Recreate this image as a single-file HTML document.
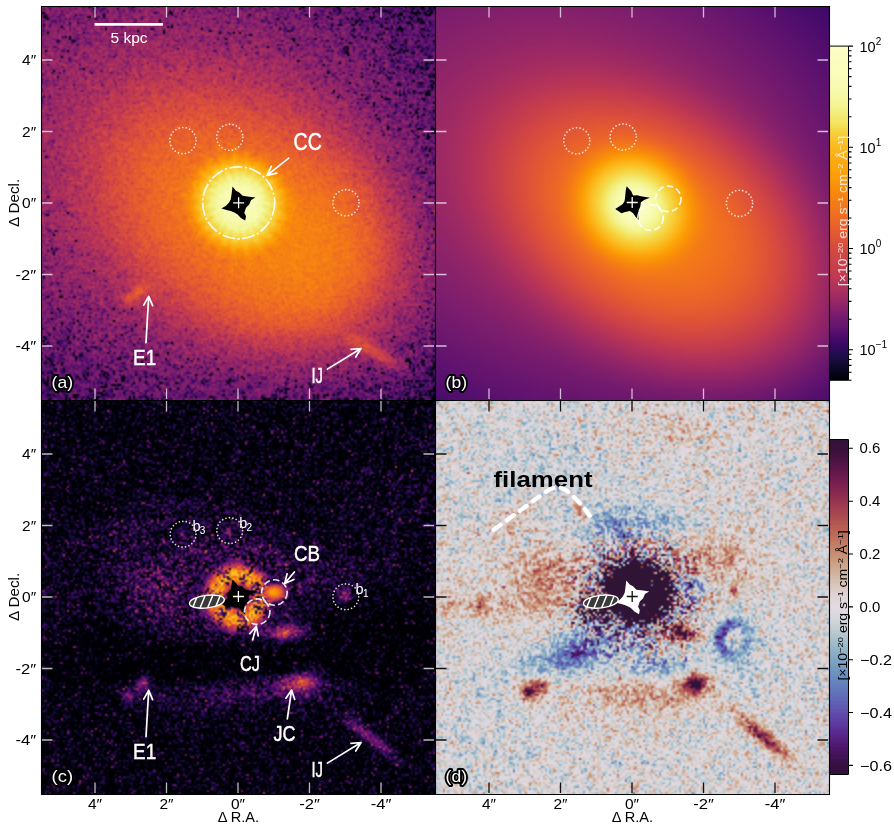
<!DOCTYPE html>
<html><head><meta charset="utf-8"><style>
html,body{margin:0;padding:0;background:#fff;}
body{width:894px;height:825px;overflow:hidden;position:relative;font-family:"Liberation Sans",sans-serif;}
canvas{position:absolute;display:block;}
svg{position:absolute;left:0;top:0;font-family:"Liberation Sans",sans-serif;}
</style></head><body>
<canvas id="ca" width="197" height="197" style="left:41px;top:6px;width:394px;height:394px;background:radial-gradient(ellipse at 50% 50%,#fcfea4 0,#f5d745 6%,#f37719 20%,#bb3754 45%,#6a176e 75%)"></canvas>
<canvas id="cb" width="132" height="132" style="left:435px;top:6px;width:394px;height:394px;background:radial-gradient(ellipse at 50% 50%,#fcfea4 0,#f5d745 6%,#f37719 20%,#bb3754 45%,#6a176e 75%)"></canvas>
<canvas id="cc" width="197" height="197" style="left:41px;top:400px;width:394px;height:394px;background:radial-gradient(circle at 50% 50%,#000 0,#000 3%,#e06a20 5%,#c04050 9%,#3a0a50 18%,#0a0520 35%)"></canvas>
<canvas id="cd" width="197" height="197" style="left:435px;top:400px;width:394px;height:394px;background:radial-gradient(circle at 51% 50%,#2f1337 0,#2f1337 9%,#7080b0 14%,#c8c4d4 22%,#dcd6dc 30%)"></canvas>
<canvas id="cbb" width="1" height="334" style="left:830px;top:46px;width:18px;height:334px;background:linear-gradient(#fcfea4,#f37719 40%,#6a176e 80%,#000)"></canvas>
<canvas id="cbd" width="1" height="335" style="left:830px;top:439px;width:18px;height:335px;background:linear-gradient(#2f1436,#bf735d 25%,#e1d8e1 50%,#6d91bf 70%,#2f1337)"></canvas>
<svg width="894" height="825" viewBox="0 0 894 825"><path d="M41.5,6V795M435.5,6V795M829.5,6V795M41,6.5H830M41,400.5H830M41,794.5H830" stroke="#000" stroke-width="1.1" fill="none"/><path d="M95,7v10.5M95,399v-10.5M42,60h10.5M434,60h-10.5M166.5,7v10.5M166.5,399v-10.5M42,131.5h10.5M434,131.5h-10.5M238,7v10.5M238,399v-10.5M42,203h10.5M434,203h-10.5M309.5,7v10.5M309.5,399v-10.5M42,274.5h10.5M434,274.5h-10.5M381,7v10.5M381,399v-10.5M42,346h10.5M434,346h-10.5" stroke="#f0e4f0" stroke-opacity="0.8" stroke-width="1.3" fill="none"/><path d="M489,7v10.5M489,399v-10.5M436,60h10.5M828,60h-10.5M560.5,7v10.5M560.5,399v-10.5M436,131.5h10.5M828,131.5h-10.5M632,7v10.5M632,399v-10.5M436,203h10.5M828,203h-10.5M703.5,7v10.5M703.5,399v-10.5M436,274.5h10.5M828,274.5h-10.5M775,7v10.5M775,399v-10.5M436,346h10.5M828,346h-10.5" stroke="#f0e4f0" stroke-opacity="0.8" stroke-width="1.3" fill="none"/><path d="M95,401v10.5M95,793v-10.5M42,454h10.5M434,454h-10.5M166.5,401v10.5M166.5,793v-10.5M42,525.5h10.5M434,525.5h-10.5M238,401v10.5M238,793v-10.5M42,597h10.5M434,597h-10.5M309.5,401v10.5M309.5,793v-10.5M42,668.5h10.5M434,668.5h-10.5M381,401v10.5M381,793v-10.5M42,740h10.5M434,740h-10.5" stroke="#e8e8e8" stroke-opacity="0.8" stroke-width="1.3" fill="none"/><path d="M489,401v10.5M489,793v-10.5M436,454h10.5M828,454h-10.5M560.5,401v10.5M560.5,793v-10.5M436,525.5h10.5M828,525.5h-10.5M632,401v10.5M632,793v-10.5M436,597h10.5M828,597h-10.5M703.5,401v10.5M703.5,793v-10.5M436,668.5h10.5M828,668.5h-10.5M775,401v10.5M775,793v-10.5M436,740h10.5M828,740h-10.5" stroke="#111" stroke-opacity="1" stroke-width="1.3" fill="none"/><polygon points="232.5,186.5 235.9,190.7 239.2,192.4 242.6,195.8 249.4,196.7 255.4,197.5 251.1,200.1 249.4,204.3 246.0,207.7 244.3,212.8 246.0,216.2 245.2,220.4 240.9,217.9 237.6,214.5 235.0,212.8 230.8,211.1 227.4,210.2 221.4,208.5 225.7,206.0 229.1,202.6 230.8,199.2 231.6,194.1" fill="#000"/><path d="M233.1,202.8h11M238.6,197.3v11" stroke="#fff" stroke-width="1.3"/><polygon points="626.7,186.2 631.2,191.3 633.1,195.6 637.3,195.3 640.9,196.2 650.0,197.7 644.6,199.8 640.9,202.2 640.3,206.5 638.5,210.7 638.8,219.8 635.5,216.8 633.1,213.2 630.0,211.0 625.2,211.9 621.5,213.2 615.2,208.9 619.1,206.5 622.8,204.1 624.6,201.0 625.2,196.2 625.8,190.1" fill="#000"/><path d="M626.7,202.5h11M632.2,197.0v11" stroke="#fff" stroke-width="1.3"/><polygon points="232.6,579.4 237.3,584.7 239.3,589.3 243.8,588.9 247.5,589.9 257.1,591.5 251.4,593.7 247.5,596.2 246.9,600.7 245.0,605.1 245.3,614.7 241.9,611.5 239.3,607.7 236.1,605.4 231.1,606.4 227.2,607.7 220.6,603.2 224.6,600.7 228.5,598.2 230.4,594.9 231.1,589.9 231.7,583.5" fill="#000"/><path d="M232.9,596.5h11M238.4,591.0v11" stroke="#fff" stroke-width="1.3"/><polygon points="626.3,580.4 629.7,584.6 633.0,586.3 636.4,589.7 643.2,590.6 649.2,591.4 644.9,594.0 643.2,598.2 639.8,601.6 638.1,606.7 639.8,610.1 639.0,614.3 634.7,611.8 631.4,608.4 628.8,606.7 624.6,605.0 621.2,604.1 615.2,602.4 619.5,599.9 622.9,596.5 624.6,593.1 625.4,588.0" fill="#fff"/><path d="M626.7,596.5h11M632.2,591.0v11" stroke="#111" stroke-width="1.3"/><path d="M94.5,24.4H162.9" stroke="#fff" stroke-width="2.7"/><text x="110.6" y="42.7" font-size="14.5" fill="#fff" textLength="37.0" lengthAdjust="spacingAndGlyphs" >5 kpc</text><circle cx="238.7" cy="202.8" r="36" fill="none" stroke="#fff" stroke-opacity="0.9" stroke-width="1.7" stroke-dasharray="13 2.5 2 2.5" stroke-linecap="butt"/><circle cx="183" cy="140.6" r="13.1" fill="none" stroke="#fff" stroke-opacity="0.85" stroke-width="1.7" stroke-dasharray="0.01 3.579" stroke-linecap="round"/><circle cx="229.8" cy="137.3" r="13.1" fill="none" stroke="#fff" stroke-opacity="0.85" stroke-width="1.7" stroke-dasharray="0.01 3.579" stroke-linecap="round"/><circle cx="346" cy="202.8" r="13.1" fill="none" stroke="#fff" stroke-opacity="0.85" stroke-width="1.7" stroke-dasharray="0.01 3.579" stroke-linecap="round"/><text x="293.5" y="150" font-size="23" fill="#fff" textLength="28.3" lengthAdjust="spacingAndGlyphs"  stroke="#fff" stroke-width="0.45">CC</text><path d="M288.7,158.1L267,175.3M271.3,166.3L267,175.3L276.8,173.2" stroke="#fff" stroke-width="1.7" fill="none" stroke-linecap="round" stroke-linejoin="round"/><text x="133.1" y="364.5" font-size="21.5" fill="#fff" textLength="23.1" lengthAdjust="spacingAndGlyphs"  stroke="#fff" stroke-width="0.45">E1</text><path d="M146,342.7L148.7,296.4M152.6,305.6L148.7,296.4L143.7,305.1" stroke="#fff" stroke-width="1.7" fill="none" stroke-linecap="round" stroke-linejoin="round"/><text x="311.5" y="382.6" font-size="21.5" fill="#fff" textLength="11.5" lengthAdjust="spacingAndGlyphs"  stroke="#fff" stroke-width="0.45">IJ</text><path d="M327.4,369.1L361,348.5M355.7,357.0L361,348.5L351.0,349.4" stroke="#fff" stroke-width="1.7" fill="none" stroke-linecap="round" stroke-linejoin="round"/><text x="51.6" y="388" font-size="17" fill="#fff" textLength="21.4" lengthAdjust="spacingAndGlyphs" stroke="#000" stroke-width="3.8" paint-order="stroke" stroke-linejoin="round">(a)</text><circle cx="576.8" cy="140.8" r="13.1" fill="none" stroke="#fff" stroke-opacity="0.85" stroke-width="1.7" stroke-dasharray="0.01 3.579" stroke-linecap="round"/><circle cx="623.2" cy="137" r="13.1" fill="none" stroke="#fff" stroke-opacity="0.85" stroke-width="1.7" stroke-dasharray="0.01 3.579" stroke-linecap="round"/><circle cx="739.5" cy="203.4" r="13.1" fill="none" stroke="#fff" stroke-opacity="0.85" stroke-width="1.7" stroke-dasharray="0.01 3.579" stroke-linecap="round"/><circle cx="668.3" cy="198.8" r="12.75" fill="none" stroke="#fff" stroke-opacity="0.85" stroke-width="1.7" stroke-dasharray="6.5 3.2" stroke-linecap="butt"/><circle cx="650.6" cy="217.6" r="12.75" fill="none" stroke="#fff" stroke-opacity="0.85" stroke-width="1.7" stroke-dasharray="6.5 3.2" stroke-linecap="butt"/><text x="445.6" y="388" font-size="17" fill="#fff" textLength="21.4" lengthAdjust="spacingAndGlyphs" stroke="#000" stroke-width="3.8" paint-order="stroke" stroke-linejoin="round">(b)</text><circle cx="183.1" cy="534.2" r="12.9" fill="none" stroke="#fff" stroke-opacity="0.85" stroke-width="1.7" stroke-dasharray="0.01 3.524" stroke-linecap="round"/><circle cx="229.7" cy="530.6" r="12.9" fill="none" stroke="#fff" stroke-opacity="0.85" stroke-width="1.7" stroke-dasharray="0.01 3.524" stroke-linecap="round"/><circle cx="345.8" cy="596.8" r="12.9" fill="none" stroke="#fff" stroke-opacity="0.85" stroke-width="1.7" stroke-dasharray="0.01 3.524" stroke-linecap="round"/><text x="192.4" y="530.6" font-size="14.5" fill="#fff">b</text><text x="199.70000000000002" y="533.7" font-size="10" fill="#fff">3</text><text x="239.2" y="527.6" font-size="14.5" fill="#fff">b</text><text x="246.5" y="530.7" font-size="10" fill="#fff">2</text><text x="355.6" y="593.5" font-size="14.5" fill="#fff">b</text><text x="362.90000000000003" y="596.6" font-size="10" fill="#fff">1</text><circle cx="274.4" cy="592.5" r="12.75" fill="none" stroke="#fff" stroke-opacity="0.85" stroke-width="1.7" stroke-dasharray="6.5 3.2" stroke-linecap="butt"/><circle cx="257.2" cy="611.7" r="12.75" fill="none" stroke="#fff" stroke-opacity="0.85" stroke-width="1.7" stroke-dasharray="6.5 3.2" stroke-linecap="butt"/><g transform="translate(206.9,601.6) rotate(-7)"><clipPath id="hc206"><ellipse rx="17.5" ry="6.3"/></clipPath><ellipse rx="17.5" ry="6.3" fill="#3a3a3a"/><path clip-path="url(#hc206)" d="M-17,8L-8,-8M-9,8L0,-8M-1,8L8,-8M7,8L16,-8M15,8L24,-8" stroke="#fff" stroke-width="1.5"/><ellipse rx="17.5" ry="6.3" fill="none" stroke="#fff" stroke-width="1.4"/></g><text x="294" y="561.2" font-size="21.5" fill="#fff" textLength="26.0" lengthAdjust="spacingAndGlyphs"  stroke="#fff" stroke-width="0.45">CB</text><path d="M294.4,572L284.7,583.5M287.1,573.8L284.7,583.5L293.9,579.5" stroke="#fff" stroke-width="1.7" fill="none" stroke-linecap="round" stroke-linejoin="round"/><text x="240" y="671" font-size="21.5" fill="#fff" textLength="20.0" lengthAdjust="spacingAndGlyphs"  stroke="#fff" stroke-width="0.45">CJ</text><path d="M252.7,639.8L256.3,626.2M258.3,636.0L256.3,626.2L249.7,633.7" stroke="#fff" stroke-width="1.7" fill="none" stroke-linecap="round" stroke-linejoin="round"/><text x="133.1" y="758.5" font-size="21.5" fill="#fff" textLength="23.1" lengthAdjust="spacingAndGlyphs"  stroke="#fff" stroke-width="0.45">E1</text><path d="M146,736.7L148.7,690.4M152.6,699.6L148.7,690.4L143.7,699.1" stroke="#fff" stroke-width="1.7" fill="none" stroke-linecap="round" stroke-linejoin="round"/><text x="273.5" y="740.7" font-size="21.5" fill="#fff" textLength="22.0" lengthAdjust="spacingAndGlyphs"  stroke="#fff" stroke-width="0.45">JC</text><path d="M287.3,718.9L291.6,690M294.7,699.5L291.6,690L285.9,698.2" stroke="#fff" stroke-width="1.7" fill="none" stroke-linecap="round" stroke-linejoin="round"/><text x="311.5" y="776.6" font-size="21.5" fill="#fff" textLength="11.5" lengthAdjust="spacingAndGlyphs"  stroke="#fff" stroke-width="0.45">IJ</text><path d="M327.4,763.1L361,742.5M355.7,751.0L361,742.5L351.0,743.4" stroke="#fff" stroke-width="1.7" fill="none" stroke-linecap="round" stroke-linejoin="round"/><text x="51.6" y="782" font-size="17" fill="#fff" textLength="21.4" lengthAdjust="spacingAndGlyphs" stroke="#000" stroke-width="3.8" paint-order="stroke" stroke-linejoin="round">(c)</text><g transform="translate(600.9,601.6) rotate(-7)"><clipPath id="hc600"><ellipse rx="17.5" ry="6.3"/></clipPath><ellipse rx="17.5" ry="6.3" fill="#3a3a3a"/><path clip-path="url(#hc600)" d="M-17,8L-8,-8M-9,8L0,-8M-1,8L8,-8M7,8L16,-8M15,8L24,-8" stroke="#fff" stroke-width="1.5"/><ellipse rx="17.5" ry="6.3" fill="none" stroke="#fff" stroke-width="1.4"/></g><text x="493.5" y="487.1" font-size="22.5" fill="#000" textLength="99.0" lengthAdjust="spacingAndGlyphs" font-weight="bold">filament</text><path d="M493.7,529.8 C520,511 538,497 548,490.5 C555,486 562,486.5 568,491.5 C578,500 586,510 593,520.4" stroke="#fff" stroke-width="4.3" fill="none" stroke-dasharray="8.5 7.6" stroke-linecap="round"/><text x="445.6" y="782" font-size="17" fill="#fff" textLength="21.4" lengthAdjust="spacingAndGlyphs" stroke="#000" stroke-width="3.8" paint-order="stroke" stroke-linejoin="round">(d)</text><text x="22.1" y="65" font-size="13.8" fill="#000" textLength="14.1" lengthAdjust="spacingAndGlyphs" >4″</text><text x="22.1" y="459" font-size="13.8" fill="#000" textLength="14.1" lengthAdjust="spacingAndGlyphs" >4″</text><text x="22.1" y="136.5" font-size="13.8" fill="#000" textLength="14.1" lengthAdjust="spacingAndGlyphs" >2″</text><text x="22.1" y="530.5" font-size="13.8" fill="#000" textLength="14.1" lengthAdjust="spacingAndGlyphs" >2″</text><text x="22.1" y="208" font-size="13.8" fill="#000" textLength="14.1" lengthAdjust="spacingAndGlyphs" >0″</text><text x="22.1" y="602" font-size="13.8" fill="#000" textLength="14.1" lengthAdjust="spacingAndGlyphs" >0″</text><text x="15.600000000000001" y="279.5" font-size="13.8" fill="#000" textLength="20.6" lengthAdjust="spacingAndGlyphs" >-2″</text><text x="15.600000000000001" y="673.5" font-size="13.8" fill="#000" textLength="20.6" lengthAdjust="spacingAndGlyphs" >-2″</text><text x="15.600000000000001" y="351" font-size="13.8" fill="#000" textLength="20.6" lengthAdjust="spacingAndGlyphs" >-4″</text><text x="15.600000000000001" y="745" font-size="13.8" fill="#000" textLength="20.6" lengthAdjust="spacingAndGlyphs" >-4″</text><text x="87.95" y="809.3" font-size="13.8" fill="#000" textLength="14.1" lengthAdjust="spacingAndGlyphs" >4″</text><text x="481.95" y="809.3" font-size="13.8" fill="#000" textLength="14.1" lengthAdjust="spacingAndGlyphs" >4″</text><text x="159.45" y="809.3" font-size="13.8" fill="#000" textLength="14.1" lengthAdjust="spacingAndGlyphs" >2″</text><text x="553.45" y="809.3" font-size="13.8" fill="#000" textLength="14.1" lengthAdjust="spacingAndGlyphs" >2″</text><text x="230.95" y="809.3" font-size="13.8" fill="#000" textLength="14.1" lengthAdjust="spacingAndGlyphs" >0″</text><text x="624.95" y="809.3" font-size="13.8" fill="#000" textLength="14.1" lengthAdjust="spacingAndGlyphs" >0″</text><text x="299.2" y="809.3" font-size="13.8" fill="#000" textLength="20.6" lengthAdjust="spacingAndGlyphs" >-2″</text><text x="693.2" y="809.3" font-size="13.8" fill="#000" textLength="20.6" lengthAdjust="spacingAndGlyphs" >-2″</text><text x="370.7" y="809.3" font-size="13.8" fill="#000" textLength="20.6" lengthAdjust="spacingAndGlyphs" >-4″</text><text x="764.7" y="809.3" font-size="13.8" fill="#000" textLength="20.6" lengthAdjust="spacingAndGlyphs" >-4″</text><text x="0" y="0" font-size="14" fill="#000" textLength="48.2" lengthAdjust="spacingAndGlyphs" transform="translate(19.3,227) rotate(-90)">Δ Decl.</text><text x="0" y="0" font-size="14" fill="#000" textLength="48.2" lengthAdjust="spacingAndGlyphs" transform="translate(19.3,621) rotate(-90)">Δ Decl.</text><text x="217.7" y="821.5" font-size="13.8" fill="#000" textLength="41.3" lengthAdjust="spacingAndGlyphs" >Δ R.A.</text><text x="611.7" y="821.5" font-size="13.8" fill="#000" textLength="41.3" lengthAdjust="spacingAndGlyphs" >Δ R.A.</text><path d="M829.5,46.1H848.5V380.3H829.5" stroke="#000" stroke-width="1" fill="none"/><path d="M848.5,380.2h3M848.5,372.2h3M848.5,365.4h3M848.5,359.5h3M848.5,354.3h3M848.5,349.7h4.5M848.5,319.2h3M848.5,301.4h3M848.5,288.8h3M848.5,279.0h3M848.5,271.0h3M848.5,264.2h3M848.5,258.3h3M848.5,253.1h3M848.5,248.5h4.5M848.5,218.0h3M848.5,200.2h3M848.5,187.6h3M848.5,177.8h3M848.5,169.8h3M848.5,163.0h3M848.5,157.1h3M848.5,151.9h3M848.5,147.3h4.5M848.5,116.8h3M848.5,99.0h3M848.5,86.4h3M848.5,76.6h3M848.5,68.6h3M848.5,61.8h3M848.5,55.9h3M848.5,50.7h3M848.5,46.1h4.5" stroke="#000" stroke-width="1.1"/><text x="859.5" y="51.7" font-size="14.5" fill="#000">10<tspan font-size="10" dy="-7">2</tspan></text><text x="859.5" y="152.9" font-size="14.5" fill="#000">10<tspan font-size="10" dy="-7">1</tspan></text><text x="859.5" y="254.1" font-size="14.5" fill="#000">10<tspan font-size="10" dy="-7">0</tspan></text><text x="859.5" y="355.3" font-size="14.5" fill="#000">10<tspan font-size="10" dy="-7">−1</tspan></text><text x="0" y="0" font-size="12" fill="#fff" text-anchor="middle" fill-opacity="0.8" transform="translate(846.6,211) rotate(-90) scale(1.17,1)">[×10<tspan font-size="8" dy="-4">−20</tspan><tspan dy="4"> erg s</tspan><tspan font-size="8" dy="-4">−1</tspan><tspan dy="4"> cm</tspan><tspan font-size="8" dy="-4">−2</tspan><tspan dy="4"> Å</tspan><tspan font-size="8" dy="-4">−1</tspan><tspan dy="4">]</tspan></text><path d="M829.5,439.5H848.5V774.5H829.5" stroke="#000" stroke-width="1" fill="none"/><text x="859.6" y="453.40000000000003" font-size="14" fill="#000" textLength="20.8" lengthAdjust="spacingAndGlyphs" >0.6</text><text x="859.6" y="506.25000000000006" font-size="14" fill="#000" textLength="20.8" lengthAdjust="spacingAndGlyphs" >0.4</text><text x="859.6" y="559.1" font-size="14" fill="#000" textLength="20.8" lengthAdjust="spacingAndGlyphs" >0.2</text><text x="859.6" y="611.95" font-size="14" fill="#000" textLength="20.8" lengthAdjust="spacingAndGlyphs" >0.0</text><text x="860" y="664.8000000000001" font-size="14" fill="#000" textLength="32.0" lengthAdjust="spacingAndGlyphs" >−0.2</text><text x="860" y="717.65" font-size="14" fill="#000" textLength="32.0" lengthAdjust="spacingAndGlyphs" >−0.4</text><text x="860" y="770.5000000000001" font-size="14" fill="#000" textLength="32.0" lengthAdjust="spacingAndGlyphs" >−0.6</text><path d="M848.5,448.3h4.5M848.5,501.2h4.5M848.5,554.0h4.5M848.5,606.9h4.5M848.5,659.7h4.5M848.5,712.5h4.5M848.5,765.4h4.5" stroke="#000" stroke-width="1.1"/><text x="0" y="0" font-size="12" fill="#000" text-anchor="middle" transform="translate(846.6,605.4) rotate(-90) scale(1.17,1)">[×10<tspan font-size="8" dy="-4">−20</tspan><tspan dy="4"> erg s</tspan><tspan font-size="8" dy="-4">−1</tspan><tspan dy="4"> cm</tspan><tspan font-size="8" dy="-4">−2</tspan><tspan dy="4"> Å</tspan><tspan font-size="8" dy="-4">−1</tspan><tspan dy="4">]</tspan></text></svg>
<script>
(function(){
function L(s){var a=new Uint8Array(768);for(var i=0;i<768;i++)a[i]=parseInt(s.substr(i*2,2),16);return a;}
var INF=L("00000401000501010601010802010a02020c02020e03021004031204031405041706041907051b08051d09061f0a07220b07240c08260d08290e092b10092d110a30120a32140b34150b37160b39180c3c190c3e1b0c411c0c431e0c451f0c48210c4a230c4c240c4f260c51280b53290b552b0b572d0b592f0a5b310a5c320a5e340a5f3609613809623909633b09643d09653e0966400a67420a68440a68450a69470b6a490b6a4a0c6b4c0c6b4d0d6c4f0d6c510e6c520e6d540f6d550f6d57106e59106e5a116e5c126e5d126e5f136e61136e62146e64156e65156e67166e69166e6a176e6c186e6d186e6f196e71196e721a6e741a6e751b6e771c6d781c6d7a1d6d7c1d6d7d1e6d7f1e6c801f6c82206c84206b85216b87216b88226a8a226a8c23698d23698f24699025689225689326679526679727669827669a28659b29649d29649f2a63a02a63a22b62a32c61a52c60a62d60a82e5fa92e5eab2f5ead305dae305cb0315bb1325ab3325ab43359b63458b73557b93556ba3655bc3754bd3853bf3952c03a51c13a50c33b4fc43c4ec63d4dc73e4cc83f4bca404acb4149cc4248ce4347cf4446d04545d24644d34743d44842d54a41d74b3fd84c3ed94d3dda4e3cdb503bdd513ade5238df5337e05536e15635e25734e35933e45a31e55c30e65d2fe75e2ee8602de9612bea632aeb6429eb6628ec6726ed6925ee6a24ef6c23ef6e21f06f20f1711ff1731df2741cf3761bf37819f47918f57b17f57d15f67e14f68013f78212f78410f8850ff8870ef8890cf98b0bf98c0af98e09fa9008fa9207fa9407fb9606fb9706fb9906fb9b06fb9d07fc9f07fca108fca309fca50afca60cfca80dfcaa0ffcac11fcae12fcb014fcb216fcb418fbb61afbb81dfbba1ffbbc21fbbe23fac026fac228fac42afac62df9c72ff9c932f9cb35f8cd37f8cf3af7d13df7d340f6d543f6d746f5d94af5db4ef4de52f4e058f4e25df4e563f4e768f3e86ef3ea74f4ed7af3ef7ff3f085f3f28bf4f491f5f596f5f79cf6f7a2f6f8a7f7faacf8fbb1f9fbb5fafcbafbfcbefcfdc2fdfec5"),TWI=L("30143731133932123a33113c34113e3511403611423711443911463a11493c114b3d114e3f125141125442125744135a46145e4714614915644b16684c176b4e186f4f1972511a75521c79531e7c551f7f56218257238557258858278b59298e5a2b905a2e935b30955b32985c359a5c379c5d3a9e5d3ca05d3ea15d41a35e43a55e46a65e48a85e4ba95e4dab5e4fac5e52ad5e54ae5f57b05f59b15f5bb25f5eb35f60b45f62b45f65b56067b66069b7606cb8606eb86170b96172ba6275ba6277bb6379bb637bbc647dbc657fbd6682bd6684bd6786be6888be698abf6b8cbf6c8ebf6d90c06e92c07094c07196c17398c1759ac1769cc1789ec27aa0c27ca2c27ea4c380a5c382a7c385a9c487abc489adc58cafc58eb1c591b2c693b4c696b6c799b8c89cb9c89ebbc9a1bdc9a4becaa7c0cbaac2ccadc3cdb0c5cdb3c6ceb6c8cfb9c9d0bccbd1bfccd3c2ced4c5cfd5c8d0d6cbd2d7cdd3d8d0d4d9d2d5dbd4d6dcd6d7ddd8d8dedad8dfdcd9dfddd9e0ded9e1e0d9e2e1d9e2e2d9e2e2d9e1e2d9e0e1d8dfe1d8dde0d7dbe0d6dadfd5d8dfd4d6ded3d3ddd1d1ddd0cedccecbdbccc8dacbc5d9c9c2d8c7bed8c5bbd7c3b8d6c1b4d5bfb1d4bdadd3baaad2b8a7d1b6a3d1b4a0d0b29ccfaf99cfad96ceab92cda88fcda68ccca389cca186cb9f83ca9c80ca9a7dc9977bc99578c89275c89073c78e71c68b6ec6896cc5866ac58468c48166c37f64c27c63c27a61c1775fc0755ebf725dbe705bbd6e5abc6b59bb6958ba6657b96456b86255b75f55b65d54b55b53b35953b25652b15452af5251ae5051ac4d51ab4b50a94950a84750a64550a54350a34150a13f50a03d509e3b509c39509a3750983550963350943150922f50902e508e2c508c2a508a29508727508526508325508023507e22507b2150792050761f4f741e4f711d4f6f1c4e6c1b4e691a4d67194c64194b61184b5f174a5c17495916485716475415465215454f14444d14434a134248134146124043123e41123d3f123d3d113c3b113b3a113a3811393611393511383412383312373113373014372f1436");
function dec(b){var s=atob(b),a=new Uint8Array(s.length);for(var i=0;i<s.length;i++)a[i]=s.charCodeAt(i);return a;}
function draw(id,b64,lut,n){var c=document.getElementById(id),x=c.getContext('2d'),d=dec(b64),im=x.createImageData(n,n),p=im.data;
for(var i=0;i<n*n;i++){var k=d[i]*3;p[i*4]=lut[k];p[i*4+1]=lut[k+1];p[i*4+2]=lut[k+2];p[i*4+3]=255;}x.putImageData(im,0,0);}
draw('ca',"WWZmTkxMX1hfJWhZYFZQYGNUV2JHK11IAENJOCdZZFRLYWZYZGhVTGBgaEFJQiFcYlNtaGZkaERjZDVfWWZXXF9PYlxiU2plWWVsbjhmY1lJaEJjaTNRNl1ucCVNY2xfS1pZUkZcW1VONFJkUi9lXmxYSDFlcEpCWD9KS1VfU19LTQAAWENYWWFbW0o6NTklOUZLOgA8TVlQNjZgU2BhNkxOTElGQQA1JjwzSU5FQz0tNSxAOkUARxsPKiE6HQAHSjYAKgBqOV1dNVpkXl1iXFxYYEhhU0VgbWVQYVNVVQBVQkcwLkZlbmBnWiBaYVViYkgzUlhaZ29bZ2pnZ1pncWhXZmtiVGtIZF1Ial9JZFUuTF5lYFxiWmhgX19FT2phU11SX05aNmZRK1FQWUJddkRXTlgaPFtXZk5bb0c/UFBeU0RVbmEAQzNWTWVfXFJOUVxSRltPSDA1KABUU0hWTksAP1JcXlgXAElETjs9AEEyQ0U7QD1LRC4sUjhKQBweNzlAABI3SQAyGFtHXWtcXl1MX1dHV1ZhWVZpaGpkW1NYZl08UTdaPDpYVzVocEhtUlFYQGtkTlM4V2Y4V2BsbVlVX1Zba3FkX2IcWE50Z19XAGVuUmRjQmdtYVxjQFpnSGVQJ1VHXkllTV1MVmhbUEBlYlZdP0RGW1pHXmFaYFJWWFJcPWJETS5eZF5ZGjxEQF9VTVU2MzZUVFNYGTdGAD5XWVhIRVM9S1hCN0BJS0ZHABw8IgAAFjAZRFVATj4WLRxDAEk/AEJNGkAAKgA7AQBab1RhWVJjaUBeX0VsblJrXllqXmBubGU4M2ZNWEFVSG1RWV5pQFpZZGNWYFhjXlVdZnVcY2wsJkRfdWhrVwAAZmJIaT9obldLZk5kTmZfVU9bM1ZWZElsWEhqbVlJV0tWbWFcXlpjY1NccV1bblhEYEVMWVBGR0tgR0tnTGRkTyxTV1tSYV81Xk88RWRbDElFQzcQUjNCOzhTTy4lPlJHSD9ARABVKzJURDspAD9OLE4PGUQ7RCUAAAAAADwTAFIRAEljLBpGY1NJWGU+TUFwcGhcXiJbPT5OVmJjYkxiW2dLAFNyZlxoZ2NSXmFTTF9paGdodmRrdGJkbG9jYl9Qa1w2UylLWlBpQ2Job2liXGFoV2RdYF5xV2NhZGRiZkZaQlxESlxsZGFpRAZQVWlxSnFtY15wWE1XN1hSWFo9YUhcLFZCT0IALVJZJAA1Rz09W1lUOExGJ1ZOQVpWV1pTGzlTNkVNWlZSO1JLQFZKM1A6RAA2GAAAVjtASTU7ADQtQDoAAABBQl4AAD5ST1xVQEJZWVxyWVpHUWFgWF9dFABxZlgrRmYAU2liZ2F0UD9ibl9oV0tucXFcQ0tgaGVIY2FhXl1oYF9VYlsqY15nX2FlYFY/cEZZZmVmaG5ldlBgWFVjbFNNZWRvaGBXYFg5VVhUVm1jZlJBU15RU2FVQk1IUzhSXVU6RlBbXUwyYVdTTTFGUVxMAEJPXlpnYV5WJlNUPlFMO0FAST9OAC4AOUxBQEVTI0kAJ0AdO0gSNzAAKiZLHk8wVEE+RkpQbE0sAE5gXVlRSlRcNGI8WE5TREVVTXJUSlRHAFJfQFdFXGRmYlZmVmNpXEplS05MalwlaHZ0WV9nbGFJaWdKWWNiZ2doXkpocHViYG9wY2dXZlRbXlcvTWBeV2RnZ09eWlA4Vk5xXFVXbU1XT1hYYzRWalJSQABRY0wXVlhiYVJWImBYYF5PSzcASFA4WVBPPQlYV05CREg4AFEFPT5FAFRRUlYfAENWVDc/QgAhMlUyVTwAWCJIVCUASDwAASVJNERRT1BnNmZcVj8tPVY8S05iWVZpWmJEXV1cV0xWVmhmS2NYYlNDa2RHLFVKW2lvXm9tVTdranZybnJTYmBzZwBsWGZZZWlkVm9pYGhddGdmZlNPY2RwZVBmamphSmtWZEJkUWxxakFHS2ZiXmBlZW1dWyA3SD1cZFJLTFdOW1tbX1hcaVZdVk1NQ1FDSV1PX1NcQ1NqWlxVWiQzUFQ+Qz1CBAI8ACQyJkYtQCMsSUc4QUJDWDVJQzEYRkE7NTcdOAAoACdENChAMlRNamRdQF0+XEdrOmhjJlptaS5PRkdRbmBYWWdlUmpMWGVxXmJrZWtqZWprY282TW9mWWdtX2lhYGJsSFtmSj9mYF9iVXlUVkBdb2RoWXFkTGleZmRkYE9Aal1iVR5FbVVXNlFUWFpQUlxfXG1fWVJkQClIXj5lVjNRakY5XGZkUFhZY2pSYU5VOD1XQVxFTU5DT15sJkpGOE41Q1QAR0oiS0o8VR1MOyA5OEwHNzlWIUsAQDhEIgAASz4nRBwDAEtTDzlHbQBcYDRdXmFTXE9gXlU3bGxnTldtZkxeXlhPbWhaPFJdaV9rYE4AQTtbZnBhVXVmYFtHZ2hyb21uXltfSl9eZV8nYW87WF5LVl9LZWVKY21eaGdfbGZSZWppVWdtYm1vYmRZaV5UWl1hYUhPYmNgdGpaYWhgKltbbDBoV2BTWmVaY1NOVEpUYjQVTWZgYmBETAA/VyQAJFBeaV0OAEpYDTY9R0NSVUpTXScUTltKUz5QOEpGSlZPL0kATmBLRUFHNEgwLjxaMW9fOGhfYmRLAFhja1BeY11dY1RuUWBbVmdvcmlZakVkaGlORm9ZNk1jcWZvamttYGdeW2tZYlhiX3BmZnIARgBha2tlXHNoX1FoXl1mZlVuVE1lZWNgZFhAZ1VfamZ4S1RmblxGaVVcZ1JXY1xgTllDPG5iZUVaTzleT04wY2FbSE1iUFpZOmEWU08sVVdONVVdUWFcWl9FRFFQX1xMSUM9OlU+Pkg/OgBIPkRIAF9HQABISDpGVDIoVUc/WUI4QDU+Pk5VYmJjaGJlWFpmOWV6QGxCY3FwUUVEZ15iZWdrY0dtAG1cXlpbYl5Pal1xYVxobVRgclZXZE4KOWdsbWlPbW5abGFpaU9yXmJcaGtmc2lcAF1dUlNpcXZwWGFPaWZcYGBZb3xtbGFfc15lX2dgZEZZa0pRa2ZmBlk4MV1kLDlOVENuYFFPbm5PW2A7R2BGSSw5WEAlR2RURU5TSgBOTFUoVjkAWT1NRVZXVU8AAEAgTEEAAAAfOEtTHTFVTjwAADgqUz4/P0FNTFlhYWhCX2JtXWRSZGFVWmNkRmZdc3BbWXdrZl9fa2hYb2RVbmFsXGZIZUpjA19uanBXc3NPVlxlZQBpYldwYnJsYnJtX0NdbWZ2amdoW2FWBUBrYmA9WGplW29iWmxIZVFTV2FkZGVvcmhoVk1lXmRAc0lbZzhGDywaV1xTZmtZUVNUZlhPVFhMV1RjXyxMWUhYWFtNU1IZIzVfUVBNODJURFxMSkFGRVtgJUROJiYrAEY/P0JEW0hNLTsvNBgiQkleTlsAZV1jalhpW2VaZG1YVFlkeFgmUj5YYVBRQWFbcG1YXGNqR2F1Y2ZjVWxoZm1oRGpcaFhccWRfYGZkBVZjbnReeGptYGJzZGd0d1NmaXh7amxucWZuWQBKaGspOl0AaWwAaWJvZ1xjbmdiSmZkcWFdWGVeVW5xVUlnUnNeZEVcaV9UcmNYUFJmTlVNZFdhWktbXz5ec1JYM1BDWU0yXUs3STlQTERQJVEAXE8/Nk8/PlQ1PkpSQUVFTlUpNz1KUT1CT0NQV1tiW3FaXm5oYGNrYmdVXj9UUWteZFVgX1dpSGx7X2JLYUhpXkVLSWRuYFBaZS5qazFvS2NxSjlSWWVeXl9mXWpoXHhXbWFrbXF2X35tXFd7d2lxdGhfY25kVWk/Wm5oaGVvYDtiACdyblxdY2tXT1NfYltnUV5PSWlXTVpMYGVmR1duWWdpQWVgYmlfWV1QVhRkSFpaVFJMFj1bNjJlXl9MUFZVRQguHVpGREtCTDIEWjA0LzVCTCNCMU0MOkcGOjshWWdgWFxjbWlocUA0FmUAXmZETltnSWNpY2VvZGRda2NqZm5bY2pqb2ptd29UTWxjZ2d1cVpnYVNqZW18d3JjWnNkZ2VrfWZjaWpTQ2JjX1dTXmZPXmtlUFxmbUlnX2ZtWFZja1tGU2hsW19gXVFYZWFfSlVUam5ib1pURFtPWV5VQVhWWWBTVmphV0RNXWNtU1ROT0o5WlRfR1JUACZUSwA5KkFdQ2FHNVpTXWBYWAArSEZPO1RbTFBKTkYyQz0APjk/L0NkVGFnZlFPXE50VVBkVwBXTFA6UV9dS1ZUY2BOZ1hlVmZjZGpqZ2VQXy4rYGRzb3FlbHRva2pXV1NqZmNtYnN5b2BSeG1bcUtfZmFYe2drZEZdanBja2ZqJWpeWQBRbnpdWWlnXF9eam50bmtla1h1aW9YamVcVVJwa2FeUBkBTlVAYmBYMFJUORFqX09oZFxZX2RTT1cATkhNTVZNS0xSQ1cCS1IdQVhGLQBKTlJhQ0IuQENPSy04VSxNV0hEU0M5OU5JUldXV2FWZ2JKADVsYGNYYBwANF9oZ19KZ11iYlxcWE1lZW5EcGZhV1ZHbGNwcGJmZXNsbHFreWB1dl5ybnJZbF9nd2dCTVdzXVBzbW5ldmdCUlpocF9lemtgZ1NrbV9xZmhaWEdlYV9PTF1ralxqdGl2am5da1BhWC9JamVqXABYU1BVTUhmXktOYmBYO004GF5SSz1eaVhcMlBSYVA4SEdfWU9RVz8rAFdRT0lbNlcsMRFAPUowAEpXTkFDADRRRSFIPkYAUWFiZV5eZWc4V19jakxlLk5VWVlbW1o7QVtqcX1mV2dsZlFlZFJTbzJoZnZwXnRne3lrcmxjc3B1dnp2aWtuZml8cnlgaGRkZWpoe3FiZHFvY3FTYnY4ZXJmWlkyTGdiaGdpRWBfYVQta3B6b3VsXmlUZV9VbWxlZ29eRVNlXEBnYGxoU1pNRlFgZ0xfVVRhVGVNQVowMVFSSgArWFc7UFRbRV1MX1gyRVBYID9PTSgnRitGUD0AU1dZTgBRRk88ODxTRDFGYV9ia2hfYWFqamNYaWpSZVolYW1ZWmxQUmJtbmFiZ2FYUm1ofm9fZmttb21ocnxpZ3N4dHdranN1e3lQcWNEbmtmWl1oVGpsa25sWlpsdm5mbEhaZ2ZmZ1dhaEFQZXdzeHViYVhzbm1vbWlqcVlRY2xmYGpjN0swW1tlcldeTwBLUV5LQGBXRktUY2g+YllaY0ZbN0dCZWVcV0hkZFtMRk5eO05jXWBVVFxVSzwNVj42TysKMDlKTlJBQzwuRUlXSDBHNm5EUlZkXT41YXFyXWVXTG5rXlxtamBpZl9ebmBYdnVvaGdPaGxpbWBpU2hgVmVrZ3NldnNoeVxwbnRaXV9tbWxqY1VlcHZpdWFyYG1dXGV4aXJvbW9yXGtuZG5hbl5mc3VmY3EdcnZec2xqMl1kYGBfAGBaYlteY3FYcF9PPWZEZGBQUmBeZVpSXkZkWz5ETShmYkVUZlg4ABNgVjRaS0NDR2E5Rl9fQWNaLF4lTRkAT0tFRDs7HEpDOzE2ADEfTycsO0pEY3JdZHhXaGJJWmhDXmleZ1lYWGFsaXdua3loWWVeb3VvY2RtdGNlc25ubV5mdGtob3CAZW59bnBbdXZ1bHBtdm5zXGcqbXZugGVoZGZnVmN9bnRda3JnZGtsdnZZOmZsdHZme2pQcm1tTmRoZHB1dnRkdWpsX0QYYlZiajcuYWFcUztYUmJoVl9fZWxlYWBOU1xmZ21ETgA4DGJcNVZdZFtPTVdVQitYQ0hVTFYyTgUAJEQpDFEhPEY1Rkw+TiMcOxhCOS1oZgBaZmdZTmJnLzlTAFdrUmFXam9xaXJrZHRganxxYGxiZVJpUGxxdH1UVVtmdGhjWWdnaltsc3Bhd3hvXVdvYl92enV7eWF7cnZ9dnxvamhrVWptZzs9cWZ4Zm1UYWp0e3RYaWdjcHhkdHRaeXlueGtzbVxmYFZOUExsMl5XS2VUaV9hXGVoVV1uWWxWTSZDH01hVkY3OQ8oaVk+XGRISikdYm8+AF9cVV5FT1RDTUBKQwA9ABwATjU0VU84AEQ2NEgtOmtoU29vdWJjbmdiXl5UWmhcRmZ2ckBZbWpnZ2hbc11neHRpaGFeaHdodG9vZ3JwbmVHcXVpanBkdnZ5d1hzbXp6eHOFcmd4YIB8fX11Y2h1b3RnZXN1bl5YfmNgZXRkcnJgbVprc2VeZ2duOT1ua2hsZGFobWplWGJKV2Vhb2tkXV9ib2RSUWpOXmBnUl5dY2dYVGM5UzsrEABeYFVgVUE3V1lgREIkW1pXTUhGVztVSCgAKEEZTFVNAABRVztGNypLNExYY3NOamV5ZVlxS2NacWRsZFA4dWtWXm5TemhmdWpfcW51X1dvYDpkcmZ4Z2hUY2pzcnVNbGtibGRzbXRoe3h/c25ybGpycGtsaHJlgHN4YnVye3hceWF7b2B3b19kcVpkfWdwcXd1N2R1ZHtsV3B5Ym1aXmdtbGx6VzZnZkxyV0pmanRIRVlZXU02VGRjUl9fVVJcdFpHT0lfADpfWldaLlMwLlc8SFM3V2ZMWFYlCUMAQ0tMTlhBWE9JPFE3TVMwHCU3RVB1c2RdTmxoXWVdAF9qYVJkbHd0bWROXk5pc3V0a3JnSGxoS2AtY3doeHFkUXVyXGx6aXFTZXVgWl1qWm94gHN/eXN4f4B7cnp2dXaCaXFken1+cXN4c3Z0dHJ1YGlda2V3emBldH11cW1mcXJrYlVbYlVpVGRtcWxyW15vVmBBbWtYQ2Nkb3NjXVpXP0tWMTxmUGVpXWNVSFVUVFZRYVFJXDdNY1VgSkBMQkJEWE5DPGlJWiY0WCcuQjI8S1FHSlVVMgAcUV1ZXW9jXVhYe2RjYXBUK1tremhbZFpbZ2tldGltZ29xcWJwZmt2e2pib3lsgVt9fHppfH19c298dm1nc2R4c2V4f3hnb3toc390bn2Bd2JgcFpyekdwd3B3en6Gd2ViYnZ1dnR/fHlnaFhmblxle2hUVmlya3NtXHJld2NgXmBqYW1pcmZwcGJ3cWZYWF5dRFlRbWducmNuXl5BVmVeTlRGQTBhX1IpSGQoQUZZNUsvQyhNOTxXT2FSSUlkWUFIPE43MkdVbG1iK2BjbXVvSWVjbWM0VWJGY2RyaGBnaXJcQ4B0bn9fYWhxa3VvenNXbV9wcoJyXW9qgn1+cWl1YmRscF9VfXF1e3htc4OBfoNcdnNed3l2WnJ3cHZ6gHmIeXp6c3B8VFeCe3l2c2VqYXl1cHJwYHpya3J4eHNyaXZ1cVVtbm4APmVYZmRsWVRnWkE0eF5XIEVbYWROYWhSVBdBOF1VZ1pdWVQ/ZUsAPzJcXGNmPQAnSAAwUjJBOl5gLDFGT0tPUlRaRDdkeG9qc3R7YGlvcGRQYl1nc29aW251bGxUZWBtamBccGZ4cW53ZHdqdmdhTnB1ZoBxaIB0f0yEeHZ2Z317dmxneH14dHJ+g3dxiGR3d4B0XmZ1dW1tYWNwbnVqgGJ6eoJ+Ynd8fXdtfHBrcWtoc4RxbmhwX3JwbXBocnBvaHJnc2NxaWFUaWdiZmJPSWNkcHJnZGRdTABiZFhbY2NZVGBjbEhYQUdsSkhEWEYeVFxMSTQ0Qyg+K0BRSVhLPiRDI0wAAB8APVVeaTNganFmXXBxe3poc2lccXM5dGV4bW13a3xfY1xxbXd6eHp5cGZldmhjZW90cWd1VHKAd4F3e3dxfH9cZU9qZm90gIJycnxwbmJ9e2pfZ3pwaHN9gYF4eHp8eWxtcHptan1/aXF7b3dfbHh9elRRYnV1eHNmZl1xVmlsdF5pV29gXk9XVVpsT2JoSAxhOU9cYFZNY2FsSVNWX1tWa1ZcVkdZCF4TR05CQF1qXk03MlhWWllZNyokREJAAEJMPgAxNEw8Z11nbF9mZ2pjaUZjcW1ZXGptbmVqcF5VcmRwZFx5altqbG9yY250dW9lVXtibnV4cWxyhYl3emB3fXWFgXpJbn1yXnGFgYF9hUpphoJ7dF5zdnGCgXeBeXpyiGp2f35kaHJqbnFwemF6cnRvgl96aWp6bnh8an15am1gbXN0aV9aWGFrWFRPZ15FbG1dWV1MaG1pYV1jbFJWSz5cZEZjX1tjSGNNWSVbUjw0UGFWRTQoPgBAWEg9N05QVy4NJwE6JRg+UUpbZGZrXU9jV15jbV1oZGBwZG1rQUIAaWxjYmZkbGtheXdsg4R8e2xuW2t5cVqAhoFkem53f4Nzcml4bXeAenh8gINrZH+Ch4OIfHSDdHR8d4F5h3OBd4R3fjJwg3t7gYhtdHR9bl5id3h6XmVweHduZnNpeH9vZYB0cm1tbGxQXmRoaWpBUllmY3RhXkhxYllUX1xqUFJVYmBkXl9aYl9cMUw/JGJkXltiHVkAUE9WVVU6LjBKPAZRHjYtLEoqACYIAE9SAHN0TmliZwBoYGlvJGRocHRxYHFhcGVqbE1hW3V5WD9wamaCbmZudH91ZG6BX3aBfHJteX18gXuDe4B4h4aAc3tPeHxzfYOLfmpce4SFfnVzen2Cf4p9gIODcGZtfn9+gYJzi4x/dHVmdm1zcoNtdW9/elpmdGlyb2Fpc2tucGl2W21ibXBub25pZW1ubGdiF0lcamtfSWBmZU9ER0NkYG5oYklaWi8tRV9CKEpWM2FCWVY5RklBUEgAPws+SEBOQTVYUD49XWNWdnEwTWRZN2xSbnB3YnlbeHVvXXp1Th5gZHZwb2x4altBdGpXaG95UnB7fICHcG+Chn13b4B+cXR0gH2GiIGHh4h7hIyDen+OfnqFemxsfXyIem51coV4h4OKfoFjdHOFfH5yanaCeIN0cnBzbnNqZ397b2pdc2p9V3F5an52dGF0dGx5azhodmBsWmAANFdTPGdgTixjVWJlV1hjVR9dWExZSUtaKhhILVc8EzkAW0tUU0s0Uj0qAFRBOABOQVJAJEc9RWJvcmJkamBebGBmdG1jcmlyZF5Ud3t5cG9rdW1meXp3b21zdGRvan5iZW15cIeAVXl9bXp7d3p+d3lygXqHjIx9gn+DeXR9eYmGgn99hYCAi4J8fIZ6e4WIiHd/eHtmd4R7XYB8d3l3gXVgbYJ/fG14fXV6e3p1cmFqdn5xeGxfbm5cWmdiZ1VsXGZEaWNzOi5jaEBjaGxcNyhuYGVTS1FDTTxNYFNGZmJQGVxdQ10+Q0JPSVpGTUhINERYTSc6IR4iAGdtZl9oXXF6GGhpamNRZ2Vpa2d9X2RZbnxwZF51anZpbHFhe2h2eoZ6f3B1eIBwfo1uY3V7iIKEdn5/dn99f25siYCBkYmEe4SCgIuIhXt8iYN9g4B7gIaCeHmBdn98b1FzfX2DfHt9eIV2cHKBdHF7fnJ7cH1nb21mb3Vpf3NxY2tyXVxbVmtfc1JdZE8kVmNSXzVicmtpWVVmVmJNX1cAU1xcWWJVRF5qUWNJGTE2XU0/TF1JOUw2T1dIOkciWGFCACIAL2JgW29mWGtMY1xrY19tb211X3R7bUd3cHRyd3xyeGBmc4Bvb3twZl58a3x9cnxee3B8fn+DeG5yg3d7hH53ZoZ9cHuAbIGChYJ4c39/i3+EgW+FfHGFin98eXuHgIOAS3+CfWxzgoB9cnyDfIR/fXBvb39+aGB0fXV3dnRwc3Rve15kX3RyYGZgSFpoaFNjbW9kTj1eXVVNUF9jUm1qWVpnR0hJRVlOVldPZE0yDzxSUk9EVFQlTlBCVEk3VVsuRFJKUFQvaERRVmhHZVB4ZGdYY3ZuWmVre3ByeYN2YmZ/dVdpbW96fYBddnZrfGlohX+DhXCGfoOEg3t/gYVsiHuPho2BjYeFhWNtcIKCiYeLf4WAeHKAeH14eZSFdH+AcYh5hHx4k3tsdHWFgHOHeGyCf25udHB6e2hlcH5wd2t0a3NkZn55XHZqd1diYFxWd2ZeP29wYUZlXUdyZ0dKY2pjYVpvWVxaUmFmAE1hZE1cV1A/W2BjUU1ebUpJXyEAVlpaV1Q3UyUAN0RSVl5lWFpjaHBybG5xbG5bb3VqeGt6gHVrc3BreVV4b350hHFZinp4eXZ+eIt6god+hXt1eIiJfYd8g4hwh4B5iIeGgHt0gHqCiIuIh4OLi4B/e4CAko13h4BvhH2EhHyNgndvjXp+gIRsVXtqdoh3fm+Mdnp2cXtyZmprcXBlbYBueWdwXztgcHVyXl1MZm5lVGVhZF5fTEMAXV5IaWtsWFJaY2g7SgBOXV1rW0lAVGEgI0pKVTxKREpZGAAAO0VORToAWmZNW2BqVUViZnBgZmVnfDNvY2xYbWZ3fGBefIJ0SF19hHVpfmNzc3N+cn6Gh4h6bX+Dg3yDeomOhIKJiYeFgo17jICHfHR6fI2Bfn2GhYqAeoWMin2Bhn94hIGGiX94e4eDhn2HfXh/fXl8hHRngYmDbH+CgYZ8RXZpZ1lhbnt8eXtrZX1zZnFjd1hbZGBTbWxkalxrV0xYWV5mbj8wXmplVlFValRUNF5RSk5RbVtYPwIAO01NHlNCWEdBJylDUE8tAERxYl5hbHJcbHZuYFBqeHZ7Z2xldGxmanh8eoV9cX5raHx0d3N3ZICEe4aEiIl4hYGHgZCPg4aGh4x9eo2JgoB4hHaIiYSPjYmAg35yiIx9ioeIjI+EjIJwkoeGjoiCh4eBa4J7eYSPeIJwbnyGgYGHgndveX55eXNsaG6Cf391dHlwenJ1bH1xcWBib1JzYm9fZmdtV2pmaFdeUlhqaklZWEpPQFpNZBtaXEYaUDdfU1BPWExVT0VZYFlQUSgqKTlRMCkAJ0JtZnB1cGtqZUBpX11mbXRfXHd1dWthfH5ueH+Ggnp0c3Ryfnx2cXx5gHWDgYt8jpSFkYx4gIuJjYqPhX2BhoGHhYaIh4+MjYCIhHeUgY6QkYZzjoqOiZCOiJWFdIiLioGDfoGJg4qChIGJg3yDiYN1dXSHf4OBeYJ3eGJ1cW50ZG1EbGx/dXIfYl13dGxqamhuamRbc2BZdWFZQkxrWmZJYlxNK2VaVF5EZF9cW0hPVkliW2AsXkQ+SVtTUVlZWFZKSgs8KGVpX2V1Zmx6b3Vxc3dtdWpqdWhEbXxqd25hb1l+dHl2ZHWEgnhzem1+a3mGgXqEg4aLg3OFf46OiIp5dIOLkISCg4SKgI6ElouKfIx6j4eOj5CUko+Ggo6Mh4iPj4N8c4KDe46RgYqFh4aDiod/hHp+g4Juf3J9gmpvfXthfG9mdmlzdYR7dG9ycGdxY2Rpcm0AcGVocVhSJUplTElfTkxOXk1LVB5LLDJLVU5eVVhEPmEhXDdVIE1LADNRVEs7PQAcRENtaG5mbn1eaWVucGNtb2xze3RudH5te2tda3ZzanBqa25SfIB/gnh7WX98hIeAdoaKin98gHpviouNg4V8fYp6h5eUj5CIiJaNiJGNlIeGiZaSjo2Oh42HjIuMiZGMgouGio2DiIiHk4l9hYGSf3qIfn9/e3lmfISLfH91hoh8c3eBa31qa3Z6enxkbXRwdmtnNjpuV2duY21YZl9AHFpuaGFlZFZnWlR3YFNeOT9nWzQJSy9bAFkuJUcPNzgAFEgAABtTU3VZb2lTcGhhV1JvcGloZ3RxVm91bWxtdm91d4Fphm10cnqBjYZ5f394hIJ9fYeDjIt6b4WBfYCSi5WOfIyTfH2JipaJloKHkJGQmJmaj5ONlnmGi4qVg4WDi4eRknh2kIx+iYCMfoOLiY6JeYd8jZCMkYqMiYaHgopyaXWIe3Jve3iAdXtpeYhzcndiZ2dwXXZraGdgL29cbGFgZ3FeVmMASUhQOmJWWltSRmRfZVZYVUlOAC4oKlFRUUNYV1FCWgwAFVVIWyVkVTlybHZrbmZzanJxY3BvaHJ8fXNUe4R1cHh9f3aGgXaGf4SDgYN/e3+Ch4V4i4eMjIqLgJOWkYiPi5aKgoaIk46QjJWQkpmSjY+Wk4yWg3uEf46Oi4iFkn+RjYyOgpGQkHqLh3KEiYOKi4OFi36KjYWGhIdyb3V3hYiChXdzaYF8dWNpenV8dGVcbn19aHBjaABWRnBiaWNNamxhZWdjVCVBTmNoWmAAVDlfYmJfYWVIYEUjVVlSQFVKZk9NOlBbOz00ZHZXYWJnY2hebnh2VXl4e2hqeYBreHZze3SAZ3t2enJWh4aDgIJ/hIx9fY+DiIWLjImAgouUgYyQiY+Nk5eMkZORjn6PiY2TlY6Njoyam5KZlImVlpGFinqOjIaGlISRkJSBjJOKfHeDkJOKjo+MgIp+hYqLhImMiICCgYCEhHuAfnlseXV4fnx5a1ZqcHJ5cnhlVW9VS15pcGRrYj1HOFcGL0xlYldaV20tAAAjTV9PTktRN09NUVVVVjdOEAA2TFBLUTBdZltqb21tfm1uen1hZHx8eHB4YWaAZ3J8em1xfniHfYeAiIOAdISDhn55foSKg3yAgHuFhImVk5aOj4d9goyUnI+EjJOIjpSSk5KSmZmVlZOSk5Sfk5SbjJKXkY+Mj4uVk42Uh4WPjIGFioaLiY2IioSJioqGgoSLgYKLhYN0dICJZ2F8eW59eHFwanJmX2Rwd2Fdb3NkdF5yaUllWVlRWk5ZZ2tmY15SSmBNTylYY1FbTE8+AFBVVmFaTkJlIDo7VExLOl9xYFZrZGxxYW56bmxqdHVpdH9ge3xjX3GCdHp8fIuBdoCFeIF7dnuKg3eKg2h8cYWal46EgoiPlpGXjX2Rl5aYjI+SlZaYkYyPkZCNmJmZmJaRkpWGk4abl4+RkJqYkY2TkY+Kf4KGfYWWjZCIkoyPkIuSgIOJhImQgoR8d2h/h4CDbHd5fnh7gGlydmpxVl9pVn19d3N0ZGFBbGArUWI/TxJTWQBKXVRmZGI5OFdZREo6QlRcWFhNVVk1VldWTDU/RQBVX2JZWGZjdm1sdG5uenhuX2t3ZG1zZn1zZW9+hX5+f4qIcYCEgYWGfI2IjYuIkI2TkJiJjYeFjYOQmJSOjpebkpSVkZaWm5CUlY+TlImQjpKRkpmbmo+VipeYkpOXmJCMhY6OkJKEiIuAioqPkpCKjIyQeoaAh46IhoCGhXiEeGd8gYB6e39+Ym92c3t8dHB8Z218d3NudoBtYm92Z1NiVWZbYV1iA1laWj9kTVdKTUcKQF0/Tx9ZHyJIUiRHUkk4TVhiV0d0dG1wdWdcaXNpZmFzZGxrfn6Eb2x3aHN9fIN3eHuFiImBeoCCdnt1iIiBj4uKj46EiIKRj5SLh5eXiZaPmpePkpR8l5SYf5iWj6CajpGan5qVn5SdmpWRkpaclZGcmpSYlZyTjY2RkIuKgoqXjYWGhoqEkYSHkYiOhoyRfIV2f3p/c2OAfoR6e25jdWp/f3l7cGyAbHVlcHBJTVteY1JRT09hVEY6RzZbXD1IT19ESi42SG9gUlESLlROVUtUSE9QWUJAX2tvakZhZWVma3d1e1tfX3p6cHF4gYNyf3mHjoOAXoJwe4d2kIKJgoqCh3OQj4mKhIeOkZWXl5OTkJmNjpSMkYqQpIyakY2KmZWXn4+Gl56an56Zk5iempaZlpyXnpmXh4SSlJ6PjZaFkIRygI+OjIeOjoyVkIOEgYmPkYp+eHKMfX2LeXx/Z2+PfF1xdHl0Z3N6amJaQ3VwamhxYFFsJlpucWFcWlNbaGJrXk9TbE9fPVZITDo8U15SOksASWIAPFdhWDh5eWdrXmh3YXdycmp5bm1ZcnF7d3VzcnB+a2qAiIJ8jYN9hYmDiYSGh3CQjY2MipSOkYKZk5KKi5J2mI6NlZ6Xmo2Tmo2AkZOXm5yWmpaZk5uYnpCckZqRkZuOnKKcjJmUlpabn5ibk56OiY2VloaQk52NgX+KjoyIg4iKloZ7foFqgYOAdn1+gn9vf4R1THt9dHF7eW5qcXZtWGBpal9oW250amFjKmpNQlFDVFBVYVc/S0BYJEFhRk1PAENXT0osRT1BAGBtX212bW1xYWRdZH1obmtscHJ4c3lzdHiFbnqDgnN2gImIg4GEg3h7h5SLfIKLho6LiIiTk5WXk5iPl5GSk5iZm5GYkpqelJ2Un5qclKGZmZ6Wl5iVn6CUoJ6XnaKUlJOinJOWmZWcl5qWlZCVlYeUmZaSjIeHioSLh4mSi4t6iH6NeH2IjnR9eoiLf4BxbnxzenR9b3B4c3llX3JuXldbZWFQU2ZqbE5KYFdhYVFSIytdZi4eQlgGTFoAIlZXNlNSHz0zY2pYRVZXa3ZlZmh1cXBrcnF8d396eGJ1cYN/gH6Ha4N+eX2EiY2CgI6RhoaNjJKJjJ+ZmpWPmpyUlJiVjJmajaCSkJKYmI6ZnZWLkZadmZ6nnJmgoKGbkouVl5GPl5WWoJ2Sm5aRlKOWkJSYlZKMioeRlJORlpGRhYeHkYqGiI+Df4aDjYuFfoCIhIJZa3d+fnZfcmdFYGhwdG1pYmVTamVuZ1paXlwASmxgZ1AlS0pDYGRNZVs1W1JIJE03Xy8CTTFZLk9YY2lecGd6d1p+c2h0c3l9fml3cWRtbn54f36Agnh8gHx5hYqSi4h/ipSXkZiZm5WNlZqRlI6RjpuTl5uUkJSSmpaemZyUjZqgoKGZmZyZn6KgmaOSmpmbmaCXnJSZnZ6UjKCUlpefnZ+empadm5WFjpWRmJ+Tk5aYfIiUjH6Ngo6OhX2Jg4B7fXmGh3NsgIWAgn12b2VtV3tib3BoZl1jbWxRXDlcXT1nRmY7Xx9KNFRFUVM+Rk45UhRjWwU4PVBVWFcjRGZvaEdmf295bWxvbnltW3x6cHV8eW6EjXxzhYh2bXB9eH5/eIqRdoWFho2Gk4yHkZGZlJGdlZeck5WToZKQkaGflZekmZqXppiSnp6al4+YpZOiqKOeo6OVnpaOn5eclJ+dmJOVmZWSnJuenJCWj4qVkpWRl5GTl5qLe4GUl5OUiIaRjIqKhHWKg3t9g3RyfoGCgHlyWm9qfWlyc1tbdHNPZ3FaYWBaTwA1VV1vcWhXPk5fT1ZhPUBhVV1TNFpCUVVPLEoPbGh3Y2psR2luZG50d3l7fnN4d3NybHyEeHh1cXOAco2KhoKLhpSKjYaSkZGYiX6CjJGSmJuTnZSRm52elaCcmJycm5qjm5+enZSnpp+jn6KelJqcmpKeop+apJyfnJqdl5WPnJ6bmJmel5mbl5mblqCTlpaUjZKMkZSUjo2aj5eIjJWEf4+Riod/hIZ9boVybHiBaXeDeW9oW3pfbHRnaHFqc3FyTWNeVihbamhRV1RdSEUtXWlZW1o2WGFZSjU9WT1FSj9bbWNnd3NCYHVod319gGZqb3OAfHBzb3hyioV8f4eDjIiTin+AiJSLkYSRiY6QiZ2Okp6bhpidk5iVl6OgmJWfnpudlpmbpJ+ZmqWinZ+jnp2akKKgpayfo56bmp6gp6GcopihnpqfoqCQj5qYkpycn5qglJWYl4iNlpOMjpCOk5GJmYyJlYl+e39+cXt3iYJ2gnlhd4N3cHRteXFsdXpwd3FlaXNna0llQHBkZU5XQUZXUE5TZWJoTUJVWCxURFJRRDZEV0tsamtxdG96cIBgf3JmaG53eIN6dnaAf4h+fnp6f3xrcnxnfouKfn2Hh5GQko+XlqGamJaRkZqcopyfnZygn5ycnJGfmaigoaGXp56mqKWNmZ6YoqmooZukpJ6cp6ino52gmqWZmJuepaCYnp2hkZaUmp6ZopKXkIuSlY6OkY6WlJCUeIOTho+MiIR4cW6EgYFyfoNzc3WGgYWGcXBCbGZtaDxnXkpbaFpsZl5JQmRXWlxfXkxWT1YQR14jOEsjR01USkc9aW5xdHR1cW9qeHlveXJwZ3J9fn9xXoB9hIuIaXuBjX2Ci3KBfICNjIyMi4+UjZSTm56bnZWWmpqfmZOWn6ielp6al6uroaCfpKWnnKGlopegppWoo6mno6GgnaGjmpyQlZuhoJ6bmKKimJmelpicnJ+ZnZ2jlJaQmJqelJiVnJSRlY+GfpCUjZCGjYuCdYCDhmqJhHpvcXt6eWNsb2plb3dcclxRUGtqbFZNc2IAQVlpbUVbUFBINTZLVidbRVIuK1pRAEpNcHRtaG1sZXNqWHSCfnNqcYKBcXyGfn14cIiHio2GhIp+dIaEhY6Tin2AipKTmJ+RnZial6Cfo6aWnKKjopyonKSeoaafpaKdoqSmqJufnpyroaKgoKekn6GkpKenoJyeoZ+imp+hnKSmipmdoJieo52Xl5ybnJiIkZaXl5KYnJeWjIiQkJSKgoGJeY6BhIKMc4WDhYJtY1hxdnNscl15e3Zzd05QZGRfZFhwXQBNRjliNgBLaFdmXGRaUQAAFEJXWE4AC2Vwbl1WdGBqcHRmYHBqdGBvaodicnh1bnN9jI2QgoiQjYqKkImOipSUjoaRnJKWi46YnZ6XooiToqSmmpSUmaGen6Ogo6ifop6lnZ6lmaunoaKmpZ+joKCjo6GioaKrqZ2VpaqgoqGhnqGdnp+Xo5+emI+al4ugopeboJp/mYiSm42Fjox+lo6KioyQh4GJh4h4g4N0gHyFhXlpcWdnenZqXm11bWdpcmxjJ2VhW2lOWFotTFdkW1RaAEBAUmNZWlpeL0cjZXR1bXdvbG9ye3twcW57eXtre3JwfHyCg4KHhYR+jZCQgoGNko+Vi5ODi4yXkpaak5yVoZSUnaKUo6ahlpihlKapm5uloKWhoaSnpqWqrKidoKOoq6Opn6Wjo6mipKymnZ2hpaOYmpuipKCjoKCmo5ucop2YnZacmJ2km46MlpONkJKKkJKMl4iFkomDgoqBgW91fHB6hICEcXtxeWRzeHFwZy5YX29oWWxiPG1ldmc6ZVlOW11RO1pUM1xOZ2FLVi5GAAxpdHh6eGpsam9VaX92bnt6d3NueXt/iIGEiodwhHyBj5SLcoeLjJmUlpKXko2UkIyIlZikmJacoZWdpqialZ+gp6einqSenqOtraudp6KoqqihoKmsoqKkpKmpqaGgpKWop6Knp6GdpKinn6SjoKCdnaGgn5ifpJebm52elp2clpmdnJOYk46emJSOjomWiIuOhoqGgX5shYN/fG54aWxjbHlyXF5zaXF1cE8WbkhDUVFgTUVgSm42V2JPIkldQhFEAE5TSl13e3ptc2l6bWFweXNybXh5enh7d4pwgYlxcImVj4SEhX+Gk4ySloyPk4+VmJaMmZeYlJybmZickp+fpZaeoqOip6Klo6KgoKOmo5+opqioraqoqauoqqatpZOno6Wolp2ln6inoqabpKmqp6mkoaOrq6OjoZecnpiak5mfmp2XlJiJkJKQlJCXlo+HhZCKmJKQgIR/Zn97e4CCfoVxfGlse3VwbXJ2bmNtY2NkaV9UN0BaTWBUWlVtYlhUADtdWzMAFFFEdWxzc2tnZG9yeXRuZWx5eIJ5doeGiHF/hIFqg4iOhYiIgZCZipmbiIiNjZCPlZqemJWdnpmfl5qfn6Who6abpamkqKCfnaqhpp6pn6GXn6qirrCmoKWpnaSop52lp6yprKqksKilpKunqKejm6Cqo5+enZ6gpqKmlJmMjJuQmZWfnoyalpeRmpmSgnmSjoCEmIOJkJOHhXSAfG5ug4OJcFaAeHxnaHdfZWdub1hsW1peZllfSjE5WFhVLzxMWlZJOAA6WUdlcYJpXUtCdHVveHhsd35neHlojYiMcYCKgY99hYR7h4qCipWVlZeakpCVl5SZnKCWoZuUoqGfmaOcm6GnpKKgqaOpsaegnqChqK2npqmjp6uup6Skqq+ppK6trKunpKupqq2dm52ipqijrKWoq6mho6WmnJyfpqKdlJSdl6CXnJ+emaOYmZSbnJqUlouNkHV/jouHho6IfnN+cnh1hHR1fVFpW3pzbGtxbmlvanRPW2dmVWplalNlV1pcRktkQVRgX0c1WGZsZlVjZlZ+coGAcHRxeHl+f3t3boF+hn+EfoeEjJmRjI+Nj5GSlJqan5qbo5Cbnp6ZmZOalKOfnKiinaWhmqSsnaOqqKqmrKenqqamp6Slo6upnaWopqyoqqapqbKwrKurqpylqKeioZ+uq6ukoZuknaCoqqKloqKYoKCgoJ2fmZ2Um5aUk5SakpaYnZeJgo2PiI50c36Hh4KKg3uHe294ZnttWnlxZWtvZ2lvYGJwXVRfZk9UTmtmXWApPlheLFNJRkwueWhvXmNTfIZ0eINxdnJ/foWEcXd/hICHiYODgn6Ql42Xl4qNjJiakouYnpuZj52bnZ6bmJ+iqaGdq6ifpKWrp62no6efpKqkpqOooKetqa6srKeoo6aor7KosJ6fsbCur62iq6aeq62wrqmqpqeupJihnKGrpZ6hpqKpnKGhmaChopCcnqCbl5Sel52WlYuFj42TgX6NfntueoaFan5xcHt0eHhzc3ZjWl1lWmVib1dqaXNWXlBRXGNmTkBTYVlYWU5XY1VlaGpzc1dncGVTaHtpgnp8iYpyhIR6fHuPlHqAhYKRjYuAf42ClpOalpualJaYnJ+cpJuXmp6opqWkpZ6uqaurp6aipqafqKKosbCiqayys6yprKugq6qzsrCxq6uspbK0srGoqqmqp6irpaahqbCqpqCiqKWhl5yjnaainaePm5Wbn6Oem5yQl5yZmZOXkYmAeIWIioN/ioeIhX2BgoJ3bH9+cUxmeGNjcmlmWmdoZkJrcWJYZ2ZMVlZBT19oGFMaPlI2TmdwXX5mZGJ8dnR/aWt6cXV5fH1zhoB7fYaGio+Ie4yNjYuBjZGSm56Kn5CWp6Shl56gmaCZpqKfqaiqnaKlnqeopqagq66joqmkpaWio66orqmuqaKtq6y3t6utq6mvtbaus7KjqquxqKyqpaago6WsrqajnJyjp6KfoaWno56hnJ+koJWlqJKXnJ6Nn5yYkYKPio+Kg5aYfIZ7h3qCeH9lfHl5dX58ZmpgY3ZZb3Nsak9YUWpcTVVhNlxUU1Y5KwtMCTc0dTZlcHBweHFsdXl3eoKDbXOJe2N8hIqFiYiNfIeKjJKGlZOJkJGGlJGTipqio6OgoZebn6CfoaWepqWmpqekq6yrpaarsq2srqSqmqaqpJ+mrq+uq7CvrbK5sK2ppay4uLe3r62xt7GsrLKqpautqKiloKSop6SdpaqpoZ+mo6ilpKCYn52gm56Xm52fkZeWlJOSjpKVgpJ+g4CIgINpfYF6bXeCfXtlbGZmXFxyVWlhU2NgbHBjUUgSU01oSjwwSD8AV1J8c252cXtzc1ZudnZ3g4JseoGLgnyAiWuKjYeOg4B9i5CPh5GWl5uPmJaYl5qUmaKbnKKkp56gnaWlpaGooKClpKqppq6uqaelqqqqrKyprq2lrbOvrK2ysq+xvLSztbm8ure0tLq9urqwq6Kvr6mvrKytqqelqqGoq6yepqOip6KRo5qhm5qcn5egmJuglpeZmZiTkJCIfouLloN5e3uBen9ycnh1YnFufGtqW2tdZ2lEGldeZWdQTz1cYFRbRURdXE0yTV9xZWBug3d1ZHdgbHmGdHx3ZoOOhXeAhH2GgYiEioyIlomTnJuUmZGYkp6bl5+an5qbpaqqp6WnpaWlqqegqa2qpqmqrq2qrqOirKOxra2ztrGyrqurtbK7tbe8vLW3usTBvri4uMK7sbCnqam1sKu2q7GoqKuvqK6msKimo6WnpJqpnpyaopqcpaCalJmakZKYk5qIjImOiZGViIiAiXp+gHF9dnlvYHdzbWhuYGhzYGJXYVtjVVJoW2hSN1BYSB0MYDxQdXQASVx2al52eXRkeHB2fHx4e4R/X3mCioKAiYCOh42SkpeRjpSgnJKPl5GToaKjpZSgn6eepamqra2nn6ivrZ2krKysrKivs6ykqK6uqauws7S0tLGssLi/vMW/usDFycfEv7/Av8G3t7W1tri2rbitsKuqqaqiqbGspKSjpKqmn5ipp6GhnZypjpqcnZqXl5CNl46Wl5iUhYuKjoSNhYqAfG92hIFOgn5pdHIhYWdeR15oYlBxSk5dUUlIUWpNPC9UUjRocWRkdXtsTnVignl9eoCAfntsg32BiH1+ioGEho+JjpaUlpGPiJWdoJWZnZ2ZjpqbnZ+do56bpqWoqp+koamhma2kqKyvrKy0rKitqq2prqmzt7i5wLi2vMTCwMO/w8LNysnFxsTFw8DBv7i1vbWzsrOvq6WssKutqqinp7CnpaalpamnpJekoqaQn4+bmp2NmYuRkJaQkYuJh4yDfYmHjIGDdoGFgllgVHd6Z1NcWFZWa3RfZm5qWGBmZWRFVV1OZmg9NmtxeX5pcHhsdl93d3tscXRtY2+Cf4ODjYGFjIiLjYSDi5aejJSDlJqYkJeinZmdmpyeoaClnJ6opKSko6GoqKSprqGuqKmusK+wp6eprKmqs7OzvsHBtbi8xcrMyczOzNLPxsjJzM7KxcHBwMHDub60t7GwrLKupqmlq6arrKmkq6akqaOpp6WhnqCZnZmhnZ+Tl5OUjpeOk5SWkHx/e3l6h4V/cXV+dWJvdXxoE2pwT2xvZlhfWWFoXFRfUCRWaEpSKUY/cG1vd2lke3dnX2mFf3p/gIuCgX+HhoNogYGLdoSCjI+RjZCJlI+doo+XkpSdoJ2joJ+ppqSnqaaqnqCnoq+qrquoqa+porKsrK2qo62usbGxs76/wb7Bw8HGy9DR0M/S1s7R0NDM0dPNycrJxcW+vru5tKixrrKyrairrK6sqKmorJ+gqqqopKahnqOZn56eo5Obn5yYkJqSm5GVkIaHjYOJgYR+fYNwZ12GcHdmY2F2XFZmZ2JLW2RPZ1FaVU5fK0olUABxZ3Rue25sbG1fdGJzcnRyen1/iH+GiYiFknyCioONko+OlI+PiJqgkpagk5agn6KYo6Gop6OppaKjn6akrqavraOpqqirtK2oq6+4sreusrS2vcHEw8rKzMvU1tTX0tTZ297W19jY09LJzsrNzMLCv7avtbavsbCvr6ymp6KssaOrrLOwpamnm6KgqaCjpaKYm52dmZ2Rk5uSiJeFhYuPi4uIhn96eYh+eH92dXBxalhoamNfYllGWUdDW1teT1lTWEBZO0tpXHVjb1d2fnJ9c2hzb32AiXd9eXqBiIqOhIeEZIyOi5KYjJWQlZeYoZuYl6WhoJugqKCgqqKprqKirq+yrKymqausqKuxs7Cytqy6trC5vLnCxs7Mz8/O09rZ29zZ3N7g3tze2uHc2tbW0tDPysm3vbXBt6+0sqioq7Cnqq+sp6quqqyipaOnnpilp6qYmKOgmp2hnIyVmJqZk5GKhIp6bnWGgH2Gf3Z/c1hnaG5oa2ZhXl1YOU5eRGZcTSxRTldgXVtae3VzaW91WoB0eFNyaHVqa2iFdXBuf42DfISBhoSTmYyJkZOYkZSWl5udnZGenpSgnKCep6iqqKmqramtpa2rsq6orauxrK2uqa+ws7m0usG+v8PJy9LS2dfZ3N3k4t/j5enj3uHf5N/W2tjV08/Mx8vMxb67trCvs6qwrairsKyoqKWprayuqZqlm6GfpKGdn5WWoKWZn5idkJSYiY6FiYqDf4R8fHd7b21mYXN2alhKXF1hYGRUbklRWEMAYnNhEE9NXVBqY3BqcnVwcW9xYFJxfHNvd3FweH+DjIF0e4CFf46QiZWPi4+QmpSdnJudmZmWo6qcoqqsrKasp6KprK+mp6yusq2rrrelrbSvqq61srm9w8bIyMzN0Nfd3+Dd3+Pm4OHn6eXm5ujo4+Dh3t7X19LNzsvIxr26ubO1ra+zs6mtsq2nq6iupaOopqagqKKfrqWfo5mkpaCgoKSmh5eSmpKRipGOiY+QhHt1iHB3a2hneGROVE5cXW9UR2BuUkZkMk5GWVlNRmxoZm9zgHZndW2BenFwfXBteXR9hY6PjICIgISEgXySkYyTkpiUmIqjn5iUjpqcoJ+hmJqopqygpaOyoaSsr6KmorCxrqmurrCrtLC0ucHEzM7M0c7R3eHl4+Hi6+vm5unq7enr6+fl4+fm4d/e1dHU0cXAvL25sbGusrq3sqmwqKevqq2spaiqp6Crop6hp6Opl5yfm5KTlZaTkomFl5iNkZCOgYN7aGt8eXl0c3FhZXtucl1ib2ZlZ1s4Li4VAC5FZEBPamlbcWt6c195YmGGfn93dHB2dW2JfIh7g32Dh4aIiYiPkpeSjJGWlp6jnp6gnaClpJmhoqatraSup66rqqiwrqayrrGsrq6itbSzury/vMrM09DV1Nfb4Ofn5uTr7O/r7u/t6+/v6urr6+nj3Nzc3NrXzMfFwby7vrauuLK0qqOopKuqqbCkoqmrp6SpmZyhmaKenp+gnZqMlZCPeoaPl4R8ipKLgYF3fXmGcXh1bnF+X2pxVklEcWdTTlFaQ1pbZFlbV19yaWRnbmdvZ3Fxd4B3Zn99fXt0cIWGcXpvc42JkoCNlZacl5aXmZmYmZ6Zl6KdnqKfnKipoKSprKyrqKuupq+tqrCvrK2ssKuttq+xtsK7xMnT1Nzc4ODi5err6u3w8u/v8/Lx8fHw7u7w5+fk5eLg2dHNzsTGvsK/ubOzsa6krqyqqJipqqyqpquoqKeoqKerqaWfnp+dmJOcmJeGh5SXlpCQf4yIbIqId2+Cd2NodGx4YXJ0Z2ldbV1RW2dSLUFiUD1TV3JobnFycXFxYGh/dXF/i4t9fnaEiH9ze4N4joiGi4eTj5abk5SGmpucmJeKnZugoaKdp6ehnqKfqKewrqinqqivqqOro6+zsK21uri2vMLHzM/P3OPk4OPn7+/s7vP18u/y9/Ly8/Xz8u/u7Ono5uLa0tfTzMzJxr23tbSnta2tqqmuq6upr6mrpqysq6SmqKulpaKblpefjpiSl5SaloyVi4+CdoqDkYJsdYZ3bW5xZ1tTdH9tc2pkRFpeWVJUU09GTVRTcHZ0entocHJza4RfbntoeX13gm92jIODcX+LfoOQhI2MhpKUhZmRk5qfoZOdoZydoaeopqSfoZ2tqqqqq6KwrqmttLKzsa6yuLi4tMLHx8rO0Njb4+fo5+nu7/Dy8vb19PX08vb28/b08e/t7Orn5ODa3N3S0sbCvrG1tbWzsKWtrbezq7Cprqiwra+tqKSlpqemo6Wbn5eem6GYk4yYipiHhnaGjJGKgnd7i4h9aXR2YnFwa19yXmhoVGRrYVNZVEdMST5fWnBpeHFyb3thdXZqc3aKhoOOjYeCc3iAhIuAj4aMho+AkZaHk4+VlZ6koJuDmKGepaalpKiqo6mhq6+uq66urLWwr62ysba3s7vCx8jHzdfY3Nnj6ezv8PDw8vTy9/n2+fj29/X19/Ty8fPy7Ofm4+Lh3NfNycTAu7avtbSxsa6sramrpa6yrqyoo6muqp6epp2appigoqOVnaCLj5aRkZWOh3+MjICMfX59fHqGdHSAgmRvaWhgYGNZZmxXTVtyWQA1HG1uZmFofW5rdG56bmV6eHhtcH9+hXtpgoeJiHqLdZGPlISRiJiWj6GXk5Gjnpygoaadpaifp6yirKqqrK2wr6eqp66vrK+ztba6tb/JycnT19zc4ePq7ezw8/P19vf5+vn7+Pb4+Pb39vXz+PLv6+vr5eHZ1c/LxsG6tre0sLW1sq+vrrKrs6+js6msp6atq6mopKGhoKOiopqhnouYopaTj5KQjox+goZ5f4J3e2tiXXZsbVpuYWZhWlBZUHBrcVFOL1dVdXFSa4FvdW55d3Z7cHx7f3hed3V1g2uDiYqNh4SRj4+PkJeVlZybmpqek5mjnp+np6OmpqWqq6eppKamsLGorbKvqayxs7KztLm5wMXMytbZ4N/l5urs7fX19Pb2+Pn5+vv5+fn5+vj59/X08/Hw6evm39vZ1crExcG8t7C3s6yvsa+2sK6zsa+tqa+jqKaoqKmdp6uroqieoKGYmZSdmaKUlJqTkH6Ke4N3hX5laXNmbmlcZnBwX2ZRXkFfVklqaUtXXlpraGdqfGFvdWp4cn9niYOHf3B0b2iDe4SMfIt+hIWLh4+KkpOVnZmVlaCWmZ+hoJmcmJecpaOcpaiwrayyr6iotLa1tri1sLKztrm+ydDR09rh5urs8PDy9ff39/n3+Pz8+vn8+vz7+fn49fT39vTu6uPh3dXVzs7NxsG/u7y0trKssrS1qqyuoauvtK2lrK2gqq+pp6GhrKOlpqOenZGSmZ2hk5iUh4d9io6BfoF+cHpxfHZga3NpUz5SVE0kXF9MXVhKVmNtU2Vdc32Bb2N7e22AfYN1cHh7gYGDioGAjYCBh4qUg5KUjpeanZqTop2gn6GhmqWnp6SYoKWkqqypo6Kor7OvsrOzrqqxs7G7wMDBzcvU3ODn6+/z8/P09fj4+fj9/Pz7+fv6+/v6+fn4+Pf38+/q5+bi29vW1M/Iwb+7uri1r6uyqrOxq6yrq66prqqqrqqipqWrpaaoqaKkpJ+loJyhmqCUlZOLiY15h419gH2EiWprdXlLZGdlcWFnRVtYa1xNUkZCbGxXVHF0dHlucn9ugn5+eYB9c3t8g4KBeYmGgnqNioeQjJWQnJeNl4KWnpmfo6OmnaClpp2dnqWqqKmsoqelsbCypamtsrW5uri9wcvQ09bc4Ojq6+/w9vX39vn7+vr+/fz7/Pz8/Pv7+vr59vTy8Ozs6ejj3dfVzsnEwry2tLO0q6+us62urq+qs7essK2vq66vraOpraukoKqhoaKcl5yXlpeVmZOGj4SPeXxwhHx2Z2JdXmdldFVcW2hdVGJgKmJaVFeCcmhhZH6Ee3h/cHV9eH5sYHp3h4RyhHthkoyDiJWSnJGHkZqZko+ZnqOTlp+enqOalKihoKippKyoq6yur6uutKyor62yucG+vMDDzdXW2OLk5uvt7/Hz9vv6+vn/+/z+/Pn8+vv8/f39+fj49vTz7+3o6OPh2tTPysO6ube5uLi0s6+3rq6ysa6xs7GoraersKygpq+ppKinpqysn5yclJmRkImZhX+JfIR7eoOIe3F2cWhjaWFoX29hYnV0YFlCWkldYWdybABdcW5uc256d3VrgIB4fnd5hHuBhXuKeYKRko6OkY6SmZaPj4yeoZ6ZpZWkpZyhnaChqq2voqqpq6OgprGpsK6yr7a1uLu+v8fO09bc4Obo7e/y8/X1+fr7+/37/v/8+/n8/Pr7+Pv4+fr59vPy7enj4dvZ1czJxL/Aubq1urSxsrOzr7eytK6xr7Ktq6ysrKqtr7CppK2lqKSglo2ZmZSWkpKRjIKJh3xxf4CDdHx9bHt9aHJjZwBWcW1reVhAADgseWlYa3ByfHFzd2t2coB+YoF+e3CJfIN8h3+DjoqKk4OUmZGZjpSXjouejZ6dnqaioaajnKaupKiioK2qqquusK6uoaiur622usHAyMrR0tnj4uns8PP19/f4+Pn5+vr7/v37+fr7/vv5/Pr9+/n28+/t7eji3tnRz8vHwsO+trO0tLe7saywtLWxtrO2tLSyq6Cxp6eusa6nqqKiqJuTmKCXmJmLn4yXgoiMjYqAZnt0cH1kgHNocHJkZ2ZcY1ZiU2JhZFpaYld2Ynl2amhraG1hgX18hnt3bXaCf3d9cXmLiYaLkpGSipSLlZOclo2WnaGioqianpqenKKppq2prK+nqrCtq7akra6usrS4u77Fxc/S3OLi5Oju8fX39/n9+/v6/Pz9/Pr6/f38/f36/Pz69/b08O7r6OXe19XVzsnCvr27ur27uK+ysq+zsbGyr7KusLG2qLOspqinraqpqJ6Zop6apKahmKCeipKMgYqIckxvc2tyfnRoVl9gZ21MZG1jXUtRa15aTkFpamh5dVxpX2kycnNsgnx6e3l0eYJ2dol/hH+IhIWMj46Yk5CUl5yTi42PoZSkoaOYn6ehq6mmraiqq6SssLCyr6mzqLCnsr22w8PGztPa4OTn6vHz8/b4+vr6/Pz6+v39/Pz7/Pv7/Pz7/Pv59/b19e/t6ubb2tXOxMPBwbq7tLe3srK1ubSusrW3s7KxsbGtsKqip6ero5ieop2dpJ2joZ+ZlZqPlJCFdYaGfId6dHxseoF1anR0aWhtb19haV1ca0hPcHRhbXFnb21iXW51aWlpXnV8gXCBgXuDgYuDi5WLi4+LjpSMl4+OnpCVnJujnp6foKWiqKalqZ+ppqairLStrKiyr6+zsa+2uMDAxsrR1dre5Ont8fTz9vf3+fj7/Pz6/v37+/39/Pv8/Pz5+Pj28PPz8O3o5dvW0snKxcPAvr22tLK2s6+ztbSvrrKyr7GusrOpr6ynqa2tpaatpqOlo52WlJySiomZmI6QjHqGhH94bH57cWtfdW5tam1wb2FSQ2JibF5YcGhyYWxsZV1xZFFgcHVze318fIGJg4ODinx/iYGOioeGgIeChoqWk5mRmJqdm6GepamopaSno6Olpqewta2mrKypsK+tsLm2vcDEy9Xb3OHm6u7x8vL4+Pj5+vv5/fv9/fv8/v79+/3+/Pj5+Pfy7+7u6ubk2tTPzcfAwr7Bvra4tbG9t7S5s7S3sbSyrLOxsbKpqaiora2oqKudn6mdnZ2joJWNmJGIkoGAiXyMiWN2gXx4YXlqZ2dwYWBLQV9EQF9XV3BwdXFhamhibmZyb2mBg4WFhYCLfn2Ae4KPcnKIkYuSioyOf4aOlJiVm5SeoJ2ZpKekoKapoZumraeppaWusaypqbStr7O3trS7v8bK0tXb4uXl6+7w8PL3+vf6/Pz6+/r+/P38+//9+/j8+fr6+fTy8Ozj497b0s/Lxr69vsO5urm6rKy0srKyt7uqrrOqr62rrquvsqmsqaWqqaSlm5+fk6WZlpualpKJe3mGjHyGb3qDcFN8aH16em11Ym1dZmVNOFpca3BgQk1gUmttWHRmVHZye35qe4qHfIKGiH+Bdo2HipWOhY+Ti5mampGSn5ybnZ+loaOdqqekoqSqoLCpsKWjp62wsrewrLGyuLu+xMrN1dbd3eTp7e7y9Pn4+fn6/fv7/fv8+vv9/fz7+/v5+Pf49fPs7enl49vY083FxMO/v7WyuLm1trO0trW6t7GvtquvsauvtLKur6+xqKapppaTmpeZn42VlI2YkICNho2FiYpxeXhxdHlwcmxubGtsbm9kUkJTWHNlSmFSYmJseXhwfnRyAGFsb25vc4Bvc4OOinqGio97i4R4lZaTjZmYlJSWnqCXnJienKWfpaShoq6iqKKmn62urbK0rLSvsbS4t7rAxcvO197e4ufs8vX39fX2+fv6+vz+/Pz9/Pv7/fz7+/r5+PXw8vHt6OTj3drWy8fAvcC3uby4tLi4vLK2t7a1t7O1ubu1sq+po7Oyr6uvsqyhnKGho5ShnKOZmpKKmYl/h4Z/fHmAgnt4eWJxeWV0am9RUmpVSVQAX3ZkJABpe29udml3WGxqbEBufHKEenlmg4WJeoSNh4V+k5KHlZqXk5SIk5SPnpufmZOeoKSjqaKtqquiq6uuqauksLKysLOyrrS3vcHGzcvY3+Ln7O3v8vTz9fj7+fr7+vv9/fv8/fn5/Pj6+/n29fPt7e3p5ODZ2NLPy8XCwru/u7Syurevt7y3sbe3sbSuubOqrayqs7KvsKiorauopaWemJaipJmdlo+XjYiJg3Z6dn+ChXlfXm56ZGtfaV5oX2ZMYFddaHBsaHNqeVhwdXB1bnt7YF91aHx+bHx8g3qDgnN/jouOj4qGk4mElJmXkIqcoZmdlJmiop6fpKakp6unrquso6aqqLGxsq6pp7e3t8LNz9Xd4OTo5uft8/X0+PX5+/n7+f3+/Pr7+vr7+vr8+vj08+vq7Ofk3NnV087Jw7/BuLm9uri7sbi4vLWwtq+xsLa2rrGvrLOwtK+sqaWmpaipp5+io6qilZSSmo6WhouMh4yBhIOGb2Bza2xua1tnaWY0YDldQkd4cHBuanZsandrc3dtgH12fXRXen+DgH+EgH6JiYyKjoh1h5KVi5OMl6Cam6Cem5qZmZ6gqaKjraWlqKmnp62npqqqrKyvr7Gru7+9xMfP2Nze5eTh6fHy9vX2+vn5+v39/P34+vr9+Pn3+fn09PPz7ezn4ODc19TPzMzFwbq1uMG5vLu0tra4uLa6trq5rbSts7OxtK6vsrGwrq+jqamhpJuPlaKhnpWYg4uSjYGKjoONfXxzenhhWnR6aFxjYlhsV1FLQnpzdGhwcHR3eW90ZXZvYHZ8gHNxcoKJfIOIfYaJiIeDi4iPkpCXio6Rl5GcmpyUmZ6hpKKfjaSlpKelqquqpKmrq6ysq7atrbW6v8G+xdHU1dnb3+Tr7+3y8/T4+Pj2+vj5+fr7+fv7+/n49/Xx8PDx7OXh4NXOy8zJwcHBv7q+vL66u724t7a4r7K2uLy4tq+stai3rbOys6+sqqCio6eom6WhnJ2im5aOk5iFhIyKiX1/emyEf3BxZHNpZFJMWmVSXk5EeGdjW2RoXGdseWtvc3V1g2uAc16CeYd1e4SGYHGNkIiKfY2MjpWQl4+UjpmMlJ2WkaKnpJ6fpammpaqprqiuq6+qqaiuqrKzsLK+vL7Cy87S0tvd4+jp7O7v9Pb1+Pf39vr4+Pv3+Pj29Pb29O/r6uzm4+Pf19LJysW+vb6/u8G3ubi4uLW6tre1tbiwtaq0sLO0tbSztK2ysLKnrKmmpK6ioZaJn6OXioyWj5SDjnB9aoWCfXhxZm1qc1o0aWRwaGZFY196b2VSb3toYXBndXF7enZ7bHx2eYV1fn+Cf4iLe4GLj4mLfoCFmZ6Pk5ial5aNmZOWnJWZoKSlp6GopqempqerramtqK+ws7KytLK7u7jBx83R2Nrf5ejn6+718vL3+Pb3+Pn19/f19fb09Pbz7e3m5ePh4d/a1NDMx72+uL21vLu8vbWvt7u1uLq6sLa5tLy4tLizs6+vqKisqaivsauopamXlpqknZuVlY6SeYKIdY2MgneCf3p7d3lvXV9GTGpoXmdXYk1wVm9xgXRxV1xoampydFV9g35ren1yd3CJcoZ9hYSFj4OGjIZ/jZuWmJeekJ2enpign6CknaGfpqyspKmspq+traavs6yvra+stLW8v7/CzNPa39zg4ufo7fDu7fX29vb19PX19/j29fPu8fDw7+fj4trd2tTRz8XFv8G/t7m+ubq5v7u7vbWyt7W3t7y8rbK2uK6psayrr6CvprClqZ6on6+qn6OYmImRmo+Md25+hIV/f3ZxeHVwaHNxZAB0XlxJSWNNZmZaRGBnfG1qcW90dnl/Z3BCbmt8WHV0b32Cj39+goGPhoiSgpOMk5WUmI6JlJGRlJ+kmqGjpZ+hpKmkpKyrsq6psa6rtbCssbSytbu8ucPLztnZ2d/b5ejs6u3t8fXx9/b29Pf19fHy8e7s7Ozs6OTg29nU0dLNxsbCxLu3uL29wL24rLq7vbq/u724s7m4rbK8tqylsbO1tKyrqq+nqqKjqKiio5SXm5eCjoiLioWAiI+Ee3V5cm1hcmxjYHhXYV5OZQBha3FQKGNUE1JoaGZHZmx7cXF4dHV1dWyAen5uhHl1j4aJio6PjoeTlJKdjpKXmpiamp6em6eiopuoq6upqqqpsammqqewsqimtK6wurq7w8jK0NPU2d3h5uXn6ezv7O7y9PLw9PTy7PLw7urn6urm4dvX1NTRzMzFxcG/u7e3ubi6tLi8ura6vbu7vre2uLW2tLmvs7Czta6usLCmq6qlnqqro6GdkpCYnJaLlIuVgn6Hdn18gIZ0eXtpa3RpbnFVT3FmZnFvblplSll7Y3Zya3R6aHh0cXeBfYN9g4R3eXuCjISJjoOLhY2Ie4uRlYeGmJmRnaSgnaKVoaWno6KopaieqKmpp66xrqqmrqyrr627rL7Gx8fNyc3U2d/i3+Lp7u/r7e7t8O3w8e3s7u7s5uTj4+Lf29PNy8fJycbBv8C+vbe8wL27uLi5tbW5sbe7s7azu7W3srSur62ssbGurq2soauip6qfqZ2YoJSZi5SHhpd/h4uBflF3gl1rfXhjamNrZ2lhZWlkT1Vhc1pjAGBueXZpfnF6bn56dHlqe3F5hnxzc4B1eYWFiYyQioiTmJWYmZmampSWnqWinpeinKedp6mor5yrqaiqqaqlp7Kzra6ptrK4wL3DwMbJ0NXZ297e2+Xm6efo7Ozr6uru7uno6+vm5OPd3dra2NTJxMLDxL2/vrq8vby6urOzubm6u7a5srW2uLC4r7O1vbC0trGrr6+ur6SfrJ2np6KfnZ2YmZ6UmpWVkZKMg4KKeIZ0eYR6bUtxbHVeZGhoJWZsXGZaU3FgcWpya3lddn9nZHt3dIB7gHh6f3qIgnx5dYmDiIqRjYmJj4uaj42UmZqSn6CdnqCPpqOhpaippKalraWsp6OorLGyqam0sra4ub68wsnL0dbT19fY3+Xj4+fq5ufn6evm5OHm6OPh2dXb19rXzcrExMC/vr7Curm9tru6ur23tri8ube1uLe5uLC3u7aytqq1tq6usamvqK6dpqeqqaObopmbj5OYmI6FiYmQgnF2dGqDeH57ZW5val5mY2ZAY3BganlwSXF5cXFscGd5f356bm1yeXd7b3x0e4GEfoSIhX6LboWUlYaPhJyPjI+XkZ6dl6ObmZmlo6GioaqnoairqqyrpaaorrSstbKvubS3sri+w8rL0MzS1dre4d3c4OLo4uPg4+Tj4eDe4N7Y1tLP0s/Ky8m+tbq9uL29v7y1u7G1uri3uLa4ubq2srq2sLa2tK+wrrSurK2wqq+sqKWmpaqwpJ+oopmTlIuGk4mNbIWNh4aDd4NzemNNampqYlowa29XO1twaDZhXmloZXFmW2l7b2UMY2x3ZXl/b3qHf3V8j39ofYF/ipOVl5KKjIiXkZmYnpico6ifoZ+apaaep56lo6iisaiusKmrsq2uqq2vtLWwtbrBxMXKy8zO1drZ1tXd4ubf3t/f3ODc2t7g2djU0svLycnKv7vDure8u7m7vLq6uLK8vbi6ura4tLW4rK6usrevtLe1uLGwsbKsr6+spayvraShoZ+ho5+clomHjY2Hh4B6gntzdXN4amNlcmxyR2VkZyxqWW94aFRrXmlqaml9cWJ5Z3N1c3dsdXl3hIB8eXqBh4N7hIWKh36SmI2Ri5eWlY6Tk5qhpJqijKSjm5qWpqegqZ+rqKSrqKGvrKevsqywtrS2uMLCw8TFx8nS1tbT1dra2tnX2dzb2tbU1tjY1NPLysvLxcXDwcC7uLS6u7y0v7O1trm9uL63vbazsbm0sbC1tbe4srCwsLW3sK+mo6inoaKjqamho5uenJiWjoaEiIqDe3Z8eXF3dXVkcWZoWGRqOExCSWVmXzxqVWx0cHNwU2VaYmhkb2x5cH2FeGpwe3WCe3h9iWR/h4+IfouMj4qRjpSbjY+Rop2eoaOclpyeoKChl6CgpqSoqqytp6qurqirs6ajrba7urm2vcPGycvR0crM1NPX1dLW1NfV0dLMztHMzcrBw7+/wMG+vb23t7e6vb7Dv7a3tLO0ubi0t7ywt7Gyubq0uK20qbG0srSusa+so66nrKKjpaKckpyXnZaJlJSQg3CEgntvdmqAbVpxZ3BnYWtYU2RtRHJfcGVHa1VlaW5ycF1oRnByfnd2cWlxfnyEf4J+f4N6hH2BeIGIkYmOjoSNjpOYkpOPmKWinJaYm5+grKqipqmoprGsrqyyqrGuqqWvr6y1s7i4s7i3vLzFw8XJxsvO0dLS0c3T09LLzc/Nz8vJwcS+wb+8wbi5urq9tLi3uru8vb26urq9trrBtrG5vbG5ubKyr7G0s7aztq+wsa6vq66goqOnoqaZmJ6TiIybg4OKfo13fnVwa4ByXHVdaUF0bFJVcnRqalplaQBeIDVccWZrbWNbbnNgZXR6c3R5b2+DgXp8g35+h4B6fXuHiI2Njo6NkZKToJmXnKCWmpienKOdp6ijo6evpZ2lraqopqqso7C0rqu7t7e2sa23wcPCvcO/xc3OycTIyM3P0MnFx8LEyMjCvLayu7i1uba7s7y3t7izuLa2ure+uLm5urqzuLe6tLq5s7K3tbK3tbOwq6mfq6ufqaWemZ2opJqfoYSYhpKNh42CgXhceXRhc2d2fHRxZnZkAEtiZ2JsbB9bUzo+amdrX29VXyhtbWxtcXd2eXBpbHxdfntofYOJjH5xio2Of5GNhpCVhaCeoZyWnZWlnp6Vo6OenpmfoKWlq62ooq2vq6ynsrOrrq6xs7a0tLi5vb3AvrnBx8jEwcLDx8fFxsXBxcbAxMC7u7eyvLq6u726ubqzvLe7t7i7ur65tL25vLy2tbK3sbu4trSzsKewsLOqr6+vp6ajpaagoaGioJ+dk5mRlY6QiHp8gH19dHBfeHp4UV9hZVRxalxVPmxlZWxRCnVibFVteWxVXE1pdXRoc3BcZneEeHZtfGmAg397fIyLiY+GioWFi5aMkZOckqOYl5yZmpinnKSkoKaoqJ6rrKmlp56toq+vs6msr6aqs7ivuLi7vbq6ub3CxcG/vr3DyMjAv77Awr69wsG8uLS3tLm6vL23ubq+t7y8ub63u7i5u7+0vbOwuLe5tbeusK6ssbmwtK+zqrGrpaKrp5yZm5mdpZuSlo2IjXWCk3qAgXJ0hHRqZHp2a3JmXFZrV1dobUNlamkvalxwdWhwYnFwaG1eZTZyb0FlcIF1e3hoeoaDbnSGkHqGkoyNg4F6lJacjJuWmY+bnKKfn56mqaWanaGspKuqqKerr6ujqq+yp7G0sKyvr7K1xLW1t7iztL68wb3AvL/Dxb+/vL+6uMG1wbq5u7S7vLOzubm4uLq7vLy7ub23tLq5t7eys7i6ura2uqytsa20tK63sLCyqqizoKilnpyfpJeZlp6XkImSj46EeXZ7bICHc2JyamptdGtNU3NPUVFQYW9Tc2ZwXVhpYmdlbDtldGhocm9vdXp4bmJ9cGRubXVugIiFeXuAhn2KhoeLmJaekpaFlZmQkpeXpJ6ZoqOkpaGkqKikqqinpaWloqulrLC0raqqrriytri6urm2vb29uL+2u7q9wLq5ubKvvLq7u7q5tru7u7u5trm8u728vbm6vLmzu7qytrezt7W4trSyta+yrLG4srq0sK6opauloJ6kp62dpJCXmI2QjoqEhIh8f4Jvdm6BfXFpVXVjTVlYZ2BhaU5YX2FsWEtuUG9TdmxncmxubHR0fnh0bmdecWF4a4FmbG9+gIB1gn2Kf4aPgYGLi5CUlpOZkZuTmJOem6CWnp+fp5uknaKmo5ynsrCurq2qqK2qqaaus6+2sbGrsLm1ury2t7a4vrvBwLm1tbe7trW+vrq5tri5uLe4tri2vLy6v7m5tri2uba9trC4wbu5ubeysq6xsraysbSwtKqhpaerp5+gn52jmpmVkYqZhoR/h4iAh3t1dI1uaoNsa1MyP1pYYGJRSEhcX2Nob2Ndc2Fiam1zX2hmeXFaZnt9cXZ4b3xzZF5reH19hXyKjH2AkJiHiIGNkpiakJSOlZyVlZySnpuimpedoaeXqK2gn6aurKysrayqp6+yrK+xqq6oo620srWut7auuLW0ubWyubeztrS8v7i/ub26u7i5uLi4ube8t7O5t7K9s7u+ubm0tbHBu7e5tLGzsbWwqrSwrq+oraqjn6ylnpygmJ+Sm3qQk4qLh4qKe4R9gYFSfHZxbnRUcXFjbGZdQVRvcGpobm5PSGxuWWZyfXljcWx5em9yaHNba4J5Z2OFfHqEdXB9cX6Jf4qIjICLf46KjpGKhZacmJGbnaCanZidpKKmoKSnqqKfqaitpKWrr6yrrLKrsbCwrKuxs6q2tre8tLWytri6u766tba0trK1s7qyubW4u7W9ubm+vLq4trq6t7u5u7m9vbu5t7iwt7G2uratq7CxrrGvrLSsqqerp6einZ2ZkZKUmJiPfoePhoKCg3RicFpUbWxqbW1hZV9vb21bUmJrX2dyXkRaaVhldWhpZ1tteHV4bm5zX2lkeXZycGtrdnJyeoOAhoKHk4qKiY2XloyQiouTnZeWkZOYmpmco5mepaWmpJ+fq6aooampp6uzsqipo66vq7S1ra2xtLO6tbyzs7O4urm9uLe0u7a3tri9v7y4vLm2t7a3tbe8vri2tr22urm3u724uLmzr7S1tbO2s7a1tbSwtrSlsK2orK+npqernZeZlZmZj5WLdJKNh3x5g3p0bmxxbWxvd3dSam5ZQlJHUyRHUzRlYGlcZmZIWlFUaGdiYnF7c3pfaXdxdH5tcnR0g3JudYh/iIiCgIl7gH2Hj4ySi5CUkI2UkZydmKChm5iZnp6mn5yhp6SXnaqsr6Wyra6orrSysbWtsbG2trettLW0pa+3urm0ubq3tbe6sre+vL2/vbi0t7ayuba9u7u3tbG0t7uwuLmss7axtrW4sLexrrG2s62mrausqaurpqWlo6Ojm5+ilJKUlJWFgYaMeX+Gf2pwgHN/YWAAalRLXmBKZ15tYz5XZVVqaGVrUllkVl9kaGR2VWpod2t8dn18dXx6fIZ1fnRvgoGEgn6DgYqGkZGIgpqTl4aEm5qUl56Xn5GZmZabm6OkpKaepamjqKmsp6Skpq6urrSupaytq6+zurWwrriztbG7uru3ubW2srqttba/vbizubW2t725try9vby+tbe8vLi6urG3tbW6tbe0srCrsLCwq6ypra2xrKqlraKcpaWcopCUlJaFj4+FjIOIdnxGcnN8WnFzfGZha2tyWm9FXURkZWBWVmlfYWJsX2JubnR2bnJuYnJ1bXwAaW1mbnl+fW94fYV3g294Yn2PgX6Nk3+FkpGTloqZpJORmJ+YjZ6moZydpp+io6OfpaKhrquno6Omp7GtsqivqrC1r7a7s7CwsbOzuLmruravtrq1uLO5srO1ubi7trW+ubiztLm6tba2u7e9u7y3t7S2t7GytbOts7Ctsa6ts6mvra2rrKejpKGfoaKdnI+TmImKfIyJe3mCd36CeX95bW1ydkpVVVxvb1k0VGZjdlxdaWtmO1lpZH10aWtoXWFDY0BPbmlgfnt4hHFpcn6FhWFwf2B+hIuEhYSUhomMhH2NkZOJjJCZl52Wk5yan5yfqKScqKelqKKrqaaoqayoq6yzpq+qrbCxtLarsquss7a0tbe0sLm6tbe0t7a9tLi5tLq1uri0tLi5ubq+t6y0sraxtbSzuLe3tau0uLawrLSxsa+yq6etrKispqmjn5mgmaCbkJiUgYiAiIuJfWCDdX9xc3B1cFxseHZfVmN0XGNRX1Nnc2plamJUdWhxV29mamRndWdoZ2dgWGl7cHB4bnt5eHp3e1htfml/gW5+j42Mh46IipeZlY2OkZacnp2ZoqaVop+joqOgoqSrpKejoqinnqmrqqyqs66srrCkureysrGzsbm0ubm0tbO1tLW4u7e4sbq7sLe3r7+3v7q8uLu5s7OusLeyubG3rrS0sbK4s7ettrKzqKmxq6arraulpKeYn5+im5qak5aSiX+HdnSGanmCc2x5a25nU3ZlbWJqYl1YUQBnaE9mYmVbYEJeaGtrbXNzcnJtb2plW35kYmtucGxkeIRwdnpDa3d7anV2eXmIdHyBj4yIi4yPjpuemJyPmZWknKCklqKjpaejnaGam5GioZihp62vrKqyrq6vr6uyq7W3tbeusLW1uLC3s7OztLe6tLazt7a7tLS6ubW0u7W8v7u1t7G0tLO3uLiwvrO3tbW1rK2yrK2rqa6mqa6prqCpn52elpyTmZB5jYqLhIZwgX6DeGODfGtyWmFmahFgaWlfV1lNQFxoUGxvVFJnZm1jcVxoaGNMaG5sbXlqc19jXHdpYXJjbXJ3fW51e3R3iYSEjYmMg5CPgZGVio2Wh5KLkZabkZeQmqKZnaKmpqORn6aioaatrKiipK6vqKmjp66vtK+prq2vtK+zrrawtrWur7KxsbKwsLS4tru3s7ewsa+7ure6tLa6vLq0sa+ut7a5tLu4rrSzr62orayoq6SvpKalrKimnKORjJiYi5WWhoKJgnyKen58eHdobmlscnB5bXNqV1tWZzxbY2hZaWxTbGhfY3BrZG9TYWVpYXFkcnFZaFh8UW9bOGiDeXxzgHSAdXF9i4CBi4d6lJeOkYWLfpOLkY2Jm5qYmJOTnJahmJiapKalp6Sfn6SkrKSqqKasqK2qqrSxsq+vra62rq+1tq6tsLO2tay1s7Wzt7S4tLmvuLK6rra4s7e7t7W3vLS9s7O2tLG4sLKxsbC1raytrKWoqa2woqWnqKOfm56RkIaKkYmGgoaCeWt+gHhkg4BycWxuaXNmaFBgYk5eTlthXFwsV0olVVpicWBNSFxZZWtfc2JsbnB7aXhjdnhyaGyBem93d3l8dIaBf3eDhouNko+MkJGai5KSkn+Bk56alJibk6CWmJ2eqaOfpKWfp6afpKqiqKyqoLCrsa6prKattK+0rbG1s7exua+ysbKxtLaurri2s7m7urO1vrm3uLOqs7a6urmxqLS2r7WzsLGwqquorLCrpKqrraujkZ+omJyWl52VlpOJjoOJiYN6c398goJzg296b3JfbnlWYF9eZWFeVFxzP0JgW0JYW2dna11VXmxkUmRmZ29gZGtqcGNqW3BrcnNce3J2aXx4f4KAe4aTko+UkZKYi5aSi5eSkoyWk5KOlZ2gqJyTlaKioZ6Zkp2hpp2noJ6go6mtrK2vrLCtpa2rqa6osLCos7Gyq7CwtLS0sbq4tbWkrrWws7iztrWztbGzu7W5r7izsrKxsbG2saSrrrKxrqqvr7Gqp56joKKclZWPi5OOjZOOhouIg39+X3iGfYB1ZHZvU2FiaGxBb2ddaypJWFdZdGddX1tgV1hnak5hWFcWY21veXd6e2lzYnRbQXhpcnd5dYBhXoB1gIqLk5acl5Kdm5aIkI2HjY2XlZCLmJaVnpycmqKVlZqim56fnaWfoaWdp6mmoK2lrqqssqyysa+xsa2ssa20r7a2trCysLC0tK26tLS0uLOzr7i0uLOzsba6ubWzvbq0s6ywtLaspq2tqq2rpq+poaOdpaKdoZmYnJCImIWJlJOEhImLe4mDhoSFgnR8cEJqZ2pqWVpTY1hfVVJkZl5pemVmWm5pa15qWmNkZGlSa2xecmVnaWVxZWR4dG9xa3FsdWZvgW1ziJGZpKKfipuPkY+Ri4mNlYyIk4mJj5SUkqCclZKZmZeYn6aiqKmoqqmrp5mfrJ2rpaausrCvqK2zrbKrrraxqq2ptK+strGrsLm4rLS5uLS0uLmxtbW0tbiztLS4sKmyta+ztramq7Grr6mnq6ehqKucmpadnZuWkY2Xe4uKioSFhYKDgX6EfG1oeWVieWt0aHBjVFlcSABcZWhSXFdmWlYAWFlhZl47cWxhd2ZbZ1lCa2hpYXBhbGlRYFVyeXV8d1J1d2uJlpuioaiWko2Ijo2BjZGSgY6UjYmThIuTk5ybmp+Vn5qhnaCknqWpoaatpqOqqquqq6Srra2rr6+utbGttLW0sKW0tLOwr7a1urCztLC3tbS4t7CzubetpLi5srKrs6essK6wuK6ur6ukqqqioaWkqKmjlKKbmqCNlZWEhoWEhY5/d32CcXt4hHV6eFhZW3Bob2dga2pWVllgSFdYOFdgc1ZiYGRlSlVabUdmXl9nZUpvZ2RRY3RraGRqXnF5Y4B+e3KGjpSQpqijn5iSg4l7jIt/kI5vh39/f4qMl4+Kh46Zm56jm5qcnpucoqWkpaSmoZ2rqa2xqqukqaykpbKur6ausq6vrLC1p6azuLWzrLGvqq6trbGxsbS3uLWtt7Szs6+yq7G1r6yysa2prauprqqqoJ6joKKXmpeUm4+PjYqMjHGGhHR+bIF6eXF+dXdhXm1PTGtbY01LVGVoREBcTkY/U2tnTUBbZFxobFJcXUZTRVNBR25ycG9seWRia2xqcHlrcoKDgpWWlpydlpWCg5F2fo2Th4CGjH57boZ/lY2XkJCSjISYnKGbmKWVmKOZlJygm6Wpqqavqaekp6ijpauur62tsrOwr7K3r7KvrbGxsq6ysrexr7CwsbC0sLWztbKzrrKqsK60rLK2uLGwrqarqqiloaSkqJ6jn6GWmJ2WmZSUkpKZdmyAhYJ4e3iDfIV9dXJwamJgbkthY19NTGpmXjAAUGpiZmIAAGZxU0hbEElxaGJEZ1VVcHZTcHRjaFljbFpse3p/iYOPoZyVmpmXg3uGiIB1hoqJgouHhYuEjYGJiZSCjJKUkpuen5qdnpmYoJOao6enoqKqpKesqqaprrCsqqinqKaqrrOrs7GwsLOzsLKtrLCztqmrtba4tLW5ubOrsLO5rq2srbGwsbCsqKSbpqCcqKKbo6enoZ+XnZybm4+Pio2Ve4CKg4WEgXp6dIB4SlRyeGF0W2RlX2NpUmJQVkdFTlxqPVZSaXNrYTdfYVtcXHA+W19kYGBxcExaanpaKWJ1bXV4fWmBjJSXmpqMkpOFhYN5gnl7hJCHhoKDgoaBjI+Pk4yUl5KYlqOam5yPn5aboJKen56cnKiko6igp6qqqbCxqaaqrKamsKSvsbCtta6usa2qs6uyuKazta2wr66yrbOvtK+tsK6xraypqKqurqmsqaqlqaKcoZ6XlZebnIuOjJCTk5OKhIOJf3iDeG6AgoB1aGh2dXpjbl5qam5uYDBnXFVXZlU5XV9FYGdpaVlmYnRhYmlqVFBScmxkXUpofFtlYmhNbG11ZHaGkJSUjn6BhYd0gHZufICHfHmBhX+MjISako+TiYyNj4iLkpaXnZugmZ6jnKGjpJ+foKuppqSppZ2gsauqrqWrq6esqa6urK2nr7OusLSvqa63sa20r7G2rqqxtrCur7GysLGqtLC1raKuqqWipaWkoJGloZqbkZaak5SQlJV5gYx3h4F5fHyDcWxvd25fal1rYllrX2A3QSdTXmRfYFQ3P2VnUl9uVVJXWmJWZ2dxRW5jXltmVE1ddnh9a2xVUmpxZG1jYnCQg46Bf36FgHZvfnuEgmh7eX2Afo2AfZWGf3uNh5SQipOKipWWnZ6elpqlm5WSlqGjpKunnpOipKarpqiup6mpqbG0r6Sssqywpaqmr62rorKssbClrLS4r6+vtq2vr62xrKyyrqympaeopKaopKOdm5ulmI2QmZWPkYGMlpGEioOHZH59eV5sbG16aHJza2VtY2drXXVZQzFZWFpXYl40WFVkSW1gYVhcZGpQXW1mW0I5Wk9rY1VIbnBtU2dib19iZoN2e39ukIOEg310d4J+gYCEemR9fIyKh46NiIOEi42ClI6NfoqKm5iVl6GbnpqRnaGOpaCio5+cpqWoo6SgpqKpq6mfrqmvrK2usK6rp6WpsaystK2lq7aoq6qur7CysbSsrbGlp6asq6Coq6yepaKip5qclpifmJKTkImJgZKQiXt+hXN0fYN+O2Nyc3h2eXN+dnR7cGlpXmNbZ2I1WFlgVFs+a2lPZ1loP1pAZGNqYFgvUlc8XWxmZVdhaXZ0WU9jUWF0b3lvf318cGd3fXV0eHl6d3l8d22Kdn6FeH+IiIR8hH+MlZmXkpCWlpqWm5SclJ+koZulnKWkpaCdpZ+ipaahn6SmqqekoLKsrq2uqKyuqKays7GssaWwsKylqrGtqamssbGxr6+xrK+uqKKpqq2fqaahmpuSl5mTmpeRlImNiIZ2g3aJfXduc3Z1fm5oZ2puWVBXWWBpAGNjbF9TaGVYZVxISkBVYgBNVmtaTkBJRlpsZGlUUVoRUVheOFhaQWVyYkEAZFVwa2tubnkHenR1fVlybHl0dn56d4Roc3CHfYWDi4CPhXaKlZKNk5KalJCbjJmRnJaelJ6XnqKem5qdl6Gln5+mpqSqp6ipsKexqKqjp5+vpa+wsqasqautrrOvqaioqqeyr6qjqqqqqqWkpJ2ioqChm5KOmZubnoybkIqVlIWIhYV4gnxtbnl8bm5qe25Wd1leZnJ0WFhkMWdjBUlOVmlVUFpWRE1YWhlIVmlZV2FnbVNZaFRiYWFbV1ZQWFw5Q2tnXmFvW2toHGNqZmVtZlx4aXVuaoBteX9+enCHfnt8f352d4qHiH2AiZGNjoiPlI6PmZmRlJaGlZyglpufppypoKGfnaSin6qipKeqqbGkqKSro6ysrKqtsKmnp7Oxraulq6ewoaekq6eapauqpKOjoJqhppiZl5eWl4uTm5aPgoeKc4h9eId/cW51ZnqDdGxeZGdwfWhkaXFnQW1lTVNKW15VW0FRYEgAS0NVOlRQZlVRXlNcAFZHO2pgQU11Z2phNVFkY2JodV5cO15xckNgTmZmW3Nsen9Zem92a39lanyCiYuEgXyFZHGGiYx9koeMjpCKkoaTmpuXi6Gdn5Oco5ymm6WlpqOjoJmjpqmeoKWkoKqwqqmtr6+tpaKmqaqoqqSkr52lpaOpqaymqJuoqqiho56bn6OmmZmZkJCfm5iNkpOGjIKKhn96aHZxfXRce3Bwc11oYHdnVXhoZm42V1pEZF9BUkdhUFpgW15VN11GWUREV1NDZWJDbFpWZF5bbGw8Yl1IZmopaFxlbWNlZW1zWWpYaFxpXW16f2F/dVd2fGdpdYaDgWyGhn2JjYOGiIWDho2DiI+Xi4mPk5eQjoeenp6XopuelKWknp2mqKWloJmjo6Gor6ipqaWooKOmrKilnaaiqKWno5yonp+pp6KkpaOfp5+WpZ+ln5aTi5OUlZqMhIyPjImEb3yDeH2HcXl3Y26Cc2hwa1ZacWVnbV9jWFNmWmdbV1JfR01bV1xZWlFPPkRTaE9OSVFYZl1dSldsTB1eYFNwX1RtYVNpY2xLbm5xZ2BoaXNycWZhdHdufG5uampzcntvantoanh6cXyKe3N4goGKhoOHiZCSj3+Qk5ybl5WSkp+ioJKYmZykn6CYoJ2hoKCfn6GorqKpn6Khqq6ho6Csl6akpqqkqKOmrqKepqahnZmio5GgnZudkpeelYiTn5uCl4mTfIuRhHWHaG6BgHpSeHR2WFBjXW1QTnBua1JlbmcsXTcbYV9DQE5lO0wFR0JmX2JiZE5lPy1hVlpTamBaXFpWWU9NNWdYSmFmc3pzcEt1cG9oa3lpd25KcnVneXd3Y3l9bXR6c35mgnZ2g32BgXWEiIuSg5KNiomNgZmUmJyUk5mhjZaVnY2Lo6KfnaibpKegnKOfoaapoaejpaGhqqijpammp5Klp6ikp6ijoaWfnZiSopiin4ybk6GOk5KYkJaOk4mKi4yOi4mCdIh1S4F2g3NzfXJWck9VcUtibE9WZFtmZE1ZUmBlOFBTXl83U1RVX2dRU1VUZWFOR1gAXlVnVVs0YGRNXE5ZXWNlbGQAZHFvaHFfYHBvVFlpa09rb2d6fmBjcnB+e3GChHN5eYR5fYSBdHSIiIqUioqIkYeLl5GNmJCIkZyYlZmVkpOfnpicm6igpZ2jmqShoJ+lo5ummpyrpqevpqKbpaeno5minamipKKYnJmgpZeYiJSWn5WWmJaQjYuSh4iPjoVxcIR0jntyZn16dnB7dWt5X2BrTmddS2ReZVhYWWhlYlNLD1lSN1VJU09bUlAASldkJlIKaF87Z2c8Z1FnYjtXX0RqZFpkaW1bYFNkYldlYGtfW2ZPcXV0cHNpXmRhaGZEZX1+ent8e4x7gX+Ecnh4hIOCgYaKhY6Li4qHfpGTnJ2RmIeLj5qYkpmnpZyZl5uepKifnKSio6OkpKego6igpKOglJ+gppuioqOgm5qhmJmajp6Yl5STmpSGj42Iin2Mk4uGhGpejYaFh3N2gIhwc3CBXXdsTlhsUmNQW1lmUVpbZhRGVFtpOVxfW1hWYztebChVWkRFRlhkVh81YmdsY2pfYVxbaVdaXjtSbW9gVm5wUHNbUmkAZGlvYm51eG5rVGRuY3dtXW18goJ+e211coCBgHuHi4Z/d4aQhX18i46IhpiOkZOWkZKUnqSZnpWejJSUlZ+knp2ko56Yo6CmoKGhoKSeqKacoKadppygnJ2aoJ6dl5qdmZeQkJyWkI+KiIiOjnZnZIeIhXl9gX19gnx/e21yaWlgY2deY21WZmZvYVxXY0FfO2ReGk9QTFFQW1JAVV9IS14yWk0+ZmVKXF5FXWBnRmREWWZea1ZaY2pXN19lQjsoUlJaSlNhbXdjbGpiUWFVZnZeboB1cnN5fISAd4B+cnuCiYWEhpGKfY6OgX6Kio+KiYRrhpKYlpeaoJ6Wj5qaj5SeoJ2Zl5egoJOVlp6jm5+coZ2enKGdl5afmZygnZyYl6KZkY6blYuYj5WFjIiSh4OPgIeAeX6DkX+Eenl6eYFsdXJ2Y1NsbGJybXFoYlFhLU5eWV5dXUUwXwBHSFtiYgBIa01SWVAQTzpdXldUYTRYX0JSVU5MXjRMQWZgXVdRX2RUUk1sWRhfaWxkcSxXbmtYV3ptcGVTZWJ0cXRugGxxd0JzeISHTm18f3l1gIuHf3uAgpOOgIiTiZGDmJSTl5eWlpqYnJ2Sk52Tlp2elpein5mVnpuiop+jlpecn52kkpaVlY2YkZebnZuWkY6Mk5GXiI6IgYOCh4l4dIKDcnx/fnh0bmtmd2xsZm9qY3FpYFViamhiKFA3QF9fXUQ+S15HVWlYTkZeOj49SEkAWF5eSBFuSGIrAFplWGRgR1dfVmROTmFwZWhfZ0RXIVdjbmlvamMwWmxtbmtvb2V2bGt0f2VkcnBwUHpyenJzY4B4eoGFiYSAjYqEjIOAi5aLjoaVm5iNhJKJl5uXlo6YmJSWoJ+SnIiLjZSglo6clpmUlJeWkZqSk4Wfl5iZjI2LjZmSnJCSk4GFkXiFhId1hoB8gHp+dnd7c3N6cXJ7akphaXBcSlZgX21TaFxIRFpHQk8sMhw7UFEsSFNVTkxjI0tASD5SS1o5T2tWZ1JTVVcxVGhtX2JecFpmXmJhbVckT2FfYlRxaGdlZFttZWtSandkdWxsfmdvcnlOdHVwdnh0Wnd4d4F2dHeAf4yBc4eMhYqLiJKUj5COmJKMhoyUlo6OkpaYloKUnZSTjJCYlpuckIaZkouPkpORjJCYkY+blZOTl5mIk5STi4eElJOHhomEiXt5gHiEfnqDVF91c15sVURQeVRqcnJeZm1kU0BGR05ZLlBVXGgASFNiWE4MW01ORkZVSzNIPUs5YnBeMkVPRGFCaGZcck1XIFFsZGJAaEIAU2JqZEhCRFFeYmZmTWBbbl5qaW5sbHFwaHZ1d2RueHJ0Y1ZpdHxsdn53fnqJkYdzc4Z7bX6CfHaTj3d2h4aNk5KOd5GRmZSUh4mTnouVkI6TiJSUkpSNlpqTjY2Rlo2Pi5eHi4iJkoOOfomAhZGKiouVlpSLfo18gId8ZIBlcWVcaWlubntsXnJkbW5XUlxbSUw2N15SXEBXYzpBPwAvRVBjLGJYQ1w2XABJXwBIZlBTYEIAZlBea1BkVVolRWBxbDtPXlRVaVIyZG9WbGpwa2VeRlZcVmBgXHF2bXdoZWZjaFx4b2xzb3ttentidHd1ioSDend4fndviomEhJCAhomIipCBhYuHiIySk4iMjZCTj36IhouMkpWIi4SQkpSPj4WKfZSJk4iGh4SRjIaGgnd4foqLjpOSlJiWkYOLh3CAdmh1eml4Z3B1cG4AS1VhV2BhVUJqZU1OU0xOVFc/RFFPMgA8U1FYOkhcP1U3AFVSN18gSWRGXF5gSXViXUpUQVtrbWFUX1lATkhlVFhjUV5iFWBcQWBmTUxfc3JrZ3VhYHBsZGtoY2t2Y29tdmZ3e3p+iXh+aYRwgn6JinOKhYB/hoh+hoSFiYeCiHuQioeDbIqIiImVhox7i5OLh4qOiIB4iYmNjouTjo+DfoN7fYaEf4d1hIt/jpKbloSLlZqQkpCGh4eLeHF0Y19xZl9aS11oYWJgalphS01TZVdTOyYdWyoAAB8AS0JMZWNOLB8yNDVHJ1lYYUxdSABDY1VkUWVeRwBYVzZYUC8WXmhhQ2VtMFJtZFRkXGZgTzJcaVtnamRYXF1xWGxjWWJwbF5YY1BzcXxqgHVybH9gf3VxbHV4hoRrbIiGf3J2enyDg3qUh4SKiniHhn6LhY6OhYOTi5GTjImJdYyDkZaMdYiDgXuQhYh7g4aDi4OCiWmNf4yGlJaSnJiQipGHeYF9e3NaRGVzZFMUXVRbaklWYFdPaGtWSwBdX1dgWkZOXCdLAExLU0oAOC1ZUiwAUlZidEhYQydZWj0vYmVRaVpUXwBgUGBSVmFcX0dZQGVlKExGWWtqZ2ZiZjtRWUciP0oAV3Rram5oXm1nWmRybXuCbHJvd2xyhGV5ZH2AbmyGiIiJe396aH2Df4iMjoGKiY6KgIWKlIaDiImJgYqNdIx3f4eMioWEinh4hYSJgoWBg4yDfX+LeIWGi5iOkpaRiISLl4eFb395ZHFUdHRhcV5lYVpBVFc5VFs6LVtDNkZNRU5hL1VIABRQMzhYVUgkSEQ9R1BORlhoWj5UXFphT2dpXExmXE1qXSVNbl1Ta19qWVlZAFBcWD9OZGVgZWBkZkdiaDFfcFlLa2xpbHZYPlwqbHBoYmRvdHNdYFdvgHV0gH1wcXp9c3B5b4eFgnV+iY2ChXh2h3p7f4aBgImJg4SFj4eCenyFiXqGhH6Jg4d/hoN8hX+MgIJ7enyEhH+Hhn2Ok5CWkaKYmYuEgXiDflthdVpdaWpUTlNbO0kaRABYU0FHNT0PVVRPM0ZSR0wyPk06S0lCOC9aX2JYTEJLUkssVUEgHxdBUFZfO2E2WDw5YltEV2JbUFZiUWBjUExlXlBHZm1rN2FUYnZucHBwZVJbgmticVBub15wYnBoenh+ZHV0b3NyaHJ4dHmCfX1zhXpuaHmBhXZ8hXyQgImPf4iMgIiDd3OGkolyfn2FhId5iX99gXd+b4N8gIB1hn5VcHVve3d+foaPlJiRk5icmpGBdnp0YmJpbVZhTj1UUj1aT0k8ADlUVjZjUVhGPlk9Vz1YWy9RK1sAUlgYVEwAWUleSERKUBdBRlZYJVEaP3FmRFNeZU9fSlk2RmZPYUlEVE0nVllZZTZkZGhQZmFUXj9gc2xZWVdrZ2dMampbVmNwf21ybn9ud3JnVGh0Z3J6d3h5b3NzfIBgbXuNcXeBgXB1fXx6gW9/jX+CfYGHg4l3hnaNgGWAdHiCcH5yfIZ/d3x4cG9sa2B7ent0enyMhYOYk4qOjJeTjIJvbnhvZ2RqX2U0GkhiZiQxRlxFTmA3SVBbPj5hT0NLUltUalBeNjJVUj9qR0VoXFZcWwA0SWFmU0RRW2RlLWBfYlprRFRhZmItRzRhYFlUN2FtN1ZZU21tU09dXmRdT1Rjb19vaVpgZHN3Y25zaGVteHp8eWRZaWdrh21ucnd9dXyBbW5zbIGDcHyAdnZscYCBhnqAeXuKfIZzdnx7gnd/dXRue2B5inNpbHiAX294hmhxgHpudnhZc4qEfJKWnI+Mlo6Min+JeVphdWE1S0NRSU1eaGMAYFRIVkY8RGBWDiRbVFNcKERGTldSUCdjTUUdW1Y/LVlGUVVYa2FfU1NDWApMYjFDZ1YcVklIbGdXQF1dLWNhUVlWTFNKaGJPYwBgT1lea2hXUXpxc2dmbnBhWHV2cGBbYn5sZmppS3V+bXVtZ3N2ZHt2b3N8fXtYdWN8f3dyXW5xfHp8enyFenJ1e3N/dXt+eXp7am1/g3plZHB1cGiAYVx1cnV+bXJpgHZ+eYKFhoyRko+Oi3yCdXJ3PlpmUU9FZkxhayVbSlo2GEhLSktYXkNIVz0dK1xNGy06TU5PPQBhVQAARlFOUlNgQl5UUldYZkFRR2BlUk5VUjpfcVMvVmJWZlhzZUFSAABgY11oO19kXVVZR1JsaV5lYkNucltmX2Z8aGpOUmNse2hZfG51cHxxel14bnJhWH18cG94dnJ7gXBndWt0fl96g3VYYnpoZ3qFb3xxeGB9a21xemxge3luZG5bY2BfeHRcbGc2X3hudHGAh46RhIiTg4N7dytlZl9LRGNPSWRVXmFNPzgoPEU7QixSUxZCPzYwRUZDM15aTmFcRwAvJS45TVFZVVlWN1tqWEJcUi9ZT1UdRi4dM05KFDVZVWhhUVdWSWVSY0dcW2lnX2ZZR2IiWmtrZGhpY15mXXNOUWVqeWpcSGlyanBwbm1qZnF1Z4B5em9weWlscX10YnJlZHpxYW9aeWBzfGNtf3V0aH15cnVUWYR+dG95bnF2Y15nd2xjYCpwdGtmcmhWcHJtaW+CgoCMkYeQfH+EfENjSHNPX1dNW1EoXDpVU10AMDE2ACNVSwAAMDtRRjU/G1ZRWVphAEw4QkU5RFQ5WVdCZUdSRVxVSkxDAABMU1FCY1hFM1RhW1oAVVdZYVZrVWNpAGBNYmddZVdWW2YAYmg/dR5aZ2liZltLWABraFptaHBmaG5fWXR4cGFsbml2eYB6eXJpaWRkdmxsb2ZscG9xd4CBh3F5e11ibmZnbmZdbW5mcHhdaWFzdW5qZXc3ZEZpZGRncXZmVVx0coSVjpCKgYR+dXNncGNiLAA0VzE4RU4uUFNLUDZDNlUVVRAcNE9LNkJDTEFiUlA0UEUqUTRNOzBNUlpcM1RGWlchQ1ZXVVtgVGhjCWBfKV8LXExgWGBPV1FaVV1DN1dgaWpmVFdYWlFQHm9rR1VuRGRkY11QdGx1bGR4YGtoYHBeX1taVmhla2dqcFdmaGFwW3d8aFFXeGtvdXt6cG1xeHhzbHiAdW5mbGVvanV2b2ptUW50c29tXlRtUklXanVoZ2JhMWFucH2Ef4GJhIGAemBpdGYAAABYTThVVAAAVz9JADZcGRAvQwBXVhFUADtcUVZPYE1mYkxOTSxSVk5PPmg6YFg2OzFLXVJONxJYaFthV1RgUgBSaE1BXlZLYWY3Tkw/SmZdbXRzZmYqUl9ibm9tZ2hETVk5YFRZbnBUPmBgZ2VRcmlkcUxHa2tnbk5raVxvZ3NebXNnV2ZqaXF4YGZcXmtkcXZubGtQamZ4d3FoYmpkVXt4ZW5lZm90Z09rZG9fUlBmPGVGY25qUmJvfHl9c3iCVWleaFVkACJTQ1BCFDNFRk1XAFtAM1UnIABEVlMAV0tZSjtSPklaNFBNTUIXQ1EAOypXaUxaW100Q1dGQzxnST1WR1g5QGJdWFtORDpmZltfWD4YWjc7Wl5KW2pncGhmOFpbX2ZJdGBpO1ZkVFdiYl5nZmJhXmlfeWltQWNrXVlcZHZ4cWduWGdbampyajVbaG5oc2JvdFlqZFRIWmxzb3VYAGNefG5gbG1ja2tfa2htZUVdWl9aWFpfY2xub2pudWp2clhjYmdjYVE1OSxQAFoqAE5PTlAAKFY0Ojk3OFpZWlZCPE5ASylaPzZIQEEnPjhgSx8/UkwSEVddZFpcOkApVmFWM1dTVFRhXVYwWGNUYlhLW1xSZVpSJkJVYwhOXlk1W0tWXjkqaExSTV1SWmtvcWlWb2FoYlxKUG5+ZGZzaXNlcGtraks8dW1wd3lzeX1nW29cXnpPW192U2JmVGhtb2l3WnNPaF1dWwBqYl9yVVFXW2VYAFJYXU49VmhgbFhjaFF4fH51bXBmVGJwZQBNND8sPlw6Qj0pJQBATEpNSUYcAGJJOABMQ0pWQUI8W0ZKPABNUUxEJEVJX15dMTRnWE9IWkoTR2pNWVtQYGFfZ1VaUjxERGpjWzhVV1xQRiFPXmRTWFJfWVk3YFBeVCljZ2xNAFlnbV1SNABWZVtma1lca2tqak9zZG91W05xbXVSX15xbF9kb2d2bHdfPGRsUFdreHdhUFteWlt1ZDpfZ2lsd2hjYkpiaVtobUpQCAhdI1RoVyBeX2dlQ1xocV5qZ1lMOz8FXUEtXE4/IC0ADj86O0QkJD4gVkYlHDZCXUVSWVNUQiM5TE5ST09YUgA3TVJIOhtNTSAeSVpJV1FEQEpWQEM5WGJbW2NYVFNDLmZTX1pNWldgXlxDY19YWWBfXVtHYWBlYVtNVmljYUw9U2FpZV1uRV9vZG5vaWFqWnRkaGRtY2ZcUUxbYUw1YVVsbElGZWpgTmljXURUV21la1dZVF9HaW1OWUFQU1dnRTtcP1woU1ZOI1xhWlVlOVpdSVxnWDxERmxPMwBdSklPVy45JxpHAChICC4AVVldTjMtTlRHTUJVV1E9NyUARDRLUVtMNhgCNFdLAFddVl9dV0dbU1MnSVNgKxpITFVBTVVaZGJgYVZXTVZsVmhXOyU2V2ZfT2NSOSZnVyBiZmRLYldXWktbRm9tamlQWV9ebWdOX1RSZ1dnR2NPcmFZcGphYFd1ZldvXWk4YWZTW15fYmlmbh5pamVqal5tbFRcAFpYXFZqaF9aRDdkRVdjY1MAGk1EakZMNkheY1dWPkdBPVFAUx5FDAUpADNVLURDRDUAWFBMRUY/QgBPPzI+WEMAPgBELU5eVgA8AkQAOVAtUVsoSztbTzhOXwA+TktILlRCDjwsUVheTl9fVkRRVEdDYkRQV1tkXgBMU0ZXYFIAIFtOYkRMXz9UZ0pkbkJgZGBjLidaV0tWXmZwa1NgY1VHb1xpY2VXW3VoYmBrYWNrWGRXYFhjZWRCY09bZyRPN2k+XVBmVmNfZ2lWS2loX0dDOVlSWmVERk4wNE1JT1xbWlBMWWIAQ1RGRjJGNgAFNExEVgpMGjVSUEk8TQA+RTxTHQtRUBAwSU9aUENjOC48ADI0SFtmV1oLAENHRSZCYUY9P0kAOEkyUAA8PyljT05UUUNRGy9NXF8tVFBhP11kX1tWaVpfbFJcTlNfYk9ORkViOWEAUWJLT01YYFNRPEw+YmdQSG1qT2dHOFhTc1RlamVoXWZXXmZIaVUzZGFtaGFcY1o2WSVfWT5ZWF5Ral0eSFhDWlJGUFJRSFBTT1U2Qi1DT1UoIFZOSEg3NDRYRTlDOx8mHBxPAEopK0lXUkcAAEA8DlIqQQxNRwBMUFlaK1A4SEs8AEZHQklEVgAAPEE7T0hbTABWXFFZWFhUOxReTTcAQUxGPFRcSi5CXU9NO1suV2NWG0lgNV9jWWNbaU5ZUwBJTEM/X1IAZFxUUkhKUVVILz9fW1pgW1tjaGlVAFxbXUhmWFFAa045NWVfU1BbYWpMb2dOWWxaVGNcAEJPXCtPY0IrS19MAUolL1xOWl5YWVlYJE1EOkBaTFxEN0U6Sk4zOTdPPAAqEzYAVDwpKkI6OC9AVFdIOUlUOz88RDAwTUNWNzVHUjdCT1FbAFRUFwBSHVlITGBZI0pTI0xkSWVHQENUWFNPP1tGU15cHkleU2EwJURSVBpHFSVEXl5MQUBFTjUVACQNRj9aZWdfX15AXFhRaU5kVlNeaFxrXWZla0FMYURLAFlmYmNGaVBNWWY4ZFxEQ0RmXFlUT1M7WWNjTVA1SjE0V009UlJMUUReXkdGW0xMSFxQSUFMGE8AHABTAAAjMBkAGEEdC1ICABZRQCtJPVkrPV5SUTY/VlFDOlI0RzxSJ0sgOAVDIkFDWVZXUk5MVTw3UEcAVU9RYkIROlVQVUtRDAhHOS9aYmEAH0BVUFxiRDw7X0hPGSNFTFVET0NnTkphSAA1VVVNWF9PWVw6VVxGQEsATFhXSmZZUk9gZ1xKGDZUZ1xWVFZfTFsuIVxSYGRWSjxfUkE/SyZHZVleO1IDW05SIjoeQUhbYUVJT0VQVjUHAD45Wy0AN1wJSC8+J0guMyo8RSVHRh9DO0wAAFc6MgBRR0MdPCAAGk0zPVxYWFBbT08zVUdOSkIARFgAAB0AAD5PX2FSIU5UTVJNZ04uSl0tNDhGZls3HkxTQFRRTFpdWjtTXlxVXUZWMkU7QllkV1NASlYwTipUWmFPWFNhT0U6W1ZSRUlYQ0tXTWk2Wz9RZ24jWWtZWTpQWT9NZFwAUyZQRFFDYUFDVklbU19BVlpkYTA6AEtLVA8qUVNlWUEAMy1HPEVSND5EOlFBTgArHB9PGVBOAAAUSiNIQjpZTTgnJkFiACRXO1NOXCQuOi9CPkVWUVRDUzpMRjMAAABKT1lPMzlPMC1SQkpHUzJCUlZSVVU7PkRMAFdZZlVcT19URUpQWF1WDT9gYUplUWJXTUNcTk1RTklJX15eQjZHWlpcS1ZcFi02U0o3SElaTFZfXE5mU0xAPklUX1JRAFVCAFRmUzIATFxBTkInQU5aS05fT1NMSlBVLCwUUUhIKTZNVTwyRRM2AFguG1ZOWEcuPjVXPExTJyQLFTcGHzkxLjxGAEhENi4ALlFIAEg/XEgjRlFVSkI6TkcnMwRJWkwoRVVDUU89LU8AF0EST0ZAZ19QTUlNXVNZPzwwT1JdAExRQFEEVmZbAEJfVThaL003TFVfaVBhUGBeXlhaQFFJS01OYGBKSUZNQ0s/OjZTW2RkUllHXVtdUEwAQUkrBgctXkRSXlNLRFRFWDdlRl9BOj89OTpGWFkeOzoXPGAzTVREAD84K0xIACw9MzMIUiIaKgBUNFNJRVhOHTgVTEg2ND5BPkBJPiwAPi0zJDg7PwA5AAAARAAAPUZVLCdJRlRIBgBOWEJTTQBBOiwLWF5OV1hCI0VAMFNNK1tdSSgmS0EuW1o5VlAAVzBEOD1ZWktQTDxHIEteTzJXWEhRVk1WWFxJOBdQREdMAE4ASClCUUhNS1NmZFtUXFxUaE9LJT0aAEgSTWVLMVhdUUBJVlFnMjNhV04nTFRQUU1QPEs2NVFIWkNIVj09WF48ACIuEUpHWVBPRUdFOUo/T1MtShRCRStQLisSJDgbQQAAAAMRKksjQ0JETRBRQyE9NVJHV1pNTE5SOVUtOD85AAAASx01QjhQV1M7VABHVUsqB2FaNEBTKmNaTlhUU2ExYV5VTUpPQkFQVVItIEAhUj9GSjI+UllMXFpTL1BXTFNeQkk5REo3GwZQZTlLWUlWX1peVkteSGEyXCtOMgBPS1VSOD5UWztPYFtWXGREXFVTXjljUTlFFws1T1A7GUAtYTpLQ0xWQkBEGCRFKUVbV1E1ND8ANjghRykGIVVKBD4FJUEUNAA2J0Q2NwAALwBCNVRRKiMyWkgIAABBVFdAPi4vBElFRgAJHxs7OgtFUkNPRTdQRUsnXlNRQSUxWU4AV01bTDJEVkFPTStUWDtDKyFRSVEfQEJBOD87VlBIV1VKRyYAXUI6JlVTL14+SlRNY1ZQWFViPzhNWlsgECM9Ul1SPkZOWSFEPFdIOzFXZEcATARJVRwAAFM3AEISTj1HZUY3RCtJTzk/MVdiUEA9RjVcTgBIDEs4RUE4PTMnACdHVkc9OQAfGw4lCSsBSEQ1KCc0OSM7JENMADBNPgAALkI0IUIAOjsjGgAbLDU/LzgfOlRHSFRKT1AAVgBRRw4kLgA0PDlQSlRKSBAqTz9WUUhIOUhAFVQ9H1ICPENBQ05RAAAsLVZcRTo3TVNaRUdaVEUPJFFQST9AW1wAHkpcSjIwFTxEVikAMUxPKyxNWQA5RF9cVwgzAEZNAEJSV0hGQkRPU0s2O0w5RCJIUUo5NjxHVl5KM0M0GEEkABE+Sk4iOkJGGi1GIgBFEDhPQjMoAAxSQUgtADRPUD0+MkAALgBeSCY9Ug9MHzQAAEgAEVQ7JkNdYENfV0plT1pCLwA5HStAPURSKgpBAzxDKF8SPzcyLS5hR0lNUSNmTUdNTkdSUlZPVDVgUxJIUFZKXDcyV05TVmFAXhA0WE06VjxLSSIAAAAAPAAAXgAIAEpNP1dRQlBNMzNDTEVHGjghUFpSXGNOKjA3AA45KQABVFYAAAA/KE00W001OFE8HVAAFilQNUA/FQBPBUYAFiAAMDUAABZFPEQAAA==",INF,197);
draw('cb',"VVVVVlZWV1dXWFhYWFlZWVlaWlpaWlpbW1tbW1tbW1tbW1tbW1tbW1tbW1tbW1tbW1taWlpaWllZWVlYWFhYV1dXVlZWVVVVVFRUU1NSUlFRUVBQT09OTk1NTExLSkpJSUhIR0ZGRUVEQ0NCQUFAPz8+PT08Ozo6OTg4NzY1NDQzMjExVVZWVldXV1hYWFlZWVlaWlpaW1tbW1tbXFxcXFxcXFxcXFxcXFxcXFxcXFxcXFxcXFtbW1tbW1paWlpZWVlZWFhYV1dXVlZWVVVUVFRTU1JSUVFQUFBPT05NTUxMS0tKSklISEdHRkVFRERDQkJBQEA/Pj09PDs7Ojk4ODc2NTU0MzIxVlZXV1hYWFlZWVlaWlpaW1tbW1xcXFxcXF1dXV1dXV1dXV1dXV1dXV1dXV1dXV1dXVxcXFxcXFtbW1taWlpaWVlZWFhYV1dXVlZVVVVUVFNTUlJRUVBQT09OTk1NTExLS0pJSUhIR0ZGRUREQ0JCQUBAPz4+PTw7Ozo5ODg3NjU1NDMyV1dYWFhZWVlaWlpaW1tbXFxcXFxdXV1dXV1eXl5eXl5eXl5eXl5eXl5eXl5eXl5eXl1dXV1dXVxcXFxbW1tbWlpaWVlZWFhXV1dWVlVVVVRUU1NSUlFRUFBPT05OTU1MS0tKSklISEdHRkVFRENDQkFBQD8+Pj08PDs6OTk4NzY1NTQzWFhYWVlZWlpaW1tbXFxcXF1dXV1dXl5eXl5eX19fX19fX19fX19fX19fX19fX19fX15eXl5eXl1dXV1cXFxbW1tbWlpaWVlYWFhXV1ZWVVVVVFRTU1JSUVFQUE9PTk1NTExLSkpJSUhHR0ZFRURDQ0JBQUA/Pz49PDw7Ojk5ODc2NTU0WFlZWVpaWltbW1xcXF1dXV1eXl5eX19fX19fYGBgYGBgYGBgYGBgYGBgYGBgYGBgYF9fX19fX15eXl5dXV1cXFxcW1taWlpZWVlYWFdXVlZVVVVUVFNTUlJRUFBPT05OTU1MS0tKSUlISEdGRkVERENCQUFAPz8+PTw8Ozo5OTg3NjU1WVlaWlpbW1xcXF1dXV1eXl5eX19fX2BgYGBgYGFhYWFhYWFhYWFhYWFhYWFhYWFhYWBgYGBgYF9fX19eXl5dXV1dXFxbW1taWllZWVhYV1dWVlVVVFRTU1JSUVFQUE9PTk1NTExLSkpJSEhHRkZFRERDQkJBQD8/Pj08PDs6OTk4NzY1WlpaW1tcXFxdXV1eXl5eX19fYGBgYGBhYWFhYWFiYmJiYmJiYmJiYmJiYmJiYmJiYmJhYWFhYWBgYGBfX19fXl5eXV1cXFxbW1paWllZWFhXV1ZWVVVUVFNTUlJRUVBPT05OTUxMS0pKSUlIR0dGRUVEQ0JCQUBAPz49PTw7Ojk5ODc2WltbXFxcXV1dXl5eX19fYGBgYGFhYWFiYmJiYmJjY2NjY2NjY2NjY2NjY2NjY2NjY2NiYmJiYmFhYWFgYGBgX19fXl5dXV1cXFtbW1paWVlYWFdXVlZVVVRUU1JSUVFQUE9OTk1NTEtLSklJSEdHRkVFRENCQkFAQD8+PT08Ozo5OTg3W1tcXF1dXV5eXl9fX2BgYGFhYWFiYmJiY2NjY2NkZGRkZGRkZGRkZGRkZGRkZGRkZGRkY2NjY2NiYmJiYWFhYGBgX19fXl5dXVxcXFtbWlpZWVhYV1dWVlVUVFNTUlJRUFBPT05NTUxLS0pKSUhHR0ZFRURDQ0JBQEA/Pj09PDs6OTk4XFxcXV1eXl5fX2BgYGFhYWFiYmJjY2NjZGRkZGRkZWVlZWVlZWVlZWVlZWVlZWVlZWVlZWRkZGRkY2NjYmJiYWFhYGBgX19eXl1dXVxcW1taWllZWFdXVlZVVVRUU1JSUVFQT09OTk1MTEtKSklISEdGRUVEQ0NCQUBAPz49PTw7Ojk5XF1dXl5eX19gYGBhYWFiYmJjY2NjZGRkZGVlZWVlZmZmZmZmZmZnZ2dnZ2dnZ2ZmZmZmZmZlZWVlZWRkZGNjY2JiYmFhYGBfX15eXl1dXFxbW1pZWVhYV1dWVlVUVFNTUlFRUFBPTk5NTExLSkpJSEhHRkZFRENDQkFAQD8+PTw8Ozo5XV1eXl9fX2BgYWFhYmJiY2NjZGRkZWVlZWZmZmZnZ2dnZ2dnaGhoaGhoaGhoaGhoaGdnZ2dnZ2ZmZmZlZWVkZGNjY2JiYWFhYGBfX15eXV1cXFtaWllZWFhXVlZVVVRUU1JSUVBQT05OTU1MS0pKSUhIR0ZGRURDQ0JBQEA/Pj08PDs6Xl5eX19gYGFhYWJiYmNjZGRkZWVlZWZmZmdnZ2doaGhoaGhpaWlpaWlpaWlpaWlpaWlpaGhoaGhnZ2dnZmZmZWVkZGRjY2JiYWFgYF9fXl5dXVxbW1paWVlYV1dWVlVUVFNSUlFRUE9PTk1NTEtLSklISEdGRkVEQ0NCQUBAPz49PDw7Xl9fYGBgYWFiYmJjY2RkZGVlZWZmZmdnZ2hoaGhpaWlpaWpqampqampqampqampqampqamppaWlpaWhoaGdnZ2ZmZWVkZGNjYmJhYWBgX19eXl1cXFtbWllZWFhXVlZVVVRTU1JRUVBPT05NTUxLS0pJSEhHRkZFRENDQkFAPz8+PTw7X19gYGFhYWJiY2NkZGRlZWVmZmdnZ2hoaGlpaWlqampqa2tra2trbGxsbGxsbGxsbGxra2tra2tqamppaWloaGhnZ2ZmZWVkZGNjYmJhYGBfX15dXVxcW1paWVlYV1dWVVVUU1NSUVFQT09OTU1MS0tKSUlIR0ZGRURDQ0JBQD8/Pj08X2BgYWFiYmNjY2RkZWVmZmZnZ2doaGlpaWpqamtra2tsbGxsbW1tbW1tbW1tbW1tbW1tbW1tbGxsbGtra2pqaWlpaGhnZ2ZmZWVkY2NiYmFgYF9fXl1dXFtbWllZWFhXVlZVVFRTUlJRUFBPTk1NTEtLSklISEdGRkVEQ0JCQUA/Pz49YGBhYWJiY2NkZGVlZWZmZ2doaGhpaWpqamtra2xsbG1tbW1ubm5ubm9vb29vb29vb29vb25ubm5ubW1tbGxra2tqamlpaGhnZ2ZlZWRjY2JiYWBgX15eXVxcW1paWVhYV1ZWVVRUU1JSUVBQT05OTUxLS0pJSEhHRkVFRENCQkFAPz4+YWFiYmJjY2RkZWVmZmdnaGhoaWlqamtra2xsbW1tbm5ub29vb3BwcHBwcHBwcXFxcXBwcHBwcHBvb29ubm5tbWxsa2tqamlpaGdnZmZlZGRjYmJhYF9fXl1dXFtbWllZWFdXVlVVVFNSUlFQUE9OTk1MS0tKSUhIR0ZFRURDQkFBQD8+YWJiY2NkZGVlZmZmZ2doaGlpampra2xsbG1tbm5ub29wcHBwcXFxcXJycnJycnJycnJycnJycnFxcXBwcG9vb25ubW1sa2tqamloaGdmZmVkZGNiYWFgX19eXVxcW1paWVhXV1ZVVVRTU1JRUFBPTk5NTEtLSklISEdGRUVEQ0JBQUA/YmJjY2RkZWVmZmdnaGhpaWpqa2tsbG1tbm5ub29wcHFxcXJycnNzc3NzdHR0dHR0dHR0dHR0c3Nzc3JycnFxcHBvb25ubW1sa2tqaWloZ2ZmZWRjY2JhYGBfXl1dXFtaWllYWFdWVVVUU1NSUVBQT05NTUxLS0pJSEdHRkVERENCQUBAYmNjZGRlZWZmZ2doaGlqamtrbGxtbW5ub29wcHFxcnJyc3NzdHR0dXV1dXZ2dnZ2dnZ2dnZ2dXV1dXR0dHNzcnJxcXBwb29ubW1sa2pqaWhnZmZlZGNjYmFgX19eXVxbW1pZWFhXVlVVVFNTUlFQUE9OTU1MS0pKSUhHR0ZFRENDQkFAY2NkZGVlZmZnaGhpaWpqa2tsbW1ubm9vcHBxcXJyc3N0dHV1dXZ2dnd3d3d4eHh4eHh4eHh4d3d3d3Z2dnV1dHRzc3JycXBwb25ubWxra2ppaGdmZmVkY2JhYWBfXl1dXFtaWVlYV1ZWVVRTU1JRUFBPTk1NTEtKSklIR0ZGRURDQkJBY2RkZWVmZ2doaGlpamtrbGxtbW5vb3BwcXJyc3N0dHV1dnZ3d3d4eHh5eXl5enp6enp6enp6enl5eXl4eHh3d3Z2dXR0c3NycXBwb25tbGxramloZ2ZlZWRjYmFgX15eXVxbWlpZWFdWVlVUU1NSUVBQT05NTUxLSklJSEdGRkVEQ0JBZGRlZWZnZ2hoaWpqa2tsbW1ubm9wcHFycnNzdHV1dnZ3d3h4eXl6enp7e3t7fHx8fHx8fHx8fHx7e3t6enp5eXh4d3d2dXV0c3JycXBvbm1tbGtqaWhnZmVkY2JhYWBfXl1cW1paWVhXVlZVVFNTUlFQT09OTUxMS0pJSUhHRkVFRENCZGVlZmdnaGhpampra2xtbW5vb3BxcXJzc3R1dXZ3d3h4eXl6ent7fHx8fX19fn5+fn5+fn5+fn5+fX19fHx8e3t6enl4eHd2dXV0c3JxcG9vbm1sa2ppaGdmZWRjYmFgX15dXFtbWllYV1ZWVVRTUlJRUE9PTk1MS0tKSUhIR0ZFRENDZWVmZ2doaGlqamtsbG1ubm9wcHFycnN0dXV2d3d4eXl6e3t8fH19fn5+f39/gICAgICAgICAgICAgH9/f35+fX18fHt7enl5eHd2dXRzcnJxcG9ubWxqaWhnZmVkY2JhYF9eXV1cW1pZWFdWVlVUU1JSUVBPTk5NTEtLSklIR0dGRURDZWZmZ2hoaWpqa2xsbW5ub3BxcXJzdHR1dnd3eHl5ent8fH19fn5/f4CAgYGBgoKCgoKCg4ODgoKCgoKBgYGAgH9/fn59fHx7enl4eHd2dXRzcnFwb21sa2ppaGdmZWRjYmFgX15dXFtaWVhXVlZVVFNSUlFQT05OTUxLSkpJSEdGRUVEZmZnaGhpamprbGxtbm5vcHFycnN0dXV2d3h5eXp7fHx9fn5/gICBgYKCg4ODhISEhIWFhYWFhYWEhISEg4ODgoKBgYB/f359fHx7enl4d3Z1dHNycXBubWxramloZmVkY2JhYF9eXVxbWllYV1ZWVVRTUlFRUE9OTU1MS0pJSUhHRkVEZmdnaGlpamtsbG1ubm9wcXJyc3R1dnd3eHl6e3x8fX5/f4CBgYKDg4SEhYWFhoaGh4eHh4eHh4eHh4aGhoaFhYSEg4OCgYGAf359fHt6eXh3dnV0c3Jwb25tbGtpaGdmZWRiYWBfXl1cW1pZWFdWVlVUU1JRUFBPTk1MTEtKSUhHR0ZFZ2doaWlqa2tsbW5ub3BxcnNzdHV2d3h5enp7fH1+f4CAgYKDg4SEhYaGh4eHiIiIiYmJiYmJiYmJiYmJiIiIh4eGhoWEhIOCgYGAf359fHt6eXd2dXRzcXBvbmxramlnZmVkY2JgX15dXFtaWVhXVlVVVFNSUVBPT05NTEtKSklIR0ZGZ2hoaWpqa2xtbW5vcHFyc3N0dXZ3eHl6e3x9fn5/gIGCg4OEhYaGh4iIiYmKioqLi4uLi4yMjIyLi4uLi4qKiomJiIiHhoaFhIOCgYB/fn18e3p5d3Z1dHJxcG5tbGtpaGdlZGNiYV9eXVxbWllYV1ZVVFRTUlFQT05OTUxLSklJSEdGZ2hpaWprbG1tbm9wcXJyc3R1dnd4eXp7fH1+f4CBgoODhIWGh4eIiYmKi4uLjIyNjY2Njo6Ojo6Ojo2NjY2MjIyLi4qJiYiHhoaFhIOCgYB/fXx7enl3dnVzcnFvbmxramhnZmVjYmFgXl1cW1pZWFdWVVRTUlJRUE9OTUxMS0pJSEdHaGhpamtrbG1ub3BwcXJzdHV2d3h5ent8fX5/gIGCg4SFhoeIiImKi4uMjI2Njo6Pj4+QkJCQkJCQkJCQj4+Pjo6OjYyMi4uKiYiHhoWEg4KBgH9+fHt6eHd2dHNxcG9tbGppaGZlZGJhYF9dXFtaWVhXVlVUU1JRUFBPTk1MS0pKSUhHaGlqamtsbW5ub3BxcnN0dXZ3eHl6e3x9foCBgoOEhYaHiIiJiouMjI2Ojo+PkJCRkZGSkpKSkpKSkpKSkpGRkZCQj4+Ojo2Mi4uKiYiHhoWEgoGAf318e3l4dnV0cnFvbmxraWhnZWRiYWBfXVxbWllYV1ZVVFNSUVBPTk5NTEtKSUhIaGlqa2xsbW5vcHFyc3R1dnd4eXp7fH1/gIGCg4SFhoeIiYqLjI2Njo+QkJGRkpKTk5OUlJSUlJSUlJSUlJSTk5OSkpGRkI+Pjo2Mi4qJiIeGhYSDgYB/fXx6eXd2dHNxcG5ta2poZ2VkY2FgX11cW1pZWFdWVVRTUlFQT05NTExLSklIaWpqa2xtbm9vcHFyc3R1d3h5ent8fX6AgYKDhIWGiImKi4yMjY6PkJGRkpOTlJSVlZWWlpaWlpeXl5eWlpaWlZWVlJSTk5KRkJCPjo2Mi4qJiIaFhIKBgH59e3p4d3V0cnBvbWxqaWdmZGNhYF9dXFtaWVhWVVRTUlFRUE9OTUxLSklJaWprbGxtbm9wcXJzdHV2d3h6e3x9foCBgoOEhYeIiYqLjI2Oj5CRkZKTlJSVlZaWl5eYmJiYmZmZmZmZmJiYmJeXl5aWlZSUk5KRkI+OjYyLiomIhoWEgoF/fnx7eXd2dHNxb25samlnZmRjYWBfXVxbWlhXVlVUU1JRUE9OTk1MS0pJaWprbG1ub29wcXJ0dXZ3eHl6fH1+f4GCg4SFh4iJiouMjY+QkJGSk5SVlZaXl5iYmZmampqam5ubm5ubm5uampqZmZmYl5eWlZWUk5KRkI+OjYuKiYeGhYOCgH99e3p4dnVzcXBubGtpaGZkY2FgX11cW1lYV1ZVVFNSUVBPTk1MS0pKamtrbG1ub3BxcnN0dXZ4eXp7fH5/gIKDhIWHiImKjI2Oj5CRkpOUlZWWl5iYmZqam5ubnJycnZ2dnZ2dnZ2dnZycnJubmpmZmJeWlZSTkpGQj46Ni4qJh4aEg4F/fnx6eXd1dHJwbm1raWhmZGNhYF9dXFtZWFdWVVRTUlFQT05NTEtKamtsbW1ub3BxcnN1dnd4eXt8fX+AgYKEhYaIiYqMjY6PkJGSk5SVlpeYmZmam5ucnJ2dnp6en5+fn5+fn5+fn5+enp6dnJybmpqZmJeWlZSTkZCPjoyLioiHhYOCgH99e3l4dnRycG9ta2poZmVjYWBeXVxaWVhXVVRTUlFQT05NTEtLamtsbW5vcHFyc3R1dnh5ent9fn+BgoOFhoeJiouNjo+QkpOUlZaXmJiZmpucnJ2dnp6fn6CgoaGhoaKioqKioqGhoaCgn56enZybmpmYl5aVlJORkI+NjIuJiIaEg4F/fXx6eHZ0c3FvbWtqaGZlY2FgXl1bWllYVlVUU1JRUE9OTUxLamtsbW5vcHFyc3R2d3h5e3x9f4CBg4SGh4iKi42Oj5CSk5SVlpeYmZqbnJydnp6foKChoaKio6OkpKSkpaWlpaSkpKOjoqGhoJ+enZybmpmXlpWUkpGQjo2LioiHhYOCgH58enl3dXNxb21ramhmZGNhYF5dW1pYV1ZVVFNRUE9OTUxMa2tsbW5vcHFydHV2d3l6e31+f4GChIWHiImLjI6PkJGTlJWWl5iZmpucnZ6fn6ChoaKjo6SkpaWmpqenqKioqKinp6empaSko6KhoJ6dnJuamZeWlZOSkY+OjIuJh4aEgoB/fXt5d3VzcW9tbGpoZmRjYV9eXFtaWFdWVFNSUVBPTk1Ma2xtbm9wcXJzdHV2eHl6fH1/gIGDhIaHiYqMjY+QkZOUlZaXmZqbnJ2dnp+goaGio6Skpaanp6ipqaqqq6urq6urq6qqqainpqWkoqGgn52cm5qYl5aUk5KQj42LioiGhYOBf317eXd1c3FvbWxqaGZkYmFfXlxbWVhWVVRTUlFQT01Na2xtbm9wcXJzdHZ3eHl7fH5/gYKEhYeIiouNjo+RkpSVlpeYmpucnZ6foKChoqOkpaWmp6ipqqusrK2ur6+vr6+vr66urayrqqinpqSjoaCfnZybmZiXlZSSkY+OjIqJh4WDgX99e3l3dXNxb21samhmZGJhX11cWllXVlVUUlFQT05Na2xtbm9wcXJzdXZ3eHp7fX6AgYOEhoeJioyNj5CSk5SWl5iam5ydnp+goaKjpKSlpqeoqaqsra6vsLGys7O0tLS0tLOysbCvrqyrqaimpKOhoJ6dnJqZmJaVk5KQjo2LiYeGhIKAfnx6eHZ0cW9ta2loZmRiYF9dW1pYV1ZUU1JRUE9Oa2xtbm9wcXJ0dXZ3eXp8fX+AgoOFhoiJi42OkJGTlJWXmJmbnJ2en6ChoqOkpaanqKmqrK2usLGztLW2t7i5ubm5ubi3trW0srCvraupqKakoqGfnp2bmpiXlZSSkY+Ni4qIhoSCgH58enh2dHFvbWtpZ2VjYmBeXVtZWFdVVFNRUE9Oa2xtbm9wcXN0dXZ4eXp8fX+BgoSFh4iKjI2PkJKTlZaYmZqbnZ6foKGio6SlpqepqqutrrCxs7W3uLq7vL2+vr6+vr69vLq5t7Wzsa+tq6mnpaOioJ+dnJqZl5aUk5GPjoyKiIaEgoB+fHp4dnNxb21raWdlY2FfXlxaWVdWVVNSUVBPa2xtbm9wcXN0dXd4eXt8fn+BgoSGh4mLjI6PkZOUlZeYmpucnZ+goaKjpKWmqKmqrK2vsbO1t7m7vb7AwcLDxMTExMPCwcC+vLq4trOxr6yqqKako6GfnpybmZiWlZOSkI6MioiGhIKAfnx6eHVzcW9ta2lnZWNhX11cWlhXVVRTUlBPa2xtbm9wcnN0dXd4eXt8foCBg4SGiImLjY6QkpOVlpiZmpydnqChoqOkpaaoqaqsrq+xtLa4u72/wcPFx8jJysrKysnIx8bEwsC9u7i1s7Ctq6mnpaOioJ6dm5qYl5WUkpCOjIuJh4SCgH58enh1c3FvbWpoZmRiYF9dW1lYVlVUUlFQa2xtbm9wcnN0dXd4ent9foCBg4WGiIqMjY+RkpSVl5iam5yen6Cho6SlpqipqqyusLK0t7m8v8HExsjKzM7P0NDQ0M/OzcvKx8XCwL26t7Sxrqyqp6akoqCfnZyamZeWlJKQjo2LiYeFgoB+fHp3dXNxbmxqaGZkYmBeXFpZV1ZUU1JQa2xtbm9wcnN0dXd4ent9foCCg4WHiIqMjo+Rk5SWl5manJ2eoKGio6Wmp6mqrK6wsrS3ur3Aw8bIy87Q0tPU1dbW1tXU09HPzcvIxcK+u7i1sq+sqqimpKKhn56cm5mXlpSSkY+Ni4mHhIKAfnx5d3VycG5samdlY2FfXVxaWFdVVFJRa2xtbm9wcnN0dXd4ent9f4CChIWHiYqMjpCRk5WWmJmbnJ6foKKjpKWnqKqrra+xtLe6vcDEx8rN0NPV19na29vc29va2dfV09DNysfDwLy5tbKvraqopqSjoaCenJuZmJaUkpGPjYuJhoSCgH57eXd0cnBta2lnZWNhX11bWVhWVFNSa2xtbm9wcnN0dXd4ent9f4CChIWHiYuMjpCSk5WXmJqbnZ6foaKjpaaoqausrrGztrm9wMTHy87S1dfa3N7f4OHh4eDf3t3b2NXTz8zIxMG9ubayr62qqKalo6Ggnp2bmZiWlJKRj42LiIaEgoB9e3l2dHJvbWtoZmRiYF5cWllXVVRSa2xtbm9wcXN0dXd4ent9f4CChIaHiYuNjpCSlJWXmZqcnZ+goaOkpaeoqqyusLK1uLy/w8fLz9LW2dze4eLk5ebm5uXl4+Lg3dvY1NHNycXBvbm2sq+tqqimpaOhoJ6dm5qYlpSSkY+MioiGhIJ/fXt4dnNxb2xqaGZjYV9dW1pYVlVTa2xtbm9wcXN0dXd4ent9f4CChIaHiYuNj5CSlJWXmZqcnZ+goqOkpqepq6yvsbS3ur7CxsrO0tba3eDj5efo6erq6urp6Obk4t/c2dXRzcnFwb25tbKvrKqopqWjoaCenZuamJaUkpCOjIqIhoOBf3x6eHVzcG5saWdlY2BeXFtZV1VUa2xtbm9wcXJ0dXd4ent9f4CChIaHiYuNj5CSlJaXmZucnp+hoqOlpqipq62wsrW5vMDFyc3S1trd4eTn6evs7e7v7+7t7Ovp5+Th3drW0s3JxMC8uLSxrqyqqKalo6Ggnp2bmZiWlJKQjoyKiIWDgX58eXd1cnBta2lmZGJgXlxaWFZVamtsbm9wcXJ0dXZ4eXt9foCChIWHiYuNj5CSlJaXmZucnp+hoqSlp6iqrK6xs7e6vsLHy9DV2d3h5Ofq7O7w8fLy8vLx8O/t6+jl4t7a1dHMyMO/u7ezsK6rqaimpKOhoJ6dm5mYlpSSkI6MiYeFgoB+e3l2dHFvbGpoZWNhX11bWVdVamtsbW5wcXJzdXZ4eXt8foCCg4WHiYuNj5CSlJaXmZucnqChoqSlp6mqrK+xtLi8wMTJztPX3ODk5+rt7/Hz9PX19vX19PLw7uzp5eLd2dXQy8bCvbm2srCtq6mnpqSjoaCenZuZl5WTkY+Ni4mHhIJ/fXp4dXNwbmxpZ2RiYF5cWlhWamtsbW5vcHJzdHZ3eXt8foCBg4WHiYuNjpCSlJaXmZucnqCho6Smp6mrra+ytbm9wcbL0NXZ3uLm6u3w8vT29/j4+Pj39vXz8e/s6eXh3NjTzsnEwLy4tLGvrKqpp6ako6GgnpybmZeVk5GPjYuIhoSBf3x6d3VycG1raGZjYV9dW1lXamtsbW5vcHFzdHZ3eXp8fn+Bg4WHiYuMjpCSlJaXmZucnqCho6Smp6mrrbCztrq+w8fM0dbb4OTo7O/y9Pb4+fr6+vr6+fj29PLv6+jk39vW0czHwr66trOwrqyqqKelpKKhn56cmpiXlZOQjoyKiIWDgH57eXZ0cW9samdlYmBeXFpYaWprbG5vcHFydHV3eHp8fX+Bg4WGiIqMjpCSlJWXmZucnqCho6Smp6mrrbCzt7q/w8jO09jd4ebq7vH09vj6+/z8/Pz8+/r49vTx7urm4t3Y087JxMC7uLSxr62rqaimpaSioZ+dnJqYlpSSkI6LiYeEgn99enh1c3Bua2lmZGFfXVtZaWprbG1ucHFyc3V2eHp7fX+AgoSGiIqMjpCSk5WXmZqcnp+ho6Smp6mrrrCzt7u/xMnO1Nne4+fr7/L19/n7/P39/v79/Pv6+Pbz8Ozo5N/b1dDLxsG9ubazsK6sqqmnpqWjoqCfnZuZl5WTkY+Ni4iGg4F+fHl3dHJvbGpnZWNgXlxaaWprbG1ub3Byc3R2d3l7fH6AgoSGiIqLjY+Rk5WXmJqcnp+hoqSmp6mrrrCzt7vAxcrP1Nrf4+js8PP2+Pr8/f7+//7+/fz7+ff08e7q5uHc19LNyMO+ure0sa+tq6qop6ako6GgnpybmZeVk5GOjIqHhYOAfXt4dnNwbmtpZmRhX11baGlqa2xub3Bxc3R1d3l6fH6AgYOFh4mLjY+Rk5WWmJqcnZ+hoqSlp6mrrbCzt7vAxcrP1drf5Ojs8PP2+fv8/v7//////v38+vj28+/r5+Pe2dPOycTAvLi1srCurKupqKelpKKhn52cmpiWlJKQjouJhoSBf3x6d3Ryb21qZ2VjYF5caGlqa2xtbnBxcnR1d3h6e31/gYOFh4mKjI6QkpSWmJqbnZ+goqSlp6mrrbCzt7u/xMrP1Nrf5Ojs8PT2+fv9/v////////78+/n28/Ds6OPf2tTPysXBvLm2s7GvrayqqaempaOioJ+dm5mXlZORj42KiIWDgH57eHZzcW5raWZkYV9daGlqa2xtbm9wcnN0dnh5e31+gIKEhoiKjI6QkpSVl5mbnZ6goqOlp6mrrbCztrq/xMnO1Nne4+js8PP2+fv8/v////////79+/n39PDt6OTf2tXQy8bBvbm2tLGvrqyrqqinpqSjoaCenJqYlpSSkI6LiYeEgn98end0cm9tamdlYmBeZ2hpamtsbW9wcXJ0dXd5enx+gIKDhYeJi42PkZOVl5manJ6foaOkpqiqrK+ytrq+w8jN09jd4ufr7/P2+Pr8/f7//////v78+/n29PDt6eTf2tXQy8bCvrq3tLKwrq2sqqmopqWkoqCfnZuZl5WTkY+NioiFg4B+e3h2c3Bua2hmY2FeZ2hpamtsbW5vcXJzdXZ4ent9f4GDhYeJi42PkJKUlpianJ2foaKkpqiqrK6xtbm9wsfM0tfc4ebq7vH09/n7/f7+///+/v38+vj28/Ds6OTf2tXQy8bCvrq3tLKwr62sq6qop6ako6GgnpyamZeUkpCOjImHhIJ/fHp3dHJvbGpnZGJfZmdoaWprbG1vcHFzdHZ3eXt8foCChIaIioyOkJKUlZeZm52eoKKjpaepq66xtLi8wcbL0NXa3+To7PDz9vj6+/z9/v7+/fz7+ff18u/r5+Pf2tXQy8bCvrq3tbOxr66tq6qpqKalpKKhn52bmZeVk5GPjYqIhYOAfnt4dXNwbWtoZWNgZmdoaWprbG1ub3Fyc3V3eHp8fX+Bg4WHiYuNj5GTlZeYmpyen6Gjpaaoqq2ws7a7v8TJztPY3eLm6u7x9Pb4+vv8/Pz8/Pv6+Pb08e7q5uLe2dTPysbBvrq3tbOxsK6trKuqqKempKOhoJ6cmpiWlJKQjouJhoSBf3x5d3RxbmxpZmRhZmZnaGlqa2xtb3Bxc3R2d3l7fX6AgoSGiIqMjpCSlJaYmpudn6CipKaoqqyvsrW5vcLHzNHW29/k6Ozv8vT2+Pn6+vv7+vn49vTy7+zp5eHc19POycXBvbq3tbOxsK+trKuqqaimpaOioJ+dm5mXlZORj4yKh4WCgH16eHVyb21qZ2ViZWZnaGlqa2xtbm9xcnN1d3h6fH5/gYOFh4mLjY+Rk5WXmZucnqCho6WnqauusLS3u8DEyc7T2N3h5ens7/H09ff4+Pj4+Pf29PLw7ern49/a1tHNyMTAvbq3tbOxsK+urayqqainpaSjoZ+enJqYlpSSj42LiIaDgX57eXZzcG5raGZjZWVmZ2hpamtsbW9wcXN0dnd5e31+gIKEhoiKjI6QkpSWmJqbnZ+hoqSmqKqsr7K1ub3Cx8vQ1dne4ubp7O7x8vT19vb29fTz8vDt6+jk4d3Y1M/Lx8O/vLm3tbOxsK+urayrqqinpqSjoqCenJuZl5WSkI6MiYeEgn98end0cW9saWZkZGVmZ2doaWprbW5vcHJzdXZ4enx9f4GDhYeJi42PkZOVl5mbnJ6goaOlp6mrrrC0t7u/xMjN0tba3uLl6Ovt7/Hy8vPz8vHw7+3r6OXi3trW0s3JxcK+u7m2tLOxsK+urayrqqmopqWkoqCfnZuZl5WTkY+MioiFgoB9enh1cm9tamdlZGRlZmdoaWprbG1ucHFydHZ3eXt8foCChIaIioyOkJKUlpiam52foaKkpqiqrK+ytbm8wcXJztLW2t7h5Ofp6+3u7+/v7+7t6+nn5eLe29fTz8vHxMC9uri2tLOxsK+urayrqqmop6WkoqGfnpyamJaUko+Ni4iGg4F+e3l2c3Bta2hlY2RlZWZnaGlqa2xub3Byc3V2eHp7fX+Bg4WHiYuNj5GTlZeZmpyeoKGjpaepq62ws7a6vsLGys7S1trd4OPl5+nq6+vr6+rp6Obj4d7b2NTQzcnFwr+8ube1tLKxsK+urayrqqmop6ako6GgnpyamJaUkpCOi4mGhIF/fHl3dHFua2lmYmNkZWZmZ2hpamxtbm9xcnR1d3l6fH6AgoSGiIqMjpCSlJaXmZudnqCipKWnqayusbS3u77CxsrO0tXZ3N7h4uTl5ufn5ubl4+Lf3drX1NHNysbDwL26uLa1s7KxsK+ura2sq6mop6ako6Kgnp2bmZeVk5GOjIqHhYJ/fXp3dHJvbGlnYmNjZGVmZ2hpamtsbW5wcXN0dnd5e31/gYOFh4mLjY+RkpSWmJqcnZ+hoqSmqKqsr7G0uLu/wsbKzdHU19nc3t/g4eLi4uHg393b2dbT0M3Kx8TBvru5t7a0s7KxsK+ura2sq6qop6alo6Kgn52bmZeVk5GPjIqIhYOAfXt4dXJwbWpnYWJjZGRlZmdoaWprbG1vcHJzdXZ4enx9f4GDhYeJi42PkZOVl5manJ6goaOlp6irra+ytbi7vsLFyczP0tTW2Nrb3N3d3dzb2tjX1NLPzcrHxMG/vLq4trW0s7KxsK+ura2sq6qpp6alo6Kgn52bmpiWlJGPjYuIhoOAfnt4dnNwbWtoYWFiY2RlZWZnaGlqa21ub3FydHV3eXp8foCChIaIioyOkJKUlpeZm52eoKKjpaepq62vsrW4u77BxMfKzc/R09XW19fY2NfW1dTS0M7LycbEwb+8urm3tbSzsrGxsK+ura2sq6qpp6alpKKhn52cmpiWlJKQjYuJhoSBfnx5dnNxbmtoYGFiYmNkZWZmZ2hpamxtbm9xcnR2d3l7fX+Bg4SGiIqMjpCSlJaYmpudn6CipKWnqautsLK1t7q9wMLFyMrMzs/R0dLS0tLR0M/NzMrHxcPBv7y6ube2tbSzsrGwsK+uraysq6qpp6alpKKhn52cmpiWlJKQjouJhoSBf3x5d3RxbmxpX2BhYmJjZGVmZ2hpamtsbW5wcXN0dnh6e31/gYOFh4mLjY+Rk5WWmJqcnZ+hoqSmp6mrra+ytLa5vL7Aw8XHycrLzM3Nzc3My8rJx8XEwsC+vLq5t7a1tLOysbGwr6+urayrqqmop6alpKKhn52cmpiWlJKQjouJh4SCf3x6d3Rxb2xpX2BgYWJiY2RlZmdoaWprbG1vcHJzdXZ4enx+gIKEhYeJi42PkZOVl5manJ6foaKkpqepq62vsbO1uLq8vsDCw8XGx8fIyMjHxsXEw8LAvr27uri3trW0s7KysbCwr66urayrqqmop6alo6Khn52cmpiWlJKQjoyJh4SCf316d3Vyb2xpXl9gYGFiY2NkZWZnaGlqa2xub3Byc3V3eXp8foCChIaIioyOkJKTlZeZmpyen6GjpKanqautrrCytLa4ury9v8DBwsPDw8PDwsHAv769vLq5uLe2tbSzsrKxsLCvr66trayrqqmop6alo6Kgn52cmpiWlJKQjoyJh4WCf316d3Vyb2xqXl5fYGBhYmNjZGVmZ2hpamtsbm9xcnR1d3l7fX6AgoSGiIqMjpCSlJWXmZucnp+ho6Smp6mqrK6vsbO1tri5u7y9vb6+v7++vr29vLu6ubi3trW0tLOysrGwsK+vrq6trKurqqmop6Wko6Kgn52cmpiWlJKQjoyJh4WCgH16eHVyb21qXV5eX2BgYWJjY2RlZmdoaWprbW5vcXJ0dnd5e31/gYOFhoiKjI6QkpSWl5mbnJ6foaKkpaeoqqutr7Cys7S2t7i5ubq6u7u7urq5ubi3t7a1tLSzs7KxsbCwr6+urq2srKuqqainpqWko6Ggnp2bmpiWlJKQjoyJh4WCgH16eHVycG1qXF1eXl9gYGFiY2NkZWZnaGlqa21ucHFzdHZ4eXt9f4GDhYeJi42OkJKUlpeZm5yen6GipKWnqKmrrK2vsLGys7S1tre3t7e3t7e3tra1tbS0s7OysrGxsLCvr66ura2sq6uqqainpqWkoqGgnp2bmZiWlJKQjouJh4SCgH16eHVycG1qXFxdXl5fYGBhYmNjZGVmZ2hpamxtbnBxc3R2eHp7fX+Bg4WHiYuNjpCSlJaXmZucnp+hoqOlpqepqqusrq+wsbKys7S0tLS1tbS0tLSzs7OysrGxsbCwsK+vrq6trayrq6qpqKempaSjoqGfnpybmZeVlJKQjYuJh4SCf316eHVyb21qW1xcXV5eX2BgYWJjY2RlZmdoaWpsbW5wcXN0dnh6e31/gYOFh4mLjY6QkpSWl5manJ2foKKjpKanqKmqq6ytrq+wsLGxsrKysrKysrKysrGxsbCwsLCvr66urq2trKyrqqmpqKempaSjoaCfnZyamZeVk5GPjYuJhoSCf316d3Vyb21qWltcXF1eXl9gYGFiYmNkZWZnaGlqbG1ucHFzdHZ4enx9f4GDhYeJi42OkJKUlZeZmpydn6ChoqSlpqeoqaqrrK2urq+vsLCwsLCwsLCwsLCwsK+vr6+urq6traysq6uqqqmop6alpKOioaCenZuamJaVk5GPjYuIhoSBf3x6d3Vyb21qWlpbXFxdXV5fX2BhYmJjZGVmZ2hpamxtbnBxc3R2eHp8fX+Bg4WHiYuMjpCSk5WXmJqbnZ6foaKjpKWmp6ipqqusrK2trq6ur6+vr6+vr6+vr66urq6ura2trKyrq6qqqainpqalpKOhoJ+enJuZl5aUkpCOjIqIhoOBf3x5d3Ryb2xqWVpaW1tcXV1eX19gYWFiY2RlZmdoaWprbW5wcXN0dnh6e31/gYOFh4mKjI6QkZOVlpiZm5yen6ChoqSlpqenqKmqqqusrKytra2trq6urq6urq2tra2trKysq6uqqqmpqKenpqWko6Khn56dm5qYl5WTkpCOjIqHhYOAfnx5d3Rxb2xpWFlZWltbXF1dXl5fYGFhYmNkZWZnaGlqa21ucHFzdHZ4ent9f4GDhYaIioyOj5GTlJaXmZqcnZ6goaKjpKWmp6eoqamqqqurq6ysrKysrK2srKysrKysq6urqqqqqaiop6ampaSjoqGgn52cm5mYlpSTkY+Ni4mHhYKAfnt5dnNxbmxpV1hZWVpbW1xcXV5eX2BgYWJjZGVmZ2hpamttbm9xc3R2eHl7fX+Bg4SGiIqMjY+RkpSVl5iam5yen6ChoqOkpaamp6ioqamqqqqrq6urq6urq6urq6urqqqqqampqKinpqalpKOioaCfnp2bmpiXlZSSkI6MioiGhIJ/fXt4dnNwbmtoV1dYWVlaWltcXF1dXl9gYGFiY2NkZWZnaWprbG5vcXJ0dnd5e31/gIKEhoiJi42PkJKTlZaYmZqcnZ6foKGio6Slpaanp6ioqKmpqaqqqqqqqqqqqqqqqampqKiop6ampaWko6KhoJ+enZyamZiWlJORj42MioeFg4F/fHp3dXJwbWtoVldXWFhZWlpbW1xdXV5fX2BhYmJjZGVmZ2hqa2xub3FydHV3eXt8foCChIWHiYuMjpCRk5SWl5iam5ydnp+goaKjpKSlpaamp6eoqKioqampqampqamoqKiop6empqWlpKOjoqGgn56dnJuZmJeVk5KQjo2LiYeFgoB+e3l3dHJvbWpnVVZWV1hYWVlaW1tcXF1eXl9gYWFiY2RlZmdoaWtsbW9wcnN1d3h6fH6AgYOFh4iKjI2PkJKTlZaYmZqbnJ2en6ChoqKjpKSlpaampqenp6enp6enp6enp6empqalpaSko6KioaCfnp2cm5mYl5WUkpGPjYyKiIaEgX99e3h2c3FubGlnVVVWVldXWFlZWlpbXFxdXV5fX2BhYmNkZWZnaGlqbG1ucHFzdXZ4ent9f4GDhIaIiYuNjpCRk5SVl5iZmpucnZ6foKGhoqOjpKSkpaWlpqampqampqampqWlpaSko6OioqGgn5+enZybmpiXlpSTkZCOjIqJh4WDgH58end1c3Bua2lmVFRVVlZXV1hYWVpaW1tcXV1eXl9gYWJiY2RlZmdpamttbm9xc3R2d3l7fX6AgoSFh4mKjI2PkJKTlJaXmJmam5ydnp+foKGhoqKjo6OkpKSkpKSkpKSkpKSko6OioqKhoKCfnp2cm5qZmJeWlJOSkI6Ni4mHhoSBf317eXZ0cm9tamhlU1RUVVVWVldYWFlZWlpbXFxdXl5fYGBhYmNkZWZnaGlrbG5vcHJ0dXd5enx+f4GDhIaIiYuMjo+RkpOVlpeYmZqbnJ2dnp+foKChoaKioqKjo6Ojo6Ojo6KioqGhoaCgn56enZybmpmYl5aUk5KQj42MioiGhIKAfnx6eHVzcW5saWdkUlNTVFVVVlZXV1hYWVpaW1tcXV1eX19gYWJjY2RmZ2hpamxtbnBxc3V2eHp7fX+AgoSFh4iKi42OkJGSk5WWl5iZmpqbnJ2dnp6fn6CgoKGhoaGhoaGhoaGgoKCfn56enZ2cm5qamZiXlZSTkpCPjYyKiYeFg4F/fXt5dnRycG1raGZjUVJTU1RUVVVWV1dYWFlZWlpbXFxdXV5fYGBhYmNkZWZnaGprbG5vcXJ0dnd5enx+f4GDhIaHiYqMjY6QkZKTlJWWl5iZmpubnJydnZ6enp+fn5+fn5+fn5+fnp6enZ2cnJuampmYl5aVlJORkI+NjIqJh4WEgoB+fHp3dXNxbmxqZ2ViUVFSUlNTVFVVVlZXV1hYWVlaW1tcXF1eXl9gYWJjZGVmZ2hpamxtb3Byc3V2eHp7fX6AgoOFhoiJi4yNjpCRkpOUlZaXmJiZmpqbm5ycnJ2dnZ2dnZ2dnZ2dnZycnJubmpmZmJeWlZSTkpGQj42MiomHhoSCgH58enh2dHJvbWtpZmRhUFBRUlJTU1RUVVVWVldXWFlZWlpbW1xdXV5fX2BhYmNkZWZnaWprbW5vcXJ0dnd5enx9f4GChIWGiImLjI2Oj5CSkpOUlZaXl5iZmZqampubm5ubm5ubm5ubm5qampmZmJiXlpWVlJOSkY+OjYyKiYeGhIKBf317eXd1c3BubGpnZWNgT1BQUVFSUlNTVFVVVlZXV1hYWVlaWltcXF1eXl9gYWJiY2RmZ2hpamxtb3Byc3V2eHl7fH5/gYKEhYeIiYqMjY6PkJGSk5OUlZaWl5eYmJiZmZmZmZmZmZmZmZiYmJeXlpaVlJSTkpGQj46Mi4qIh4aEgoF/fXt5d3VzcW9ta2hmZGFfTk9PUFBRUlJTU1RUVVVWVldXWFhZWVpbW1xcXV5eX2BhYmNkZWZnaGprbG5vcXJ0dXd4ent9foCBgoSFhoiJiouMjY6PkJGSkpOUlJWVlpaWl5eXl5eXl5eXl5aWlpWVlJSTkpKRkI+OjYyLiYiHhYSCgX99e3p4dnRycG1raWdlYmBeTU5OT1BQUVFSUlNTVFRVVVZWV1dYWFlZWltbXFxdXl9fYGFiY2RlZmhpamttbnBxc3R1d3h6e31+gIGChIWGh4iKi4yNjY6PkJGRkpKTk5SUlJSVlZWVlZWVlJSUlJOTkpKRkI+Pjo2Mi4qJh4aFg4KAf317enh2dHJwbmxqaGVjYV9dTE1OTk9PUFBRUVJSU1NUVFVVVlZXV1hYWVpaW1tcXV1eX2BhYWJjZWZnaGlrbG1vcHFzdHZ3eXp7fX5/gYKDhIaHiImKi4yMjY6Pj5CQkZGRkpKSkpKSkpKSkpKSkZGQkI+Pjo2NjIuKiYiHhYSDgYB+fXt6eHZ0cnBubGpoZmRiYF1bTExNTU5OT09QUVFSUlNTVFRUVVVWVldXWFhZWlpbW1xdXV5fYGFiY2RlZmdoamtsbW9wcnN0dnd5ent9fn+AgoOEhYaHiImKiouMjI2Ojo6Pj4+QkJCQkJCQkI+Pj4+Ojo2MjIuKiYmIh4aEg4KBf358e3l4dnRycG9ta2lnZGJgXlxaS0tMTE1OTk9PUFBRUVJSU1NUVFVVVVZWV1dYWFlaWltbXF1eXl9gYWJjZGVmZ2hqa2xub3Byc3R2d3h6e3x9f4CBgoOEhYaHh4iJioqLi4yMjI2NjY2NjY2NjY2NjIyMi4uKiYmIh4aFhIOCgYB+fXx6eXd2dHJwb21raWdlY2FfXVtYSkpLTExNTU5OT09QUFFRUlJTU1RUVVVVVlZXV1hYWVpaW1tcXV5eX2BhYmNkZWZnaWprbG5vcHJzdHV3eHl6fH1+f4CBgoOEhYWGh4eIiImJioqKiouLi4uLi4qKioqJiYiIh4aGhYSDgoGAf358e3p4d3VzcnBubWtpZ2VjYV9dW1lXSUpKS0tMTE1NTk5PT1BQUVFSUlNTVFRUVVVWVldXWFhZWVpbW1xdXl5fYGFiY2RlZmdpamtsbm9wcXN0dXZ3eXp7fH1+f4CBgoKDhISFhYaGh4eHiIiIiIiIiIiHh4eHhoaFhISDgoGBgH99fHt6eXd2dHNxcG5sa2lnZWNhX11bWVdVSElJSkpLS0xMTU1OTk9PUFBRUVJSU1NTVFRVVVZWV1dYWFlZWltbXF1dXl9gYWJjZGVmZ2hqa2xtbnBxcnN0dnd4eXp7fH1+fn+AgYGCg4ODhISFhYWFhYWFhYWFhISEg4OCgoGAgH9+fXx7enl4dnV0cnFvbWxqaGdlY2FfXVxaWFZUR0hISUlKSktMTE1NTk5OT09QUFFRUlJSU1NUVFVVVlZXV1hYWVlaWltcXV1eX2BhYmNkZWZnaGlrbG1ub3Bxc3R1dnd4eXp7e3x9fn5/f4CAgYGCgoKCgoKCgoKCgoGBgYCAf35+fXx7enp4d3Z1dHNxcG5ta2poZmVjYV9dXFpYVlRSRkdHSElJSkpLS0xMTU1OTk5PT1BQUVFSUlJTU1RUVFVVVlZXV1hYWVpaW1xcXV5fYGFiY2RlZmdoaWprbG1ucHFyc3R1dnd3eHl6ent8fH19fn5+f39/f39/f39/f39+fn19fHx7enp5eHd2dXRzcXBvbWxqaWdmZGJhX11cWlhWVFNRRUZGR0hISUlKSktLTExNTU5OTk9PUFBRUVFSUlNTU1RUVVVWVldXWFhZWVpbW1xdXl9fYGFiY2RlZmdoaWpsbW5vcHFycnN0dXZ3d3h5eXp6e3t7fHx8fHx8fHx8fHx7e3p6eXl4eHd2dXRzcnFwb25sa2loZ2VkYmBfXVtaWFZUU1FPREVGRkdHSEhJSUpKS0tMTE1NTU5OT09QUFBRUVJSUlNTVFRUVVVWVldXWFhZWlpbXF1dXl9gYWJjZGVmZ2hpamtsbW5ub3BxcnNzdHV1dnd3d3h4eHl5eXl5eXl5eXl4eHh3d3Z1dXRzcnFwb25tbGtqaGdmZGNhYF5dW1lYVlRTUU9OQ0RFRUZGR0dISElJSkpLS0xMTE1NTk5PT09QUFFRUVJSUlNTVFRVVVVWVldYWFlZWltbXF1eX19gYWJjZGVmZ2hpamtrbG1ub29wcXJyc3N0dHV1dXZ2dnZ2dnZ2dnZ1dXV0dHNycnFwcG9ubWxramhnZmVjYmBfXVxaWVdWVFJRT05MQ0NEREVFRkZHR0hISUlKSktLTExMTU1OTk5PT1BQUFFRUVJSU1NTVFRVVVZWV1dYWFlaWltcXF1eX2BhYWJjZGVmZ2hoaWprbGxtbm5vcHBxcXFycnJzc3Nzc3Nzc3JycnFxcXBwb25tbWxramloZ2ZlY2JhX15dW1pYV1VUUlBPTUxKQkJDQ0RERUVGRkdHSEhJSUpKS0tLTExNTU1OTk9PT1BQUFFRUVJSU1NTVFRVVVZWV1dYWFlaWltcXV1eX2BhYWJjZGVlZmdoaWlqa2tsbG1tbm5vb29vb3BwcHBwb29vb25ubm1tbGtramloZ2ZlZGNiYWBeXVxaWVdWVVNSUE9NTEpJQUFCQkNDRERFRUZGR0dISElJSkpKS0tMTExNTU1OTk9PT1BQUFFRUVJSUlNTVFRVVVZWV1dYWFlaWltcXV1eX2BgYWJjY2RlZmZnZ2hpaWpqa2trbGxsbGxsbWxsbGxsbGtra2pqaWhoZ2ZlZGNiYWBfXl1cW1lYV1VUUlFQTk1LSklHQEBBQUJCQ0NEREVFRkZHR0hISUlJSkpLS0tMTExNTU5OTk9PT1BQUFFRUVJSUlNTVFRVVVZWV1dYWFlaWltcXF1eXl9gYWFiY2NkZGVmZmdnZ2hoaGlpaWlpaWlpaWlpaWhoZ2dmZmVlZGNiYmFgX15dXFpZWFdWVFNSUE9OTEtKSEdGPz9AQEFBQkJDQ0RERUVGRkdHSEhISUlKSkpLS0tMTExNTU1OTk5PT09QUFBRUVFSUlNTU1RUVVVWVldYWFlZWltbXF1dXl5fYGBhYWJjY2NkZGVlZWZmZmZmZmZmZmZmZWVlZGRjY2JiYWBgX15dXFtaWVhXVlVTUlFQTk1MSklIR0VEPj4/P0BAQUFCQkNDRERFRUZGR0dHSEhJSUlKSkpLS0tMTExNTU1OTk5PT09QUFBRUVFSUlJTU1RUVVVWVldXWFhZWlpbW1xcXV5eX19gYGBhYWJiYmJjY2NjY2NjY2NjYmJiYWFhYF9fXl5dXFtaWVhYV1VUU1JRUE9NTEtKSUdGRURCPT0+Pj8/QEBBQUJCQ0NEREVFRkZGR0dISEhJSUlKSkpLS0tMTExNTU1NTk5OT09PUFBQUVFRUlJSU1NUVFVVVlZXV1hYWVlaWltbXFxdXV5eXl9fX19gYGBgYGBgYGBgX19fXl5eXV1cW1taWVhYV1ZVVFNSUVBPTk1LSklIR0ZEQ0JBPDw9PT4+Pz9AQEFBQkJDQ0RERUVFRkZHR0dISEhJSUlKSkpLS0tLTExMTU1NTU5OTk9PT1BQUFFRUVJSUlNTVFRVVVZWVldXWFhZWVpaWltbW1xcXFxdXV1dXV1dXV1dXFxcW1tbWlpZWVhXV1ZVVFNTUlFQT05NTEtJSEdGRURDQkFAOzs8PD09Pj4/P0BAQUFCQkNDRERERUVGRkZHR0dISEhJSUlKSkpKS0tLS0xMTE1NTU1OTk5OT09PUFBQUVFRUlJTU1NUVFVVVVZWV1dXWFhYWVlZWVpaWlpaWlpaWlpaWVlZWVhYV1dWVlVVVFNTUlFQT05NTEtLSklHRkVEQ0JBQD8+Ojo7Ozw8PT0+Pj8/QEBBQUJCQ0NDRERFRUVGRkZHR0dISEhJSUlJSkpKSktLS0tMTExMTU1NTU5OTk9PT09QUFBRUVFSUlNTU1RUVFVVVVZWVlZWV1dXV1dXV1dXV1dXV1ZWVlVVVVRUU1NSUVFQT09OTUxLSklISEdGRURDQkFAPz49OTk6Ojs7PDw9PT4+Pz9AQEFBQUJCQ0NDRERFRUVGRkZHR0dHSEhISUlJSUpKSkpKS0tLS0xMTExNTU1NTk5OTk9PT1BQUFFRUVFSUlJTU1NTVFRUVFRUVFVVVVVUVFRUVFRTU1NSUlJRUVBQT05OTUxLS0pJSEdGRkVEQ0JBQD8+PTw7ODg5OTo6Ozs8PD09Pj4/P0BAQEFBQkJCQ0NERERFRUVGRkZGR0dHR0hISEhJSUlJSkpKSkpLS0tLS0xMTExNTU1NTk5OTk9PT09QUFBQUVFRUVFSUlJSUlJSUlJSUlJSUVFRUVBQUE9PTk5NTUxLS0pJSUhHRkVFRENCQUA/Pj49PDs6",INF,132);
draw('cc',"FBMNDBwAAAAAEgAFAAAAIRESAAsKAAAAAAAAAAoADQAAAAAAAQAAIgYADgAKCQ0AADkABw8AFiAXFxgtBAAJAAAABgYAAAAAAAsXAwgAAAELVQsPDgAABwgAFQAAAwsAUAAAAAAAAAAAABs8AAAJKTYHABcLGAAAEA0EAAUAMQAAAAAAHgAAAAkLAwAzBQAHAAAAAAAEFAgDDwcAABgAAAAAAAAHBAAABxMQEhdTAAAAABgpAAAuHgAHAAAbEAASFQADBAAVAAAAClgABDcKCQAALwAAAAwXCQAEAAcgAAAAAAAcAwAgAA4TCAAAAAsAAAAAAAAADhgAAAAACx4HJx8MAAAAEQQbBQAJEyAAAAIAAAAvAAAAARsVDgACAAAmABEAAAAAAAcOCRMHAAAAHAYPAAAnCR0LAAA8AAAXDwwAAAYFAwsADQASFQAODywAPQAAAAAAABsYAAAAAAAADA4AEQMVAAocABoEAAADABIGAFgEDxEFDhAAAAAAAAAGBR0AAAAAAAAEEhQAAB8ABgARESwLBAAADQAAEwABAAQ6AAQABE4AAAAAAA4ACwcAEAAJGAAAACgyAAsAACgAAAAAAAANDFMAAAIIEQAAAQAACQAaCwEDAAAACQcAIgoACAAAGgsAAAAAFw0AAAAMABgAAAEAGAQhBQAJBSICBQAAABkCEgAAAA8nABoRABAAABcEABkAAAAAEQAhBDkAAhsgNx8KBBoBBAAEKAUFABkKGggAAAoAAAAADwAAAAAdAAAAAAQEAAAAAAAAAAAAAAQAAwkZAAAARRUABAwOAAcAAAMDAAgiAAsQACYAFQAAAAIDAAAGAAAAAiAABgQAAAAALDAFGxkAEAAAAQAbDjwKACYMDwAAABcAAAAAAAASIwYlAEQAAAUAAAILAQA0AAEAABYWAAsVBgEIAAAHBBgAFhQkAAACBAAAACkZAAAAEAAAKREFAAAcBAAAAAABLAAAEAAmCBEAAAAKAAAAGwAALiAAAA0AGgAAAQAVAAIBDgAAJDIAAAAAABIAATgAAAwAARAJCwkAAQAACiURDgAGAAEABAAAIw8ARgAiAAYACAAAAAAIAQAAAAAAFhAAAAAAAAgAIQcAAAAAAFUJAAcKAAUSCAAAAAAAAAAAHQEWGxoHAANYLQcAAAkUAQApCQUAACIALQgAAwkAAAAaAAAAAAAAAAIJAAAJAAAAGwAaABMAACEfCj8AABgaFhMAJgQXDAAAAAAUAA8AAAAAAAAJAAAbAAARBQAACA4PEwAAABgUJhcABwAACgAAAA8RIgAAGysAHSoZBAAAAAYMEgAACwwAAAQaAAAaBgAAAAAPAAkRGAEABAITAG41AAUACwcAAAAlHgYAAAAAAAoFACUAEgATABECPQAjEAABACEaOQMADwkDDwUbAAAQQgABAGMDAAMUDCIAHQASHgAAAAAAABQACkQEAAAFAAwBEQIAAAAAJQQAACcGFAASGAYAFjEAAAAADg0ZAwAAAAAAAgAAEQAAAAAAACoAAAQAABAAAAAAFQAkAh8JAAAQAAAEAAYKAAc9AAAKDwg4CQAAGQAAAAAABQY5DwAAAAAKLAgAAAAAAAAAABIqCAAAHCYKAy4ZAAAAJg0AAAAABAAGCCICBAgyAAUWCwAUOwAaAD4AAB4AKgMWAAAAAAAABRcDSAAVEwAAABIfGQkYAAYbAAYACxMAAAAaAAAAFQAAGAAADgAlCQAAIQAAAAAVAAAACgAaAAAAABIWGAADAAAAAD0bIAAAAAEBAAAJBAAAAR0NFh8ADgYaAAAAAgAABgAAADIJGgAACgAAAFsAAAAAABULBQAAMQQWAAEFAAAAGAUANgAFAwAAAABHEAYOAAQAAAAAAAgADgANAAsJAAAAAAMAABAXGQAADEMAIRQAEQAAAAAAAAAAAAASABsAAAAAAAEAABAGAAABTgAVDCIQEAAAICgACjsFAAZcSAUABQAAIwAIDwAABwAAAAAAGg8AAAAFACoAAAkAAEkJAAkVAQAAAAAGHBUXHQAAAAAACgAADBsTAB8AAAARABgFCQAAABYAAwAADxshAAANBgUtAA4AGwAADiYAAAAKBR0AGQYcFAADAAAAAAAAEwgAAAAZABMAABQAAAgQDAsfBhIABCMAAAAFIAAAAyIAFggKAAAAAAASAAAAACoAAAAAAAAADgAADQAnMAAcDAAKJwQNAAsAAAEhAAAADQsEGRIPABQaABYWAAAGEAAAAAAAAAACAAAADQYCAAgaBB0AC0UJEgAAAAAAGjIAFAADAAoJDgwAAAAAAAAAAAAvAAAACA8SBAMABAAQDwAABikAEx8AAAAAAAAAABMAEB0NCwAAKhkAAAAQABoAFAALAAAcAAgEAAAPBAAAGgAeJwgAAABHEwYDEAAAABAAHiUAAAAUAAkEAAAxAAQZAAAABQAAAAAAAA0pJhYCAAIVABoABBAhACQAAAAYAB0AIAAnAAAAAgAAC0kAEwAAAB4rAAAACRQiAAAAAgAACwAXGQAAVAAAAAAFCAMAFAAAIAIHEScxCQAAKSgAGAAAAAAAAAAABwAACQAAAQkTAB0xWyQXCAAJKwMAAA4AFBAIIgAAAAgAABsAEwAAChgAAAAAAAALAA8AABQMAAAUAAMSAAAAABYgAAAADQAAAAYODgAAAAAMBgABAhYACgADAAIAGgAAAAYMIgAAAAYAAwACFgAFBwAcBQARCw0AAAAAAQAOAAgAABAZDwAAADwAAgUHAAQMAAANGyoAKQAAADsAAAcAAAAAAAAAFQAJAAANCQkADgAEDwAAHQAACBYMAAAECAAAJAAIEwAAABsADgAEFR4AKQAgJQAALAoACQACAAANAAAEAAAHDQUAAx8aAAo4DQBPAAxHDA0HLQAAAA4hAAAAABQDGAAAFA0cAAAdBAAnAwAIAAAGAQATABAmCRsmAAAAAA4AFgAgAAABABQLAAoAAAAOAAccAQALCSEAAABOAA5YAAAOAAABHQgNFygAAAAAAAAPFgAAAAUAAAAACAAADAAAAAAAAAAVAFgPGQAPAiIAFAAYAAAAABoAAAAAHR0AAAoAAAA6GAEABgAAABIAAB0gIAAMHBcAAAAATAcADUkYAAMADg0SAgABGgAADQAAAAYdEhYOGQoAABweAAYAEgAAAAAAACYADAAIBwATAAUAAQAJBwMBAAAABAAAGw0AEwAAEgoEAAAJAx4AAAAAAAAAIiAAABQPAAAAAAAAJDAAAAAYADcaAAcADQAAAAkAACkAAEMGFRgBABIAAAAAAAAAABIWDgEfEgABBgAAEgAAAAAAABEAABIQRQQSGgAEAAAAAAAAQwAAABsGDQAUCg0DVwALAAAEAgAAABQEBwAeAA0CGAAAAAAAAAALAAkdIQA+JQAVBgkAAAAKDQADAAAAAAAAFAoAAQAAAAUtEREKAABQAAAOIgwCAAAAAS0UAAAAAgAAAA8AADYGAB4ABAANADYALgUqAAAAAAAZEgATCFAADgAXAC4AAAA3AgAOIgIMEQwAGAABEwANBx8yZRMAAAAAAAAAAAofAAAXEAAAACQAAAAABB0LABUDAAAAACEAAEwAAAACAAAAAAAABgwAAAAAAToACwAAAAAEAAcAPgAGDxMiJAAAGwoAABQRAAAAABgdAGYAHhAHCgATAAoAAAIyGAAGKScHAAAAAC4AABYJADAUHwcAGAcAAAwAACAAFAAAAQAKAwMADAQAFhFDCwUIAAAAAAANACAABAABHAAAAFYOBRAAAAAAEhUUHAAAAAAAAQAJAjMAAAMAAAIAAAEmBgAAAAAAACcDCgBIBgAADAAPAAAGAAAAEgAsAAAAACQAAgABAAAAEgAAERcSAAEADgMAAwwAAAAQCRUPChkAGwgAAAAAAwMNFw0AKwAAGR4LGQAAABgGIgAaA1gDGQAAABEAAB1EAAcADhcAEgAAAAACAAAAEAAAAAAfAAASEAAAAAAABwIAAAARAAAAQCAADwAAKgAAAAAAAAAAAAArBgAgCAAAIBYKDwATAAAUCgZMABQECwAAAAYAACsXMQAARg8AKQAeAAAqAwAACUcnFA4ANwsyAAAAAB8xAAAgACUABgAABRgCEAASAAAKDA0AEgoAAAALAkIbRwAAAAAVEQAACQIHHwAYCRMAACMAAQAlABAEABIADRELIwAAAA8FAAAlAAgRFBIAAAAAAAoABBUAAAgWKREABxMEAAAAAAAABQAAAAUJAAAJAAsAFAUADg8AAQADAAAjAAAAAAAAEg0ACQAMCRQLGAA2AAApAxkEABEACxcCAQAOERQAAAAGDwMBIwUHAAAAAAUlNQAAAAcEaAMAFABKFAIDABMADgAAAB8AAAAGAAAAAAdLAAAAABoeSAAAAAAAAAEYACYQEQAAGAAAAAAeB1MFAx0MHwANFwAAAQAdHxsICwgbBxIaAwcAACMAAAUSE1oALAAEFgAGDCoABAAAAAAMDQANAgAAAAAAAAAAAA0ADw8fBQkBBwAAABEBAAAPGAAAAREAAAADMwsAAAQAAAA4BwAAAAAAACQAGAAFDhUAAAAAABAAFxMAAAATAhYDFgAbERsSACYFAAAADAACEwAAAQAOAAANHAAAAAAAAAAOAABlEwATAAsDAAQDBAA5ABsRDAAmCQEAAhcABwAIPgwACyMFAAAAIQAAABoNAABGAAAUEAALAAYAABoACgA4HQAjExwAAwAAAAEAAAARBQkTCgAAAAAAABsAHxAAAAAUAA0AAAAHAQAAAAARAAAAKwASAAAfBAAABQAHGAADAAAUBAAAARMAABQCEQAAAAUARwAKExEACRMADwwPCBcACg8MDCESCxgAAAAAFQdADAAAAAAfAE0AADoeAAAAABUAAAAAGgAAFgADJQAAGBEAABkEAAAACwAAACEAAwAADQAAAAABBB44CgAIAAALDwAQABYIKwAAGAE8IQYMEwAAUwAeFQAmAAYGAAQXBQAANzgAAA8AABkAGAQACiUAAAAHASkJCwUMAAQAABAAFAAAGRkqAAAAAAAAAAoAAAUAGAAAAAAAAAANOAAkAAABAAAAQQ8QAwAAAAAyEgAAADYSAAMNAxAAACcAHAAAAAIAAQAABg4ACwINEQAAAhAAGwAAAAAfAAAAAAAJAAALAAAUAAAFHwAAJwQADAQAAAIAADgACAAAADMgAwAAGDAALBMAAAAAAAAaAAAQAAcALyIAMDMRAAAAACMAIQAGLgAABQAMDBEAAAAAAAAAAFQQAQAPAAAAAAsAADgvAAAAAAAAEhgFAAAQAAAICgkAHQAVYgAGBy0AWhgfAAAAABgYDAsVBgkACx0AAAAAAAEEABMKAAcAAAAFABcADBIAAAAAACUjAAAdAgAfGQAACzkABQIATgQaMxkAAANTABgHEgQIBQAAACcDBhYACgYvFgAAAAAAAB4KCxgcBwAWCgAAAAATAAAAFwAAEAAAABgNCAAPPQAAExsACyINGj0EAAASABEKAAoAAAAAABUKAAADDwAAAAACAAsACgoAAAs6EkEABAoLAAEjKA4ACAsAABkAAAAIAAAAPQAABAAADicEIwETAAAAAAAAAAAAAAAAABAGAAAABQAAAAUAAAAXWhYDBBkAAAEAaQAAAAEOHw0ABAAaAAAAAwAAAAAABgAAABYeDgAAAAAVADsfCgAACgAADh4ABQA7ERYbHw4AABQAAAAAABUAFQQAAA4CAwAAAAAmADAAAAAAAAAAAAAALxsEACAcJDELJB8ADTAfAwAACQAAAA4GCQAjEAgKAAoICCMTAAANAAAAAA9IEgYAAAAAGwUEAAAENggCDiwACgAAAAADADIAFwQEAEkAEykhBwAAAgAADgYAACUIFhAZAAUSCQAAAAAAIygAAAAcDhAAAAAADxQiABYAAQAAAAACAAkAAAAHMhk8GgBaKgANWQAGAAAYFCUAAAAAAAAeBgAAEwAHCQ8PAAAHBwAAGgADRwAAAAAMAAA9AgAMAAoAAC4YLgBZAC0CLSYADgAOXAAAKAYAGA0OADkDDwoAACoWAAElARceAAAAAAwKCQAAGwAAABAUAAAAAAAACR0OHAYARygAAAoAABEAAAAPFhQxAAAACAAGIDMLAAAiAAAAABYDDQAAAAgAAAAAAAAUBQMAAAAAAAAAAAwAAAAAAAUEAAYAABUAAAAAAAAAAAAoCAkNGhkACAAAAAcAAAoAAAoHBAA+AAAAEQAABAIAAAw2IgADAAYLAAAAAEUFASIORAAJJhIrAAAAABc6FRwMAAMAMQUPAgAAAAYHBxYdAgoGDTMAAAAALAAAAAkBBQAADRIRAABHCAAAABIALRgAAAAAAAAABw0ABQAgAAAACgABCwAAAAAAAAAEAA8AAAAAAAAoAAAAAA8hAAACAwAAAAAALQATAwAIBwAAAAAKAw0DDAExAAYAAAIHAAAAAAAAAAAVAAASAxAAKgQAEgAAFhADHwAAIgAADxAQGAAACRUBAAAAHQYBAAAAAAQRAAALAAwURQIfNAAKBhgNBS0QEQAAAAAmHR8mDg8AEQAAAAAJCgwUBAABGwAAHgkAAAsUDAAhHw4AAAANBgAMAAAACQAYEAAAQgAACwAAAAYAAAAABAAAGAAMEi9AAAAAFBoGAxUAGwAACw8AJQ8AAgAAAAoAAAAAAAARFDZIAAAAEQsAAAYAAAYAAAAAABMEEQYhHAMAAEUAAAAAAAAmOAQlACoAAAAAJRoKDwAAAAIAAAgfZAAAAAgAAAADAAUoAAMAABcOAAIEAAAHBgABGyANAAABAAAAPQxDAABADQYACAAaAA0HAAMSBAAHBQAfAAAKBgAHBh0REQAKAwQAAAAABgAAEhkPBxQTAAAACzkQEQ4JAQsMDgAGABIZBgkAHwADAAAEAABEADkAAQAAABUSAAAaBAABSQAAAAkOAAAeKS4SLgoHDAUABAIGLQUAAA0ACQAAHTQMAA4AMwAgAAAGAAAaAgAAAAASHwsAAAAAAA8DAAAAAgAAACMpEAAdCxUAKwADAAAGAAAABgAAEAwoAB4XAAMLAAAAAAAAIAUNAAAPCg4MGQAADwMAAAAAAyMQCxIAAAAANAAAAAAAABgAAAAFAAAAGgAlACIACwcABwAAAAADACkbAAAsNR8AIAACAAAPAAAAEQ0MFCUADQUPAAAVAAAAAAANAgAIAAAAAA4NJgAIABIMAAAAAAALAAAACgANFBAEIw8ACwANAAMYBwoAAAASJRFCAAAUCAAACQMBAAoAAA0AAAcKAABZDAYNAAUEAAEDAxIvAAASNQ0ADRUlAABAFAAAAAMCEwANAAAABwAAAQABAB8iAAAACAAAAAEPAA0iVxcRLScAKwAFAAAPABIsOA0EHA8GFRwAIwAAAwAoQQsAGiEACwAAAAkAAAAAAAAABgAAAAAaPQAAExESAAAAAAwSEwAFACcGAAAAAAAPCjoAABMAAAAALAAVGAAAAzgIAABKDxEWEBAKDgUAEQ8AAAYACyMJAAAAEhUnJwAAAAIAChMVAgAABgAPAgAAAAAFGQkAABQABAAADwoAAAoEFwYADQALBwAAHCYAGB0VAAUdKQAAAAAiHwAMAAsAAD8DAAAAABAABwAQB1ItBSEAAC8AAAADAAAAAQAAAAAAGAYABwAfABcdADU1BQAAAA4AAAwAABAAAA0AAAAAAAAADgQADw0xCRoVKRoTDzAAAAUfAAAJCRksJQAAAQAAAAsAACEAAAgAAAAABBMAEQADAAAACw0AAAAAADUHHQAAAAMAAAAQBAAAABUAAAAAAAMODAsqEAQAAAcAFRMzBwATEgEAAAAMFyQAAAAAAAAAAAAODAoAHAADADoDAAAAAAAABAAAKgALAAAUDBcXAgAAJwUTBUIAFgAAAAYjKh8KBgYBAANaAAAAAAAACRwnAAY0IiAABwAGAAAAABkDAFcDEgAAABQNHwAAAAAABQcABA8HCgAEAAMCAAARYBcAAwANABYLAwQAAAAgGQAAADwAAAAAIAAAE14AAA4CAAkRAAAPAAsAAAANABQAIyoFAAAAAAAnNAoPEgAAAAAABABFAAAACQAhAAEAAAAKDQAACgAAAAAYAA4UEwAdCwgSAAAAEAQbAC0AACADAAkKAAAGDgoAAAAQABMMHhcCAAAPAAcNGgAMAAAhAFIKAgAJAAIAACEADgAAECUDQhsRAAAdAAsAAAAKCAALAQ0AAAAAAAAAABcDHAAAABAAAAAgDRYAEAsAQwAAFQEDACYAAAUWAAQLAAAAAAAAAQARABACACgpACQEAAkACDYAAAMAAEkMGwAAAAAAABsnAAAAAwADABUAHAIABQAAAi0ADwUAABEmAAwABCsDDAIAABMAAAkNAAApAAAAAAsABi0VJAAXBQAECggEABhSJQAAAAAZAB0MAAgHAhEOAEYeAAA0ETEVAAAREQAAAAAAAAAAAAgLCwAAAAEAADQAEycAABIEAAAOAAA3AAAKBA8UAAEAJAAAAAANEwAAAAAADAMAFAAAABoAAAEIABIAAAAAGQAAIwcAIwgAAAALDxIXEAAECgUAAAAAAAARCyMAAAAAJCcDHAAYAAAAAAAAFgAcABoAAA0AAAsKDgUADgIKHSYAAAUDCAAFAAYAAQE4CwwPIBMOACctAAAZCwoAEwAAAQAAAAoNAAAAAAkABwAjAAAWAAATMgAAABUAAAAAGQAACQIdFAAAAAAAABUAAAAAHwANADIBAAAhAAAADwAAEEsOAwAAEwoAHgwACQ8SCwAAAAAPDRAPAAAAHxkcAAAADQAZAABUCgAAAAAAAAUKAAQAEQoAAAAPAAAFDwAAAQAAAAoXEQUABwAAFAUADgYwACcLAA0aEQMjABgAAAAAiAALCQwAAAASAAAAGQ0aBgATBAAAAAAMEg4ACQAFAAYAAAtsAAAqABENAAAUDR4IBwAAAAAAAAQYDTUAAAAAAAAAAAAMAAMEDwAAHyoOAAAgEgAAAAoAAAAAAAAAABYAAAAAAAAAAAAAAwBCAwAJBwAAAAMkAAAAFAYPAAAAAAAMCAAMCQAABx0LDQ4EAAcABhM2BwAFDREEAgAAABkRABIACSsAAAAAAi4oAAEAAAAQEwALFyI0KiYAAAYADwAAAAAABQAAABICAAAIBx0xEQAGACILAAAAAAIDABMJKAAXAEwEGAAAAAAoDQEnJCEMDAAJEgAAAAAAACkAPAsTAAAAADwAAAEHAA8YAAAzNQEAAAANKw8AAE8AAAAAAA0AHg40AAAAAAAAFgAACQgfAg4AAAAAAAgAAAAAHBsTAAAABR4zCi8NAgw4PhQAHAAAHQAbABIAIxACCAwOFwwTAAAAEwAJAAM3Aig5ABIAAAAAABMHCAAlAQZTJiMIIx4AEAA/AAABHCgAIRUAEgAADgAAkAAACAIULQAAIRoBABMtHQAACQAAAAYPFAA0GwghAgAgHg0CAAAXAQAAAAAAERUJAAUXADcNACUABAAADwAAAwAHFQAAFgAbAAAAAAIAIRIuIR8AAAokAAAEBgAACgAAAAACLAwAAAACGhYwGQAACQAAAAAAHTIfAAAAAwMxFwYEAAs1AhMAABYAMQZHAAANBgAICg0PAAAAGwAMBAkADwAAIAgADwAjAAAAABcAIRkvRSMKACIACQ4MJx0AGgAAAAsEEAQLDRIHABYAAA8AABQAJz8KLAAAAAAAACoSCgAAABEACxYbAAAgBCUCDiAdAAAWIQAdAAAAAA0ACwMADAAMAAAACQYAHQAAAAAALgwmAAAAAAAADB8AHwEAAAgDCA8AAAAAAAASECUgSDoALQAKADkMAAAJBwAADAEhABwLAAA4BAAAAAAVAAsAbAAAACUDAAM2ACIAABQXCwAAAAAAAAAAABQBAgAKAxwXACgdAAAtAC4AAAUBEgsAAE0YIxUAAAA2LxgASRUSABUWBwQLGwATDwgAAAALAgcCAAAAAAAAAAwqAAANAAAAAQAZGk0YQREAAAAAABUAAAcPEwAEGAsAAAAAAAEAAAAAAA0AAAAAACsAAAAkDgMUEV0dAAAbAA8tAAAAAAAHHAAMCAcADgUAABMQACYAAhMVAAAAAAAIAAAbAAAAAAAaDQAAPAAEJgMABgkAAAAMAAAADgAAAAAaABIABxoAAAUAAAwAJAAAAAoyAAAAAAAiAwALAFkAAAUgAAAAFk4AAAA9AA0IAAAIAQATADcYABAAAAUAFgwkAAAAAAAAEBQJAAAANAAAAAAABwAAAAAAAhYAAAACAAAAAAACAAArABABAAAVAAAWAB4WAAkARQMWACQAERkAHA0TAAAfHxodCwAAAAADARcAJAwOYAMOLAAAHAAjAABfAAAfAAUDBScAAAQXBAcAAAsKAAkDAAUFJRsKAAAKAAAAAABFAB8ACAMACQAAAA8AAAAKAAAAHxoAACkABQAADgAAAAAvAAAcAA1dIBAAEgAiOCgqAAQKACIAAiEkAAAADQsAAAAADgkAKwkHABUABQsABAQPABBdHRYAEAAHAB4DEwsOEAMABgAABAECQDoaAAAAAAEAD0AAGhcEABdhAAAAAAAGAQAAAQAQEwogBwMACA0FAwATAB4AAAAAAAAAEggABwAAARcZAB0ADRwbDQAAAAIUBAAAKwgAAAAAAgAODgIAUAwwAAQNGE0VMwQAAwAFCEEAEAgAGhgnAQATAAAAABUACicPEABZAQARKxMGAAgDFgcDAAAJAAAEPB4qAAoUDAACCgAAAAQoAAAjAAAACgAAAAkABCENEhIRACQIACQAAQASBx0MayMAAAAXAAULGQAAAx8gEjEABwARJhICCw8AIQAAAAAAEwASAAocAgIlBQwFADIpFwATFBwAGws3AAcCGAABAwAANQAADgQHAAofGxkAAAAAEwAQFgAAOwAABgAGABAeAGQWACgZAAAAFCQRAywAAFAzACQNRBxNAAAQBxAuABMIHwAABRsAKQwfAAAAAAAJBwAAAB4AAAAALwoCJDQPAAYIAAosAAAAAAAhBgAAEwYAABckAAAFAAUAAAAAHwcAIQAAAAAUDBIUCwAJAAAABAAAAgAPAAAtLgA7AAAABgAEABsFBgAABgASFBUAAAABABUVEAAgABYxABcAAAAAHSMAABwAAAAAAAAAAAYKOgBGAQYAFwMAAAAADAwAABYGEhkACgAjEAAGExoAABIAFwAAFQAvAAANBhQHACwAAAAOHQAABAAAADslCTMdMg8AKgAHACAAICknFAAnCwANAA4JEQASFjkzCwA4AAAFVAoAAAACAAAYAAAAABkaBAgRAAEADAALAAAACwUABAABBAEACgAIAAgLAAEAAQASAhMAAAAPAAAJAQMAAAAANSkCDQAAAAALAAAAAAACAAAAAxYIAAALAAAAGQIWAAAABQwNAA4FAAoOAAAAAAEAAAAAAAAAAAAABBIAAAAFABQAACMfAAADIS4GERgPAAAACg0AAAACJAAXAAAaCgMACQAAHhACASwADyEyLgAYOw4IAB8sGwAAAB4AAAoBAAAAAA8TAC0AAAALFRAAGAApIAAAAAArABQHPBcFGRgABwUDAAAAAAAPGAApCBgAAAAAAAAAHAMCEAwaAgAAGBIKAAAeCQAAAAAcPhoACQBSABAWCRMFAAAABk8RAxw0AwMoAgAFFwAABgE3MBEAAAwAABUADwkbHgAAFQAAABEAEUEBAAAAJAYbBAAAFAMAEQA2ADQAAAksAAoABzQBAAAACxsAAAYADB8AQQAFCg0CAQAXBAQAAAkFHDYACwAACAABAAAAAAARBwAAAE8AAAsHABgGAAsdFwATCgcAIAAAGygAGQ0BDAAAAAUJBxMGSAsfCw8AAAAIHAA0AAASDCUAIwAKACMAJQsNBgAAAAAHAAAjBQkYAA8AAB8ABA4AAAAuAQAAGAAAAAAAACAACgcHJx8TDgEJDgIAAB8LCAQWGhkLNEsMEQAAPAAQGAUTEQAYKAMTAAMAAAATEwwBAAADAAAmDxMAAAAVAAAAAAgdAD0JGgAOOTUGAAoyAQIWNAIxDAAyGAsWAwANGgAAFgAAACEUAAAXAwAABwQAASoAFwAADh8HACcNAAAAMwYACwAGFQAKGRAXNE8AAAAADQcAAAAAAAAAAAAABQkHAAAABRAAAAYRFSkAABIACwEAAgAXCgACAB0ADwAAAAAbNhoSAAAWAAAAAAA0AFsABwAJKwAUDxkAAAAAGQwZABIAAAADADEKAA0SFwAHGwAAAzIIAAg5DAASMAoAAABnDQAAABtaAAAECwQAACUbEC0zAg8SBCMAABkAAREAAAAAAAUAIwAMAAAAAAAAAAAAAAAOAAAAEgAPAAMNHA4cBAAAAAAAAAUWAAAeBRIJDxsXIQIQRAsAJxsEAgwcABkGAAAAAAAAAAELAAUXAAwiVQ0OAAAOAAAiBAAXIQAOCAA6BQABAAAgAAATAIABAAAAACIAMBQFLQEHAwAABwAAAAEXBCJLAAANAAAAABAABgwAAAASAB4JAAAAABAQAQAAAw8AACksAA8OGioGDRUxJxAEABoJChIJAAAhAAABAAAQAAAHDwcAFwsEABQAABYAAAwOAAA8Bg4AFAAAAAQGBgACAAAtGAkACAAAAAAMAh4FHCYAABQIABoVAAIAFQ8EIQQgKB0ACgAAAAQoBBEQBQAPCwAAQTIAEQAAAAAROgAAGSkAEgsLGxkFBAAAEBEfFxAcAAAAEwsCAAAPDxUAARIFAAcAGgUACAdHAAAAAAATHAAAAAAPAAMIFQAAAA4AWRMYCBoAAAAqAA0ABBMBCQAAHxQIGAMLHSAFAAADAAAHHwYAABgAAQIAAAAAAAwAAAAACwAGDAADAEYyAAAjEQABAAAAAAAAAAoEABUYIwAAIgAAAQ8OCQAAAAAAIzYQARQGDTYEIQYGDAAYAAs5AAAKGy8XDxsABABpAA4JAgAAHAAAAAAPAAAHAAAHAAgAHAALAAAAGAAAAAAEADgHFgAAWgAOFBQCAAATAhMAFQAPAABMEwAUADwAAAAAAk4GEA8hEyYmAA4iExkZEQ4AAAAKAAAbAAcmFggAAAcAAAcAAAAATj8rAgUAHQEGFgMLACwZAAUAEQAcBgAAAC8AEAAAAAARABMAAAAQABQABAsIDAADEQoCAAAAAAwhCgEcBBYPHhhWEwAmARgyNRUfAAAAJAM4MAwABwAsAAsAJxAPFQAGAAAUFEALOwsLGxYAADAAEQASHQUQFwAAAA8AAAAAIAACAAAAAAAKFgULAAkAAAAAADMRAA4AAAAABCEAAAAgLAANDgANGAAwABIAAAAALQIDABMAADEACAUAABImFwAAABwAAE4rExoAABEACwclADQAAAAAAAAKAAAmAAALAAAXAAAACAkAAFQYCgAHFgANHwAAAAAMABBLECInDAJXbBMAAB8ZAAMAABEAAC0vLAMTCi8tEC0hDCkhLgBAOCEAAAAAAAAAIgAtKwEiUQAAAAAAABIAAAAAABQ0ABYAAQYAAB8JBAAAHgAACBwNEgAcBwAAAAAFGhEABgsBAAAAAAAAAQAHAAATBAAACwANFgkGABIAABYbBwALFxA6OQMcETEBCQUAEiYDEx4ALQUAAAAAEAACACALAAAFAAAFAAAAAAAADAAADAAAAAAAAAAAPQAOAAIABBwACQAABxYWFBMIABwDLkBFJQ4AIiwdJEIgDwkiABc7JC8UASQUGQkQAzAOBwoAAFIRBAgARC4cAAAgAwAOARAYGAAAAwADAAAAGQ0eAAcGEDEqEwUWFAABFAAwAAQAABEFAAAAAAAOAxEBAAMEKjAJOAAAFTwACC8ABgAACjADACYFAAAAAgAAJxcAAAAYAAAMAAgZAB0QMQAQGSUACAAAAA0ACAAADQAPJBQAAAAAAAAPHAAAAAAiAwAEAAAAAAsAQQAAAB8MEBsdAA4wDgAAAB0AAAMoQhkRBgwWHRIABR0HTRYEAAAVDR8tKx8xABghDQwFCSpFABcAABACAAAJADEADQACAyoABgAOAB0AABYAAAYCAAAAFgAAAAAAOQAAEQAABgsZBAAAABIXABEAABQIGk4LEQAqAAYkABtfFgAoYwAAABEWAA4ABAAAAwBBBxQAAwAAAAAaAA9RLiMDABUQLDoAABFDNgcGBCQAABkcEgAKAAEAAAwAAAAAGhkAAABVAAsBImAACBYMGwAMDBkIJB8XABYTDBIABhUATCUALyAADRgdPQAVFQAfBxcMSQAAGgAACw8zOiQKBgAiABAAIgo6ChYwKgQLEwADAAAAAAAAAAgAAAAQFAACGjEAGQAADAUAIAANKAAAGgwcFzgAFRsDEgAAACYBAAAADAAEDBIAABIAADQAAAATLkcgAAYtIQAAACYZDAYgAAAULwQPABAAAAAJAAAABAAVAAAAACcAABQABh4AAAAPAAsOAAAGAAAJGQAAAAA/CwAAAAAAIzcQAAIVEAAAABsDAAAPHQAuADE1CSUkAxcAGBMAAD4cDR4AAABBCwYMEgAmAAkAASwvJBNDAAIAIQsSPgAACy8iAwYOABYAAAA5ZBMNABISMRgAAA4AABEfACUAFgMHEwAAAAAAcwAJAAApFg4IHhgAAAANEQUAAAcUDwAQFBojDQwAfgcRDgAaFwofFwAjcRoyDgAAAAwAVAcDAAAQGQAnAAMAABcAAAAAAAAAEQAAERIQCAgACAAHAAIAAAIDDA8KCAAMCA8HAAAAJAAyCiIYJRosAABeGBxWAAAADwEAFgAABAAfABctAAkALQAkAAYAOwA3LEQnGidUChQACgwLGgAAABAAMAw5FyIITgBMDgAACwAaABAZCwAFAAAiAAA1AAAAFgsdKgADEQAAHgkAAB8AGVIFABEAABAGBwE7AAAAAAAAUxYqDBoSJRsREQMmBwAFJVYOFiUsAAEIGAASD0cAIgQAADgWIwAAAAAAABwCDgANBgckAgAAABQAAAABBSAACQ8bFAAAORMAESAfACEABQAAABsMAAAAAwAnABoAEwQhBw0MAAATFwgAGSAPAAAABg4EAAAACBoWAC0CTBcNBAAhHAAAAAAJBw4AAAIcBh0IFgAVACEAIQASBAAGAAAAEgAAABYWCwAAABUkDAYLEREeAB4RBwgtAAAADAkJMiUABxMAACIxABoJDhMQBwAJAAATAAEUAAAAABoQDAAfCQAAMwkADgAAEAAAAAAyAAAAFAQAAAEWDBcKAAgEAAAAVgAFDgAABwAAIwA/KAAAQQwAGBkAAAAAAAAAAFcbACIBGSEAGhIAAFgVAC0BAAQTABMAEwA0WAAYAAAAAAMNAAs+CQAIFRwsDTIVAgAhAAAaAAABAAABABEGEAA3AAAKAAAQEAADDQ8AAAACABIAKQAAFR8XDicAAAAJFwAGAAAABkEWAAAWEQAEAAAAQwYKDBcGIhQRDhQhAAAABAAAAAADAAAEAQAABkodAAQABhYDABEDAAQAIBAAAQAARgAwBhYACBQSADMfCQAfFyMEEQMAHwAbAA0AMyAeAA9IAAAGHDtCFUU3BgACBh4TBygpJRgXJxoAJkcPAyEQGhcKAAANagcAFwAAACIUIgBTDgADAAAAAAAUAwMNAAAAKwAAAAAEGAADAAAAAAAWJwAAAAAECgUAAAATOzgZAAAAUhwEBwAEEiYAFQAGFyAOABkaAAAAABUkdAABCQAlLwAUMBcAAAAAAAALAAAFAAAAAAA6CAAAGCcAGAMHOQocGAAAAAAUBwMAAiEmBQAkGgAXAH4VABUAMFEgABAuEhIjEnYaAk8XEy46FiAXQgAAAA0LLBFqAAsSEhkTLQ4AAD8AAggvBx4AAAYbEw4cUAAeIxoABQcSACIAAAZDCCMABwQCAAE1ABklABQKAABVAAAMAAAAAAAAAAsADAYACwwACgATAAYAAAEmBwMXCwkOEgAAABAsAxkACgkgBRFUEQAPAGUAFBgoABYAAAAJKA4WABcPADsAAgMPBQ0JAQkNEw0AACMYAQAVAQ0AGhUCAAABLgwAM1cAFA8PKQomHTkAADUALSdEHQANSBcdPwIaIg0AAAAAACAjACsUDygGGTJGHy8TCQAAHhElHjQrClNGMCIvBQA4OR0MAB8LSQgABCIjAAAIABgADQAABwAACwAIAAAAAAApAAMABAAAAAAxJBUaAAAAIQAADx4EAA4AAA8ADgAAAAAoJgAGDQAEBwMqJABHKQgTFAMACAkAAAAVHwQAHBAQKAAZAAMAHDUADhUhAAAALhgKACYAAAkAAC8kAAAWACgyB0hUJgAADgkOPi4SXwAAD1gICCkMIhIAEmYcJTcAAAAGFgAAFwYbAAANOwJCAB4iDUIgAAAeFiA5AwgZBQYEZyIAByoAAA0AAAsKAV0QAAAcACYAACIWAAAAAAMKAB8BBQEYHE8DGwIAIQcABwAAByIAADYFHQoqHwYZAjQ6DwMAEQAAAAQAGgkLDgAAJCAAFwwAAAAAAAAOAAAtEixaHQEqAAAAAAoXERwDAAAXABMAAAACJgAADgwACwAAGAoKNQAjOAwOFwArLQxMRAUVFgAWNzYMCgg0ADMVNhEADhoiAgkAAAAAGSMYGiQBAAAfNgkAEx5eJA8RDBszAgAoEjcXKRYiJgAAKwARFiUMOAAAJgkAQTEMGgkADhMAAxoVAwkKAAAqAAMMIQAKBwoAAAkIHgAAAAAAAAsAAQAKICEjDA4dAAsUCQAAAAAADxMAAAYcGQIGABQWAAAAEAYSKQA0ABkKHC4AAAAbGRQJDwAAAw0bCgAACwwAAAA7BQBFHCwnJwAaDCwADwAAABAAAC49BxVAHxddFBQ6AAAAKhE7FCUhHwArTQABEBowJgAWAAtTAS4AMwAbAAAkAAAGBR0sAh99PgwyKxMfAAAnLwAhABUxQAoZRAAFFiwWAAA5HA4LAAAeAAAAABAAHAYMJzsgHAIIAgAAAAAAGwAEGBIAAAAAHBQADAAAHRsAABRJGyY/AAcNCQc7AAAACwAAAA4GAAAAAAIJAAMNHlwAAAA9BQAcAAQAAAAaNQofEwApBgAAACUOAAAABywYACQAH1UUDAApAgAGNRcdKgAAJS5JABstCA0UAAQAAA4AABEeJQkuPBwpHQAEChE5AFYSMjcAAAAAAEYeL09pAAAKAFM9HwAVCxUQJAYkBQAcABMjABgAMRAAACgKAwAABh0ADAAFBCseAAASCjwcDxYfJQUqAAsgNAAWABQSEgAAFgAAAxYWERogIAoADyBAAR4JAAMAExoUCAAFAAweBAk4HQAAAAMHAAAIAAAAEAAVAAAWACcIACU7DRAACRsAFgkAGAAAACwvP1gvCyIABAIzHDwcKgALNxkhAwAJAAAGAAAAHgAIFw0mNFUgBRIkIAMAABIRCAoABwAAABkBCTVcb1AuCQAABjQBFgAAACsAAw4JAAwAPwASGAUAHRotAgMdhTABAAcHFQAYLx8PCwAAAAAACgAAAAALABYGAgAFCwMAABIHDwEHDwUrDQA2ABEAACloIRIXCgAAAAAANBIAFgsLAAAAAwMAAQ4AAAABCgAAAAAAABgPAAAAABoAAAAARwYAFiYFGwoGc00ACxALGjgxD1ooABwAEgAdFgAsCwAAEg8yBQAJAAAgAAA0eTQRAAIfDhoJJgMACQAPiUAAJBI5Kx0ubDAmJCgIUg42AAAADAALAAcVFBFAHAMAEzcjADVAQAMaEh8AEw0AAA8SAAoTAAARAgAVCggrGgAuABcFLQAJAAAAHDMOCBUCAAgrAA0AJREPBQASAAQAJywjCQMaIiEQDBcIIy4VLxUBSQAqAAAADw4fCA0AHiAiABABBwkMAIgAHi10AD0iHAgAAAlACgAgNBINAB0JHiEMRUweACoAAAUbAAAgAB4AAC4AFykQUTEAOW0fAAAWBgBaMQAgFAAANCUuMwBSAAANAAAxBTsGJioOOEUcLAAKMyYAIwgAGgAdDSgMCAAABgAIABkJGg0AGwMASA4AFwAAACgAAxUAQRpgEAAAAA4ZAA4AAAkAEgQRAAsADQ8AEAAJAAUAARgNAAwmABQAAAAAAAAEAAcXCAAAEQAAAAwbEQAAHAkXHRwAAAwUADcTHAAAIwAiGwsAFi8UAAMIRRkVDyoTBRAEAAkPIkIqAAcVTT0BBAAbABICAC4uMkcDCkk5ADAfIxJbADk+AEEUBTgRGjw6JlMGESJRAwQsLV8BABMtCgAAAAUsFBAAIAASOyASAB4VNhYAGxIAAC4YAAAAHQAAABUAAAAAGQIAAAAAJQAAARlOLwgJBwFQDiMAEhkADQAwHiAACAAAAAAYAAALAAAAGwAJABgAAAQACgEGACgVAABcFAAiDSMiEy0fDBwHNw0AIwAqAAApIgAjIg4lURkYWQAOEVEDABlbESAIOAASAAkkhQArQSMfDwAsAAALCwAqKSgAACEAXyMAAAAAHwY3OgAJCB8ZOAAAAFMAABQAJy4yADMgIwoXEjsWGxkSJgsQFhcAAA4sNxkAACYBLgAqAAAAAQ4AXAAEFg4AJwAAAAAGAAACAA8AEwYUIBYGAAAAGxsHIQAyASBnAQQQAAAeHwAAAAAAAAAAJAAHPgQJFgAAAwQAEQBfEChAAGwQLwAAAAAAEwASCRtBBSALABM3FAMAAAUTBgokKgAAJRA/bg4AMwAAGiBePicPLxkyJEFTKisdCik4FRBDAC0QFhYoBQgAAGsEABYlNgcAZwAAPgU2OTYQAAobOgAwAAAAIgAQAAAAGh0ZExEpEB9AAAIAABpcIzAAAAAUAAAODxIEMgAAEAAzAwAuFBcAFzVGAAAVCwktAAMAAAMTDRsAAgcAAAAMGwEAAAoADhIKRw0PCQIAMgYFAAAAOgAAACUOAAQsBAwzVSwaACQ/JwoAEAAANQAGCykTRwAJJARBFWY7AAA0ADYbAAAtMAtVHQklLA0AABoMAQUIOCQUOwBYBUhaTR0BABgPMAA8PkcKJiYADE0xAAAuLQArAEAMPSZiMRggfxkLKw8MGg0DAAkgAAIkPx4AFAQAABc2AC8AAAAAAA8AHA0dIWAgARMBHSECAAAmJhgKAAAAGxoADS0EAAESDSQUBAAPAAweAAwAAAAAAAAAGgAQDQAZCRwAIR4IDhMAORsrBBQAAAUCABQhADYaMQUZDgAAODIoIBIwEScAAxJJHSM5MAgiIQNDHAkAIhwAEgkPRQASDDELRAkrDFU1FQIAKy4CJAANWz88FA4OUXBDAAkZI2YoQyQ+I18YGjAbiD0VMgBaDxAfAB4AOhYABy0TACQwCis5BQAAHSMHRBpVAAAABAAAABYADQ8NRwAIAAAAFxoPAGYBFg4ADgAhBhQAQgsPOAAAAAAAAAYAIAQDFgAAMw0mAAYHADEvAAAIAAAhEwADAAAWKAMIFgAbAAAABRoOAAAASE8TIx1sJS0CDSZDFioJGhMSGw8CAAwNJQBBBQAPGQAAOAkaNC9aPiMAXDdTSS83DAMAIxYxBR0AJgsyNRosTxAAAAEqAFZUHUlMcyUXACgAAEQeOiU6BAAVDQAAEwAAABkkCkAAC0EAADEzKAAnAAAOCgAHFCcAKwAAEBEJAAAOCAAeAAAAAAcUHx4ABwAAFgAAABs5FgAjSxkANgANAAMNABMAAAcAGgEABwoABQAxAAoAAEAAAAAADzIAAAAAAAASKh4SGQAAmCwADgBGYQAALhUTLQARAAAtGwAKAA8CDQ0uBx4KExcjAh4ZCwJKaSs3OWMvJqgyJSNSKwFbACZHRjUDK1MwMT0kCxgAUjpFIkAAABwtO0sLKEdCGR0WMC0WACQxGgAEBQUUHgAAACwJESEcGwoAMDocBwAgAAcAAAAJAAAdESEAAAAPMAAAKA0GIBIUEAAGAAElACgLAAABOgUAAAAAABkAQgIKCQArExwBKgAkAAArDRMACSYmAQAlDAAAABUZACAKBwAAGgNKHSMXEQAAADIAHA85QggiAAAZHRVMBwARShoPLyQAOgA/I0kcPmIATidKcA0kAB0LWDs7Bg0lABEsCWc/FlMjIgAERT9cADMWQVBCA0mDIjsAAAQSAA0RDwAZKAEAGycOCQAKEgAUAAAAHQ0AAgAAEyIAAAAAAAMGAAoKLgAAAAAOAAAlAwAAEhwlKAAAABcAACMACQsAAAADAAAGAQAlJgAACxINAB0QgAAMAAAAEAIqBwQAABMVChkAAAAHDwgnDgQdACYFSSoBQgoiD0AAAAsaNwAAAABGIEpjAwAJOQA6IUAcGFUzGSYZEygQGRsAFUcyGV9BDhIAOwBORHMAACAxIjopAAAACD4wFzBOAAEmAAAnDyJFFwAhFEYAAAAGFhAqDhUAPVUlABcTHQcDMhgXFEIAFgAABgAUAgAEKgAAAAAAAA0OAx0CAC4iUxAkAwAANQMAAAAuAAAUAAAMABAoAAIvFwACAAAAGRUwABcABg4AEywBABUAPkwAAAAAAAAAABtGEAAMAFM4GxwUAS8NEC0AOxsnUhNMBBZDMUInACpWJFJPAEwYKgoCEzIBSAAxMjpULwARKxhJQBgHKSwoACgCZhEAAHUeAElAEwAAHDIAFU8SJBwebTclAEQ4ABMJGQAEJSokAB0AEwADAAALFQBNAAkxJQArFxwkRgATJwcnAA0AACQAAAAABgAACSUFAA8kAB0aCAAjAAAAEQgAHg4jAAIAACEgHBIIAAwXAAAlBEIADwAXABckAAAAESAQEigsWAAAFgAAHgAeCgBTCgAADwAeAA9AMis0FxsbKyMYN4MNLwkaPABHJBYAEQBSEBA3IjAyWkY/MggcPEYAIDE7RFIzYHJaKgIAPBAAAD4wBioAHB0AAAAsOCoSDQAAAwAiBwAJHAAZUyRxDQAAGQAVAAAaDggADRkAJSMAKgAkAAJJAAAoAAAHACMYABFhGUIbFB48AAAFAAAABhwADBcjAAAADAgPBAAAACQSAAABHBMoAAAAABUDGBoSAAAAAA0CBAAABA4FABMAAAAoAAwAAAUAIjkAABIoDBwpJgA7IBoAACE3OABFTx0LAFtTYSghEwAAGwA3PRAAHEJZHCkAKjgAKThJREpFTUVVPUJzUQAASgA1AAAnWQAZLiRCLiwAIUQART4WNgAAAB0/JAA/CgBeHgAkABBMCkcBMAUYAAADNRwEADUsMgAgAC4AEDYAAAAUHQAADQUAEgIAAAsHARgRFgAAAQANAAAfAAAPGjAXMxsAAAAQAAwMAAwACgAALhVOGAADABQAPxsAVU0BHAASCiYvPEUXKB1IaxgdABYSAF0FDgwaDSolaS5ECgAKACcuKQAAET1QAB4YdgsSAgcJKQQkMjNNU1BlT3BpZk9lAE0HGjAAACV8AQAuBBIOAFFCKENFHlgAHBwUAAAAAwAEEiAAAC4rADg7AAAoEhAtAAAYKTQoCA0ABAMAABcAACArBxEAECQqJAADAAAGDQ8cAAAAABcAUwAOAABUGQsACBAwFgAALhUAJgAABCkTQAAGLAATFAAACzgGNwAbIxEKGgUKADkqABkgMwA0EhNCSAAANhoQX0EbOgAXFkpCPgAAAEZPfgAAFyAgKiEAA0QAACMhIUkuHS9GZVRxQYt7f3qEgD8wHCF9RAA2FEwAG1RDBgBQVVcyNJlYABwKICIAJTIyDl0rJwA3FScgAGoFDTIDACMAACscGCIOExwAAAAvDWAwQh0ABAAGLxsUF3ImTRMQAAALFQAAAAAaEC80BQUIAAAKXAARDhkLExgKFAAAAAcAAAALCRUNFgAAAAwIBBY3HCwgEEgkIFRHDiQqCBVEAA8AIgk9AAA/KABfKxUAFAwrHwU9RBAAIWkUO09eAAZYPxMFBjtJMEEVhi1vhX+Qd4d+rKR6q3JUeQAPVzs4FwArMUcAEyYAFAgAEBEAABAXEQ4APjQkHA4VDhIXNhwSFgAtVAkOAAAQAAAeSzUbABYKCx0IDwAdAAAAACMCACYjCw4FPQAOCw4KABoAAAALDgAAAAoAHxoAGAAKDAAAFAAAHQAAAxkRIgAAAAAFAAAAAABHDR8LAgAtCxYABTgAG1gdAAA0AEshTTgAV0kUAHcNTFArCQATACQVThxMBzcAFUsXITsnCVJOAAMNVGV8P5uigAy6uq+cnI9amoyTFIJJXQ88AAAtJ0EtXQAtMANdVQAhCQBUKCUELEMAADUFMQQdKQA0DAIOATk0FWBZDiUbIQ0APwAOHlMaGSsCEQAQABUAJAAAAAAAAAAAAAAAAAAYAgAAAFUAAAcAFQEACgAkEwsADUcAEQoMACgyABYMBwAAEQ8ARjAAADYCACU8ARRQADAUIAcAPSBxNk40YGsZOCouVW4qATpVSjUAJCY3GVVGAAIdHAAWKQAbaWgARGBeJEt4mSCxm9vJ3ba8uJnPwyIVknJmJU4QNRoADQUAJzowEBoAAAAAADZhAAYhJScuUCAqIwAAABFBAAAKHScnBQAAEwAPAA8BAAAZAAAAGhQmADgAACIvHA4OAgAdIAAAAAUAAAALAAAwCiMYEAAFGRMXACEAABEAACIYAAsMHgAAAAMnGAACKwAiKyAbLQ0AEhsuKiAABUtFLS9CVAsZSgAXAAAAfkltUxkDGRIQKkNyAAAYAB4aKgBOI0AAJzwAMTJcAId0JUtUWRXA3NzftqLb4KvAAKu1X3WIZFVFABoLADA6EBssLAUAEyUKDCIABSoAAAVOBwUADQAhNxU8BzQAQA1IAAYjMicgQAANAAAAHQAAAAMOABAAGCgAACwFACcAGxcADwAJLAYAAAAAAAAAIwAcHgYKABU7JwgHAg8BACMAABAAAAAPAAAoAAACIAAAFC8AGRlPHi0VKlQEKzcsQRYHRkQAUWNCJylHMRsIGAAQSxMSFylCADEVNC8/JyA7NxlCP2OMkACsoVTA5LXZ093ZtuQxtC3f3Jyxlph8b18zLg8cWQASQAAeHU0AKjEeCAsAIUgOHSRTKA0hBwoMGQ8ACQAREyAUHjsAAAAkTC4bEwAACQcAAAUWEwAQAAAHAAsAAAAAAAAAAAAAIQ8LAAAAAAEIEQAAAAYzAAAdAAsAAAkEEgAAAAAuACkPAAQADCUcAAQRAAAAAAAaDgYaNUE+EzFrJAAALAYtLzIfUlOFYDEQMA1bIgBHAGI4R2gLHRcRKUcxK09dbZ+OwZXQNmoQxL2ho8qdtxrA1KKzy7ukqaIlZE86QDwUSwgTXgIAAwBHAA4AAAALLRc0MBQSPioAJwMAIClJBQBnEwgAIkAEACwPKQAAGwAAHQAAUhkACgAAAAUQAAAFHBUzCCQWBwAAAAgHAAAgBgADAAAHABEAHRMAABUAAAAwABcABioADA0AABkfACgAJgEAMQ0OQCoDABUoMRMJRwxFVSdWemQMAABpS0YmTkBQGUFNHCkASWInAAYAFwAUSixDVl9+mLbNqNDP2ysbvtXFzQwiQ96/5qrQnLXBNWtuADcVFi4vDzc8LikADjsaKQMAESFCSEpgAAAAACkcUzkUCiEsDgAAIAESIQkHAA4oICQRAAAACx8bDAAZJw4AAAQALkUQAgAACRQABgAAAgYAAA8AAAAeAggNHQAmDgAAKAAFNAAABQAAJSIjCRIAAAQARA0PPgAAAAAPVicDcEkAHDUSNkcWKC41PwMtEBMAJ1lJKxA4PzUkABYzIVdCVAASGyoAMkxwjJukqMzVEp/Y075co6vFuJ2jJbHKqdjHsb1ERSIMDSUEFlE1DAYzMgAfAAEAHBAmKUUtM1sTWgA2M0QcHiYgGCUmAAAqFBggCwAgDAAxAAAAHyETHAAcACIEDQEUIgARKwAAAAAAAAAAAAINCwQVABsVGAAADQAUAA4YGDJDEgsHAAAMBQAAAAAiNwAAABgAAjkrAE4iChUCHi0iCiBpAEUgAD9HQwAzVzkwACprHmZfNFIdAEJcmCFgEggADTkOIgBGUX14q6u+q9ToxhoOlLelgKiWLh+1xds6uRYu1J+BIks+NCExGywgJyhAGTMACTJQKhdBAGIEMToADUgyKQInIDcAABANFAAaMQArABYrJgEAPAAcBAsAABAAABQiFgUAACYEAAQEACAAEwYAAAAaABcQDQEAAAIAOwAaBQAgAAouAAIAOBgHFwsHAAANABgLAAA4AD4ABQAAACQBDBkqLC0gRT0kMigAQyQ+S2ANAIxgAJUcHkMAJwtRLAAAAAAfMEAnMghvaZnC1kfEq+GhoCSYeXp1h2+GW6XFl7hRWAUStoBgMGhteHh9VVskcw0tDg0fWVAAOgAlCAYKABEPFgAVDBcAMDMMLgghADIUADklZRoAABkAAQIDBQAACQAxFgcYAAASFQAlFAANAg4AAAAZHwAKHQAfBAANPxkFBxwOIwcADgAAAAAFAAA4AAMAEwADIAAAAAAABgATByQrAD9JRwAhLwhRlyoAIwczbCRsS5EAGx0sCUMAR0gsI1MxISAARjwlQChCS2x2msuuu6jXt7qQq3UhAAAAAACDepilQDSgSr1sPa+fkZijo5aPgzZLOx52DQAXfTsGKjMeGgAFGhcIDQAAABEmAAwMLDweLBQSFiQbABkAAAAfAAAMAQwAFgAAAAgPAAAADAAKAQ4HAB0AMwAAAEUAAAAAACgXAEQAAAAADA0AHgAAEwoAAAEjBCIZAAA8Dx4DKwAgGwAiPEc1OgRfA0MED10NW1AjRjkuIilGQBFhABIZAACKe1wjJCwIAF8uHA0lOzxfggCGx9Kr463Hypd8gQAAAAAAAAByWoBN2i8AYsSojZSxvL26qqOIcFBlWgAAADUnIiwnFyJsHhEAAABIOhdMAAAyWwAYPyBcNwAAEwQGCAARABQRLAAAAAABAAATAg8lJwwZAUIAAAAACx8HAAQASBkFAFRPChkYECITAAAaAgAEBwAYNQE+BzgjASgTGTBYDDcyAgAADw8VAE4+AA8AHh9EWysURHAnalgiIjInQhkwAEFLAAA8IwAlO1AXNCwULVIWPlsjG7RYbuLFt9GSnIkAAAAAAAAAAAB/pkYOM6A2XlmUr8HJysW7q59rajQTAAsZXTg0Bi0dJR8AHDkRByQTABg0KTE6QjdBQiw6AAAAACM1GwogAAABBiICAAAAAAAAAAAaFA0IAAAFAAMIDAAABBAAAQ8AFjMlExkAAABPAAAAADkKNCshFRwCAB8AFwALChUTEAknAAMABC4KFgAHAgAiFjI5GzRYADY7ThFAEkRTJANVOUEhDW8ZalkZAAAALRMAIB0ATiKjPZnhns4umYN9AAAAAAAAAAAAAAAiMzcgOghNkqWuw8rKxbyul3haVR8hEwAEZj0RCC0ABw4AFgkAABMFAAIAAEoWTohoMW4ACQAAACMCBAAAAAAICgAGAAAHKQAPAB8KAAACFBUAAAAANAAABQAJCwAPJikAAAoAJAAACSQBAAczDAACLSsHJQAAAAcaGgAdF0YAGikALhgPAAQXDTEAK2IWCkEuGzcEF0ULSW8ANXZ9E0YjJRoyCQAANitHOgtbCI90aLAluEYdIc3Chi8AAAAAAAAAAAAAAE0AMNOgq8aFjJ+1vsC7sqaTd1BCDykAOiwwEDEBARVXLhotHxEUACA+ABobNCcaXjFdGwAeIQgAAxAyAAAAAAodAAAACQAeBQQACRMAAAAQFwAAAAAAABEADRMAHhAPGAAACT5qACQAAAA1GSgkNS0AAAAAAAYAAAoRABcyAAEANQ4ZSB4TAABtOykALjgAGAQPNBZeTR0APiE4VzlPRF4zLQA2HwA1LilGJ105P16Qg6pUuh2/tpk0fQAAAAAAAAAAAAAAj4GiRAAqK66jjKCmrKqjkYWQWkcSHAUACAIKACoAFTYEGBdSCwAAHQAADR8UZIE4cUIrMyEJDQcAFSUXAAAUCAYZBQARAAAMAAAACAAAAhQYACANHwAAAREAAAA4CAEAAAgLFgAAABIAFAENGxgADg8AAAYAAAAwCh4kFyMAAQ8tMxcAAAEDCzwmHDdyFAoDFBgdDFZEABtqRgQQURgLAU0yBgA9Gjk0Pk80Wzc+P6GZn52hr7++op1wAAAAAAAAAAAAAABHML3RIsciPE9leIyWfoZnRABcAAAvAAAADEEAAAALAAAIIxkIDgUSBAANDBI3Njx3O2skBAMAAAYAAA8AACYhJxEAABIABAAACAAAAB8ILQA6AAMJABUABAAAAAAEFioAHB4cADUODwAADwAAAAA1EAAAAAAABgAACwYADRFGFD0uJSsADRwABQAKADRFTGlsJCo+Rw4ZDQ4vNTBAJ4A1ACwNRzUGFyM4LkISAkVkdai8zdrPwNXUugAAAAAAAAAAAAAAAD9CM01Dp7WbNqeNfm5eVCxXDQcMACw+CgAdAQANSQAWAAAgAAAcFgAAABMSHR8eIkgmBQAAAAoACQAAAQAAAAAAACYAAAQLDRkDAAAKAAAAAAATBQAAAABJAAAAAAAkGQcvHAAeJgAmHgAsNAMAAAAAJgALAFYAOiIZAAANEQsIBA8THQ0ADA0rOAAsKCUMHwA8ACg0AFoVNgwAPQwQUxImEQAdPgAAdiIOLDIARkw3g4uqzs2/s8zEi3IAAAAAAAAAAAAvmofN31tWrCcZKIAtIBEfLRw8ESEmLgAmFQAhGi0eBCEuAgAHACASACgFAAAsLQkiHQAABgQCAA4ACC0QAAAAFwocAAAAJAsGAAAAAABPQQMAABcMEhgAAAAcAAsAIBAAAgAAAAAfAAAGAE0AOAAMYhkAAAgADwAHGCgUEwkCAAUAAAAAAAAnAAAAJyUCACAxAFwAACsdK0QpnyYcQR0EKAAoACUORQAaEBEPKRI/Sm6jwcKqpN7Y1qmSKCUAAAAAAAAAdZpzuneMysKl0ZeWhlgyAApHEkJEACsiLEADAAAiAAMTAC8AGyISEAAAAAgACQATCgoAAAAIAAAAPwAHHRwLAAoAAAAHAAAYCAAQCQABBgAACQABAAAAAAAAAAAeEgAgAAAOAAAAACQAFAANEiAARwANFAMAAAAAAAAAExkAAR8dAQkAACgeAAIiRmQoOSwAABBCNThTAAAzAFdAHTcAZ1wMNFB+MkgwPwAOVxwuIzhXfW2BnrPDvbeixwAAHVIAAAAAAHaPn7TmPgQhJdlAUXYtCz8zHCcEDxwQKQAAABsPAAAsOhkAGgAAIAAWDAAAAAAAAAAAFR8AAAAHAAAYAAsAAAAAAAAAAjkADAAHAAAaABAAAAAAAAAACgAJAA4DBAYAEgQoAAAGNAAXJAAhEgAOAAAAAA0PAAAdAAACAAAeJAEDCgQGHwAAAgAADyc3HgwKK0ESGQAmgmcXEzdKAGRgPhBLIU0tBh8DAAAvAEApACpvOD9lf6LJn6OmMkPNIE47podrYRuJrYeT0p+46A8vJokPjTlSDgAlAA8kGi1kHB5CJwAZHwBAABslAAMmCQAILzo3AAAAABYAAAAAAAAAAAAAAAAWAAAAGgAABAAAAAAABwAACQAAAwAAAAAAEQAAAB4AEQEAIxMkEwAACxcMBwAmAGgAFhQUPi4JAAMECwAAFCEAJAIZGy89AAAAIw8WPgAaBBOSSwEAABEVRXAAKgAWRVFfOixsIxgrHFkBACUQLyICHSFNZ0hmoI2m0q3pJMitmpfFjrZMnRdjxHa4zdskt8ilTwA6IjcsACwGNAAnCgA6CQAAJQAAAAMLGAYABwACBgAXAAsAAAcAABMcAAEAAAAIEQAAAAACABEAABEMAAkAABMABAAADAUHGwAQJAAAAAESBQAMCgASCwAABQUKSEcMABcHAAAAPCQABQ0IKQAdAAAUCQAAGSIXFxEcERsSGgAAHQAmCkIrIh4AMhZJJRk6XAAEHTwAH0EyAEAFPgAJCQAGWyMDRT8+SnNnmpAgnnIrIx/ZwqeVjxm+mKO4qdDZ2RHFKK8NCTJEOVMDEQQwFjYdAAAkAwsLABEQACYIACAAAAAAFAgFAAUWCxYMAAAAAAAAAAAAAAAAKwAZAAAAAAAAAAwAAAAAAAAFAAAAOzgAAAAAABgACAAiAAcABQAACgATIBgADxEWABESBQAjAABgBgAYDgAAAA4AAAoNEAcBAwYADQAmDU4fBQoAGB0XMQ8qC1o9LDQAVy46XgBbAD8MAAAQUBk2ExdOQ0lFSYFsksg/a0wMYdiysrraMEJIss6z3q3byqixn5U1JQ9RFSshHBxFXlgXBwMEIC0kCQ0aDR4DAAAAGwAAAAAAAFcKAAAAAAAAAAAAACQAABQAAAADABIAAAAAFgAODgAAAAAAAAAOAAAAAAAAAAAAAAgACRMDAAAAAgIAABoUAAUhAAAADxsLQAYMAAAuTQAAAAAAHA8TWAYXABITAwAjIBsUAAARAAYABgUKFkQdMDAEJwA4ABgANj9lRgA4TlJDKxQ+G20/K22Gtoq1xh3Qtrji3svNTmw4q6PirdS0y5FsA0spEyo6Gi4XJwASTicuFDQGPAUAAB0ANAAwAwAYNhAEAAAAAAQAAB8AABYAAAAARwAAAAUhAAAAAAAAAAcEIgALAAAAAAAAAAAAAAsAAAACDQAAAA0ADgAmACMAEQFOEAMHHxkAAAEKAAAIAQYLChkAAAAAAAAHHAEcGAAACQAvCgACGTUQIA0AAHZPBTkAMBsAACkPSQopNwcAKwAdSx8fQwAYHCQFID1QYCefthE9zLLM4Ma22besyUagrandnMWNhYVaU2EpDQBAKAsMEgQAQCoUFgQGFxcNAgIAAAAAAAAAAAAAAAAAAAAMHQAAAAIeGQAAAAAqAAAAAAAAAAAAAAMABwAEAAAAAC4LAAAAAAAOAAAAPQAABw0LAAcSFQAAAAkAGwAIABoAAAkSCAAAAAADBAAAAAIAAAMUAxUaIQEMHAAMAAocADNwIxEGKRROI05DDjEAMCEcEBkNlBglABoAQQAiJwg1CwBAFCtJeH8dhZySspiuy7jKQ0VYWyylssaXmHt3aEUtABUdCAANLBs0IwARUg0gKhoODggUBAAABAAfAAwAAAAAAAARAAAAAAAAAAAADAAAAAAAAAAAAAARAAAAHAgAAAIAAAAAAAsAOAAACQAGDxoKABIEABQWBgQVAAY+GgAAGggSAQAGAAAIAAAAAwAAAAYFOQAAEQQAAAAKMzghAA4AFhwLHBQ5ACUlAA9QFS4AAAAsACRMKwMUAAVQAAJYAB0AABcXEQA3LwErdWU4KZ+jypa+3sjY25nLE8q4GpqZc3VESSUjJmQaACsyORwZGj4kISMONQwGBis2HBAACAAQAAAABgAAIQMAAAAAAAAAEQAAAAAAAAAAAAAAAAAABQcAAAAAFgAAAABcFwABWAAAAAAAAAAQAAAPOTQTBgAtIwAAAAAAAAAAAAAAAAIRHh0AAAAAAAwOAAAnAQAAAAAGGwAhNj4WJgAPMyEuAAAUEyAQAAA2Cz80FTUoDTMAGAYNDQYQIEELGwBJH05QIRNCWACOeo+2w42SoZoduUIzrHpxjn5OVzsmYBIrEysUGzhGOU5ORWFMGxkbDgBFFiMADwAZAVYAGCIAAAAAAAAKCwAAHyYHAAYSHgAAAAAjAAAAGk8AAAAACQAAAAAAAAAAAAYAAAATAAABAAwAACgnCykCACEqAAAPBQAADwAEGAAAAAcIRBgOAAAMAAAAAAAAAAAAAAAAAAAILAcZGQAABSMNABoRJB4ZDRMgACEeI14ADhlJPAAOAG41AAMAADBlCBIqVQBITlJ4NZl1doySF7QACzwPc3VmSUdCFEAyN0QVEzWDRxZpR29AUldTSxhCRCw3KwcFAAAAYyICAAAHAAAAABoAAAAAAAAAAAATHgAJAAIAGwEAAA4KAAA8AAABAAAAAAAAAAUAAAAAAAAAAAAAAA00AAAJFBwAAAAAHwAUCBIALQANASMAACAQCAIAAAAAAAAABQAAAAAYABwsDgIAAAAAAQAMJQAnVQYCEhwAJAAACDsfE04aGEEAACImHgAbBjZPPjgdQjRJTD5VW39rkoQAExhggABwTk0zNy85ADtQQD89QnRfcoNLZGp6PUxPHhwYJildAAEABwgBBwAAAAAAAAILAAADAAgAAAAAEgAAAAAAAAAABAAAAAAAAAAAAAAAAAIAAgMAAAAAAAsAAAAAAAAEEwAAOQAACAgWDDoLLVQAAAAABQAAAAAALQAAAAAAAAAAAAAAAAAAADcAAAIVAAAQKSsjAAo0HwAAMRQAFz8VGQMAEQg5CAAANwAAACYzFBsAABgsHR8pGgA5Sj5WZGluZwkuABEQR0o4LVAYQVMXa0pxL0BTdF9xc5CrZVFpeFN3UypKCxYWCwkAAAAAAA0IAB4OABsAAAAAOwAAFAAKAAAAAAAAAAAAAAsCAAAAAAAAAAAAAAAAAAAAAAAAAAAAAAAqAB8UAAAAFAAbAAsKBAAAAAA+AAABBQwBAAAIABIXAAAAAAAAAB0AABUAAAASAAAEBh4eCB8AABQWGAAKIh9iAAtEBTwAST80GgsfAB8DLwBGABsAABAuAAwxDQ8ZMDpiO1A8NlQzSC08OD8AJThDRy0NMSdiS1F8gHWytXd4aGJEPTNLOw4YAigVLAAAAWIAAAAAAAAAAAAABgADAAAAAAACAAAAIQAAGA8AAAAAAAAAAAAHAAAAAAAAAAAAAAAABAEAAAAJAA4AAAAACwNECgQAAAAJAAAAEQkDAAIAAAAGAAAAAAAAAAADOAAAAD0AEgwAACEHCQAAEwUAABcAABceAAspAAAABhYXQQsAFgIAIAYPACcAOydDAwAMRiEjCgIACwBdNBMNHhcmGBYzAA4pPxdAUV4XNVCDWpaCbpKEeV0pQ44qVSk4IwAyGxkEAA8ADwcAAAAAAAAAADUAABYGAAAAAAAAAAAABAAAAAAMJgAAAgILABMDAAAAOAEAAAAAAAAABgAAAAAHTQYFAAAKEgAAIDQAAAAABQAADAABAAANAAAcAAAACAABAAAAAAAMAAAACQAABAAAEAAPAAAAAAQAFR0BAAAqOQ4CDwATJAIACwATIBAACAIAAAwaAA0VABUAUgAATAAJJQABJisAJgAAAAYAGA0LKS5FSEpFZmRPh3lNLGtAL0AhHAUTLgcGBQADAAAADwAEAAAAAAAOAB4AAAAAAAAAAAAAAAgAAAAAAAEBGwAaAAAdAAAAAAAAAEIAABQAAAAAAAAAACMXUQArFwAIHwYAACYAGAoABAgAAAAHAAAAAhQAAAAOOwAAAAAAABgAAAAAKQoHAAASCicDAAAAAAAuHlEYAAARAE4AAAgAAEojDxAhDQgADwAAOCshHTUDGwcGWDgqEBMIAAAEJAkOAD08ACAEFigkJAoRDSk1UE8/QyY4LSEPKBwWAFwAPwAACDsUIgAXAAAAJAAAAAAAADAAAAABAAAADQAADRsAEQAAAAAAAAAAAwAADAAAAAAAFAAAAAAAAAAAAABLAB4DCAAGBwwSAAAGCgAACAUAGAAAAAAACg8ACwAHABkTAAAAAAAAAAAADQAADggACwAAFAAZQhQECwEAAAALGAAAABo4AAQ5ABUAAB9ZFSc1AAtMDQARCAATCx0jBBUAAQAdEy0ZAAAMWhoAIhAgEAAOABAeEhUkNjEgICM1AA8mHQALAAAAAA8AAAASAgAADQAAAAALAAAdADgFBgUAAAIAABYAAAAAAAAAAAAAAAADAAAAAAAVAAkAAAAAAAAAAFYAAQAABwAOAAcVVwxDAAAgAAAAAAAAAAwAAAAAAAAAAQAABQsAAAAADAAAAAAHABAHBQAAABsRBlEVAAAAPAAAEwAAABAACQUAGwAAIQIAGAEAAAIEAAAoAAAAGAAAHBMMAAAAFAAjCh0AAB0AAAsAAAcNEh4AFBgANSNDEgYAAAkAQQAAABUBAAAGBCgAAAAAAAANDgIAAAAAAAANAAMACgAACAAGOS0AAAAAAAAAAAAAAAoAAAAAHgABAAAQAAAAAB4EGSBPBwIADQQWAAAAAAAlAAAIAgkACQAAAAgAAAAAAAAAAAAAAAAAAAAAAAAAAB8AAAACAAAAAAAAMQAMAQAAAAAAAAADDykAAAANDA8QBhoAAAAAEwAAAAtOAAABLBUAHgADAAACAABlWQEAABQKBQAAABMhCgAbAAAKIwAABwkAAAAAAAAOCwAAAAAAAAANAAAACgYAAAAPAAAANgAAAAAAAA8AAAAAAQAAABAAAAQCIwAAAAEAFQAAAAAAAAAOAAAVAAAAAAQAAgAAABIBCAAAAAAAAAAAAGc9DRAAAAcACwAAAAAAAAAAABM1DAAAAgAEAAAAAAAAEBUAABkAAAYAAAAABwBWAAAAAAAAAwAAAAAAAAADAAAAAAMAABwBBQAFAAMAHAAAAAAVAAAKGQAEAAAAAAAASQAACAokCRcBAAADCwAAAA4AAAAAEgQAGQAAAAAFDwAAAAAADQAAGicAAAAAAAANAAAAAAAAAA8AJgAARgAAAAQAAAAJAAoAAAQEAAAAAAMDAAAAAAoXAAAAAAAAAAAAAAAAAAMAAgAAAAATAAAcCAkJAA4AAAAAAAAEAAgADwAAAAAAAD0EAAsDAAAAAAAQAAAAAAEAAAAAAAAAAAAYAAABAAAAAAoDAB8AAAAEAAAAAAAACwALDQIXAA4AA0YAAAAUAA8bFggCABcADgADAAAZAEAAAAAJHAAOMQAAAAAAACoAAAAACAAAAAgiAAsABA0HBwAAAAAJAAUAGAAAAAAAAAAAAAAAAAAAABUALAAAAAAAAAcADQAAAAAAAAAAABgjABkABQAAAAAAAAAAAAAABCAAAAAAAAAAAAUAAAAAAAAAAAAAAAAAAAAAAAAAAAADAAAAAAAAAAAAAAAAAAAATQAAAAARAAIAAAAIKAAAAAAXDAATAAAFAAAAAAMADwgiAwAVEQAAAAwAAAAAGUMAAAAABAAACQATDiIAFRQRAAAAAAAABg4AAAASAAAAACYAAAAAAAwfBgwAAgApAAAAAD4AAAAADwAAAAAAAAMsAAASCxwAAAAAAAAEFgAAAA0AEAAAAAAEAAAAAAAABgAASQAfAAAACg0AAAAAAA4LEAAKAAAAAAAAFQtQAAAAADgAAAAAAAAABAAAAAAAAAAAAA8PGwAAAAAAEQAAAAAAFwABAAcAAAANAAAAAAwAAA4AAAAXEQAOAAogAAAAABUAAAENAAAAAAsAIAAAAAAdDAIAAAAABwAAAA8AAAAIAAAADAAJAAAACBEAAAUAAB4HHgAAAA8AAAEAFQAAAAAADREAAAAAAAAFAAAAAAAPAC8ADQAAB0MMEwAAAAYhAAAAAAAAAAAAAAANAAAAEAkAAAgAABAAMwAAAD8GIQAPFQAAEgAAAAAAAA4AAAAADAAAHwAAAAAUEwMABwAAAAAAAAAAAAAHAAAAAAAAAAQAAAAVAAEAAAAAAAAAAAAAAAAAAAAAAAAAAFUAAAAAAAADAAADAAAAAEMAAAAUAAAAAAAAAAoAAAAAABMAAAEBAAAAAAAqAAAAAAAAAAAAACIRAAAAAAAAAAAAACceAAAAAA8AAAAACAAABgEHBAABHQkFABkGABkwAAAGCQ0ABQAAGQkKAAwAAAAAAAAAAAAAAAAAAB0AAAAAMAEAADQFDgwAAAYAAAAAAAAHAAAAAAAAEwADAAAAAAAAAAAAAAAAFwwKHwAAIAAAAAAAAAUHAAAAAAAAAABSAAAAAAkAAAoACwAABQMaAAAAAgAAAAAAAAAAGAAAAAAIAAYAGQAIAAAAAgAAAAAAFwAAAAAABAAABwAAHQAAAAAABgA9AAcAFAAAAAAAEwAAAAAAABYlSQAGBSwAAAAAAAMCIgAAAAA5DQ8AABEaABMAHQsOABQAZAMAAAIAKwAAAAAAABsXAAAAAAAFAAAAAAAAAAcADgAAAAAAAAAABgAAAAAAAAAABAAAAAACAAAAAAAAAAQQAAAAAA8AABQVAAAHEAAYAAAAAA0AAAAEAAACAAAAAAATAAACAAAAAAAFAgAABggAAAAAAAAcAAAAAAAAAAAAAAAAACAAAAIUAAACAAkAAAAAAAAAAA4AAAAAAAAAABsAAAAAEAQAAAAAAAAAAAAAAAAAAAAAAD4AAQAAABMAAAANAAAAHQAMAAkKAAAAAAQAAwAAAAAAAAAACgAAAAozAAAAAAAAAAAAAAAOHSMGAAAAACwADAAAAAAAAAAHAAAAAAAAAAA/AAAAAEEAAAAAAAAAAAUAAAAAAAAYAAAAAAAAAAAAAAAAAAAAABsAAAAQAAAAAAAAAEEADgAAAAAUAAALJAcAIwkAAAAAAAAgEg0IAAAABwMAAAAAAE8AAAAAAAAAAAAJCAAAAAAAAAAQNQAAACJJAAMJAAAAABMAAAAIAAAHAA8NAAAAAAAAAAAAACIAAAAAAAAAAAAAABAAAAADAAwBAAAKAAAAAAAACQAAAAAACwMAAAAADgQADhIZCC0ANQgABgAAAAAEAAAAAAAAAAAAAAAAAAAAABEAAAAdMAEAAAAAAD5NEgAAEwAAGAA6AQAQAAcAAAAAAAAAAAAAAAAAAAAFAAAABgAAEAAAAB0FDwIHAAAaAAAAAAAFEwANAAIAAAAAAAAAAAAUABAAAAEAAAAEAQAABgYAAAAAAAAAAAAAAAAAAAAAAAAAAAASAAAAAAAAAAAAAAAAAAAAAAAGABQAAA0AAAUAAABhCiQBAAAGAAACAC0AAAAQAAUAAAAACgAAAAYXAAAAAAALAQAADgALAAAAAAAAAAAKAAYAABAAAAAAFQAABAwEAAAbDgAbAAAHDy4AAAAAAAAAAAcAAAATAAAAAAAABR0AAAQAAAA5CQAAAAAAAAAAAxIJAAAAAQAAIQAALTkAAAAADwAdKQAAAAoQAAIUAAAAAAABAAAAEjEAAAARAAAIAAAAAAAAAAAMAAAAAAAAAAAAAgAEAAAAAAAAAAYAAAAABQkAAAAAAAAAAAAABwAAAAAAAAAAAAAACwAAABAAAAAAAAAAAAAAAAAAAQAAAAAABiUACwIAAAAAAAAAAAAAEgAxAAAACAkRABc8GwUNJgAGAAUACAAAAAAAAAAADQAAAAAKACMTAgAAAAAAAAAAAAAACwACAAAACBEkAAAARgAAAAAABwMAAAUADBcAAAAOAAAAAAkAAAAeAAQAAEsAAAAEAAQAAAAKCwsbAAAAAAAAAAAAAAADAAAKAAoABwAAAAAQAAAEAAAAAAwAAAANAAAEAAAAAAAAAAAAAAASAAYAAAAwAAsAAAAAEgAAAAAMAgAAAAAAAAAAAAUDAAAAAAEAAAABACEYDA0CAAsWAAA5AAABPAYBHQ8EAAAABgAAAwAAGQAAAAAAAAAAAAAGNwAAAAAASwAAAAAAAAwAAAAIAAAAAAAaABwAAAAAAAAiAAUAAAUAAAMABAQAAAUJAAAAAAAKAA4KBAAAAAAAAAAAAAAAAAAAAAAAAAAAAAA8AAAfEQAABgUAAAAAEgAgAAAAAAAAAAAAAAUEEQAPAAoCAAAABwAAAAAAAB8OAAAAADwAEgAPABMAFxITAAYAKQAHAAAAABIDBwAEAB8cACgFEysiADoZFgAAPQAAAAoAAAAKAAAAAAAMAAANAAsAPgUNAAYZAAACAQAFADYLAAAADgAAAAAAAAARAAAAABsAAAAAAAIAAAQAAAAADy0ZAAsAABUAAFMAOwAgAAAABAgSAAAACwoAABYAAAAAAAAAAAAbBQUADiQJAAMABQAACwAAABAAAAAAAAAAAAEAAAAACwIRCw8AAAAAAgAAAAAAGAAQEwAAAgAfABgGAAAQAAAAEQAFAAARAAABAAgAHxgYNSYHOFduNS0vHyYKKhEmGgoAAAAAAAAIAgAAAAAKAAAAAAAAHi4AAFJTAAAEAAABDwAAAF8AABoAAAAAAAAAAAQILgAAVQIAFQAAAAAABQQAAAAAAAANAAAQAAAAABUAABIAAAgAAAAAAAAAAAkAAAAAHgAADAMAGQsfAAEAAAAADgAAAAALAAIAAAQAAAAACAAAAAAAACYAAAAFAQAAHgACEQAFAAUeAAAAAAAAAAAAABASEwAaAAMUFRclCwAlRCQcWUJBVSVEPjUvRzcnKwYeLQ0FKRAAACUAAAAABQAAAAEAAAAACQAAAAAAAAAABwAfAAAuAAAAAAAKAAAAAAAKAAAAEgAAIBwATxETAAACAAADCQAAAAoAGg8REwARAAAAAAAzAAAAAAYAAAAAAAAAAAAAAAACAAYTAAFBNR0rGx4IAAAAAQAAAAAOAAAMAAASAAAAAAAAUEUAAAAAAAAHAAABAAAEFgAYABkAAAAPGQcIAAYANhcVDBgfTwcWEyNtDDA7MEJSZ2Brn0FTYEVQUTIsKTkIBQAAAAUDAAAAAAAAAAAbCAAAAAMbAAAAAAoADiAAAAAAAAIMBwAAARYABQAAAAAAAB0ACgACHgA5GzEMAAAADQAACgADAAEAAAADAAAAAAAAAAAAAA4AAAAACAAAAAAAAAAAAAAAAwUULzBbQTACACsAAAAGAAAAAAAAAFsAHQAACAAAAAAAAAUABQADAAAEEw4AABogABsAAzIRHQkjBgAPJws1FhcjOQQUBjMFHh0uRHJYY04xeliEfH1/kF1hQn4rKyEMDhIWAA88AC8eAAATAAANIwAAAAAAAAAAAAAAAAAAAAAAAA0AADgAAQAAAAAAAAAAAChKABMOBgAADRclBAAAAAAEAAAAAAIKABwAAAAAAAEAAAAtAAAAAAAAAAAAACITAwAUVAcbNC09UEtSECcVAAAAFgAhAAAPAAAQAgUuAAUPAAALAwAABwAAGBEGAAwhCxMJAAQ2NwAAFhwPABNiAzUBECMFJBsiThsAOCo4H4hsXnMrW3prgKyxo4aIZFBXRkckKxowLBcABgAAAA0bFQAJGAAAAAUPABAADwkAAAAAAAAAAAACAAQZHwAAAAAFAAANEwsfAAAVAAAPDwAAFAcWBgcAFAAXAAAAAAAAAAAAEAAAEgAAJRwAAAARAAADAAIHIAEAAAAXAAAVU1BvkoJNDQ0AEAACAA0JDAAEABkSABwAHREfHxAbAAkVBwAFLwAQMgUkFw8DQQA8LFELAAgSChwASgAcFwsHZjc/CgZDUFpBNk5KbWB7llqikKF/nIRhoFVTTjs4FTUUDgAGLAAAJxcAEz4AABUAAAAUCQAGAAALFAAAAAAAAAUCBAAAAAAAAAAACQgAAAACDQAGCQAIGQAzBwAMAAAPCwAMAAAAAAAACgkAAAAEAEQAAAAGAAAAAA0RKwwKAwAAABgLADxJWkVJRjMbITMAAAAKHQAADgAABQAADBMXAAsABx0AAxMBCg8JGSYBExJLDiMAPgQAAAA9AEETC0NEOh0WEgAuKysdQ0BBJ3RNMkqBRG9+aH10mZaFd2xVfzc0VDEHYzJdHhUIAgkTGgYaSBUAGBYIBAAKBQAAGRYLAAIAAAAACwwAAAgPEycGAAAAAAAADggAACMAAAAAAA8MFQUGAAoQXAAAABQAAAhPGBAADgAAAAADACsGABAxAQUgCwASAFYcEBgzHzdeQTdUIhoRHCIXDQ0FFRcSAAg7Gg8KChQEKBsORgoyJB0mCgktLwgADgBGHAAAKxkMABFiIjAcBBscSAQ1Bw4WLyxEOEdPR2eXXoSWV2qTeaNkeW1mS2hZPiUsGAATFy4AIhQ0KAgcABAAGgsnAAECAAAAEwAAABEJAAEAAAA1JAEIG1oADzYAEQcAAFwBFgkKAB4AIhMcFgoJAAAABgAAAwQAAAAEFwcAAA8ACwIPABIAAAATABEAAAAGBSyACTUsEUJeayc/G2BONgAOERUVACQkIxIADkA7AAAOFg8AARlMIytHWgATEy0ZQB8bACVOKUUSADAAAClMMC0YWmgdFD0jOz4gKCssO0s+Yo8zV3Ixhk1lWj6YWmJOLDNJMhEORyUAEQAAKUsOEB0AAyEADhYABRYhEAARAAAHAAAAAAAACgAAAQAFAAAABQAsAAAAAAAQDAAABABSFwILAA8AAAgOCQMADRAAAAAACgAAAAkAADwAAAUDABUAAAcANVYLBBsQOD8QDB09OzY8GjomABwUBQAACxEBMQAMAxMACkg1OAkAAAADBg4NNBQzRUEjJyYiMjw7ETENShscMi1EJxwwLSgBADNCBQ4mRzIkRw5HOiEgX1JGVmpPS04qQzQuNxFPUhccFD4PGQAKABgJIgAABBMOACcAAgwPAAALCAAAAAABFAADAAAOAAAALQAAHCEACgAABwAADAAAAAAAFwAAAAAADgAUAAALAAwAAC4mAgAAMgAAAAAGAA4AAAAOKQYADUAxHkBVLjIpIhlIEiwUGxY5CQ4AQwAABwQNIiMAAC0fBgAYFhYdBwEaRhcKKCghLwIMAAc+PVooRxsrDiVZNCBMUERHBw0tMUFQAAgHUGZXWTtIRy42YEU5Jy1fJFpFOCZKDiYiBAAGFQAdBBIAFgAAHBA8AAAIAAAHFChCAAAAGwAIGQAAAAYAAAAJAAAxABsAABYAEAAAAAAAEAkAHhQDDAIACDwAACQHAwAABg1VAAAAAAAAAAICABYAAAAPAAAAAAIAAC4xX2RQRyglPyc4ABUAXBotHRpEJmsgAAAAAAAFAB8QHwAIKzEAHzI0GBYjIgAPXwAbOiQAJ3kIJBwZNT0wHCUsU28tSUYOT0QiGBxOPTpURi8eSAo5KhJDEDwhZGgtFigpLyYKDwIACSUBAAAjAAYAAAAFIAAUDQEcCw0gBBcXEwAGAAAACA4UAAASAgAAHyYAAAsAAA0AAQAAJgARCgAAAA0AAAkYAAAAAAAcDgsAGgAKBw8ACwABFQ4NEQgAAAAMDAUDClcnTmBhNBAnBhMGAhglGgAONRQgMxQMNR0hBQ8KLAAABwEMIiMPQChOGDEqODIAQSswERteCjRALykvDhA9CCkiQxVYJR8AGjNFPQcAMydHNRRVCiUvQyNFDDhXVigFIDcAYxYNCQAjKwcAFiMACQAAABgODgANAAAFBi4OEQAADgAAABkACwAAAAAAAAAAFAIvBwAeHyAADxsmDgwDDQAAABUAABYGGAAnIwUAAQQTAAAAAAUAABgAEBEPABEAAAAAGQBJMS0qUz0MAChiFwAAFzUkLQARJRsMGDMaEAoxGAUOFCYAKwEwJQAAAAAbACU9Jw4qLD07JhstDQAGIBcaIQQdHgsVABQYFS0sRjceFgkADgcbISobJhUZHioiEiYTIx0YAQ1GRQAAF0gACic+KVMAAAAACAcfDw0ABQoOGwAJCwsEAwAZBhYAAA4KJhsAByAAAEMAAAUTABYAAAAADBVFAAACAAAAAAAACAQJEAEbGwAALSAAIwAAABAACwAACy8AAAAAAA8PKT4uQQAyEyICCxcAGxUYD0IeKkAAHTEGBDAdGgBQAAA+BwBlHgAAAH4qAC0bHwAOGk1BNmYxNgkAFAkAEQsAHVYIDy84EBYfABANAQ4FORlUMS0AAAAUJykNAC4bAQABSSIgAyQVMAAEAAwPIAAAGQAAACIEAAAhAB4VBAAAAAAOAAAHBgAgACUKCgoJERcYCgwJBQwAAAAGACEEAAAAIhIAAAAAFxEWAAADFwALABEABAoOBgYAAAAAAAgJCwAAAAAAIg8kHBwnDhocCigYDQAZAAAAAgUKACwRBigbKQABJAATGAAbMSsULBAcAAscU0INAgA3GR4MIxIyRwlDG0AIIg0jPgszHjUkAA4KAAMhDB4mICYEOQcENQBQKSIjABAHJwAJFgs0GwAACygHAA8FAAAAAAAPABYAAAAAABRgAAYADQAAAAcAEgAAAAddAAAAHgAAFB4XBCcAIgAAEQcZADsAAAAQMU0KABUAAAAYGhQACyIIAAAACQkAHBMcWhAHBAAAACwACioEISUOAAAAHwgfCBwIABIWHRwOIAA/AAAACgAiACkAAAQbAQArAAcvQyo8AwFCMQoUDA4jAAAAAAgYAB4XAA8THxMgAAMAGQAABB0FAigFAAALDysNACUPAAAADEIAAQUABQolAgAALAoAChQxGA4GAA8IAAIAAAAAABIAABEAAA0FCAAqEQ4BGwAAKgAKDQAMDR5OAAYAJQIAMwAADwARGQASFAMAAAAAAAMwAAMAAAAoAQAOKT8OAAADAAAEAAAAAAATIB4NPQAAExgEBQATAC4AABg1Dg0ELQAfADMZJwoYARwtLxooGyoPAAIxEBQLLCIkMBgORjAAFwUAHAEAGyIcGSoAACIjAAwAFRsAEgALCQAeRwoeDgAAAAATAAAFBAANAxIAFyM0ADUYBAANCgAQAwAOFAAoCQAJAAAKBwAAAAAAAAMAAAAAXAQAOwAAAAAOAAAAAAAACgAGAAAAABkAAAAGFBMAAABRAAAjAAAOAwASABEEAAMMAAkoAAAAESUACAgABB8dAwAAFxcABQcNMgAAAAAIACsNLgAcGBRRDRdGEhAAJAwTC0sJDwsVYgAFABcMDycAACQiCRoAABA7QxA1HQAXTwcAAAAAEgAkABkAAAAwShQHFxYAEx8rJyMACQAZABEBAAAAFwABABRRBQAAABsAJhoOAAAAAEAiAQAADAAABwAAAAAHFRgnEQAPAABFDxMAIS8AMQAAAAMAAAs0IgAAABYAAAATDgAdAQEACgAFEgAABgAAAAAAAAAAABQAAAcAAAASAAAACAASKScgNAAcDwAQAAADGxAXABkCEwAPJBcJCRQAAQAcCgcRNyNEAAAcABklBwgMDBsBBwAAAAIAFhYTACkAMAAZAAAECRoDACUAGgUAAAAABQoOLBUbNAAKABsvEAsAAAYAAAAADRkAEwAMADcAGy4NBhUEIAAAAgAZAAAKAAAAAAABEhIbHQAAAAAAAQALAwAGAAAAAwAADgAFAAcFGxMIAAAACwAABgAAAAsAIgwLAAsDMicRDgAOAAAAOBkHAAQGAxEUAAAAFwAWAAAAAAAsAA4AAAgAEQ4AAAYACQcTIB83LQAACAAnIBIABQgTQBcALkcAABYWAAAAAQAaAB4QABgbBgYgABIAMgAAAwACAwAAAGNZHjoAAAsASAAMABQAFAAVARYAGAwRTgIMGxFzIhohSQBPAAAAHQAAAB4AAQcXAAADBwAeJ0sBBQAABREqAAAAGAAAAAkAAA8AAAAABx4AABAAACUOABUAAAAAAAYABEYWAAAAAjsAAF0XCgBMHQsAFA8GAGAAAAAJAAAAAD8UAAAAAAAAAAACABIxGBYDAC0AJgA9ABMAGSErCwAAJAkPKQAAABMAAAAKLSwAAAUUGwANGQIOAAsqABAHAAAAGhwVABBGAAAAAAYCACUXAAUAAAsBAAQEGAoPBhgrECMAHRspAAAAABkWAAAXAAQADgARBhMAACQRCAAPAAABAwAAABMIAAAQABkAAAAhGQsKEx0ZABUABwAAESEeFQQIBAAAA0UEIAAAAAEAAAAGBBcAAAACABcnAAAAAAAAACAAEwANABUACAgrDw0ADgAEBgMsDAAAAgosAAgPABkGDRMdFAAQAAAAEQAqAA4YAAAOGAMCAB0AAAAAAAAlHAUAGwAAAAAZAAkAAR0FABICABsSKRQdAAUVAAYIAAACNB4SDwAAGRAPQRUxOQoZACAZCQAAAAAADgYAAAAWKAlPAAASAxsmAAAkIAAVAAAACQAJAAYABwUACgAoAAAEAF8ADwkAAhIABAAECRIEAAAAAAAAABERAAAPDAAAAAAFCSUAAAAAAAAODyYAAAAAFSAAABUAAB4AEAAADwAABwkAGykECCoAAAIABgYmKQAhAAcUAAVRAAEqABUQDi8AFgAAFh8AAEwACQBmAAAAAAQAAAYAEg0IACAcAAAWDAAAAAAAAB1BAAAACgUSEhUHMw8gKCghaAASAAAAAAAAAAAAABRgAAAKAAAAFgAAABMLHxoPBQAFAAAWAAADASEfAAAtHDEAIBcDAAsIABwAABAoABAAOAALDA0AAAAAAAALBABAGAAAAAAAAAAADAAAGAAAAxkAAAAAACQADAAAAAAKAV4QBgsAWAAAEAAAAAAKDAMDAAEAAAAIAAAAAAAACicEEwBDDC4AAAAABQUACgESEAYAJQcCAAAADhgAACEACgAHCRcMAB8DABEBAAkASwAgUDsKTkkbMis0GQEAAAEAAAgAOQgLKQwAAAAAAAsAABkTABMoAA4FACEUGgAAGAAADQwoAAAgAAsAAAAAAAYAAAAACgAKAAAACwEBAAsAAAAcAAwAAC8AAxshMxcAAwAAEQAAAAEYAhQKABYODzMPAAAAKwAJIAABAAAQAA0ATAAAAAkADgAAAAAABAAABSokDAAGAAAABQwAEwAEFwANHggFAQAHAAUABhsNAAUPAAAABAAAADgAAAAAAAAAAAMkBQ0ABBwdK3A7IkZDAhwJHAsAABIXDQVCAAAAJAAJGhcAFxQAAAAADg0MAB0AByENJwIAAAAAACcAAAANBgcAABkAAAAUABIADAAAAAAAAAkYKgMMBBcAAAAABQgADQAAAAUAAAALAAAAAwAAAAgAABEANAQAADMAEwAXFgcQBxwIAAsIABQhBQIAAAAbIBUvGAAABRMaGB8AAAsAAAAAAgAMAxEPBQ0AAAcPBwAbAAANJwAAABEIAAAEACUIDQAbAAMQFTgBKRADDhA4JR9EPkQaM0sYA3IeGTEYCQwAFwAYAAAAAAAQACwFBScIAw4iCQ0AAAMIAAAAAAAAAAAAHAAfBgATAAAAAAAFFwAAABgAAAAGEQAAABMUAAAAAA4ABgkAGiEMHAAADAAAEQ4AACQAAAAAEhcACgkAKAAHAB4AAA4lBgoWABkwFyEMAAAkABIAAxMIAAAAABUPBxEABgAAACQKAwIAAAAABgAAAAAAAAwAAAAQDwkRBwAAIAAAAAgPFzEBAAA+AAAAAAACBgc0MCtFXzNoPBxSBSQACQoABRQHAlQAABQAEAQAKwUABiIAEgACBAAAHAAAAAAADQAAFVEAAAsAAAAQAAAEAAAAAAAhAAAAB2AAAAAFIhoABgUAAAAKHQsJAAADBgACACYAAAAAGAUPCwAAADsPHRUeFwUXAAAADAAiGisBAAAAAAAACQ4JAAAACCYTBUcABCdAAAAWAAoAJBoFADErAwAABhUAAAAAAA4GAAAAAAABCgAEAAAgAAAAAAQHBwAABAAADwIADDghJYtGU0B4KgkyBwUAAyAQAAAFDQAUABkAAAAIAAAGAAUAAD4PAgAAAAAAAC4OAQANAAAAARcLAEMYABAfAAYARgAbDFgIAAA7DAAAFQAvAAAAAAILAA4iACMOBxwAAAAAABUAAAAlBAAxGAAIAAoAADUABQYPAAUAAAAAAAAAAAIDGgAABQAKAAcADAAAOAIABBYAAAAiAAACAAcECQAoDQcAFQEKGAAAAAYAD04AAAAAAAAAFwAGEQAAAAAxIAAJFQAAAAUCODtLP2BIQkc9JAsPAAUAAAAIAAAAChgAKQAAEAAACysAJwAAAAAMACcAAABRAA8fBQAAFw4AWSMAAAkVABIAABsoDgAGAAACFgYEAxcPLAAEABEAAABzAAAAAAANGgAAAAASAAAVAAAIIwAAKB8AAAkBAgAWBCoDAQAAAAAAAAAXAAAALBIAJAwMAAAKNRgWJwUEAAAAAAAABAAAABMWTgwAAAAAAhAABwAABAAAAAAAAA0JBQcAKAgAIgAAAAAGFAMAKwAAHiM6O09nSVkyBSAAAAAAIhUADAAAAAAMAAAAAAweAAA0CQAAAABRBxkHDAIFDRUnCQARAAAUAAABCQASGAAAAgBRAAAAAABMCgAADjAWAQAKAAAVBQAAHAAADwAACwsAAFYMAAQAAAAAFAAFMRIAAAAdDwAHOAcAOwAAFwIdAAADAAAUEQ4CAAoAAgAAChMGAwAAAAQiABYFACMXBAgAAAADACQAAQAABQBQEwQAABMAAAAAHhNADAAAAAAAAAkGEwQBAAsOJhJtR3JONUc0JRsJIgFIAhEJIQAAABIEADkAAAwMAAIAAAAJAAoKAAAAAAAAABMlDQAVGwIABwoAAAYQAAkIAA8GDQAAFQICAAQJDwAAAAAAFRoTAA8ADA09ABwbAAAAAAAAAAAABQAAAAAAFxkAAAAAGwAAGgAtAAAKEQQKAAAFAAAXIBEADwAPCgEAAAATGwAjDBsAABgAEAAABQBvBBQPAAAQAAAAFx8AAwcANA03AUpaAAABMjsAAAAAKQQXBwBZACIRGTFSM2AxSEEvPhwLCBQPEgoANR4RDhYAAAAAACoAABQAAAAAAAYAGgkGAAAAAAAAAAAAABdEAAAAAAAASxMODw4IOwABNQAABgsAAAAALAMAAAAAAgAbAAAMGAAAAgAAAAUADAAAAAIAABQdAAAAAAwACAIQACAAAAQACwwCDxYJAAAAAAAmAAAACAMABgAAGQgAAAAAAAA7AAsOAAYAAAUAAAAAGwIACwANAAAACQIeAAAAAAAADwAACQoHAAAQAAAJFQYAFygpYUdKWz4/IBMMLAAAHQAXBQAADRkCAAAGAAAZAAYAIQAQDwEAAwAAAEcAIAAAFwMcJwAAAA0AGAAAExIEAAAWBQMAAFAARgAAAAAAAAAAAABHEU4AAgoTBwABAA8KABgAAAAIAScABxlGAAYAADcTChwAAwAAAQMACQAQAAAHAAAAACUjCAAZCgAKAAAeAQYAAAAACgACDQAAADIADwAAGyETAAEfBwsECiIAABAAAAAAEAAWDQATABEQDgAiAAAAAC8sBTcjSUo/bT5GYA0wBwAACxsAAAAAAAAEAAAAAFUJMQAAAQgAAAAQAEYABQAAAAANAAQZAwwALxgAAAAAAAAAAgALAAAZCkQZAQkAABEEBAALAQsEAAcABRgAAAAAEwAAAAEACjoAAB4RAAAAECUAFQMAABcAAAIIAAAAAAYAAAQACREAAA0SI0ZJCwQICSMPAAAlADoHAAkEAQAHAAsJAAADCQwABwsAAAA8AAQJAAASAB0AIQAAJQAMABQHAA8AAAAAHwAHCgcyRENHS1Y+OxADGAAAAAAAPQAMAAYANwAwKQMAEQAAAAAACwAAAAomCgADAAADJAsADwELBwEABQA3ABAAGR8AEgkGAB0FTQAfAQ0oAA8ABwMAAAsHAAAAAAAAAAAAAAEACwAAAAAAAA4ABAAOEwwAAAALAAAAAAAbABkPAAFNGgARAA8lEgAYDAAHAgAIAgBYBA0AAAAAAAARFQAAAAAADAYAAAAABQcABBwAAAAOAAA5AAMAFAkCABEBAgsEAAAEChAOAA1/N0xGPUY8LSI4AAAAAAADAAAAHAIJDgsVJwAADwAAFgAAAAAZBwkXAAUAAAAGChAfEAAAAAAABAANKQsGAAEABQAABQ0AAAEADAgAAAAAGhAKAAMeAAAIAAYHAAAAAAABAAAAAAAHAAAAAQAPHg8MAAgNAwACLREAIiAAAAAkDAoAABUYHRU4AwADAAALAAAcAC8NAAARGgQGCgAAAAAAABsYAAAADwAAACIBAAAAAAAPAAAAAAAAKAkAJAAMABQAAAAUJgQIR0CEQD1kIgAPCCAOAAAQAAQAFhgAAAAFAAAABgASAAAADwoCAAApAAAHRhEuEQAAKgAAACUGAAsAVAAAABoAAAAAAAAhEgAAAAAABQAADQ8SAAEAAAAAAD0IAAAqAA4LCQARERsuBwA3IgAAEAAAAAAQAAAAAAAAAAAYAAoARQAAATgPDAAAAAAAECkLAAAAAAAAEwAAAQAAJAAAAAAAAAAAAAAAAAAlBwADCAARFgEAMQAAAAAAFgAACwACAAADEAAKFx8mLSIwgDlLJT4RAAYAAAAAAAwCEAAAAAAABAUAABsAAAYBAAAKHQASEAAABwAdBAAADgAAAAANAg8WAAkYAAAALQAAIQUAAAAGCggAAAAAFkYACQAAAAAACQoAAAABAgcACQoMAAACAAATCgwcAAAABSQUAAAeEAoaAAAAAAAcGQIBAAAUQA0FBi0GACQCDwQRAAAAEgAAAAAAAAAAAAAAADAAAAAAIAAANwAAAAIEDwcAAAE2AAkMAAMADwAAAAwABBQAAyQAJzI6Mzp6LRhBFA4KAAEABAAZAAAAEQAADwASKAQAAAAAABYVAAADAwkAJAAAAAojAw0AAB4DAAAjAAcAAFIAARQXAR0ACQoADAEAAAACAAUMDwAAIgUPG0wfAAkACCIAAAsRBAAEBQAAAAsHAQAADAEEAAodCwAAAAYFDQkAAAAACwIKBQ4AAQIAIRMlABoAAwAJMgAAAAMAAAAJAFALAB8VHgENAAAAJAAPDAMrAAoAAA8KABgAAAcABAANGQAMAAAqBg8hKDoaNx4mIg4hFQAAAgAAAAAAAAAAABcFRxFGAAAEABMDLAdHDwAVAAAABwAAABIAHQIABgABIhQAIgUAAAA1HBAKAAAAACEdAAAmABAAIwAAABArAkINAAAUCQAACRIVAAARSgAXAAAgFhoGABkAAAALAAAUAAAAAAwAAAAAAAAAAAAAAAEMAigAAAARHxIAABMWABUFCgoAAAAAOQAGBBUOFAMGAAAMAAAAAwAAACsHBwAAABQUABgADgAAAAAAFiYEBg8APigkEwkKHAAAAAAMEQMAAAAfAAAAEgoJAAAAACgXHhAFAA4GKBIAERAODQIAAAAtAAAAAAAAAAAAFgAXIQBPBwQAAAAABBoVATsAHwAAAAAACRoAAAAAAgAAAAsFHAwSAAQDAA1OIgA9AAMABQALAAAIFQ8LCAAAAB0AHgAAABcOCQAAFwAAHSIfGAoAAAAABQAAEg4IAB4AGAAIAAAWDAAAAg0GAAIAAAAAABwAAAAAFwAQAwMIBAAAAhILHQARLCYAAAgBQBgyCUFMGgAAABsTAWIJDQAABAARASgAEwAHAAADIx8AGwANAAAOBAAKAhIACgoABgAAQwwAIgAIIxMEXQAAAAgAAAgAAAEnCAAAAAQAAAEAAAAACBcpAAAiGgAVAQAAAAYAAAAAAAAAHAEAAAAAAAASAAAPAAgBBgEcCgBWCgARAAAHAAEABwUEDSIJAxBBEw0VFQAAAQACEgEAAQUAAAASABIHDgAAAAAAAEIPEAgQERYAAAsADQAHAAMAADMAAAArEwAODz8sJigDGikNBwATDwAAAAAKACIABwAAACEvAABHQABEAAAAAAoAGiA2AAAAIQIAAAEJAAAGAAAAEQAPAA8JIwAiDh4BLQECAAMICBISAAANAAAABwAAAAAAACoAEhklAAAAAAAAAAAAAAAAAAAADCcABwEAKwAALBkOAAACAAAACwAAAAAAABoBBiYAAAABBSwOSwAAAAIIADsAADgAAAAADg0DAAcPIAAAAAMKABsAAAAoAAAACgEAFxgAEgAGFhIAABIcAgAFEiZBKxEXDAAAAAAAFgAAACcrAQAMCAACAAsAAAAAEAAAAAAKFgAACgAAAAkAAAkZABIAAAMIAAAARw4DAAwDAAAAAAAAAAAAAAAACwAAAAAAAD0CAAAAAQAIAAgAFwAADABGAAAjBgAALQAoABsDAA0CQQAEAAYABgAAHxgAHB0AEQAAEQAPHxAEBAA1AhIrAAAAAAsADRATKQAAAAwMAAAAABYiNQAPAAAMAQg/AAIAAAAGAAoaAAQARAwAABgAAAAUFTUZGRQPFgAFDggBAAAKAAAAChEMHgAFAAAABxgdQQ8EAAAAAA8HAABPIQAAAAcAADMQLgACIBIAACMDABYAAwAXAAgGBhsFAAAUBQQADgAIDgAFAAAAAAUAMCcOAAACCgYIFxIABAQAAAAAAAQAAAVLDAkHAAAUABEUAAADAwAJAAgGAAAEACMAAAAACAAABQAUAAAIAAAIAAAMAgAAABEADAAAKAAAAAAjAAoHCAAAAQAAAAQBABEAAAAACCwAAAAAAAsQAW1nAA0YAAAuIwAcAAAQAAAAADMVAAAAAAoAAxkEDwBEAAAGABkAJwsIHyYAHAULAA4FAh4AAANhGgwUAAAwCgAABAAAAAAAAAAKAAAAAAAACgACJw4kGQkABg8AAAA3CgABAAAAEQAAABgACgAqFAAAAAAAAAAvDgAFAAIFDAAAFAAEAAgREAAMDQAAAAACAQkAAAYAAAQUAAAAAAcbAAoAAAAAAAAAAAANAAAUAwAAKgAAAAAAAAAADg0KAAAAAwAAAAAAChUTHAsFAEsAAwgSDA4dAAsOGBsARgAAAAIBEhAAAAQ3GgoHAAAAAAAcEQJMAAAAAAAACwALAAkAAAAAAAATEgAAABAAAAAADwIABRMAAAAAEg0QBAABAAAAGBkAAAAVAAAAJFASAAofDwABCAAAAAA6DwABAAA2AAAAAAAAEBMVAAAAAAIAAB0NCBYOAhMIDRIAAAAAJgAKAAAHDAAAABEAAw0UAAAAAAAAABMAAAUKCAAAABMcDQAAKF0AAAAAAAAfDQAGABgAEAACEhwIIwAjAAABAAACWjEcABUAChMAAAAAAAIWACACAAAAAAAWAQgRAQAAAB4AAAUAAAAFEg0LAAUAAAAAEQAAMgAjBgAHSicAAAAWEwwuAgIAAAABGAAPACQMDQMFEgoOEgAAABsHGQAAOwAGAAAAAA0AAAAAAA8eHSoAAAAAAAARHSQAAAAAAAgAAAADRQUAAAAMCBMAFwIAAAsKABEAHAAAABkbABAMAAIAAAAAGQoBCwQAGwcOAw4AGgoAABYAAAACAAAADwAOACAFAAgNAAAAABkwAAYAAAcSHgAAAAQRFwAAAAYACQAfAxAPIgUWHwoAAAAABAYABBAADQAQAAACIAsABQAXLxwNBQAeAAAAAAAAAAAQBQQKAAAXAAwKDzsZAAAAAAAMABMAABEAAAoAAAYZKAgMBwAAAAAUFwEdBAAAABYHEQAAAAwBFAAKEhsAEwAADwkDAAAADQsAAAoACQAAGAABAAAPAAkAAAA4AAAtBwAAVQQAEhQAHCgQAwABRwQAAAEGCQAbADATDgoAAAAAAAYFAggAICoAAAYGBSkVCSICCAAAABIbAUsBBAwADwoAAAILAAAAHgAAAAAAABAZFgAmDQMDAAAdAAsFAwsAAAAIAAAAAGATAD0CFwAABAAJAAANAAAMAAwAAxQFJwAAAAAAGgAfAwgmWAAAAAwAEQ8AEAAADw0AMQAAAAAADAYABAAAABgZAAcpAAAGAAAAAAwAAAsAAAAAABAAAAgKAAAAAAAADgAASQkPABIKBgAAAAAADgQWISQwAAUAFQQADAAAAAoCAAAAAAAABwAAEwArCgAAAAAgAAwAB1cPFRErAA0OBQwwAAgAAAcAAEYAMRwZGwAXAAcNDiQAABYAAAA6AAAAAAAAABkfMAcAAC0DBgYAAggYAAAACgMbAAAAACIAABgGAAAdAAAtAAASBA8AAEUGBgsAEgFAAAAAEhAAAF8AAAAFNgwANgAKAAAHABcABwAAAAELFAAYAAAAAFEABQALAAAAEgAUAAYAAQALDQwOHAsAAAAAAg0AAAAHAgMABAAWBQBdAB4AAAAAABgWAAsOEgAiHwAACB0AAAAAADQOEgAIAAIAABkFCgIACSEAABcOAAoAIR0JAAAmAAAAAAoNAykdFQAgBQAAABUIAAAAAAANAAASLA4CBR5LAAUAHQAHBkkCAwYAAAAGAAEAFUEAKgoABBI1BRQAOiAAAAAcAAAAAAAAAAwAAAAAAAAHBg4PIQUAAAAALAgNCAAAAAgAAABKAAAUHgcGQwAGAAAAAAAKIwAAAgAAAB0gDQAAAA8MExQACAAbAA8ACQABAAUOCwsAAAAAAAoAEAAKAAAAWxYZAAAAAAQAAgAfGgAAAAMAMABXAAAADwgACAAAACIDAAAWAAsAAAQXAA0OAAAACRcJDgUiJUUAAAgBDQMkAAwSEQAAAAQACxYOAAAbAAANABYFAAEAAAAPEw0AFgcAGwAAAAEAAAAAAAALBgUACAAwDgALAAAHHyIIACRMDwAFAgAAADYpAAQAIwAANRkAAAAqChEAEgAAAwAAFyEACwAACgAADAAHAwANDQBUAAAoAAAAAA8AADRCDRcKDAcYAAMAAABXCQAbAAAREAAQGx0qAAwAAAAVBwAfAA4OFBsADAAUJQAJGyETAAAgBAUAAAAAAAAAFA0AAQoGFAAOAAAAAAAAAAweOwIIAAkADxIAABcKAQAAAAAZSAwADgUDAwAQFAAUKAAAABAAAQAAAgIAAD4AAA4AAAAACQAdDiIADgAABQoAIScAACBEBAsZAAAiAAcAAA8AAAQABQcHNwAAAAAAAAQACQAIAAAAAAAABwgABgAACQgFAAAzAAUUDQANJQAAABEAIBwFBgADAAoADwAAAA0EAAAAAAAAABgAAAAAGAAHAAAAAAAAAAANAAAAAAAAEQAYUjkAAAAmFwAAAAkAFQ0PGRUAABICLigAABEACgAGABwBAAALAAAAEAAABxAHAAAACBYAAAAZASUZAAAXDgkLAAAAAAQJAA4IA0wPBAwABgIUAAAADAAAAAAAEgAEAEEDBgAAAAAAAAA6AwAAAAAABCsADBsAIhEAAAAADhgAAAAAExoJCgA6AABCAAcAHUMaDAMSHAAVAAAAAEIAEwAjAh4AAAAAAQAAAAEBEQAABwAAAAAAEhIdAAgAAAUAAD8AAA0PAAkAGhYAGQQAFBgMERgAFQAAFQ8AGiULAAAAAAAAADIAAAEAAAACEAAACBY0AAAAABYAAA8AABEAGwEABxUOBgAHFQsAAAAoAAAdAAAXKAAEDgANCQAhAAAAAAAAAAAVAAAcAAAAOAAACgAADQANCQgAEQAAAAAAXB8ALAAAAAAAESkAEwAACQADABkAUAAVEwAAAAANABQAAAAPFBwdAAAgAAAAAAAGCAAABwgAEAAAGSkAABIFABIAAAALAAAABQATBQAAAx4AABwDAAAPAAAAABMUAAAAAABWHRsAAgAVAQAAAAAQCRcAAAAwAA0YAAwRABIADQAdAA4ADAMjDwAlABwAAAYAAAIXAAAAEQ1rAAEAAAAACxseAAYdAAAILgAAAAAQCQAADSAhEgAAAAYAAAAAABYABgAAAAAAAAAGCRAFAwAKAAAACgUbIggAFQgoAAAVACAACwAAHAAABgAZAAQAAAARBQUIAAAAAAIOPQAAAAAOAEIZAAMADgAAABMACxEWAwIAAgAAAAAABwAJAAAAHwEAAAALAAtIAAAWAA4ZAAAGGAAAAAYAAFMADwAADBEAACwGEQAjAAAADwAAIwAAAQAAFAAAGgsABisAAAAKABcAAAAjBBwJAAAAAC0AAAAAAAAWAAAACwAXAB8AAAAAAAAAAAAEGQBGAwAAAAosAQAABAAAAB0AAAAAADMANwAAEQsAFw0NCAAARhMGABIADgsAQQYAJwIAJwAADwAACwAAABcACwQ8GAkAAAYfAA4ABAAdAEQdCAAABQAAABMuBAoACgAABgQAAAAAAAAAAAAAFxcqABQGBAEAAAQAAAAJBR4AFQcSAAB6BgEOEzcEAA8AAAAAAAgAFwAADBwAFwgACwMUAAA1FQEAAAAACgAAAAAAAAUAADIhAAAADSkPFDUAAAMAEgYAAB0wAB0AAAAAAA0MAAAaAAEAAAAdAA==",INF,197);
draw('cd',"mEeLhpeLooJ1iYZ7do2Ld3Fgm4OajKqhjZ12lGGBlYF1cHqRknlng2Jqb4iGiIB0ipqDiH6Tj5OFm3Vzc4Z0cYaUiE1iYGZzn3txh4GBcHqBV12QkXRndmd6m4eXgouZa3mCi6CPYXVsc6RzfnWPi4aCl3Rvb5V8bnqvh5aQgHNzdV6ylYV6bo6BiGmJqIKNhJmZh3aIgniGhW+Fu5mMsnhJUl+HjluMboWMhn2AbYiSmbOalKSEYFSXlY57iaiKbXaWZkFTXJCDcGiBe3V7eZdaeWyGe4GLg5RsjYCJoJKfVmuOb3makneJiX9+d2B5cYaEdIWJhIh4d4CDi1VyXnN+gI17TWmWk3pkk11+entze5F0ZHp6dnWJcmV/enxncY2RiISGk6CLeoVee3aDkoBodnqJh3OOnX+KbnqJYXl3m5V5elSJipldgnhTc32QhHqLfXdugouggZqLk3hxdo+LjIiXhHaFhZ2DfIKRko9rY4OOmGl5Zm16kXpvdZuobXuBm5CVbn9yZHNrpY9qdZt7h4uTkHhwW3t+d3ttnnVncH2IXIlzfJOIc4KimY+GjYV1aYOGl36Rf5OEdG56eoh0XX6fm3Z2gXJvc2hwdHlsdG1vccGcm4l5f4WLjZRNbYd6g5iKoYOCZ1x5hnxrioCDep2hjX6Jo7OJdWqrdZGMmHNjgouXanV4Yn+Sf2aFkIiLa4mQfH93kHdwhIqKenWLqYpogW1fdnyLmpeRf3+Dl3p8moZ1foOLj4dzcmF5k4RxeXiApqagloJtfnuPgHOQrXaVkXxyfIWOjYJwfXhuiXBue1x1gHSAqJ+TjXZ5eIB+d5Bzg496dIGfiXqGfGB+kpB8aYt8iZeJd3B2fHN+V2V2cWxqiZdvlm1/X4CAhJWKe2Z5dHiXlYqTbntcbISLkoJ/hJiYc4iVgId4coJ7eG1pfHyKboiNiI56eHtnfYlkg3Z8hYuVgZeBhIR1Zn6QlIOde3WaknKGZYCln46Ld4aCcIOOgYR+cHpecpmjh1eUiXuSjWxqil2LjpmkoZ2QjJp/cnppeKiNeG5eb3N+g3Zgk4mDeIWXiGdfVH2WmYiJcYZ5a2OGXn10hXWGd2lvXoGOgYCQcIR8eYFvgYNoc4WJcYh0enKBcYGGjWqKgplyc3l6emZTXXSGeXJ9i6+UgWV7gJKpgF55aZOXh2x+l3N0iJCHh4N3gYdwiYiNinBohIGBeGiCgY2UmZduXG9pbIJjkKC3n6d1co5tjXxfnX6laW6BfmV8hoZhb3qHhHN3lnuAXJ6HaJGbjYOQb3h/f3CZhXSBkoCMdXGGk2pfbXVpeXKIamiBjY10gIyWbGV9fZaEgnB8knRniHx0dIhvcXtyVHdognh2bG15hJSEdI+kjXRremuGeXV9ZFx1jnaGXniImmR3cYB1fG9whZyLf3qUY1puiJaPk4x5bIZyj5p8d3mQhXmLno6GfXKChHuZgoSKhWKIlXSGdW6DgGB6jHNpdHuKcmiMmJaWd2Ryf2Z9hnmlimxja4yJdYGPimFlaGSMdXZ6hIeKmXaZrYV7h5d7d592T4mVoabDc2tmkndhV3l4f211gnuDeXmEeYCEeHx7hYd/iXqDa15/YHaZh26DgW13b3N6Y4ied2hzj3OHpXR0dXp7bX6CjouIl32Fc5J6inV0aHBvgYaLi36Ml3d2kaiGeW9qaXGanYuIkoiHj4amwYyHfYWMkoV3jYSKhomGaZt4jZR/bYp6f417ZHmLeIxpaF9znJB9d5eBepptfo6WpZZ9lIxsbGlch42KdYGUgXdzf5aJrrGSZH2VeHaMrnZeg4iJioh1kICIf6ODeXpucoiDkYZ4gp+AZ3p1e3lsg35/bmV5k2eOfZB4gYSYe3xxeXB6goBrbYlve3picXuXXnGLbFiAfGhgbH13boKPdZWBioeKelFihmx7YXSVgGxwYYF/kJJ8a2Z2fpR4hXF3joh4eZaGeHSqpJWqk4OUoHaVnZ2PmWuGmZCFcXtlfoV7ioiPeV9gbXyId4B2h2qLiHJxhnuUpIuKiXuhg4SHe5qKd3Zjao6Re5CfnJhgf3WLe4aWanJ4gWuQooeEVmuKiZGYhXh2fGSRZF9+lI2Xe3GBan+LgVxuW4h9j5Rsj4aQZmZmW3lwgIWHbIeIbmtjjI9weIqDfpNyhYN9bFpsf2Zad3lqeH2DlJd8aWCNhY9uenRpY3qDjoV+pZ+Rg5ZzboqMjXOCcn2JhXRoeHxygn2hq6O6dm1+bIGXm5yJhIeGknqCfZGJi3lkbVd1cJR6fXZpW1VtW4locISIlIN8hKOLYXZpgIyAiZFhfIOIh4+GhmR7bYqfhImJlJKSc31xoHCBf4NrgoaGen5yjH+1fHOCg5eWcnFrhpGKdn6IkYGUgIGPcV1kc2d1kn+WjHKOlo6CgGxrgIRzlH2EcJOTj3KViHV2YXWLd31kT3ufnn+Wk4l7kX55jniJm3uFiGZ5e3x4mHSAlZtnZG56j4qKmnqMpZd+fZp8e52hoH+GTXm+rZZ2cZmHe5GVf4SpeJB3a3GCh5F1hnV0jIhjglxsnJuGkp2npHx4eFZxh4F0cHN6fpeOcI2ChXmKepR/eGlnjHJtgX2HYlluk36Dh4h/e36Cd4x7eHyNhJVvgGR9dHJkeIBge4aFhnOHbH9+b2p+lIl2iaGiY4KFaVyLc1ppiKaJc45jiZSgko19eYGaeXpyjZCtqJqQfmZ8d3CEiXSRi3uEiH9/m5GNeJCffGVuemxtnYR1VYpznpGMhY5/jYaKpJ9weJSNj31ylIqNe6GNi41tknxuiZ5+m2KEeoirkm6WbXB3hYSgj5OJjmxliZKLqHmXmnCIkoJ7g3BqiYmAh3J3iYCLlptzcGVsf3qjeFxvm3R6cnCHaFtpdIeDlH6Mi4tpakhkZGqXjmybk4d6en2GeIl5b3aHioBZWVpygX92bm9zj2dmgHWGe4iDa4iRcIGMl4ehgZ54em+PglxTm3xkaYCZjIZzim2Xmnpnd4alnnZza4eEkIZ6b2aTeo9qXn6AmIyQmX6UtZB8h3qEo3dtlIOBfIynlXx7dniXiY6MeouWoIyAdo+DiIx5iJF2cnGJqJKdhIKIg3yAg3qZinp5iHRte5aFgHSNfXdwdGx3eG5UgmVedoGTkV9wemaOiHB3iqakbHtibmptcYFyg31zlIZ4f4t7c3hwdpmTlG1Zb4J0eGyBcnyHbGRsgX2Ri5F/k4xikY94Y2F5c2BhXYpydXWIfIp6nG+TpXSXooSffoZ8cHZ6aYOKmpSIhaltb66ekZCQboWam6CVg4WYjZSnoHicdGqskHt+nbOkhHF+mI9xgYd3lKOae4GDgJCIiYl5bIB9joqHlIJwnJqDZXKRgH+JeX2YjoqRmo5xfaKOn3trf3hxa1STd2xoiYmQhop6a4iKaXaVdJNwYG11iFlna2Z6c3h/iHJ7iIN5h4WBhJGQc4CFhm1ndIlvi3t+gHd6ipeHhnN+lI2Afm9ogH6SVVVge3drSHtkk4R4epeAaVl9eJeJlH92kIF0gZWDp5F0dYCChIqMiIFpopSZjJ2OnIeIk5eigY99cpuKcHqWj4eNf2aOenJUR3d6hYySlZVvc4OfnHpug36Kj4V1aHiNhot8j4p7d4GGnIWJYouDbVNtoJiTfYqNg21wcrVnmJWMjYiKcV2poWuKeIRsbZV4e4uVcoKGb3OJe5FjfHZicGJ5jHSDgHF0f3xvd39kaHx+VXqZhXV/ZoCDiH+Mf4+FW1uEkpZxd3Fzeo96nGx8iYmAaXqZjo2GgIN8m5WPhX5sgnV/kZl1iaF6kIeVooahlqRYeIeRp6KLc6CSh5qnlpxwl7SefXWKd3licIRucWp/ioJYe3F5bpmsm56JdV5teJZyf46HhZF1fouemoyQY4Rxaod0aV6Dl4uOkoJ4cXZxiXOPdZV5d4RsV5KXYoVygJFhd5GHgGtpbXt0iqZlfHBofWlidpR9em5sW3V8WFZ5bVt+dHNwcqJWbYB9am57kp2Zg5WCd3iKhndoZ5F9h56lkIh9hIOLd5OaiGhliWSMt4pykX6CbHydg3WCkJeXl3N/a5yAh6OZgYOGorx6pKF/j5B7f5iQgnOAh5ykh3OHin2JgoeFi4ZyjX1lgJ6efoVufFZgh4h7k56DjnFsn4p6aIqQn4GMhHF6cWt5k4d1fH59gnOTbnJkdm98anxikH2VnnGYgll5hZRbSHNrZ32agoZsYnOck4R2g4RkdZdnd3F0g2+DeohvjXlsblF+cZScXHZyg4Ruin2WgH+EqXNTi4KOmqWIjpiXcJpxhJeAe5edaX6WnJCelJiyl5FucHKDhYKSaoaBe3SBnJhyhH2bppmXlmyOjIB2c3hzVn+PqaaThYiVlXKPfH6BhmyAZ4+QhIF2jYd5eX9zhpKskX+WiHqPgJqNfoqpgHyMg3+JYISinXiBj4WOimWFf3dxVXuSmIJ9eZumflmBkWhtZXydjF5gg3ddfWuCg4JpbHZxio2Bko9qcZZ7cn19YHqOdmuIZGBxhndCaISahKFubX2Ee4aAh4WDfnV8rHiXlYV+e31rhaOUc4h4b5VvjaujeoSEg5OUoYSQo5Noh5KJf5uPg5GIe395hoOehpJ6gImXmYuJlJmcd5OCf3mXnJx3apN7ZIhcjISghXWBdHSEgWt4m3eMp3uNgHWKj4F0jo94bnd4d5J5mJ6aiISLo5p7iHl9bGhmhZSGg3l2gXGIhol9cZR2bmxxcG+IdWt/b5hldm2AkXJhgICGb2lscHmSgXFfjI2NUZ1rX2VzilKAk5OIkHFtbFyHfH+aloZtYIlqc3luf5Gbd2B3cHKDkoKFmYt0eoCQcHVSdHR3inuginp6oZWqu5SXpIxwmX9xgJ99eHifnqiZk6Wikpmpl2VbcZmXmH99fHt8fWVrk4uHdX+EeXOIhmZziG5raYB9im1ye3Zvd2psZIl6c0hqh45vnad7jHCIhI6Aen+LeoV5g456fVNxnmxnjHVqb4h1X4yThnhql1yLkY6Ih3qLiHx4fZBndI1ue3FgeIhwjYJ2XH+FiIhtcmeBcI6JZoVtV3pncYOMsIh4ZlFwgp53Xn6Dh4V0ZHmBh5F5bFWDbnF0g359dpFwe5F+qYyrr42So5i7m4eclaR1orKlhWBzjaOKfI+dgH6IkJaXaIeAcYWAeoaDhYR+gYOSi4iMc5Bmbl5vg4mkhYV8bouTaldbeIiFUGCAiXaAim5mlo18enGWjo12b6CMk5ecgmWIc3OShXJ6h5SKZ4WGiomMi4eZoXtnbXt2a22JjWdtZG57cG9eb1x2eWVwgIelmXmUhKaFdoR2knltVG5ydJGUgXVmY4SDcnh1g5h7nJSBkI19ZGZncoaZjKKfnYuHlICBcI6PhKark4WQkaGKlZuWlIh+dVtXbn+dlH14dX2egYp9b31nfIxyjXh2gJJzg3GNoGhycnNge2hwfnd4oIp8gH99g3STfYt+n4yAnYiQhbCGdYKadY97dXiTbGxtfoFxaliOh5CBZIyVaINvdWRjeISEhHeIiJGLmnJSgIOGaomFYmGGn4hseGNvdXSDWHiJgox6f252eYJueEBwgZB8fZd+eYF6Z1hohYiEdnqJeHiYhnJ4moaDfltrf4ONd3iSnnl/cWWAfl5xeGp+mWBslIyOiIOAlGF7U1F7nJGHnIFxhHSlj31zipZ0fntqioB0hmp9eGpzdllzgnh3YnJ5hH+WgIeMhJBeYoxpcG+EdXengIKTj3Vrdo6Fj5apnImCfXiBg3Jra4eXiX6AgoWJYG+eeGZobmhxco94g3SqaW96eYuHhJl2c3OCgXhwbHJpZ2JMfXCEbHZnjGVdammcYntXg2hua4JueomHe5OUeYaWonuOhneAZ3uslpuMdmddbKJ7hJV4hG55a6CRlXaHeK+IiZCCj4eIfZOdZn58hpKHiYeKjG99iaCmi4BwcYN+g1Fzg3t4b3R2cYGKeHKSdoCEeWhtaJZ4nJOPgGt1gqOGbHyai4t1caGZanl+nXhsmYmIhH5jVHyMh5p4aZmOfFmSeIlyl4dqWYJhdIVqh4Fzd4Z1gXV5h46BiqKCX5OEinyBkH9vh2aBf3dxXnGnWH9nZ1VXcYGUlnxriXttop6chneFfJaAeZibipOHepd3hX1ybXt3hXh2fYmEbnZthYaCf5aBkH+ahYJ6kJeag4tfbpuei46zmZmRgG6IhomNhpJthXJ1YX2Vj4SZeJyBlIN8lnmHkpJ1iW9/kIyKiIqAlJWJk4CGeZCMeGWXm5aSh46SYGZiampnVG5dY4KSl4qTqHaMcoZ4gXR0cYuHi3hjeoZpjYN6aYlibG99gXlpc3l9pJl9fI2IfIl/XkxTY212h2pXeXFqY0JbgomfjXNjdYecuLKVeXByYHt2c315bIaGh52bg25qhoeZgYd6hJqBfIywdoprg4mPl3Jyf4SCf3yFfXuYnZWTlK6Pg4aHcXp0fIN+aGl0fGBOeI6YjYuElX58bGtxbYKOfYZ+knuDhYyYi6mBhKKGfoh0j3FfbomUjJN/f5VefHp1VGZ5elN/hn1ueaCGfJaHdmB/Y2yGeXCFk4aAeYOHboJWgmhqi4h/bW+Dalx2fW1cgWpwiXVde3aDiaKMjXh3bnR3cE6BcpBtcmqDbGdzgXlgUYOAbHN2bXFZZnxtiI2FhYiCk42OcWx7doiCgJ1ljouXdWZ3dYp6gYCBg3p/lpF9hI5gdn57j356aJ2QZ2ttlYCCYzt4dnhydHN+fY+Gc2+dhqOziWNcfIdhY3l1i3uHh4uJhH56dWWXi3hNaH+ckXyMmWBzjaSabIuGdFh9fIZja4JZdHdvhpx2c3V/hYiCg32Vb2VsZV19cJdpaV6Ka1drYXh2hJiHY1SXh3SAgmSFjH16bXlZbap6dm+GhZF2cHlsZ2t1oH2ZdGGIi5V2lVhekKGUco6hpJ6dh3OanZNXdpZ/m3iHXI6Hd3t/dHujjX+WkGRpiW+FeGxzX5aIiKWFaZGXg597eIt7Z3R+moFjdHN+bGuEdJaCdniIhGyOe4eHn4Bzg5N7X3t5lo2FkndWdHeGZnuCcXCKdpeKhHZ2cWxvg2l6bGSEcmd3hmxrXHZ0aX+DhHJjiFtxcH55gXV6cIKdWkZ4oGqGgYBujoOdraiMWH2MdG5sn35zfIaBaX2IiqOHfERwkpqWjn1vdZKEb4x0aXaMgY6ElIiMf5GJb56JiXSAhXuFg41/lIJ3fn6DjI10ZWyZbX2giol3eomLmI90foOJoIV6iIWQgXFgdoGDjoiHZpOEUmtTb2tpiY96Z412fYh8c3mGiXlkhIWVhHl5hFt3boaAgoqTkXuLg4Z/enBiaoGWc4hheo6Qgp5/bWFvdW59cmdugHORhW5PdX6PmIRtZXRqZ3ubWEdpa2GLh5KUh3VneoBfXmZvW2pxdV5ffZWjmHqBXIZzWpCGkX6RkYReZ16DeJB3fot1elBtladhm5p8bXx9hG2Ben6Ng1x9gpGJh3p7im92d3Nbkn6erHaPhoqPjoqFcnNpZXtwXFdwbYCEjplziHNodl6AfXqEd35ZZ4B5f1ZrdHltkImIg3l1k49+anuXkaGcmYyBd2dofXFcfWJucneLfVyhg5KRflxUimWCWmOAbG9nZIZ5blpXa3x+enlZf2drh4Zub2Fld3iEcXdabHZvVm1UaHltaHdWfnZKfIyCcmBXdnqDcZWUiYd1bn5wiJ+enIaAmo5waHuAa1l4fIZwgHiLm4uCjWh1e357oY6MfmmQjX55eV+Ue4aFaoN9hIxwa3+OkIZnZYqNfX12ZYOMi4CSa2GGfouDiZeAbZiAkXltaVJ+dpiWmot2hY6HiImHg5iQhYZ3fIN9W2tyoJOMdXmFkW1qYW5sd45xd2pmiop2cHp9bGt3Y191Z1qEe2FaY2yDaHJffICNgWF0g25qdmxcfYNufXZ1bHGSj15ufXycc4N/emRnbFuMho2KoYeFnJGqiIaRh4WJcHKDb2JRa3J3nqJ0aoSOcXd/X2uGj4OCkH9qhZSKdnRoZHZydX56f2WLoYWRgGWPf2FZiIt2doh9dXB1YpOAd2x3bnZneHF0cmGSX1djioVyeJR+bnOTbZ+MqoZ1YlNzbGhscGaOho+HdY6af4KDe4iCiWtviniDaIKScoJ5dWV6g3ZmgoFzgHJ3dnVkcXl9f3KCc2Z5a2uZenqJZ2WWeXB/VnNth4qMhX1thImPhn6RaXxvZX94XYmDjJaCboBre4eBg3KDPnJ1bHtyaHaPkYNvdoxzgXmBenSIoYuPgYqVeH5mgJaAi2SFhXh9bH51iKV/b4CShXVwfn2Jd5qGlW15o4tsam5ihnNogpN+WGJwcHaFfX9uinZ6in1ripyJiYiWa3qIcY+GeY2TeIZyeJF9YnJzd3J8joNmeaSJiYF8iV+DfF93YXKDjmyAfGxmZW90cY5/b2d1UnaPaXpsfIF6bW94dXd4blBwcn1LfHtkW3pyU2BscqCNgIx4opB6Z3xWfW+lgXOZgHpUaoaZkIOBkIZ2an9ydHdvkIh6YIKMY2Z4mrqYcn2pkY2Ld1dldYuFg3qWkoRvg5GRgYWAjoKgm3SFjY9ub42MmZB2e3WKooSNhYeEg4d8jH9xbo9vkLZ4iWuKkIuLb35rjGyGmJuDgHN6altqe2SHm4R9WmxihXF5a3t4iaCCaGxrYXhqcoOYdouGZHRylYx8cVdjY3dcWGKAgXh2coNqd4KCZHKAfniFe2Rkf5F1hn6RX2SPkneOfX2DfG1fZHWXc4VrgXNli3RqfIaMbWmTmYOJjnh3gXt4lJmJinCNmopibYtqgoSecnGVlHJ1gYKFgliHgImShHyZdWlVg3iVl41yj5x2cH1teX2ChHV2fZaEWHh2d3d3hI6ZgniXa3mGenaZhWyxiIR7iIZ/fXpuhWhVTHdheHt4jm9+g4phm3mWcW55cXp0lWp9j31diV9njpR/j2ByYFdPhnWDfXd1W2+KjWuNZ3x4hm6Ab15mdoSCdICLj4NoYH+GbHOWkYiCdW2GcqGXbVp6aW5+Zn6anpF5cnmKjnppY25+h3+OhoWHepGdi3h/koSBfIB4YoVxhk55k5JoY4FvlZ9wZXqIh3xskoaPiI+bilJrhHKic4OPlp9kkJF6fHWMfI2tnJSHT4lwbZGmcYBwc5d9fHdgdIuLgI6SXHCGjHyLdopwZZCCeWSLdoRva2ppdnd6anmDcHqMTXloin6Jb21WZnGCcHpxgohxcHdWXXtxh2SCbGJ0ZmN5Z2N7a3Weh3FJcHh+b5N/e5eGe3Z/d2+EgIV7d3B8fpebaXh3gpuNYIp0fnJvb4WZenVoeoF2iHqDobOrfXRmcnaSkXd8lpOCdoWkpn1pdWiAe3yJe5KBiJFtln9viKl+kp2biGZ9l3KRhIuEfKh1emqBhVSAhJJ/ZXduipmWd2Z5k4aRgX9+k8mgfH5zjYh5gXJyjHxnX2VlfW16fH5haYeDcJB6d3doeH2bcm5XXnSSdXt4hIlzfW5ReHV7gXeTdWZ8lnR2X4xqZ3pqcWBwfY1nYnN7fH10go9tc3p1bFBrfYeaal51dH9vbH96jXV2dmZceYFsdWt6cWiGk4aRpZmefHSUYWSNhHGNhXaDgnyHdoWZjoiDonxoi4SGc1yEkmaJlomVgmViXoSDf3Zqf42QgZGHgpmGeoyQg4Jae2Bhe2xoanN+bIWOgXV9jXZ2YnSCoZaSZWeLfmhZe3Bne3yEgmlihIt9eoWBgG51YWBid32Wa3GFXmN8emqRjmFmWXN1dKB8WWd+e4Z+lpqQkGNygYtxjGt+jnV4Yn+MiX50aH1wdHaSk56EZnNyZXZrpa1+hHl/fYJ8hl1ykoWBeWN2joVrn514hGtgXJqdlWiEdJucl5+QjHyDhXVvgnCiqZSBg4uXZ52akXtyh3VRaXtiYIBveZJ4g5aYYoiZgXt4lXmWiGt/an5wbo+EgpCMe3qAgoOVgX+edINXT2d9epCAhG9wbm6CamtxaZOVgoVbdZF2XmeEbYldeoZ5dIZvd4GEaX1UYnpyZXFcbIKLi298m3eOc25pcXBpcpRtW1NPipSOjZWPk5eXmJNyeImQZ5ONkXZ6eYV5Zn2Bg32FjpuMgYVmW4CMf2eVgKKVhol2f4N5b3R5U2h9j3x8XIuAcnmPipicgYdac46Ld4eTfICJk3FplIRcfmlfoYqOaYB0fpxxW4ZqlpBrgH1WYnR7f4ZmgHxkaoOMgomOenBWjG98dHVwdXd3WX5rdnmHenVXcYh/j3eNloNsl4JslW14jH5uomZqgpdZZXR7dntqaFh7boKanYZ8anl3Y3J+fGhsbn5sf3WPpHZ/fZePgH6iqGh2bX56fJB7hl1ugY55jodsnXeZb46WlIJ/WoB+fJyPkY+Mimh+mH51e4R+hoyRbndofJSIb2Rwk5WXX1STg4N+eYdhWWpuenhrgWeNlY5+inGAb3dsiXdve3WCboZrfI53W2JzZ2pzeWx8fo1kXGBcYVdpZJlyf2lkYHFqYXR1dWZ1f21gaZp6c3VrYXGBgnZ8eoF3YG2QgHp4enJwfnaDfm94a214hV18loGFaW+FiXFbbG5wYWSXaIKLfGxeZnt2cIOWe4KBiYiMbXyHZH1ljJR4lW6QfXFZYIWKqG2AkoOIZnJ5kXt+gXJ2Y453mYmNj5JmoopvinqKeYSFXYl7f4CBgXZ5mXhqfmdetIaAmaaBh4t2g5yakYuHd3Ffi3h1dYCUb1plX2B2gWSCepGKk5Bvh4uAZmN3e4x7Y3p2c3tzb2qQgHRlf3lofHB6Tm9yX3lsand4c4N9boluVZxwfm95e46OZpOEh25zdH91fI2BcHBugXFqf4J7VY6JgmxtZGlvSW6ScXSOeYN3fWp6inySfICQlX+AbY2ueHF3hHJ7mqKRdXyRgpJ4e46dco1ebmV6f3SEaW2BhIGLmY+elnhybnyEcF1yemOCcnF0aWqQhImKe4+BhZyIhYKEg2l6bGSeiXN1cYZPUm2DeGh1cH6TkIWAf4GCimNxYYdlhoRwfXl+e25ghWyDkm6CjXOCcHlna25xfIWHa2Nvb3xhgGVpdnhzc3Bmcm5noYSIeoZ4aodei4x4dYV/b1t+gGNjaWxub4qCdmpjfp6JcYWCe3pfaYx2jZWbinN6goWEhIB4amOGkZVyg2RyV4+Gd3Z0lIl9iWuDeXiEc3uRhVlwkH+LkpWShnR+qpuRcHV2aWV9c2hzin16aYCSi4VXdWV3cGxwdYx7bmqHcqOhnoaHYYF+eWx5nY5+hn5uhYpWX5uGcWF7epBhbZWVemx4cn5zcnKDh4OCj3+GXmiJkIuId4Z7W2ZxQX99b22AgGJ+dXJne2Fye12Bk5yKcWl1h3OBi398gIiNgG6HiIyVd3eEgICGbWtuh259f3GWj5iFin5ki4aGgYiZgZGgjI2NcJJkaHh/fWSCn4R4gYuJfKiJiqGOioh7f3V6cYCheJCbg2yFfYdxYVZ3gImFaYKekYGUmnliYoN3f2l2cGCAhnNmc4NniXpsdY6SfmWCclxoZH6Tipd3hXB1hYxren9xiHJ/iHJgeFVNcnJ4hJaujXZseXGTfYp1cFRgdnlPkZOSa29qdICJikiGd2iFgoNqo45WdoWkkpWUfleDb5F9ZX2HZnCUglxxgl9eeXVbZX+AeIyIi3V9jYCDmqRnd4aDm5iKmIeRkmRReoCKg4Ohdnl7cZV6qXV6fI2Xf4iBh3uDdZyQjKCCdYKbc3VhamZJd3N7kKSAdoOKcnt2doKiho55ZmhvfnR/eW2Iimx3gI2EeHyWdHB8fpCPlnWGbYGIb31pc4KIa3x8Y1d5cmxrcIdoiJKAfJl7bINqfGCOWnOke01ljneSUmFve35jbpmHcIx4hmyAgleEe5uGZ2mIhZmPaHhqY3OAg35ueW9nZGZ/fn5zlZZmZXJdYmGPbn2Nin6fx5J7g3qEaZKUgHpxbol1k4mAfoh7lI6KbGyAk390mYatioKPcHqGnJ2Geo9kZ3OSfV90mHh2joSgdohxfn6OjYGVeImFdXlzeoaAhYudhXdxgn6JbIWSi3ycppSVf3NqfWFphYiRnIVsaG9VSHOJcW11mYuSaVJ4gXJ2bmyFZJ13bIR2bmiCb4GUlo94gElZhoZ7VWF/f4uPcYdwXoF6gYGDf41nanmDeWp4hoVtbHh5dXyIlphqdoGDiX1rhYd6l4lmX5eJg4SIgHJpiYCTfnd6f25xgXKIdmSJi4xxZnGCd4SHoXyOZ4mDiGSLfml7o456bYGQlKCei4+Bf4xfb4hsgn9/V2R2eYWKjXmEhZSYnG6FkHF+gIt6bXNndoBzZ5KBgnBlaYGDe2hlZn1aa3ZYWXZ6kH6Va35dZnWMiHheVXdtkltvfHNed4KDd4iSgm9yeHGCn3BkdGF3lHxgjIBre3h2a2eXgX1/gJmDZGVpgmV9kXpxhIuSjHuLanB/dndxdIZ8XWR2fnt/kn1nhX2ChWtzaId1gIWahXmcfm+IenZxgGp8mpqYnJ1leIFaXYyGh5SgfWuMj4aPoJ6Xd4CIppR6knOCgXhkeHWIkKtwgmVzlJOdao6BnpiEZGqPh2Rqa5R+d3x4moN7on9lcHd8iGCKgG2Bb46NjXJgdpV6aXaal3hnb3yQfX6dkXeLpK5lZX52Yl9tk3aGenKVfHGBc2pohXGEiHyAgoCOmm1yhXJ6ZXteTHCUgZ6PnYpqm3+TdG92cYhsdHyHe5R8e4yWd3iSloyXXW9odIybipGUk4l7inlvVneWe4eUd3WJkXJgf3Ngc4CGe4l6Z4OCjpqKf3WDjImBh4+jonGEYn6Ac46Dlmx+amyHkaBcYKCEiYFkaH+HYoRyh2+Vh4p+ln+GjHNoVWBqaXB/aHeQhZSEhmqMnl6WmIZpg4yGdoxigqd7bnaAc2SEgX97hJZ0gXV/gZN/a299dJB2WG+Zh4JpaGiHc3JtjX54e4RZanaRe419jnyBfYlvmoF5ZmZ2jnpqh4dtd6eFe4JjRIRmeo+Jend5joN5ibSihYFle3xtj4FyfpqPiXmHcnqGmJyfiICEipeAiXx0Z1lxeH1rb45uXpSOem1XhnSJXluDkpmri3JthqOMb5t1anxgcYCKfJt9b3pmcnpzb09VPnNabGVfgHZ5na2RbnlxepKQnZCMk3SDo5Fjf354ZFxzT4STg5KXlnxwX5VpZnNvfYiFgGBeRXV2a4Jfa099alqKh5JthWRzZ2BUe1Ref39+iIB9eHyLi22TfJelkHx3gndcZlZkemeTipOGdHefjmp6rJyDjHGLgmt1em+jmlplf5mIe35xiZCAmaOQc3GQkqKNioGNeXeHeXNpbKCZeIBvkJBjl4Rme5qGgG98X1ZkdGGJbHlsh2aBjnNqhWJxenF0c312cmh5fVx7eIyoim6JZHyEcpN2oXSEcmBwhGuIh2tee3GPiIB+kpiEhYReYHF7i358UlNvaoZ6jVx9goiIbYZ9YXpzd2+VaGtcgW5vcWeEdHF6dHCHjnp0comCh5OVaZOEVGZ2f4Ntd3h8f3mAspmNcmyMjYB6XWiXf3tkgZSXl3Z9fYR+kYpxiXuEkYePgpyafZKClmNPg2lnjKGDgWiPdXSUpXqgkJRqdoaSl3GCYHeNh5hcdGpni3N3gVyUjJWdfXFsgnFieniCfW54h4uAaXNjnKuSlIFpcI2JZm57mYh+eYCtZFZ9gY6kraaHhWltd1Nme1BPW157go1yYn5pdXGPZmB/b3lrbYeGbWSCYFZmgXuWhXBpkmxsfXl2c4J6inCNhXVffniBgX6Yf5NwaYKQl1iAd2t/eIF4bmeAh19re3OCeGxrl42Man12hHqEiYOrj2dtcYJifVZ7enZ/jJN+dYqKfpdreJaMgXl5cnh/h5SAcndqjIFoclqHmmd7d4SCj4eCmYefaWlqiY6JfoqKj5+GbF+Ei357fWJmmHV4bFpwfZFrVniIaFhoj52ruq+ni3lbY2qVV29pVm+alYRzX0VjW2ZZU19TeklpYnNwSmBigWV+Zm5VbYRri2NhXXBwapFib41tdoOdpH9zWoh9iX5ykXd1do6Iem5+fm19g2t6mnx1a3BehpiKYIl2kpFufXd+m4t1Yl6IhmR/U3Zzg36Lp5eban6MpX2JhnFgcHWnbk+KdYqMc2ePhluGel+AjWZ+h3d6hIZwa4iJen+AgZegdnGAjY9zdYmdk6Kbf2locod/V2xrX4J7cYF7bFpchqquupZ1W3V5anh4hIJpZoqFUGJ5Wm9dVlRaRS98V2R7a11kV3Z+V2VqgGpgdYV0bGtxhYF2g3FhZ4BwkZKjfGSCk5p1kYJ3bmh/dV55fopveXZ2dXuScYB3foygpGtvh2h5gnd9im+Ck32SjIV3dpeEcnaBmH2Ppo13hJdqb1uFXlZ3k3SCn3hkgJN8apGDgZiTe4V+dYV7ameJd3CJk5WRnYKQhpyHgqSSpKGdiqiJkppyjGV6hnyOi2xmgIKLWlZGX4qagKe4lXR9e3RsYmaAf3tbc2RHZYNhWnBNe1NigYpmV3RHanpuZId1hExea315bVN0V1KCko5/dWt8cpSbZ3lhYmeRipyeh26LfImFZ2mEjmJxU3WBiJCXf5J2n6mMcpuLYXZ2k4ZagomBjY2ZinOUm2pjfISAgYSclXiSZoiGgIaHi5GQgWiKg2OZd25mbZGOdniokmCQgn6KcHeHro+Akp2Us7yDmaePrXyUk6t3ioNkg3VxW32DhJp8aGRxjn1zaGVshJ+Wq7edjpZ4em9vdmN5VkVFTmNhaldxaVmHVl9kb2t0S1FIV3JtgIN4XXtwbGpqVmKBaX1yeXh1eHZngIBkdm+AW2x+h6Olg5CKTWuCcqCliYptnZRpYZBVe5mef4BzdnxNiZR9coaVoHt3hZCPfZKCi4WPloeIjoGFgIZ/lpFrdH6XiI19kol/dYFjX11rcpBndH9yWHWOcGR9f3eFinuujYGYgFd1jpORe46Nl32VdYdxWZGMk4J9d3uKh5l/dGZvcXdmdJClwpmXlWtYfWFDTmVvP1ZOVnB5dXRQZFZJcoqCfIlje1lbTnpkbm5jU3RQTmFyhHlnZHCGdXqdo5l2bHx6hZuDgHFvkItth4J/eG+ApYGal4tzm5VriGV2g4mUiISVfIKGkpF/c4KZf2pfeXOJcmtnemd2fHV0aoJ+g4+MlG9sdoaFiISEmZJ9anNeYVVaY2FcfWlGcJZ8Z4WGlZxtaYZ5epaIcmORhpKShXmDdYyGh1tsiZeFXGpaU3dvfqCEXF55aHZab4x+hq2xfVhbTmBJbVppXFZDPHJgZXd5aW5+a5JfWkp/hHdfd2RxiVhaamE3VU6RcmhlW1Flf2VYaHh5dXCJe4WNiYaNdYqOb2N/enGBa394YHmeh4aSlJR4eZaXaVpojHRlg3KGdIxwZl98cWVreW+glZ1+m390coSQfGhic3aHcm2fiqN+Y4xck3tjeYSLkml0kFtVenhifIuZg2ikko55iXWLmY+RrIyQfJueiG2qeW5aU45Za2FxaGOIfIhubHVscYd3gHScoI12gWxYWGVleFhVZVE4Qk9tW0BNUHlXbIg7PDNMV09nhYB1Y1xNSj9hRXFnWmViXE9bdHeLjWlhfIl1Y1hRaIKOm6Jsc4yAaZBrc4CZiod7b5+ShW5/knNxiJSQdnB1g4KLeZBxcY11dJGUlp6LfomMjW9fZm9re26QboNiaH59jV1ygWt5c2V/aoeHf3yhYGtmfYJ2ioR0ioFhiol0io6SjIKHaZFqj4iLi4tvfJOSlmZ/inh5gWt4gltFbGlpsYNoUYybhHuMc3NMUT5EWTY+QEw4NkxITFg4clRGXnNSanVIVGN5WElddGZKW1VEeGZodlpbdYZvjWRweWVviX6AkXR9j4Ruh3FwiJCFi2uchoqelW5pjoCDen18dYafgmRwfHqRY4tuh2V4iImIfqONqYhteImFanJRYoCOdaCGaWWKfXqCa453dmZscoJ5foZ4cXx3d2ZhhZOdmZuQlICGgXmNmZWwjYKynIOEe2V+fXt/eZeLd4yTk4R5c4yDg3Z6f3pUcpxtfXaHf1xXcVlXbXtVNlhOTDYmWDZdYyRSZFxce1lIRztDR0hrTGViV2VFSVpdXW9yaklodYxycXFqYoSAVWyLe4aRjHyYc2J6m4CAf4mDdIiciX9eeoiCmodzf59qcYmJiGpyjG92nn6HnpGIhYN4eX6Mb0+ElGBeeXJ+lYt8a3p0iJF4j5CEamdzhHF5nIOaeneGfGWmkLF2jZevqIeBkJyZaJWbfZaIen+Fg4iFhoZ+f4dtmohneoOBgnZzbGKLgnOOcZBxkY5ibm9VRjddbGk8V15dNkg8HGBfQVdTYDNbTkxdeDVTaWw+bX1Oe2xOcn1oSHVtaklXaGR+dVdaSkpefWRSd36JbIRuaXx9i6qKk39mkYSAhGB5hnRlloZ6nX5heIeGpnyNenqRg32NhZBtgX58oZWHT3qccGyEdYiTe3COoJSOc25ygHCRemmMd6COdZp+d5SZd4+Mg4+IhI15jZSPs6OnnYxxnY+MiZZ2hpGRiW97do6NioKBeHeKXXCsfotlfn1WdGVYfWZLkW9VQzlFdmoyRkpKb00+Vo5Zc5lbXW9PXzmAST9QeVhQa2CKeIhygmtcfWd+ZFqLfoV3bWSIkY2ReGV9bp+ai3ySi3qqYIOPmaCqjXGchJWMhWF7ep6blH19fYiTgHVtiYeKdHihkYuNlIWVkJBvc5WIcHqbbnF/hZChoJN5bWyEgIB7gqeVlZN6kotHiotpg3mRlZqNfmJ+jpacn6GaeniGknhzeaiGi76Ng4V9foNobIpXbHyMiptrb5R0b15jamdmZWN0a3thajhLgUZhbSonQmVSYHSxvZR9cHaTTH6RcWlzTUxifWddZlh6iWqGalFdUmeFn4drgIuNgZedjJqYoYF6b359hYR9eYehmp6Kg35+qaGohYd6jHt+c1hcgoV+k2eXr4d4iZVseHeifo+BnX9xm6F/fmFfSItkb3xyh4Z2lXuVqYBleXhmYZGdiFp5amx2g69+eG+UhotyhK2MjYl3TmKJpKuxk6KSpaaUmJqckHNjZ2ZrZnyRm4F3i3BZdZFoXVpLXGV0e4JjP0qBR1pzjjM8SytcaG84WXNvPUWLfnp6dlhueoVOV2tVVqKffpR2aHZzao6TkZSecGFrY4Cap4OikHuDb4iDf3p6g6GXl3Rgf3+dp6SDfYiUhHd2aWx8mZmihImFa3mae2B/eI51lZJshnR7h26RXFtil29malxjdohod56edn16hHp5cKGhrJCLgm1Uh36Fo3t5jJOCmMWqrIl9cYqRfolcYnCTgYh0h5KsnHtwcHSDgIR1i4FfZWSRYnSBY0+EpH9EQidKVoBUdUZcY1oqNUhTKjBvglxlVIZgg6qlKWtWdJGEi1tFe5txlJV0g4uFioKFg4poX31xjneVop+SimyCno2AbYiFi5GId2FfjJu0jml3ZYGEc4p5iISGcIKCg4ycc4KBd2CDiHuilnyUlJxxXHdtcnhngYmJhIGQjXRok2R2kG+PmIGSgIS2qIKHemGBgJmXjWyPo4uDmqegiJWGr4dwdn2AaX5veYaGX191b3B5hoKrU3CHgF9aRnp6ZW9Zbl5bVGM1kG5YdZl9UIRPRzxKAFE8Vx5ahEYfUHKDXodDfoeBspZve5ZIiWl7gnqlgHx9jomJh5WRb3eXjpOIlYiBWGGJrJSIm52Ofn2De3SOaHONhIeQjZdsgWuVlpFxi1mHgHBvjXl8fJ2EZm5xgYCdf3Z2eIJ2Wl+FclmVfZ6NjHlzaYOBgpV/f358YYB1gYZ7gnJroZ6dk3uYfYJ9kIqghIebb3Vbg4mBb4SIc4CHiouhh4KFamxfaYmCiZp3UmZhW3RYe3JLZGKXWEyHhHUwZ24bOzUAMCM9TlhvT1RadGhqfGRDbmBOaFCPb6KNf3yWim9HSYCWoqaemJOLl5GhqYaZi5h0lYiKfX+wkplrhoeNcpJqi4lzg7NvhWKFfIWMmHWQgY6Tl4hWlIOFknx3XGl3fnCLhWFpmod/in5cfYKHmXZwmWVHeYiJjZeilI5vcGRve3GPhJmwl5GCcWV5hoedj5R0g3hgT2Cej3OEgIiEgHB3cYp5b3uDW3h9h3KeiYGBj0qPYkNoXpdwl5JuU2hlemNMnnFbUEVWqGi+p65Z1oOkiavIhVhJYqN1PGN2moOFY42Sp3+Zj6qaj5GVk36PtZGdnpuNl4mwjZiHgp+rl4mom4RyfoSch3CKgHGBkIeMkKGRYHiIZleMiYCGmmWDhIFtdIeQinZicIOdjGqmeXSOm5SEfW97dnOQiY9pcGp6koOPh46rg3KNk4CCkYNoXoOFh2d+koCHeXtzYLqFnq+krZ+mjYiBZXWRmJJwmYl+hn2GeoaEWouEc1+FmZ21mrKxgGyEbjqGqDdPoK3yiWtE766YhrWtrcmXj2OiyFc0pnBymluXebyUl6uGfaGBfXuJipiJjZmlmXWFlpdwooqunH54dJWCZo57nqCocJJ4jYWNhpZ0f3B9fG91YmdzcI+OfXttbomOjXqCpnx+jKKBepOamaegkZF5eGyBe5CJno1zhnyIkomUaG9sc5ynjoKPdVtob4qKfIOemZ93dWF0oYSNbny2ZmCGjLWlimWMnHGBdKOGdJGSfH9xaXh1QDKHUHxvZqlNfYOAGIBskExOxpR1VRAtl3KHnKmor77Gu4Rni6ud2ZNlf6tbdW6Jt4KXdHuWl4V2nH9+kKphg3+Sjnqbf5VznJuDmYuCc4SYm4OAhWt/hpigmXFbbI5+ZXh4W3FtkJJ5c2hlYI16kIimjXV6f3Rnipqip4CokJ6Mim+JfXKNpnd+aZiLmouLd5uJmIZ7a11wj6OGeJeShqCFinRcUWtYhoSShqF/cZWro4qZh5xtkIiVfYyJk5yLiIx/kV6ElsJrTKLVc2PCd6B+XWingy4sezSPo3bPtXfa1l+BgYKPoYFPcsx5bGdPVFSegG+SnZadh6CUkoWqka+WjYGPf5+phaWMp5iCkcGJfJqKf4WGjXmHiKaSdZWTdHiNko1rgIuHZXKInaGFfW9XcXlqmINzdGKHi398h5KPhHl6in9tfpJlmI9viHxmj4N9eI5qlYmDe4h3gGx4epd+kq2YoraLb46Qj5J+nKaZjZGQi5Cbg21ii3iDkouNi4qMepuim92anXqA3I9oWoJTjI2Ha3R4Q6a0L6IsfuKmhbdQN92yi31tr4Fii3LKron3ooB4hHqjnqV+j32McpOZpJaLq7OYlLGIpqOWqJysnpumoISNiYyOfnl/eXKHcodXa4JthoZvgXdploaOkYupro93d2hraWOOno+Am4xlsV5VgaGAgmljWFJ2anSObX11V2h1hX+QioJ6an5yqJaOcE5WfJCpjX9/eYl7ioWWiIyHhpOGqaObrY2fs5uPXliGio2CXXFWjo2KkZFmfGheZuGbiQCCdW7Ic3fVkczO3W6f/9//lFwkbIzRuCyvAGjuZdK0+ub+n2Supp6hb2tstJBpgqK3na+nxaKfjJ2alby0kbClo7i9lpJnZImQeJmVgn9tgHtqc3RxeHiYhnh6jYpvf26glWV+iYyHYY2Rfn6Fc36BcH51boqNeZFpdltoiZiZmW5dh5R8a4WRlYagcHKUdXVjd2+ElJqQfXOHkYeLgZSglH+Qo6Waspq6jZaTjo2DhJCSn4KFbWCHZI6IcEyIXDFLpJFHQnBTNNmtdEl1hK85QMf935CDolmGW3XMj4m+vFV4jcRNYrW1trmZp35ehWrLpaC3op2HpJicg52BipSGpbyroKOXl5+nnqKEgouEgZ57kImAfXt4gXx9fHB4h3KFkX97cZiFVl+Hk4BvlHyVh2d8dHdzfYGEb4GBa15zm6R/i4SAbWF9lZJ+f41sgJ+JeF6WcIGQe5WSh4VlZ3mypq+Hjoh0dqenr6qInIl7e4t0kKmRkYp7g5qwn5t2w5OJf6yDerNpOGpohPuCnj83g+ybkgBz///Uty//qUYihdqaaP+DW3l3dJKJt7a+v5J8g36wcqqRsam6qbPGkquIm6KQmo95rLysoZaslaifoph4jJt5dXOZhox2h5SFhHyAbmiYgXlwcGhulYeKrHuAgGd4gHB+gISKc39llIKDiWxbkYaLe3eCfpFxjHp0gJiYj3OYn42YgX5fhZOQm5mfrW1xX46csJ59mpOltIuNpIh8hnuFkH6ir3t6g4yEkcKadX2jaISGU3hsaUTMxgCa0HusWQCc6HlIF4Hb/wCKAHFyY0pVnG0kxsuf/wDETknA08a5Y3ScjqvBuYRxpsaCvbu/oJCHmpSenZu7oo+zr5yWc4yTlIR7k4+YipVyp6GcmpGXaH6EeXB2gYZfeZKMjnyLjXxtb26Cho90dIJqe457eXeGhI+CcXJ3eImXd3yKdYCLiKN7fox1eJeYmpB8fYGOl3aXmX5sp7Swn4WWoq+7kHyCh5qHmnaUpoGui4pzmXFdkaSWt7hth9lhW5ePYzVbADnsrK2Jsq+drkEAe6UA1P///7H/koyiyzXlem9ni31aeE2ZocGPfdXnoqGXt86j1JOjkJ62nLKphZugjpukt8ylkoqHgHSVjn6PiYuLqZaNYJCHe21+a4qGgH2IloB+j3+JcGmDWnSSg4WahGV3fJBYhoFziodshX+HeIRcdXNsf4CFnXh/nXl4b46Aa46qfpaHgn11d46QkYyqmJqThGyoqaGXdZe6qZSjfIaeqs2plnp6epugxMa/rJ61kpKarX5uVobpuQD/ANKtm/8ARYIA/iz/AG9dQ2Mw/9jWAPJy5Xu0XaiCbf/Vz9dmmt+Jm5z/rra1cJCYqtWmvIl8oo6TsKvDta5+g6qwpXaYhaWbf293f3h3jXp6eplyb5GAj4x/ioNzfY55eZ6Ldn2Upo2SgmdzoV99enSXlmd5jqmTmXNygn5id4N/jHt9hY2epqOjaJZvlY6EfW6Sfo6foqWNnqOCsYWKkLCyl7CPjr6vop+mwtKnkZKsrrbDr5V7f6V6tcndqoOcTUp/o25J8wD/ABFkAAAgAAD//zP/NAAA/9OIuf+yeIPL9ImKw7XdxFlVxNl7otKHebSMiJuzpK+ikZaPm7Swm67ImoeTq3qEeqKak6STd3tykYqUfoKNgomBgoB+dYWPh4Vsjn+fnqqJgZiejIWEbICWbYSdgGx9ipJ2k5J7aVl3i3NxjHWId4SIdIOGeHZ7f3CHm5CJjqTImo6WnYaXtpywmaSgvZyCoJmPtq2ss7SVnJWvoIKXc6KGr4VxgXSAf7SwXtzNVLtKboumAD7/dP//gQD//wAAAK3/AAD/AACfefFIoP+Kn3c/xXiUo3PK4JaytbmDoKVzr6vNipassbu9uqSfvryRmIKIjIqEsYyNq592k4p5cpWPqqaji4J8gYSDbnOQa3qDfl+AgY17iod3d36PZYyJY2hne3l3jYKDcox1fX2Cf3CTiId5aqKKYot3hXNjeXiDr6iZmqCWdHetgKS+nqKPtpiwtrKssY7JpdqotZ6QeG1/h36EkIGfmpB3p6aiwltPAELs38kw/3GCa///ev//AAD//wAAAP8AsgBb//8AilgAXQAAcEipsb6MkruRd3KlwaiWh3Okna/Gv5GIjH+pprarra2XmH2HhJCAX42PmIKup5OVhIOVcYSNkoJ/cldtZpaGX317eXdmlIF6mH9/iYt1aIJ3g4qBfpGVgF98h5t+fG2SdHhzfXBkdoWTlIGDcLB8hYuLtqqkdY9uhYaBmLCLhZB0hYywn52qzcmvvqZ9pqK/rXqdvbGGfmVG68+7ZVpqbWi169+d//YA/wD/ZAAAAP8AAAD//wDJ/wD/FgBf/wAAsKWjn62dw524721z2OmOa7yvhJGXiX6gjozAmLGjcq+SnZqUlI59fH1+nIeLkXt4gJKHjHqAgIlyhm9wk3RyXnd3jYxmWoBliWZ5eW6Gbl5nXIdxlZuSiJuJqJ6KfYOUnIGImIOPko2DjnWCel5ylKGRjJyUpJWZnKV9mpqUfYijpH2ImKSnvrmZsMLRqaJydqHUyrujbnW2fnuhhWLOpKrbenSCPT+aqfD////D////AAAA////AP8A/wD/AAAA//8dAOpjbgCmrGJVrcrHV3GO37jT2f2tlax6bm6PmbaUnLeClqmCpJWNuIh6kaKgcYp4fomKi6aAaXx3i2CdjZCFcnptemuYmH5eb5hvYniecWZYWIV8jGqHkpGKYmaPoI1mgGVxjZCHiX2ZpJhuZ4mGjXiQpH95kouGhHqMk4Kln66IgZaqo4yizsjHwLKqm6aiqZW7tMy4sZ2ousm/odLNdaLVh5aTlpVj/6ChAKbKAAAAAAAAAAAAAAD//wD/AAAA//8AAAAAqAD/mP+a7o2aistvpLLUm5u9xpuKmYiWmKCsi4+PfHZ5mJijgYOOp5qUhq57cG2AoX9wcIiGjW2EZY2RdZN3g5CSZX95fYGLlHGEeXGQgY91m5KQbpxidHGIfYWQlIaLaoKKjKJ/h46Oi455eIKSZ3aXdoaWi5hziIWdlbGmkYePiZq1p469v7KppqCXtIyQrqdulKSRjcKst62jZ33B/ZiAOY6u/2aG/////9xMAP8A/wAA/wD/AAAAAAAAAP8AAADDjf////8A//+16/9nrZM0k+e44dzCy7lyt5yPj5aDoZWbtpCPkoWEeH6hkZCmxIiImIGGdYWPi3GGfIlidJ+AlHJqZ4yCcoSDjnxqe22SqZuPjYF5boGkj3x0c4yAhHCBhaWNeGRtdYODdJN+lH56iHuSmY+BZ3pvf399m3OJipqJiKW1lY+ptLWtqbCgrby1lYmPp4iCkoKwvb6YoY97soyEh1BGIpZKOJGOAABmywD/AP8AAAD///8A/wD//wD/////AP8AAP///wD/oWSbyyNtsXlgXHafqJutkHWBYnl8q7ClkI2qm5FolZx1jaybgZijeqOOjIV8j4OKcHuZeIN+inmRn4x5Z3yQZHCAbm9WeG17hmBwe3+Ad3R3b3qXenqNe5BykpSYmYZ3nH16j2CEi4qLjqaXgX5ohG92gZlwbId2r3uEs72rqJqfsZeVsIylsJGOpo2ww7ipv4pccymi/4ijnl1HVPaSxWHrhXAe/wAAxf////8AAP8A//8A/////wAA/wAAAAD////b//8Aw4KeAEJ+vShfa5N3Y4ducp5nqqKLiLVyYrygh2yFjIeFspGhk5J9n6OhjI+Po5F9c3F8rZSTiI6Td315fp15k2xkYG2OYm5vZYx0ZWJ4b2mMc3Nucr5+h5+TkpCQiYKLk4dWcXCcooiLp4KWkmuCdXGLiJGNmZKtkXythqCqm6Sjj7vQt6maysG0uZifoJN6a6+Iht7YjaF3TZYx6tVz//9WUwAA/wAA/wD/AAAAAAD/AAD//wD/AP8A/wD/////nwD/AP+LusGBU0Wjrp1WPl9Si4OOa0x8joKjt5KOqpaNgYCNnIWhk7SZnJSfnYqGkHeZmZR0gHGOg6SMjYqYiqWWZnqBhHyPcY18fWh3gF9gZ3eYjKh1Y3CSlGJ/jYmgpp1zgniPonxzfZ+VlY6Rip6goouJdY6JlZmnlrerboyVi5uZwZSqw7ymlr2qprrDmH+Vva29lYa7vICHapRmbsi5XIJsAE8AR/8A/wAAAP8AAAAA//8AAP8A/////wD/uAD///8A/wD/zf8AbrkwamVpi6KZKDJGeHh5lbuhmZ+ao3ubo45jcZSompyfmJ2OjHyEeph8bXiSlKyQg5CVn494eYR9kI5jdXiZh3Z8en9aX4KDjIZ6bJh7h4aBe4F3inZkipaPmpuYg2uie3CdlYuTio9/hKGpd4Fte5OamaahrsSFkrG1gZ2Ym7Otr8qvlYuvqp+ppZvArsTL0rzOdnaJsp6UkcJpaeu8AP8A//8A//////8A/wD///8AAAD//wD/AP8AAAAAAAD//wAADVbF/0FnOigXDlM1Xz1hVI12aJBqhnKejZxkZop2oZOgoYmHnIiWjKF+eoOXlppvko+CbKaaiHCEiIJ0j2hudIJ/holmj4uHgpWWiW12WHN9dY2HeX6MgpGPeamdjJ6Gi4N7fYl/ao16dnB5moSHn4Z5koqarJKVo6eqm5qYuaCnxLemvbm8m6/XlYetkbeEp6qsnXx+bbTwkOmbzIw5sc///wAA////AP//AAAA/wAAAAAAAP8AAP8A/0D///8A////AEYANoqOmyxYQUwDAFt6MFc2aG2CnHJ3dpeJoHqEkZ+glKuaemONb5GUlIeDbqCMc2idjH1zpZJqdXmVfXaUhWuHgZJ9d3iEgIp3lJiEfJajc3t/lI2MoY+CgIR9mXBzc11ymoVmkYKLg157iYiEgHV9t9mgdX2OZYyqoqOKtKehl66npaWgham4uMSFmXqQkKSxp43IrqN2UaCWN0FngW53OLuMaAAAAP8A//8AAP///wD//wAAAP///////////////wD/AP//S1KAQY2QKgMaP3RZO0OHh2mBlH1+c3SEl4OVkq2vp4CbpZhogIxomZV+c2mHbZWCgHR0gH16f31ugot5YZl4hqCDe4+enIVzgIduf3eFhoCRiYtwdIqFon5vb3qRlH2brImKgXRmcImEgoqyfX6Vqn2NlI1+grKUpYWHm52Th6Wtw7ubrr3LrI6hg5KNsbGbmZL/m4qDmMuPJCk2/5moe9MA////AP///wAAAP//AP8AAAAAAP///wD//////wAArQAAAH3/RlxYci8eTkh3hYZKK190g2hkdrBveFqRe4Gcw73Rf5B9h4tyk2WMkHVwhI+TnJemhYurkYiGeX2QkHmUpIx0g21phpd/hmRvZIGQj3qDhZmVnpSfkYmEgYePgWuMcXWJeHaTfmZdiYt2e6CDjpCNn5CGmI17vZ2Oo4KCkaOUmaelqbrDmZeRrpyknqGyxLiejZafkbnAsr+wpRMAoe6H8///AP8AAP8A/wD/AAD0AAAA////AP8AAP//AP///wAA/wAA////qH4+Fol2XJykdmVJOXBmcotfkHCgiI2RcrXbyMuVgpKTio+OkHyjf4i1doCYjohgcYSLbYyFcIqgdoCUXXOObm12no+Tdnd/c3d7hnuZp5ObjJ6ekJWUf3mRmYaCkH6Emqp3eY2puYV+fZ+Ub3OLpXyPiWuRlqu1wa6uorqokJSYlK2zpZ6knK+jemGch5yfiYtwAP+UAP//YaPmmf+IAMT//////wD/AAD/////AP8AAAD/AAD/AP8A//8A//8A/wDdAJDIb4FAa6avmn9ZTHtgkoyWxYt0V6V8aYWSm6bKrKaZmpVqenmaaIWph39bfI6Ea3J8iYN0koaIi3uGkKGBe3pshXaSiHtseXFseIJwkIJydImEgo95kZOQlo+akZyMiaKmlKh1go+umH+KjpqPhZucl5+pb62jlp+Pt6uar6mcmJ2gr7COq5WQhXhxhp+spZ9vinuej1OcxKiNxf+ohwCLSM8A//8A/////wD//wAAAP//AP//////AP///wD//wCzdf8jAIm1YSYIflxxeJGCZodhg4+ti6CpqIJpgYSTmMGhmJF3kY6Yin9kfoh3lYWUm350cIiPl5FxcZubgY1+hYaFmoWJg5p9fXuAZWh8i4mciqh6crC4h4ejiIRzhXqKloCNmKCasKyXrLORrXyCn66OpJKMf5yRoKuRfIGTs56pypuZm6uXiJJ0f5a8rnarsayjdJFldf9vY7ChAM6NAGwA/wD///8A//////+B////AAD///8AAP//////AAD//wD////zsGmf/6VrF2IdPERSfmFOsqKOocODgXhsfoWHkaKBj6uadH55cYWGgoyVd5GRhHpqcYdYend+g259n5lxapyTjH+RgYeDlZiNb45xfnWGi6SJh3F1in91hpOMnn2ogHaUjoqKtarCqaqXm5OTf2qLpqCRlYKIpYqVoLuQkqCoroudwaGftKu/k5WRqsnGnY+Eamf/pqJ+uPH/t/9yVgAAAP8AAP//AP8AAAD/AAD/AP8AAAD/AAAA/wD/AAAAAAAAAACV//9Mdf+V/42AlBs1LS+byH6wp52rk3lxlWuTk3hpgYCbkG5nam1wiJ+YgYKKjnNRboSLgnBsbX2IeWeHbItyZnKBl4OFjnt/hnpwiYSMiYSRinuYgH+YkZOukYWVlqeRj5yNnKyrtL2tpqySj5mVhI2gpaO0epd+oYmitbORlJWffqu9t5yppLbFl8CjuJ+it2V7gHF/zKey/9l2AL7E////AAAA/////////wD/AP8AAP8A/wAAAP//AAAA//8A/wD//wDh/wDD1baLvXdYcgBdfT65brlciZGyZ262nph0YV+SmJdxkol5fZ2kgol7eYV9b4B+jZiFdnV7fotye4hddHicjVyIcnt9i5JzhnB0h5uco5NxY5qOka3CtrKYlb+alXiSr52Gj6vaprWMfHuRgnefo8qPt4+LonmwhYKWvJWlr4aqpqe+s6OLs6SxrrWVmJ6koZXGo5h3wADe/wAAAAD//wD/AAAA///G/wD///8A////AP///wD/AP8AAAAA/wD/AP8A/wDId4wAjVK9nUV4xAA3WaWDmH2bfrG0b6SQf4aUq5eLl5ZzVW2Fk36DanKHcHtsgoSMk4NmfHyYf36hkH55cGOFjIuLhHWChpqGdHt6mY5ommtynKB6rZbCmp2bppaPaIGswZSap8e3vKWThX5+g5WcqqGmsKSwjpKHhYG1pKmbrJ2an6Oip6KpgqaktrO1zLwAjrvIyzt3QDFhxf8A/wD//wAA/wAAAP///wAA/wD//wD/////AACR////AAAAAP8AAP8AAP/W1wC3GHhPYdvNkXFsdb+Cd491b1dvjHuMcXmMbWJ4bmRdhomWZ3mFYXGCZVJ9cYduo5aObG+Ag4t1knx6iHp2e4aWeHODfFRth2RYfHKchqGsso+prJWSl5yGiYCQrLunmrHY5LWwq6GZoHt5f3uIo4yrkceroZN7hpilqqCnvaqjl5+YnoaBjoCBrZSEdo+Pu/+ydEAAAP99swD//wAA//8A//8AAP////n//wAAAAD/AP//AAAAAAAA/wAAAIQA//94/7yKYqAMISv//3k2iX6edVdif4aVdnVxeG2YeGlyYFx8gExjeHuLk4F2lI+XeItmanuBdXuAgY2KlZWIeoeCininjKJ8h42Je3uJZYGHgrt5fH2vqKqahp2WlIZ6m6uofpWdkrm2qKChnq+8jHqtnJSisJiFmJajn6N+h5mOqpqetYGOkZ+2jKN9kXR+g1NlaqeZfpJp/7iY/4ytAIL//6MAAP////8A//8A/wD/AAD///8A//////8AAP8AAABi/////wEA0GFfcYlBoO3YeHrJ1LmMh1WNsLqgmIx6b3ZtbW1kcHNwb2aYrJSTbVxqe3iMfXuHb216iotie3GHnIp8n4GigZOEhV2Tn5V6fo5gcmh4t4tqjqGNnJZ9jJmcgYqKhpeBkK+nsqiQj7K0mKOKn6qRj5WenJWUppyLc4uVgH+ij66hs5aeoaC7mLOpdYWha5vDoKCQav8AsP+OPAD//wAAnv/p/wCggv//AP8AAP//AAAA/wAA/wD/////AP///f//W03bggBcV3soKX+YeaIUS1mNqpela62KXniJdI+Wk3dujnRlZFdtXZWZiYBrepyMh5l1iI5nbYSCdn2CkqCFcHeqmYqFgZR0Y5aJa3Rwr5CMfGqejoujqa6eh52Skph8f3tzboOGhJuZvJ2fxaKJj4J4hLKjh52Lm32adKOYhrCZkauoiHx/lW+Jdp+iq3yYl4uOoKaSfL5+ZQCX////s///eQAAAP//AAAAngAAADf//wD//wD/AAAAAAD/7AAAAP8AAAAA//9tzj5DolYAFg1mplaZopd1YIJ5ZnlQXYB6a5GQjIWRh3FuZmltkI1xb26Em4N/bFdmj6KMhoN1Z3Z9k45/iYFgcXKOdIpvZXx/dmlqcHiNjG59mJyarYiTg5+HaouchaGDp5+oq6KwgImuooKToXKJnZJ5d5CZl6yPg6GIm6ePioiPlHWfip6Cn72IbJFsY3tYWmw7dJOLhgBCAGm5aAD/mf+b/wB6KmUAXDX/AAAAAP8A/wD///////8A//8A0AAJAAf/O718j6ejmFaBio+eWHxjmniXeY1qaGdjfIaTgXNyZXqGdXdkeH99kIV7a1J3c3F2cHuioIqDdYNPeY2Pe1GPeX6CZ4p5i3N/dKiHZnuMh6CJcmaAn5Obe32bqJSDkqWbk46YqZuoj4mdkZydeo+biYN5epKfrX+SgY2EenaLi4mlmniPlpWlmXOQvYlti3mJko15emt2nABgh3v//3wArv8ARAAidQAAtwClSv+rJwD/AP8A/wAA////AAD/////AP8tAIRg//9UUoDDeo3PqkRxinZLiZRmdJGCjm99l4B/d11ye21dZXZDaHB4Y3VyZWtuaXyViH6XjoB5b2t1r4+SeYdheJKEjnpwZWh6kH+JlHhshnaWanRpgpmZmoGIeW56jomGZ4uIcYtyh5uigYFxe5qokYmFlICImpd9jIyEln2GbpGle5KEfJKTmn6VjJWGqqetcomSWp3RqmdKAKUAZQDZ/y4CyR0A//8AzZL/WAAAAP8AACP/AAD/AAAA//+///+wAB5rxSc/GVqmAJaaOpSmaqSTwWyCpXxVdGN3YXp6cnl9ZUtuX0ZeV1hbbHFdeWOIoX5mhJ+DfH58X2x/goN/c4JubmN8kH9jiVxrbn2Qc4aKg39jX2pwfmZkiHuKkYZ8bnmLgF9xg29md3Wckoxyiml7j4Ski5+ZcJesm2+MoJWMfH+Dh5F8e6qclXh6kXtnhoSOj2tvYm+IV3mAb1mCAP88AB8/kDYnpP8AAE9B/6uGjTIAqf///wAAAEa7RAAAAP//AJjNhP+kKTSJWYZ82q5ZrYBScYjNg3OFoolYaYN/oHpraWlVIThKRktfWjh2Xlt7XX+Sfml3eG6KjHJzemN1gIBzYnJyaYVxc3qafl9khm1tjHOZn3xplYSDfmuWj1aLfJF2Z3OFdGSKg418Y4yEnoOBf5Gtm6yEmo5/mJaYhXSAiYNwfYuKf25fmIF7goCJiYZXeJWLjHVRcYAAAHphkKn/AEtKhP96bwD/DP9Djl9d4FDnvXIA/wAAfAD/AP//AP8AWv//bw7Z//9Ejf+Zoaax/Yy+xaJ/fHZ8gGeben+Zl32NSU1eWkMiGjMwUkxDY2JTUXxzXY2ifnhyfo2HfoNkkHt/j42Bj4FibHqEk5GVc2yKjWOHkJGVikqUgniUY3p6iKpvdKNqbmaMdoR1bn+Se5Cah5mVjZiNjYh6jo2Qjnl1gWdriHCDfIaIhIiRcHpyhIidl5GFeYNznn6dc8CIm08AoY5uMWCAQmBtb2ZhkDAA/6Nsm2ZjUwD1//8hSnb/Bzf/ZmGDsbC1/40Ar4G4zLrhu7zbwY+ogrGjmKB2V5lTd4KnfYVnZ1dGPjQvOlJVNiBUS11qdIWIbn2ElH+LeG5pbH56eXCBhnuKfn9pd5N+gJl+epB2bI2Oenx6e5yekoONk22OfJNul3d5epV/c4VofnCMX2lxhJR3bYN3YoCKfoJ+n32JgYJvgnmAlIeUeoKIh2R1iY2GY49khpBqi5ejw4BkXH5ILodDfjoX/yUAQgBz29+BYVsnElQ+/+P/Sz1RhQARq/9Xif9rXY5rp//x/6Gn//f///WutrSRmGJudXldtX6BjXZkbGA8Oi44NT02MT1YWmRZUUpfbFhiZF2Dd3xpelp6goh3i4JfgoaLlneFnnWKi29tiX94d52KcmeAj6WPl5mdeX5wcldiiIB4kYNscnp+gmh0c2aDgl9mfoZ7i5eTjHJ7co91cnyalJiXiZGCfYGJhJd/Y39Qhni2r310gXVthT6AbmY5bP+dqT4ABQpybwAAbXFfTUIA/wAhRzZicEYjV2u7rAA5WWVjrZioof/Sy//Qtv//ypi1v7d2laHcsoKNd4OMhnVbSz4lDhojXFdCeG6CWk1EVktGYXttbpGCaWuAaXaLgGx8g3xpk4WBlVp1dWFcYXOMcn13mHRihopWcHaTdIqHm5B3goqjl4WGeYN5jnV1f36Vb2t3c3t8eHNxh5B6bXuTj35/eZ6KjoaHcpJpbXN4oqN5am99gYCAYYyIY0hHXF5xYZIxOHLbgAAiADiig5RbH2MCpGt/kR1OXDJ+AFn/ISIAWLqapPaF1P//1YFg/8zk6//Ntf/ZsqfTiJCVnl6IhGtbYmYtQj0iPzhXanRxdoBSTltbaUpXc2WbpYCSco53hVZnhZKIfFh9em+DdHGEeYupqHlzlZqGiHWPd39qdIN4h5yeon6GkG6PjHVwfGNve39scX6HcHqJhYludXVjf4+DlZGNeol3l5SXn2p0d2GIenhqsqCMbH2cXExuf2t8c1NoT2UuWThoX4K5biYjI1i/hpl2WwAoAGnaWn8vGkT/fJboAKnCyFJK2iG0/cLcfD2pxv///////77/0dXNpKaHf4qKlZFjQEw3Kx0VaJSMf3F2fUNJYlxqUGFveY+UooaFbnNzcHd3iYKAdIubgnl4co17fWeBjFt1ZHCEZI5nanprkZienoyjk5KYjYWBZYuUh5OLlYd/dICgf4lcboqKiXVzk3qdm4JvjWV6bH6DbYCLm4iMl3mPZ3VTV35JV2hdU29TVSosYUxXVpvDZG0rDgBAOnSFXkgIAAAoZNNwkX1tob/rJVoBLre4d6fBYpCz3cKEv/+s49f/5f7w2fLh7XzIpJyYhHdnilJILzosEy5ye4JTdnZdcmVxXF90bmx1mYuMcombgniGgIqJkoWChF1ifHCEhXyMhYFmgJdolXpfamaZh4+Noomek3h5ioR3XHJwhnR9Z2KAf31phYaKho5ul6BzVlGfhouTX4yRc3h7aXh+i4eedHh4hotYcmJga1FlblJpfXRjQGpvMHVQb5RWnKCUXRBEXUUXJEqdIHtiJcSVck88ff8X8v+EoEJaXayCXnO9wdq2/8+lwsC97PeptMrDoaGkp7GLnl1+VA4AFh5HZ4eYd250fXx4cWFeVmdqe3SQhWhKf3SEbGqOgW97Y3KQgHKWd3hlf2GEs5mOm3GKeoZ3ipt8kXd6fIR8bpWbiG9xgXqIjHh0gHpwjJ1xhpdmkYmFp4xycHJsfItym5hxh2Z+f4eXmIuAn1VcaV+OWmZnbHJTR11NWFVNW2tAbwMqXURcOThNXlFDGhZHW78tjpcbX3dSfhQriIOCeEBSTGdSuePKmMCDzr/83rDqvdr/4JTksqyhco14pJuBZWtbOScfKUZwgZKrhWeRjmZbUWtQXlpsW1pmc4h9ZGtFZHxhf4CLe3aIc4FheIF+eI6VmouXfXuXlXd6bGmejKZ+lX50a3p3bnRYWG90f26Dhn2Kh2eCh3mXkol8fn90fmt1inpib3+Xho+TnH17fp+Vg36NXH1XflZzel1Gb1MtOE53N1IxDCYOHT1TAGBVRz1gPkJBRwAdYmWDgkyPV3hsgKpAR4Z3I2xVsKWRk2KSidW+jYK3pI21x7Zlr6BEro6Rj19YYXNWMz1CPmGPYEtjWIOQVU0yRzhRWGVaS19rZX6LgmdggX9uf4NuaWZ1a4WFbnl7k3Vneot5fpeYgnt4d3uOp3x5i4GLglyEh5N+goF7mJmdlX95UX1/g5N/eXeekn+EeXSEjYuAj4NWfIN5mWJPb36WhHhnWFlpQ15USFtuKD84TmdCLSsqWE4UMl4KSDtMQDiApH1gnKN0JpWKRTEdU1NAlMJ2rFN6AEKLsnRXbVewvLRnsJmojHp0gIillGqGfJqEYnp/PywlJj5NeXRtTVhZoW9rcERTWHx1j2V0YXKHX4KHgHVvamuFhaGZaIV4dnV+kXB7c3Z0YoR3jo52jZaCZHqUfZmRipeHeaGGg3yReIicgIOegJBxfYKHhmqNfpqMdntpkHZtjX98in5ka1dvfmdpTWd8lY1PZVRSamthTV1ILydJXUcmIBF/NgArSxxYaIhXQkQyib57fT5XZIRTAL56J1+HbgAnAJl3d3OpgHV2TV1fkFd8nuh1nkFecnlwdJSSgFxlcXpJTTY1GD9ceIBSa4eCYVpXUUxmdmlueHY/VlRylpWBaJWgj3+FeYKFn4SJgoNxmXGCf198fHmFd3p0c3ZudHx1nW6VnYeNf29xYI2WiXNxg5Z3dI90aXx4ZW95l5p/lIp5bnqId2V+ln1wZ4xMX3xiaF5zd0RZU05oTEwvPz8qHw4vGmQRK3hLVF5PYG1kaFp0AFFwTymJRVabKTs5mFJaTC5Id1Ts7X0+xoJtibeMiYuJd5Wg2oGfWk1rZY6RbmV6T3mBaIRdRkEtOCprXUqHkH5STjVWQmljd2dkdHFjdZOClHh7jnycfYB8i3ysepd6hnt0bnpcYV2CipCFd5x7bXNrmYOLZ4yEgGx6nIRognh0cn5ybnR9jpF9aGJbYF9knJJye4CJem+CimBihnVjb3BfamZabXtebGRiSUJGVG5jP0gxNR0+ZycfQFdbJFdTP3KAbW9VimliAIlQDkt8TlBVbHdlLlUPYKjUomRzt4tzvJKeW3GKc4Wfe7qZhYJWo4R9W3F+b3BrcVpNQEowJl5ZYYFYZmNgQFBlWVRnYWalgWh2dVV7dYCAiox8dHBweZKAi4B/eKGbe3OBiFqKf3J0jnJjbXZqfYNoiHmakJmWiIhwjGdlgYOEg5R8jHNmdYd5hXmDimKNYoB0klx2Y4FcaXdrf4J9VVNpeEpvYWw0WD81Lyg5S1skETAaIVRBSjUWP2g0PARxfYVvJjYAiIt7OW1QTIdndmEym2Nxk3GRKmCErYxOV296bVuEW2yOiGlqhn+cm3ReV31qdV1EWFlKKyMzO0pQZUljY2VaTW5wgF+Ao4mbdGl8UW6GjYKXqZSBdWJ1jIJteIx5p6F2hZJ6Zolxk4h5eohbZHKAdZOJj4R1jouGaXF5lIuRlGuHjXp0XHBih3JtinOEc4eeenaUW3Zpd2dgcYF3eodqXVt9YWFIVEdLQjo2MDYKGRkPBwgTKjU1LSMfXTY8WjxYiWlRX19jeqKFjHNUhmQ9UF+AmJStTlQ9jq2zk4CTdo+HZGCDp5pTk4RxU5mVcmZxbm1ealt8e1wtNkA0QD8+X1RTVVNgW01zfIhzhoZ9jH9naWt9aox7e2uKh4h3eXh0nYeBb4SiiXVtm5CLoW15anyBi29fkX5vhot7lpaBdWuMkpp8bmx1dIBslIl2d0xyfXWFcIJ4eJZqcW50hlxweGFrVmBiU3JjSi5RPDtEKyA/RCQHFQAjNS0eMiMuPDOGZHRGIx44LF1BnnNlaIdXi3F0aVpVg2RUqp+USEh4i6hvdI9TZop2X0+FoIF5gX1shYJvhnCMdJR6dYVgblJCOVpQLl1kSU9cbmw/ZYePioeQdmyYc2VkZ2N9cV12eml2goaLpJ+WbmyDo49rY3SFgJGimJWLfnB6a2Z6alZnWWOCaol8fnR0eIiFh4qUe4OViWFybWOCk3uBg4FqlHFPd3VhS19aTkNDS11aX1g9QlA3OzhSQz9CCyAjMDNGMTZMdUBLLm1temRfOhk+gXGHgWlxW5q3k212eEddNVy9XYNxUZxrcoWDZm50WXFmk7FySXiAW3JybXOZc26BjYCEd2tbRUhQYkRhXVldVnJeeW2DaoSJjn9uZ5l6bnx1eIFwcHt5TWB/i2Zdio1sgpuokXh5f3eFg4iQf3qNcoFlZ4F6Znt3mI5wi4d9aXeFf4ZohIhnc2d5cnlSfHiDeG5uZWZ8eEaBf2xKZktfg21VSzY9N0xoUzozXlU+Rzc8OzEgTlhGSFdxaExDN4dbh45lVoiWZ01KaYM9V4uNjHtdVz5pbNqeRyyRi1c/XVppZ1AxfpiUi3wZfoGOamtWZnt3bINuZmhZXWZxaVNKYUlPUXZtZlxnaY5kfI2Ien2Rl5WZeFyLlnJwdHmDmI9+d3OJr3+DhIGUgHuCcH+BdHqTZnSEgIBwdX9xg2WgkH2JkZN4dIaDgXVqiol5j3pgiXducn+PdmB0a20/UWlpVWVTSWJmWWRcaUVANFNhQThAX1tISVE8QzwwXztNZlNZW1ZfbWlzcUZrhGJiemd2S1uQi3E1dj5VeYV7U2pOPHGYclJHH4WRaGaDYW58QTJjlYtqaWRcVnhveYuWbkZzdWtiTWVdQlBdXmBSinVAjoR6YXRwXHqIdYB7e5etiWOFgHi1j4WHc4SGZYp+hW1qjoeOeoB1cINdc4aGm6Cgim1yd5SCg3mJeWmFjX2eemaFlX+DbXSalIFscXCOkoRmdnFWR2hrZ1diXXhnZFt+YEZaSTUrPShCPCNOTSVJUDI1bk9UUUlqc2lKRU9FXIqIaJKkiIF8j26KbEx/PUhaYGgnP0kmUF06bSI9XZJnVV1jWFlXaX98cHVuc3iIdW12hoaNb2lgYmhnbnxzZGhQdVFXWF9pYGRpcWRqdXiCjXFhe2t7eXN1gp+bkp9ujIqPiXl/g2Z4Ymh/hpF1jpBgaXx/jIGGaZaVmIltgG1heGSbiJFzeG1qh3xxhZWPYXJ+bWN4cG9ublpcYFdaSVRXbVNdVVJvWlZrRUU9L043OTMzS1FaM1FnUEloS2mSgnV4ZXJ8YFx4fJCKYFFYdn11cllicH5vY4N4eDg5OWVEPWRdcm5UV19iRzpqYHZ8iXtwjXZ3a4yNbXpzfX90hGJreXhnbl5ybmdzUlZwZ3iEZodygIB7Y21zZ4aFfoNgg4NycIF9YoJueI+HY3t6cYebioCGgXNqfH+Mh4mEcXp4iHJ8enR6gXx5cGVSa3uGfGB/e3lqapN4bVpaXm9lcFR1ZGtuZHJuTEpsaHlaYlc/NFlIR0VXUmlaPj9JYlk9WmhLaIRdbIN9h2l7Y3BdeZGXZIdnczFTXUd2aDeCXU5SZXtbjUU1U1ZNY1V2b2pmQmx4a36LcHCMi3pvf3VdTVt1gXx4bnRqb2iMXmZofXqLgIOMX4SEfH52hXtkZ2JPZXeHgXuDcomBe1tgh4h8fXdyjYN8eGmEgXeFho1xZFZ8h4uOgoCUcGSIhnN7YmqYgF2PjlehcXp7aXaQhYJ5iXtoZmlSZnZpa2Bxf1hRUUpJW297jGZOW0YuVmhjaGtwYG5xbmpreTtafXZwiWlWaoyCcEqOnXiBh4V9VD5Qf3uHb25KPVdSWGB4XFdKSnd/WmmAaGFXe2F/lZCtZGx4c2aGf3t3YH2AeX1rgoiEZW9LU1JhcHF5dmxHU4iBd197h59tdoh0XXKEm5Z3cm95XVqQg4xhe3+TlI12eWxQfI6Ed42EdX2HfniWhYNoaHiOmYFzbYKFZX9wWWt6fWFyW2RVf4N+fX54aWKTgIhlaH2ATUlKSl1aZVmVhZx5VoBqcVhSXHFzhXRqaklrdXl7VnZrWXh7am96VFGHgZBzilZiTmR5fGBWP0dgeERvd0dMWlZBZWBmZoN2ZXOEZ5aajqZsf41zentqgnFoeHaVnFVheXNUg11nhXZqVGF0d2l/ZWVrZYV7mIiKm35mcWd4c3p2iH9zf3J+aX2FeIWZeIllcX2he4iGnI9oephoY4qXeHVlhH10U4mOnoRpgn58eXVtb4FcY1hgiHuBVmxqX1RUbmtndWx9VFh4g2VceXx/ZGNOWW9gRmZMaGqId19jaLOYb3qDgJxfhm2FjnhzcF14bo+AZGNgUlJiZ0CQYG2DfYuRZUhbVj9cdmd1nIRraZZumcPErZCfhHelnHeSgl1/hH+CaHOWXmOLhndWdn5ofF1yh4qFaGqNhpKKcl+Ac5huV25Na3+OhIdqfH98lYR2W42ImIKDfotujXd/g2h7jJN5cHtvcHNwfoxbY5GVempyjYBxX3F6bmNoWHVhdHVld4VoUGx7Y2qGaHpveX1yflp3bG5kZ2dddWddc4BiZFR8k392goqDY2qHg256ZpBme4KMYmxncYN1comET3FvZX+EkJZzZ2FZdI1lXHqaf4KWf3B7lo2Axcqyt6mtqI6PjY6Ic5GDX4OCfIF5e4h5Z11jcYCAYlxnmppmeHdnZ3+UZmyclnpqhnJ5gGNvc49wiHyYh4FtbXWGmIdsZ2SDdIRqVH6LloVnbYWEhIh1cE11dIlyb1h9gldkfY2AgG10enhxlJyKjHZ0hYBuc4tfeol4oYyHk35sboCBinxoU2FlcYJwe2eNfVxjc5KDbYWIfG1dgZSLknzAiWZzg4p+a5CLemdogYdyep59dFBwd251cpKac3d4hpt9u6/NvtOzuq+9s6yPoaR8l4lwiIyoiGyCf3ViWVqDfGWNhaKimZd3i3prhHKQYYOUf2uKYmBxfGxxhGuEmHFiflhje3l1k3JffJOMmoyHjnJ7fHGCfl1xcl9cTXtri3d3e4BpgnyojV1Vd3p2eHafmYt7hV5wg46Wj4KSsnR1kIyBj4NikluCjnh6bnp7mW1Vfn1xdYF/enKeg5GpfIZyj19oncihc4ZqlpKFlXuScG5ta3mCd3uEamhxfIKMhZxxiZGUrbXX39rZ7c7Y5sXOwqesmJGZj5N6cnppcYOLeGVdfIB9Wl15dWaHW2d9i3RzaldlfZuVkXyJgGNygpF2lGxZa41samxshJuwl1aBnZKNh4iXX2FWYpRfc2SSdWpVa3+Gc35+cYZmZ3ZuelxmQ1p1jXxujnOvop6Gtb+ir8Owj5ureouGemZaYnaTpqJ/j3KUkYp9lIaIjJOSiH6XfJOTh2BpeW+emXyBhY+XooavmpSYj4t5mIR8iZKGf4yNiWuTp6q0mZObqdHm6+3/6+bn0r2Ri56njnSQcWNxknaBgIZseYJ5cXFiSXWDaY5plXqGh258TG5ve2mYeYR4aHx9coJsdHWKkXdWYYqTamFkiX2eeHOAi6GNe1FbboSPZYV6koB1bI2EgYKFfIhzZWSFiWdYaYN9hYKKg42hpae2vrnHvbSvzbyfppRcalttc3eJgGt6inyQdnaXhn97gZSNiXSKmoSMbnuAipWIlJCHjX+RcJ+KjY+Zc3Wnc5OfgoR6hHhyf4SzoaCfpbfR8fb//////NLB046ikoWKdXJPWpJ1dXBmXnGkpYV7c2qMhnZibHGEc4NdoXuLinyUc592hJNtg4eKlGGaqKCHg4FyWXh2gYqPhHd8gZR3mYKGcXmDcVx3eZePcGiCk4J/g5Ftc2tXbI58jYBqa4iMgqWTlaOvlZq6ysfVz//Ruaqeh4iMeaFtgYlujqeVgIKLdW5+ZZeHpGaOcolvfYeDnqCHgH2tiaywlHqCi6e5s4+plZSalIx/eY13fZ2Tl6yWurLL1OTk0f//////3N2uhIyjn4uCcHShqYdpfX5sYH6FfHx6VnFxdnSDhm9oh1l3gYh8fl6Vh3dqgnB7dXJ5cXF6fXdmdY5KcnN+Z2p2fmV/k4ibi5F9aHdyhp2Ii2yIjIRna26AZHF1aGl0e4WgcnSDgraQj6KirsHLwN3C3dm63cW1nX6LiZunl4l7e3yGt4KbpJx/VHRwpZCJiaSjfoqek517oL2YjqWoqIKVo5ick5acf7ipn7ytiXl7iZOQnHyawZKon6/hzs7q///5///W2quwkMDDdXyDiY+Tk2GAfXlmZoF5XGV1c3hzhX95ZYaTbnWJkXaBeoyfc1l3g4ePelhYY3x8d3p7hmqQX4mWeYqBhndjgrGbe45vdW1+g3h4iHZqVl1QXXNldXeHZ218iYaacYGapnV9q6Kx8uLg3r/Bxbids7OViJKSgpB4foFwfI+fkKWSj5eCfJ2jlI2SpLWdsK6jj2+sqo+Pkqeif3yRvZSciZCenrGgrHaemJ+WlZuJequZkZ28qsjGy8zY0O3u7b+Vnr+xl6iEZIh/h4eVb2Njc4VscHeCfWtQWVhrc3CWkoV6kYiOloqKepd2Y3iIgYV3jHtggmhQZGF+XG6ChI+bjJuIbWmOjpCBdmRpfICRkWpqeWtge4OQb26Qe4GQfouRjodrcnuKjoOavtv0//fw69HQzcG1wp2Ihn5ncm51hZqempiTfm5+qoSLrqOfnbCWzbGgqrSdr6icf6C1jpa1gZi7vaCQtKaeqnimpIyOoauap32Qlo6lsLy1wr7Kxsnf1djMl5K6prKTo5GEoniJfIqAioaEbllfgneAfGteZ3aHhYyZiVmYdm59haaYa3lslIB7gmZ1e2+hjWNyhoaTpYt5fFxufoF5kbeHc3ZwZ3mTi3SPYX2KmVdjhX10eo5xaIljZIOPbHJjeYZ0i6ymzsv/8urQsrCtnsK/l5p9dntccGxbc4ibg5GKXHiOqZJ7tpmKiIyekXuZop6XiZerrq6RmcCNlaOwpp2ipamcsLOVi4R4q6aug3WRtbqJqbSzmLW6yuLExcWypqqSno5xj5Cei4qDdHaNiJ13b3ZpdH92ZE5wdoWOZ4SNV3l3fY90hJhviYCFlnKPe3NMbnRZZ1mjiIKZiZuGi4hqdYuogHN5nIdyjZybn390nIBtQ1Jjam5bfZOxkXVeUWeFjX18m5KGoYm14P/pvb7Oxo6alot6gXiRhnp4hYuNZ3N5kJluhICUln+fjH51fpCXqbOTmGx4spWulKGfrJeznaWumZCmoY6/uZOdjnivpqqocYySmJWqq7WSt66zzsypopakiX+MjpeglKmBc397bJN4eH9fdmpydXZ7YWFcoYOEbYhrg4Z4Yn+IcX52mnqZg2Z7mHGNiYZ3fYd3hZWIdaJ2hGSHlJByeWt1bnGRlo5eb4aOe1xpYmFhY3h1cYR+dG2JfpWNfIeag4qNlZLDuMG7rJeTiLaViY2Ag6WRiKiqlq2FWoVqXYR/aIKCiI6MgpGUh5Chq7a0onqij3Vhdq6ajHmGoLKcibCUhp+5larIuaKpsZGbrZCNn5aWq7WznZ6xpqyVqr2Ug5+Vsp+SmH5skINaXmxaf4h7l5SFg4xVVkhyfX9ncHiTfn98a31tdaSMcWN/hZSAkYuBfX+ZfnCQlYF9aIVybnJZYn2Sm4KPent8a252hnN1bY10cXt/iGZVXGh4jZiBlpOGg5CUc2Sozra0lKWvp4ycnYh+eoCQjH6Ym5yciKJ7lI5mjJ57cYCToJZ7jqmNbJ6awZS5lqGDg59+t52UnZKZxrK2vI+FlKzHsJuOlqaRlrjNr5ywoaucmb2Qk4iqjaGKiYh4d394hIp7h3xxclSBcXJmcoGPnp6Sj3WAdH5xcnVsi4WcgXF4jnGWhm+AcnuPf0dvpH1aV2GMq5KGn2FUmImMhXFxgoWXhYGKf4drbo2igHN/m415cXpeYn53aUpVa4B+b5qKc294fYq2eqWWqrSTj6OFfJiMcYSKh32PgpCLp5COj3J/lH94gaiUjZ19cXyPmI+sqXyprpWHmb+poH6ru76xnrCtoWl5jpSYrJaQp6K6j66npr6opaaAjp6eiquSkomBknpwhJidh3OMhnOdhphykXR5gnWFjKmGhW5yeIFspoGMiZV1enSHeKCAa4JudY19b2mfbX2MbXFjdJCEcHeQf3yOlH6Jg4Sfa4WFmmaEd3Bze6GkonZxaW1zcIl8aG54cYl6fXSJh2Z+kJp+hoKgh4uujoyGjrKAgZF2XY+fqpibkbF8fIGZbI+So7KVfmp8epminZ6VmZiWl4amq4Sbo7Omq5SjvomalX6PlZGRmZCfqsaljoGaop+ToZWfiYZ4kp2Kg5eVcn+gipJ6iaeOe5Gkfn6WnIaEeHVxj3+FYGp4lXeKZ4uYc313iqKBbYJ+foeEj3uCfHeNe4dle1xyiGhqe4+ncYqFiZuqk4t7hXpobWhzgmN+hHZ/jIiLfHV3gIhqYmySiXxrZGtoYIGFiH19nZmGjIiFio55h3V0mHGJjauQhH6PgYVhbImPnKVua4y8hW9ukZKrp4magYarorW7mJmhnZh/jqi1m6eUZHiXnI2ejqSlsougo5uojpmPiKOMkpp0gJiDh3qPkneMjGyEnJeFeJCJsJSeoVZwepSQkYR+VoOObnd+fo1vcnWVeXNrdXB1dnCFhYNxdH2HnpeCc4J+anxfgnF8b4Z9f3N6iGV7W25rYn6EdXJganlrbn9iZmeEjW5xf3hZjn2SfWqAlIVpi4qenn59j5Kfa4R+dWuRWH6Mj4FwiJyUmIF1gIGGjI2Ig2xTfnicnJd3gI+DmqChmI6ZeaSgfpKgoK2Pko+NeYqrlJehq5iFjbapmXl1iZSah52ElH2BgKCQenyKn4ycgJesgZyOoJ6njHyRem5cdW6OkYt0cJJvgH6ClZKFfKeEbHJoUYaEa4J+e4VcgpWRZWOXe4ZUgo1sd5KQkntbfpSSin5th3lim2F7hoKSgo9ncGptcn1/dmd3YIOBeJuUfnJsZXWMZ3KagYqHem5og4B9ZG1tjp2KdpSBeXenfIV0X4qqi41/lIOXnJKXjnd7bY2eiI+Ddp18f4pudZOnl26ij4udkpqKuLSJhoKCj4qIhamfgoqGfpWKjqiHeJuHfIGZiIKdmaaCmIKUuKaNeZOUgWd9gXNocKaAeICRfZSomIaDlZZ7W2Fnb3p9mYeAiop0dX6ApHBsa5OZlkaFcYZgiX2CepqCeZChdmF4bZ95goWCkoSOfoN+jW9WQ3yQeWuWdH1smXyElJhzi4WEmIBrgIyDdXGGbpuHjoiMk5GYqpOnhYWFd4aLn6CddoaOgZSNhoCUi4ybfqSDk6mHe5mTdZGatKt+lYqejpOnjouDlYOHkJOdgHmJdZV1hIONlI6NhmqahImGnaKijZd0n6O8maCge4iCgY9qiIOAgHuXkoGfk4uPlYhtYmlod3GImY6eb3yLeF9xZmJ/eXNNepeajo+JlIuCe3xkeXVygmCDalx2eGV1h492Z4iNeYWNc15cc3d6eHJwb2hnYHSBgoGmg3Z+imd4inNzYHaAiYKIl4ShjIqhfHt1fKSYiIiRsYR7kn9+jmd8kpSGp6KYmHuHqouYlH54jIiYtXRvbYSNi51wdop8jnScnKdsa4aClJ6UhICObnlvmZV4eIKAi5hmb4KDfJJ9mq+crqGJnIeVfH6ChXR6ZmOBk358h4RgZXSCfXhvapWXf49zh4JtcHWFh3mIdXOKk36bemhrjJqBfoF3epCAXXR5dIN7j4WAaHd6kIV3VWpXbXNvdYh/aX90bW5ydZiAf5F4e3qRcY6CfnaElpKQlK6Kf4yAjZl8haCKfn+Aa4dxhHNukF59d5GXhamBcoJvkYVxcoebgYB+o5yIdoqVmZaFkmyRj6eimHN+iHiafY+ddWp0eG2PenmThXWGl3N2f2R7gXmMlZu0ppSJgqKWnJNvUniGeYyCfHRyd1tRhXNga31rf3JiemN5hIhwk5Z0eoubnZ+ObHh3fn6FhoeflGF3fXF5hohyi3Z4d36BnHCDgmNgWIRkdm9+lH5odn1kbXp8aWlxg3l7dodsrYCLn4aYi5GTq5Z9dZWcmY+CmopsdZeUn3qGep95aHKMhYiFgJh2jIyNk2tzgK+pZpN7jI1+n5aekI+PhZKDg4apjIR7cnuOo5uJeHKEZ5eMeol5l3+cknmAelOAnJ+Qk820oY+epqWagoZqj4pqbHqIfIZidoOOa4uIcHmNjWKJcHuOXYOQjZGLm3F/kn2Oh3l6ZoKHcINkR3VtWWVwiXmKb2l2bXmIknR7anJvk5R6boyTkoV4jnRsWHeSa5GGgHd5fnBpgIaMiYZqnH9xtHJ0hJCakG51e2qDeImdjpB/lnx6fHKBiYhhcoF7eXqNZo1tcohphI56eKCNmImNi5KSiJOOlI2ShJZrYpiPfoRuiWlagmhifY+KZHpre3OWjniXo6Gulomrv4qTlJZ2iXaXkYSGlHeMg3+Vb398gnV5cYuVZ4eLh3t3kJ+ugIKeZXSAXoN6m3Z3eXCHjVVejGJxZVZ5fHp5b211d4V/gG5yUIKYmIGDroSGmJZ7hmmDfJh3h316g4WHhIiMnJ6Ci1p6k3qne29+f6aRemB+ZW9rmqV/h6iad4F3cG2MqIBnoIR+lYKYlWdslZR3j39wpI6Lf3qMjH9qjmJriJF2c2VmhIZ4cIWldVSHdIeGgnqRn3yccG6JhXGamaKlmMm3mqefl4t7l5yVeHx2haFic4JQio2OmXJblaV6gH59eIR7gZyCfrqjbY1xZnxlbWmHcm+IgoeKcH6FbX99e36FiHp5gYiYc5Fxb4uEi4FwVoJ4kIGJXXBogXSPfod7bHNjcXJykWeLc4F3f4NziJhufZBzZIWIeoJzdXWFjHaEc3tyjoR7g3d9j6aMgqORflqBooaSeYmQgnNjj46bfHFwfW6Fk2lje2JhjINzdoZyXnOZg4J/aYBqcYhyXIh7gp+osreil8XJscKql4+XlX+DZHZ/YV2YbWaQiZ6XdmqSlop0dX96hnt7bXWGk4OAg3RbV3RljpF+ZGhogqCDhWSIgntoZI51e4V3b4aCqJN7fn9xhnZ5f6OelXNqeVZ4Z5N9gZVsenh8iH18cXuPrIaIjJSAdnqAn2eGfVlukYBafYN3lpubkot7kYxwfYKbkYh0lmqam4aSaI5njJSOiImHnoKJjp6Jb4yYhmZobo5wZm1qZYKOUnp1Y2dmdWR/foFsgn58j6Gju6+ilavKrL+pmY+amJKHdWtvc4p2fHZuknuMV42PloZ4b2xXbW1uf5uOXpt4dmNdhnN7h3hdZ3p6n3Z5XXhthYyDaIJwdJ6IgYZ7bl9KWmmQeHh/knFXfIyGhnuFhG1pimeWiqB/c4GAlH+Qj5iGdXuIfW+So5aEYGGNeWRug5qgpp11kHSUb257YoFpfo6BiIt7fYB5nHuGk5OLiXuQjXiIgI1igYGPnXKAcn95gmBrkYdXgnVSaYGJgGZ5b2Z/gpeRmpKKpK/H8NLG4Luxi6WZnoGYjZuPl4WSbG2AepOCgIF3dXiHdIWUiYuOdnGEfHZ3iX6QXIB8VG5pd42BdHOVjZFxcYOQmnB7e4R8jm1eeWBfdpGEdGl/enxvWXlyXH58kpB8bX18m3+Od4d4lZOVf4eDlpqMc3uFqnN0coxxcXqDbG6HfpSpcoeJeWd7gJCUsZ6Zknpwd5yQd3FwlZB3eIdxeZ2bqHOGeXh8c3WFgn2QhW9+cWpvhINuXHyAfIJ4m4Gfj398loSrp6rUqNnvup+0opV4eXSKfmCCjaODbHKObG52j4l0jn9zj4yBaYCBe26Ea5+ReX59iZBqdll6eG9fbXWOdn2NjXV2dHiWnZ5ufE9wf294gopRbWxrenhodXlpfXl8joOXkIOGbXF5f3iSZ4mFmXJlnH+KaWuIi5B/nodsanWThpFcc5erq5lxfm53n5SBj6ibk4h/ooeDdHKTiKV7b4eJqYmSlohRaXFwZn2khWqJXmiGfJB+en99oXKKf5Sbe3eNdWCNhp+nvNmt3uXMvcCspKupnJiGaV1ehoxpd4NveWRqlnNKbnaEWXqCn39rdXyKm4SaiImGjHCOYHeBZIeVfnt5fJF8i21rZ4OAkWZxd2h5ZYiBinqFan2NcHqEeJyJbVR/dIp2k29kaGNkd2SChHd9Y3OTknt4b3+Lf4Bpi4WKb3t4nIZ1g491jImWbWGFfndvlZR/jH6KaWpxk6iNjm+KlnpvTX16m3qOkaB+iZGjgJKQlZGkf3WYnp6SbIB8fJmZhZCcbombcYKwsKzA1M7L1c/Ks6axiXyNimZ4mImBg3B8Z3mGgE56gXJ2mn+RiXR5cnGLd42EdIOGi5Jfb3FmgnFzdImDiIZwiY2hfXp9Y4pydG9lco+fhoiMcIZ0eot6oH1neXx2ZG2CdXt2X4NyYGR+dYuQg6WTbGKHg456c2t4j5KCkmJ0j3tzjZyDgpl4ZIx5gomLj5eImW1yYHCQmquQcHqJaFxsYX+Oc2Z8f3xgfYWGh5CHkoZlbpCIhYN8hYqFl4KHkYdqhWt+lJ2St9zK6uvm3OPQwbaXYYSOl4eBcWRja3mDhHuVmpl4ZI+OfHmHcFx0f2ldX41ofWF7glN1YmBkXVhof3p8i3dpbo55fHlfdodjcGRxjJRyaGJygXh+Y2BbdnirjWZqa3KThnR4iot1eHBuhYt3hG55foiKfWmGhHGAjpCDdpmrrGt3hXp8kZF5j3+GiI1mZJKCYG5waJKVl29xiaiBfaGEmGVZdXl7fFxxb3CBdFSHlnmFoYJqhYKBj3p3bYuGiXFqVpWVpn2KwaTp+svevMjMvbuKlYl8kGp6joSMhpOUioyNiZ+JYYaFY3CUfHlhZIlehGtraH18g6CGWltsamdqhoN5Z2BYdW2FiYRwcmqDj4GYhnB3gm1jfIKAkHh6got5iXeShpuCopaDfpN/lXhWj3xmbnCEgJZpYoOKcX6XjYeQmpGhdmqBe3qCl4OQZ1d/j3F+gHJvgXx9fquUg5B5eHt2em6KcGiQhG+CZYl9a39ucnmHg5mTiG15d3aIjYh5pm59jJSGjZKTenRok5rCyc7pwb25mZ2IeomFgm+YjH+fb21ei56RiWR2hH9yjHZ8lneIdnqGb2x6nIyVfmFbYmV7dZJxhXJqYldrcYKDkXReZ3uEeoeEaWqqfoqOk4qVYnB6jJGElYRuhICaoIthfWiSaWV3XmdwfYGFmoh2j4uDh3pje5WfmZaDf31zbHOHon+Oj5+DdYh5qW9sdnyXjphxj3R2gmOGaXNXgX2BlItVjGhxVGdwfoFefYuBdWtukISPgIaQfo98cH2JonZmeIqanLLFxPDVwK6sr66sfYiNjIugnXp6gX1uin57f4d6io2TiJN4fZuMeYd6eJ6xk459X2l+gGFBfINqkWpURn+Scl93eIFokHKWgnheap15dVheWHuEcIF/iYl+hZSYgYJ4a31+dGtldIyHg2NkdYaQlmldgoCjhmyCjHWFdHeLgn2clnSZnZ1yk3mheoZ+eIt6i5ORgIV+WISjhWh+kHCekHKLY25/eXFycHRvjH91eXVsgodzaJWNZHhtbYiDd35nZneTn7SXn6mg3v3Z1Oe6sqmNoYiFeYCRhoNyd4iJo3Z7iXGMm6eod0yYlo+EeFeMkH6djmiCcIBxf4qVcnCIiWplfX9jWXpkfnCUYmx3fHtzeYBwhWZ5h4OcgXV6foSBgoGelYBqbX5kbG+AdXmTg45gWYiKZX6OmZ+CZoaDVouJjHKBeH53jZiafnyUhXORhnJjZ3Z1fJZxkX2Sm4l1ZYCFZW2EZnF0ioV/aIJ7aYODj2d/hnhzh4V2XYhsZYCAbG2EiV1ig3qQhYqXlKbH1NHf1c2pr5aYqHeKf4KLgm2Nc5eYfGV0dZajn6SHZneGbXeAZot9c5V9kH5ljKWBoH98W3eDcW5nkHNfaGuNcZmKdnyXdnGShXR4a4xkbZByaV9ie4JzbIeFeHtrX2p+X2GDcod1bX5miYdfd32DkFlpmZl6lHl5e4WMlmyDcpKJf3CPd6yOgo+Chol0g4t3jJmIjYNobI53dH6JWoaQaGxjh3aAeoWPfZaIio6hlHl7eIBufpCEimVobnB7d5BhdJmilLHMwcvGubu0p52wj4CKeoGgjH+EkYBlX2xphJBtf2Ngjmh0gYRwend9iIihkH+Re2iGnH1nXIOEgXBwfpeFaXlwh6F+jKB6cHWBf3dkbmlefldqgXGOjqWSkG6Ld4hxd4B2SXhVY5SEXGZ7koKAgW2BVYeUfpB8h5ZpjJKGXnl2fH50ipZ7gH94qYeHh59wf4x/god/Ymh3gHtraoh5lm1whXCMkYxXa4SLiYyKmoVsho2cjHGIjnJshF54fmxqdVaGlZSXkbG1rrjF27aEup6Thntae5V7jYl7Z1Z5d5SicoGlboSGeoNeQ2lrdoR+d4uJkHpmY2p7amB+noWPf3N1fmdBd4F0eWR5opurboNybX18Wnpubnd1bmyEmIWMkIN3eHOLk2uNiIh9dnZ1iINvi2x1kZxxkG1hf4GYfm2NlX6BbG9+c26Ee3aEgXlwk22Mjml1d5F9eX2Lg5OHkpJ9gXZ8i4uNcnmEfXV0jZCne2tndoliiZGTepmbhomMfoWkem90ZF19jIOEi5CpwcbcxLG0uquqh3ujnpCPkY92coB/fI96b4JljoaqjYxodW2QjmNqfV54bld8hFhbaHF4kZeDlI56Y1yThINigIeDXId1YnZ6gnBKTGaFinGbeIN6hX6LflqXjmuQlaiFkH2SfnSYfXWJhXh7eph6boR1dHlrYJGng3V6a22FWmNqanWBiW+YoXSBfY+ObIWHfnh6h5W0iWVrc390iZN0aYiBd4GZjYV4f5aFcF6CZ3SKl5ycfH2Cp6WcjJFodHhze3yOlp2pq6K/tbfQoH+WkoCOiW2JfJB2jIF1dWOGeICciHSZjHeBf31xY2hrTlF0c4aOiGV0dHZxbXCBgn9NZnZ9cmKUe3lyhlV5kICCZW1wZlpPY558eKJ7cXN5dn19aWp3fVt2a316cH1/d310bnuIjnBqd35jkGhfhp6JeZl2c4R6ZI55el90hXuOkmdjgYSBgmtidX16kYCGYHdfZWyAeHqGd36EfZKZeYxkhIBle5Vyh3mTmoeJao2rlYJhepaDiWucgIZ7h4+Rk5ecr8CslJ6ndJGChWZwcnF2dXqAdYmAcHdui4eEl4t9fmhyeGhlc4GBiYl4bmFte36ThIWSkZNxeGpseJd0W2BtYGhmjntrVnBSZoV7mH6HjHtqbWuFj4p9hIqAgG5scYV7gIuAh4VolpCRcHprgnqBXpGSkXZnhXqEk4hpo4BtYYiQfHt1d3eLd5OMc3t5kn15dnZ7dYKZkpCLcYGJiYqFjo5wa2V5UnJof3l6g39mcIByg4mYjHh8e2puiomGeHSXo6COkJe4qJqsmJp/inh6b216mI2waJB6onpsiHmRjYR1foGKcoOKfHJ8eV12iHJ2YmuLhnF0cHugn25xhX1rjoxTWWh5iFKZkGNmjYx/lZ6PgJeRgXpvg3qHfoh8k3iOhaNthsCWeo6DbIObhY6DYWBlf4+fgXd7dmpnjaaMl3uNf2VsgYBxjY6OgZ1jV5uOfIWGbGiQbo1whpWklHGFe5WFfm91jm9pknJvhIeMdlSBiYJcf4htepmglo5iiHt+ZHuQmZGalYeXma6kjpSonqF/b4aNhHeZdoyDcHJufYOBcIyRZ26Kbop/Z22OdX6JZ4Zug4Gag5OBbphub5hugYp/b5aRjGd2fHyObXiLd3hplG6TloqIhm2ChH6Jl5Fsa3aNeJh/Ynd+hnhie3d4jJZ9cYl9hYRtgWloT3txdYN/j4F7fYSHiWxaZGxxiG5hfnh3dmqEjIZteU9nhZSMkZSNfHB3goNrdYVyjKeTg5OEc39xh25siG9qiYeKi5N9h2aGfnZ2f3xyhp6NhIqnipyliqKLpol1e41peXt3g4iBaIR7kIltn5KFbZF/f3txjYiGd3Nod3JsepmPjYlzmpGQe3Z/emaAlnyBVlhwdo1+b3GCcYqGe3qEl46Ef4SCfYGEZ3p2cJR6fGNdm4htblt6WHyFhIpykn5xjoV8TlFnbzd6hZl8hnltoX+MR1ljP3aIZnmFg351dYeThnyFc2J5hnJ9hY+AiIltfI6VlpFtjn6Wn3B8hJOYg39vhY+DcYF6ZnFSYnORgXp6YFWFjnh5hJeGmod8cmqCnoSYhJd1e4iZiI+AmW2PhnmFZnORjItziIKOlodohHFzZmx5qZF/f1dpdolUeoltbHeAgJBpaFdyXH9uoXlqe4eejIWJjXeLmnqPgXR3XW1+gXZ6h5JpeY95cZB1iIqRiJOJhHtya2qHemRzWll0dWGGfImDbIOTjJWLhWJWY3pukmpsZnxrkpiPant5e3t+lIeMgH6VlomEpoFaeYlvam1thZaEVXJ4fnyGkod+jX9zmKyCbo9pTIGhj3mAq4RrmaePgneHj418i4V+oIN9hXiBhHJ0aImZeHyUhWNzZXRvZYRwZEllZ3F5ho9+Vpl4bU2QoY5/g2d9ZW1ubX2NipGmhHGIfX98gnZUYoV5bHqOcnNxeG11gpmim3d6mHuBjICMap6VlXJ1eHt1Znd0lm9igXxvfpWOm6SHeot2hHp4fmh3i4OKjnFSa3SInY6BdFqOXX15h4CAfmyUs4OEU2mKeoV1YH5pYJNuhoGWj4RvmYpwUk56oo2Li1ljZnKFhJWSkWymrJWLe5KhnIqSgHaHfI5tfIFvcpVxhnB2dXmGeHFufFxqWYeGcXGTiX1idX+WnIGKkoWNdn55bXZzhHhjgnCFhZNub4WEfIKLYIBwZ4dwbJyGcXaDc32Nl22JgXuNcWVUe4yJW3+SlXmFc42Gg4N4lHRxdG6WnYGjpYaUi2WDfYmTfYR/h3NvdmxjnnN+j4NzkXJjfXh3R291goyWdW1kbX9hen9ogpGFgXGFYYV1cmtZdIqAdmKBg5qFbHaDcndtjFuVgJqJjK2siG9slZBkYnJhkIeAa3qIgmRxbFpoa29/bXd0dFl8k4NuZrGSa2V8gmGLc5qGf4yBiGdcfouMfj6AcXmFl15id3qPiIZ6lX9id1xxq6GIaGl3hntpfXd+eYhdaFlzf5eGgpOQinyOhH9wkIJdc4WSf3t9h4h+Z36Skoh5iqduaXFyZHmBg5ORb4eUd3Gminh2mH5ncYGCdIWCdYxmaHqDgV+GlW1oipZzcYpseYeOeJOUfHF/cnlje1eShJp9coKVfJmDiIt6c3SOkXJvhXB2mXt3nIVmcHGCbXt3a4t9eV9ic52Ab3pvmHt7c3yAcXCJfGBmp7KYiG+GfmyBa4SAgoh9fF14gYePgHdxh3p3X2ySeHF5gWqJk5OigX93iFtuc3ajg3p5koSSZWaAgoCdjXGHb3t3jnCLlHmBZGOYiHOWaWOCglyAenWVfpmNoIh7lZWJbHyMf2qJdmNbiZp1h2qBil1PgIehhIiKdWB9oYRyhohtfWuJd3h4enGXbpV2UH5ljpR7jHmQl4GJpqWQal6VjaWngGdzWJRkbHWOe4COmJN5eWJnknZraHqIiG1jX4KWiIeAlJyQmpGFdmaOlIV9jIiSmYx1lJt2ioF9dIZ2YoWHj31+goeJZVBjXY2DjZJ6e3t5kamYZXyQkXNXh3VedntyqoyBem6Kd297hZmVZY59fZV3h6N9WoiBin6Wk2tda3SRkZF2dn2LbGxnbWyOdot5dGRrV4RUc2R4gn2BhIewfG+Jb4eBbIGInIKKfp98ipV2nHZgd3WKhH1uc4GAn395aGGBmZ+OnoJnhZdthYJsYGWNkGZtcYCUXW9fiIxhVoZ7bnZpdJGTjG9heYKFfHt6fX2Ei4yRjHOHglKCeIVxgpyBj3iHfGN2aGRsiJSBjqKRen+Fh5CepJ2QfZSMoXpxgXx3hIemiHuSeWxXd3mEeYN/kYqIiJGChp5xknOEcX13hntzYoiEkaaFfHddlHF8gpB/j3Z+eplneXiFjaCBho2Bf5SMn4GNfHFVjnuHeICNk5iUiHVqb36IdZhuaHKDgaBzi491jIGRh3OCcHN5i2RtdHCDkZySenRuaJBre1pygHxefXh1enR4bIGPeoaHe3t+iG5nd4Oje3+CgYZze5R+mnh7kpaDZWtvaHd0XGhpjIqAk359dHJxbl14cp6Qi3WYgX91fnyFjIxtbnpcaG6Iiot+bXSIdYSKkIZ0in58ZGxnX2uIeXRniIuIg2hwd4GQanl3cWSAjpd1V1hoo4N5kpKYi4x6jZGgjZ2JelaagWh8eoWAin+HjoV7hYeEcot5kadxgm1vjXxylHyOk21zeXl8dH6Bh3aVkpZ3eoJwkXuFeXx9UnOWg4CNXnp4hpiOp5R+bml5emJvoIR4fot7gYZymYuCi3uHg4N3XnR7inthiW+HeWVqlo2KkHd4aXN2n5OLf3OCiI18nYuHa26DiUWGX32WkJSWoZaYf3+CkHWEioV5fYFud2x5jX2eloWYjZmXgYGEbGVxdpiUhHSIb5COgmtzXY6XlYqFjHtoboWRdJOhcIeNV4OOe5KMlXdvZZ2RgYV4YFqGbmpzgneVjHKQf3SBiGh0aXqGdZRtmHWrhISEbHB5aYF4f4pYe5GGdmeIb297la1zapBiVYOXgHOHf32Mo2aMo4qXhWyEi5JkcWx2fGd0h32Cb4GIfHuTbmKGc2mIjpF5gmVofHiBeYt1fn6Ff5hrWXWIoHF3hIF0c39jb3pzZ2SFfWV8fHyDdmyif4x6fnFefXxvcGdqhoFyZIptjIV9X3xyepqffHZ5fIKGjZuGoHp9d4BlfnWFhZ2ijHVui5uIj3h3e35ienJripOCZXSMenp8em+NdnOBb3iHgKGIfY5kbm5aiHJxkHGIk5uXnp14eJecanlRfl9meX9iZpZ9gIasdo6LkpSHiJWHiIiJg4GOg3dfdXqBhXJmhoWQhYFwdaWMg4d2iouBcnqQinNfbZiXd4uXipekeH9iZmeNiYWLknGOhIVrZ3yAdH15bHCTmXZub4Cbh36OcXaNdXt9lZR+ioKIpW2OmoeMc3GAiYKSgZBkeH+bfW1rbHVxjH+NcoCImYlldnZ9ZoBxd597g6ZmjpR1fZhcdYuVg5lyiHx8hIKBbH+ZemF/fXFWUlt5l4uSm4xMfn51dmiefIKWiGZtiZWKjnN0c3F8joJtdJ+SfnuBhp6Sd2x+inlmVVaFcolrVXVbh4KEgHmccI+Mg5KSmYmJa3iDnLSXqaBxb3d1hVtshXl3coV8aHB+c5Fwfl+MhI17fl+Lb3KGmJN4c4pzmYiHfnB7hYSKlIyfb5GWiWp6epODd36Fe52bfHd8ko+4d3+Bp4GFlniBY5B4fGmctYOKh4uciIWGc29ndHSeeHeJgZKKfIxvaIx5Y2x4ZXJWWXJwgH99llSTkXCOiop9b5RvampqlZFyU3VhZYd6bXZvc3CMjHdxin9rbYeJeI+BgItxgnxpVHCNZ2qBcXyTs4h7dXVvdpKdinR6eLebhW5eb3qKfXeWZ290g4x8fpeNjINtZYRnfHShipdzeoKck4VwhmZphH96fWyQoKWUbomAk5VweoNziIiWdl9xem9+dXV9gZmOiI2Ien6kepN8d4yEZ4Z9fHZuf3uHfXFya3dpibGDYHBvjZJ5gpmGd3VeipxkcoSBgGZfcHh2b2p3X4yRhH9/fH1qXm6Vj4F7gXZsknpqfYCPfHRzd4OSkXR3lY1+ioVwe3VieHuYeYKFdXFrfoiskHh/hWp1iYd/kIxhfaGdgoqLZXqXi6BueGB+dYyLkXyIY4Ggf3KTkqWOcZR/dmtpe3WfdXZce31ybpCTi4R2j2tieGtqhJJ5g4iEdX6Bc213a2mQnoOWelhwhoSBoZaChIOIcHNoYHFzaXuIdp9jdHp1kIVniH2Nl42Fn4CFdnmZmpxufJGwb3ONY4CLcoF6nI6MgnF4hoBce4ipg395cYGflG18iHl0kpKChXmJiHlzdoxef4WNdFx8hIuPcZeXi5eXa4J9hXZecoeRemlnd19Ako53hYJgiZSSbGl5kZqCoJR2bW9vgY2EhZxsfVROiHZ4inx1c6iQg3J3cYlsgYV3fox9YnOHhHxweH2LkYChbpB6i3xvYoJ3fWlgeHeah4mCiJmJZ45tVXmAWnxegKFxdA==",TWI,197);
function bar(id,lut,h,f){var c=document.getElementById(id),x=c.getContext('2d'),im=x.createImageData(1,h),p=im.data;
for(var y=0;y<h;y++){var k=Math.round(f(y)*255)*3;p[y*4]=lut[k];p[y*4+1]=lut[k+1];p[y*4+2]=lut[k+2];p[y*4+3]=255;}x.putImageData(im,0,0);}
var TY=[46,72,93,110,125,140,157,178,199,215,231,252,274,295,316,327,337,348,358.5,369,378,380],TV=[1,0.99,0.975,0.95,0.92,0.86,0.82,0.78,0.72,0.68,0.63,0.57,0.52,0.44,0.33,0.28,0.22,0.16,0.11,0.06,0.02,0];
function cbv(y){y+=46.5;for(var i=1;i<TY.length;i++){if(y<=TY[i]){var t=(y-TY[i-1])/(TY[i]-TY[i-1]);return TV[i-1]+t*(TV[i]-TV[i-1]);}}return 0;}
bar('cbb',INF,334,cbv);
bar('cbd',TWI,335,function(y){return 1-(y+0.5)/335;});
})();
</script>
</body></html>
